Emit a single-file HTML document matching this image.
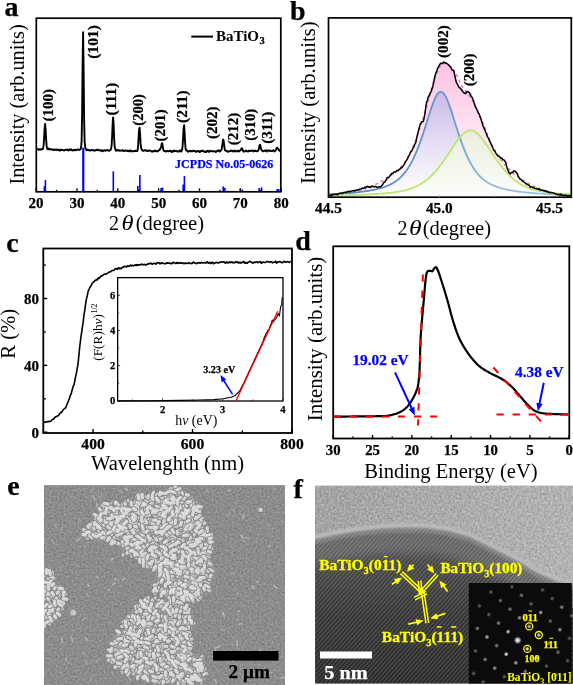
<!DOCTYPE html>
<html><head><meta charset="utf-8"><style>
html,body{margin:0;padding:0;background:#fff;overflow:hidden}
svg{display:block;font-family:"Liberation Serif", serif;will-change:transform}
</style></head><body>
<svg width="573" height="685" viewBox="0 0 573 685">
<rect width="573" height="685" fill="#fff"/>
<text x="4.6" y="16.3" font-size="28" font-weight="bold" fill="#000" text-anchor="start" stroke="#000" stroke-width="0.25" >a</text>
<text x="289.9" y="19.6" font-size="28" font-weight="bold" fill="#000" text-anchor="start" stroke="#000" stroke-width="0.25" >b</text>
<text x="6.3" y="252.2" font-size="28" font-weight="bold" fill="#000" text-anchor="start" stroke="#000" stroke-width="0.25" >c</text>
<text x="295.3" y="250.4" font-size="28" font-weight="bold" fill="#000" text-anchor="start" stroke="#000" stroke-width="0.25" >d</text>
<text x="7.3" y="495.2" font-size="28" font-weight="bold" fill="#000" text-anchor="start" stroke="#000" stroke-width="0.25" >e</text>
<text x="293.5" y="497.8" font-size="28" font-weight="bold" fill="#000" text-anchor="start" stroke="#000" stroke-width="0.25" >f</text>
<line x1="44.39" y1="186" x2="44.39" y2="191.8" stroke="#0000ff" stroke-width="1.6" />
<line x1="45.41" y1="180.1" x2="45.41" y2="191.8" stroke="#0000ff" stroke-width="1.6" />
<line x1="83.28" y1="147.7" x2="83.28" y2="191.8" stroke="#0000ff" stroke-width="2.2" />
<line x1="113.31" y1="171.3" x2="113.31" y2="191.8" stroke="#0000ff" stroke-width="1.6" />
<line x1="137.82" y1="186" x2="137.82" y2="191.8" stroke="#0000ff" stroke-width="1.6" />
<line x1="139.86" y1="175.1" x2="139.86" y2="191.8" stroke="#0000ff" stroke-width="1.6" />
<line x1="161.1" y1="187.9" x2="161.1" y2="191.8" stroke="#0000ff" stroke-width="1.6" />
<line x1="162.53" y1="187.5" x2="162.53" y2="191.8" stroke="#0000ff" stroke-width="1.6" />
<line x1="183.16" y1="184.6" x2="183.16" y2="191.8" stroke="#0000ff" stroke-width="1.6" />
<line x1="184.39" y1="176.1" x2="184.39" y2="191.8" stroke="#0000ff" stroke-width="1.6" />
<line x1="223.19" y1="186.4" x2="223.19" y2="191.8" stroke="#0000ff" stroke-width="1.6" />
<line x1="224.83" y1="187.7" x2="224.83" y2="191.8" stroke="#0000ff" stroke-width="1.6" />
<line x1="240.35" y1="188.5" x2="240.35" y2="191.8" stroke="#0000ff" stroke-width="1.6" />
<line x1="242.39" y1="189.5" x2="242.39" y2="191.8" stroke="#0000ff" stroke-width="1.6" />
<line x1="259.14" y1="188" x2="259.14" y2="191.8" stroke="#0000ff" stroke-width="1.6" />
<line x1="261.59" y1="187.3" x2="261.59" y2="191.8" stroke="#0000ff" stroke-width="1.6" />
<line x1="277.12" y1="189" x2="277.12" y2="191.8" stroke="#0000ff" stroke-width="1.6" />
<line x1="278.75" y1="189" x2="278.75" y2="191.8" stroke="#0000ff" stroke-width="1.6" />
<path d="M37.1,149.06 L37.6,149.03 L38.1,149.19 L38.6,149.89 L39.1,149.72 L39.6,149.12 L40.1,149.4 L40.6,149.68 L41.1,149.54 L41.6,149.11 L42.1,148.99 L42.6,149.28 L43.1,148.15 L43.6,145.12 L44.1,138.34 L44.6,128.69 L45.1,123.86 L45.6,129.5 L46.1,139.08 L46.6,145.63 L47.1,148.61 L47.6,149.17 L48.1,148.57 L48.6,148.55 L49.1,149.35 L49.6,149.59 L50.1,149.18 L50.6,149.03 L51.1,149.22 L51.6,149.14 L52.1,149.77 L52.6,149.79 L53.1,149.47 L53.6,149.99 L54.1,149.84 L54.6,149.55 L55.1,149.77 L55.6,149.84 L56.1,149.45 L56.6,149.46 L57.1,150.24 L57.6,149.77 L58.1,149.63 L58.6,150.14 L59.1,149.69 L59.6,150.27 L60.1,150.7 L60.6,149.75 L61.1,149.55 L61.6,150.09 L62.1,150.02 L62.6,150.06 L63.1,150.1 L63.6,150.11 L64.1,150.57 L64.6,150.17 L65.1,149.81 L65.6,149.88 L66.1,149.86 L66.6,149.65 L67.1,149.45 L67.6,149.75 L68.1,150.2 L68.6,150.61 L69.1,149.95 L69.6,149.37 L70.1,149.97 L70.6,149.61 L71.1,149.28 L71.6,149.85 L72.1,150.37 L72.6,150.61 L73.1,150.13 L73.6,149.81 L74.1,149.83 L74.6,150.39 L75.1,150.33 L75.6,149.77 L76.1,149.99 L76.6,150.02 L77.1,149.83 L77.6,149.49 L78.1,149.48 L78.6,149.61 L79.1,149.85 L79.6,150.01 L80.1,149.39 L80.6,148.95 L81.1,147.55 L81.6,141.04 L82.1,115.16 L82.6,63.36 L83.1,32.16 L83.6,67.85 L84.1,118.04 L84.6,140.87 L85.1,147.03 L85.6,148.54 L86.1,149.12 L86.6,150.32 L87.1,150.2 L87.6,149.47 L88.1,149.88 L88.6,150.28 L89.1,150.23 L89.6,150.07 L90.1,150.37 L90.6,150.62 L91.1,150.13 L91.6,149.97 L92.1,150.32 L92.6,150.04 L93.1,150.13 L93.6,150.21 L94.1,150.44 L94.6,150.77 L95.1,150.52 L95.6,150.29 L96.1,150.24 L96.6,149.83 L97.1,149.54 L97.6,150.26 L98.1,149.97 L98.6,150.13 L99.1,150.25 L99.6,150.23 L100.1,150.51 L100.6,150.53 L101.1,150.82 L101.6,150.13 L102.1,150.47 L102.6,151.37 L103.1,150.98 L103.6,150.46 L104.1,150.44 L104.6,150.23 L105.1,150.6 L105.6,150.73 L106.1,150.38 L106.6,150.3 L107.1,150.12 L107.6,149.96 L108.1,150.5 L108.6,150.81 L109.1,150.68 L109.6,150.67 L110.1,150.06 L110.6,149.71 L111.1,148.81 L111.6,145.48 L112.1,136.97 L112.6,124.45 L113.1,117.38 L113.6,123.9 L114.1,137.25 L114.6,145.92 L115.1,148.58 L115.6,149.85 L116.1,150.85 L116.6,150.43 L117.1,150.02 L117.6,150.32 L118.1,149.89 L118.6,150.33 L119.1,150.88 L119.6,150.7 L120.1,150.5 L120.6,150.63 L121.1,150.71 L121.6,150.54 L122.1,150.38 L122.6,150.07 L123.1,150.81 L123.6,151.03 L124.1,150.72 L124.6,150.87 L125.1,150.66 L125.6,150.52 L126.1,150.85 L126.6,150.92 L127.1,150.69 L127.6,150.79 L128.1,151.19 L128.6,151.39 L129.1,151.16 L129.6,150.79 L130.1,150.26 L130.6,150.72 L131.1,151.43 L131.6,151.1 L132.1,150.97 L132.6,151.25 L133.1,151.33 L133.6,151.36 L134.1,150.97 L134.6,151.13 L135.1,150.87 L135.6,150.64 L136.1,151.11 L136.6,151.03 L137.1,151.18 L137.6,150.33 L138.1,146 L138.6,137.66 L139.1,129.57 L139.6,127.72 L140.1,134.5 L140.6,143.67 L141.1,148.15 L141.6,149.02 L142.1,150.05 L142.6,150.83 L143.1,150.75 L143.6,150.8 L144.1,150.65 L144.6,150.22 L145.1,150.45 L145.6,150.63 L146.1,150.2 L146.6,150.66 L147.1,151.14 L147.6,151.12 L148.1,150.85 L148.6,150.54 L149.1,150.55 L149.6,150.49 L150.1,150.85 L150.6,150.89 L151.1,150.94 L151.6,151.28 L152.1,151.78 L152.6,151.26 L153.1,150.92 L153.6,151.32 L154.1,151.05 L154.6,150.64 L155.1,150.51 L155.6,151.16 L156.1,151.28 L156.6,151.07 L157.1,151.01 L157.6,151.32 L158.1,151.39 L158.6,150.37 L159.1,150.14 L159.6,150.11 L160.1,148.97 L160.6,148.19 L161.1,147.04 L161.6,144.4 L162.1,143.19 L162.6,145.34 L163.1,148.83 L163.6,150.72 L164.1,150.93 L164.6,151.01 L165.1,151.05 L165.6,151.33 L166.1,151.5 L166.6,151.34 L167.1,150.87 L167.6,150.96 L168.1,151.08 L168.6,151.26 L169.1,151.08 L169.6,150.72 L170.1,151.1 L170.6,150.75 L171.1,151.27 L171.6,152.1 L172.1,151.45 L172.6,151.24 L173.1,151.5 L173.6,150.48 L174.1,150.44 L174.6,151.21 L175.1,151.16 L175.6,150.85 L176.1,150.74 L176.6,151 L177.1,151.44 L177.6,151.58 L178.1,151.21 L178.6,151.56 L179.1,151.37 L179.6,150.77 L180.1,150.35 L180.6,150.88 L181.1,151.61 L181.6,151.14 L182.1,149.98 L182.6,146.13 L183.1,138 L183.6,128.13 L184.1,125.13 L184.6,132.66 L185.1,142.86 L185.6,148.77 L186.1,150.38 L186.6,150.58 L187.1,150.57 L187.6,151.3 L188.1,151.7 L188.6,151.28 L189.1,151.05 L189.6,150.72 L190.1,150.82 L190.6,151.43 L191.1,151.34 L191.6,151.02 L192.1,151.08 L192.6,151.19 L193.1,150.78 L193.6,150.69 L194.1,150.91 L194.6,151.25 L195.1,151.28 L195.6,151.2 L196.1,151.89 L196.6,151.62 L197.1,150.99 L197.6,151.14 L198.1,151.33 L198.6,150.97 L199.1,151.12 L199.6,152.02 L200.1,151.81 L200.6,151.14 L201.1,150.91 L201.6,151.06 L202.1,151 L202.6,150.57 L203.1,151.33 L203.6,151.39 L204.1,151.33 L204.6,152.06 L205.1,151.81 L205.6,151.52 L206.1,152.02 L206.6,151.8 L207.1,151.03 L207.6,150.68 L208.1,150.87 L208.6,151.72 L209.1,151.99 L209.6,151.27 L210.1,150.72 L210.6,150.85 L211.1,151.19 L211.6,151.28 L212.1,151.25 L212.6,151.4 L213.1,151.25 L213.6,151.14 L214.1,151.29 L214.6,151.27 L215.1,151.36 L215.6,151.94 L216.1,151.96 L216.6,151.41 L217.1,150.72 L217.6,150.81 L218.1,150.72 L218.6,150.17 L219.1,150.99 L219.6,151.6 L220.1,151.26 L220.6,150.46 L221.1,150.11 L221.6,149.35 L222.1,146.78 L222.6,143 L223.1,139.54 L223.6,140.3 L224.1,144.58 L224.6,148.48 L225.1,150.4 L225.6,150.54 L226.1,150.75 L226.6,150.79 L227.1,151.12 L227.6,151.8 L228.1,151.81 L228.6,151.35 L229.1,151.19 L229.6,151.3 L230.1,151.03 L230.6,150.97 L231.1,150.7 L231.6,150.37 L232.1,151 L232.6,151.37 L233.1,151.2 L233.6,151.56 L234.1,150.97 L234.6,150.43 L235.1,151.01 L235.6,151.36 L236.1,151.19 L236.6,151.38 L237.1,151.55 L237.6,150.87 L238.1,150.52 L238.6,151.11 L239.1,151.5 L239.6,150.59 L240.1,150.49 L240.6,150.34 L241.1,149.09 L241.6,148.18 L242.1,148.42 L242.6,149.44 L243.1,151.12 L243.6,151.74 L244.1,151.54 L244.6,151.42 L245.1,151 L245.6,150.7 L246.1,150.54 L246.6,151.34 L247.1,151.08 L247.6,151.11 L248.1,151.58 L248.6,150.95 L249.1,150.7 L249.6,150.87 L250.1,151 L250.6,150.98 L251.1,150.74 L251.6,150.81 L252.1,150.75 L252.6,150.45 L253.1,150.74 L253.6,151.39 L254.1,150.94 L254.6,150.67 L255.1,150.93 L255.6,150.63 L256.1,151.06 L256.6,151.19 L257.1,151.35 L257.6,151.2 L258.1,150.57 L258.6,149.77 L259.1,147.34 L259.6,145.1 L260.1,144.65 L260.6,146.63 L261.1,149.12 L261.6,150.04 L262.1,150.53 L262.6,151.01 L263.1,151.36 L263.6,151.09 L264.1,150.8 L264.6,150.57 L265.1,150.78 L265.6,150.98 L266.1,150.24 L266.6,150.55 L267.1,151.42 L267.6,150.98 L268.1,150.33 L268.6,150.56 L269.1,150.55 L269.6,150.88 L270.1,150.98 L270.6,150.64 L271.1,151.06 L271.6,151.05 L272.1,151 L272.6,150.93 L273.1,150.43 L273.6,150.16 L274.1,151.07 L274.6,151.49 L275.1,150.9 L275.6,150.58 L276.1,149.56 L276.6,148.1 L277.1,147.78 L277.6,148.21 L278.1,148.65 L278.6,149.7 L279.1,150.19 L279.6,150.84 L280.1,151.52" stroke="#000" stroke-width="1.9" fill="none" stroke-linejoin="round" />
<text transform="translate(52.7,121.4) rotate(-90)" x="0" y="0" font-size="14.5" font-weight="bold" fill="#000" text-anchor="start" stroke="#000" stroke-width="0.25" textLength="32.4" lengthAdjust="spacingAndGlyphs">(100)</text>
<text transform="translate(97.65,58.7) rotate(-90)" x="0" y="0" font-size="14.5" font-weight="bold" fill="#000" text-anchor="start" stroke="#000" stroke-width="0.25" textLength="33.6" lengthAdjust="spacingAndGlyphs">(101)</text>
<text transform="translate(115.75,115.4) rotate(-90)" x="0" y="0" font-size="14.5" font-weight="bold" fill="#000" text-anchor="start" stroke="#000" stroke-width="0.25" textLength="32.8" lengthAdjust="spacingAndGlyphs">(111)</text>
<text transform="translate(142.75,125.7) rotate(-90)" x="0" y="0" font-size="14.5" font-weight="bold" fill="#000" text-anchor="start" stroke="#000" stroke-width="0.25" textLength="31.6" lengthAdjust="spacingAndGlyphs">(200)</text>
<text transform="translate(164.8,141.4) rotate(-90)" x="0" y="0" font-size="14.5" font-weight="bold" fill="#000" text-anchor="start" stroke="#000" stroke-width="0.25" textLength="32" lengthAdjust="spacingAndGlyphs">(201)</text>
<text transform="translate(187.25,123) rotate(-90)" x="0" y="0" font-size="14.5" font-weight="bold" fill="#000" text-anchor="start" stroke="#000" stroke-width="0.25" textLength="32.7" lengthAdjust="spacingAndGlyphs">(211)</text>
<text transform="translate(216.85,139.1) rotate(-90)" x="0" y="0" font-size="14.5" font-weight="bold" fill="#000" text-anchor="start" stroke="#000" stroke-width="0.25" textLength="32.7" lengthAdjust="spacingAndGlyphs">(202)</text>
<text transform="translate(237.6,145.3) rotate(-90)" x="0" y="0" font-size="14.5" font-weight="bold" fill="#000" text-anchor="start" stroke="#000" stroke-width="0.25" textLength="32.6" lengthAdjust="spacingAndGlyphs">(212)</text>
<text transform="translate(254.85,140.7) rotate(-90)" x="0" y="0" font-size="14.5" font-weight="bold" fill="#000" text-anchor="start" stroke="#000" stroke-width="0.25" textLength="32" lengthAdjust="spacingAndGlyphs">(310)</text>
<text transform="translate(272.1,143.7) rotate(-90)" x="0" y="0" font-size="14.5" font-weight="bold" fill="#000" text-anchor="start" stroke="#000" stroke-width="0.25" textLength="32" lengthAdjust="spacingAndGlyphs">(311)</text>
<rect x="36.3" y="18.2" width="244.5" height="173.6" fill="none" stroke="#000" stroke-width="1.7"/>
<line x1="36.1" y1="191.8" x2="36.1" y2="188.3" stroke="#000" stroke-width="1.3" />
<line x1="56.53" y1="191.8" x2="56.53" y2="189.8" stroke="#000" stroke-width="1.3" />
<line x1="76.95" y1="191.8" x2="76.95" y2="188.3" stroke="#000" stroke-width="1.3" />
<line x1="97.38" y1="191.8" x2="97.38" y2="189.8" stroke="#000" stroke-width="1.3" />
<line x1="117.8" y1="191.8" x2="117.8" y2="188.3" stroke="#000" stroke-width="1.3" />
<line x1="138.22" y1="191.8" x2="138.22" y2="189.8" stroke="#000" stroke-width="1.3" />
<line x1="158.65" y1="191.8" x2="158.65" y2="188.3" stroke="#000" stroke-width="1.3" />
<line x1="179.07" y1="191.8" x2="179.07" y2="189.8" stroke="#000" stroke-width="1.3" />
<line x1="199.5" y1="191.8" x2="199.5" y2="188.3" stroke="#000" stroke-width="1.3" />
<line x1="219.92" y1="191.8" x2="219.92" y2="189.8" stroke="#000" stroke-width="1.3" />
<line x1="240.35" y1="191.8" x2="240.35" y2="188.3" stroke="#000" stroke-width="1.3" />
<line x1="260.78" y1="191.8" x2="260.78" y2="189.8" stroke="#000" stroke-width="1.3" />
<line x1="281.2" y1="191.8" x2="281.2" y2="188.3" stroke="#000" stroke-width="1.3" />
<text x="36.1" y="208.3" font-size="15" font-weight="bold" fill="#000" text-anchor="middle" stroke="#000" stroke-width="0.25" textLength="15" lengthAdjust="spacingAndGlyphs" >20</text>
<text x="76.95" y="208.3" font-size="15" font-weight="bold" fill="#000" text-anchor="middle" stroke="#000" stroke-width="0.25" textLength="15" lengthAdjust="spacingAndGlyphs" >30</text>
<text x="117.8" y="208.3" font-size="15" font-weight="bold" fill="#000" text-anchor="middle" stroke="#000" stroke-width="0.25" textLength="15" lengthAdjust="spacingAndGlyphs" >40</text>
<text x="158.65" y="208.3" font-size="15" font-weight="bold" fill="#000" text-anchor="middle" stroke="#000" stroke-width="0.25" textLength="15" lengthAdjust="spacingAndGlyphs" >50</text>
<text x="199.5" y="208.3" font-size="15" font-weight="bold" fill="#000" text-anchor="middle" stroke="#000" stroke-width="0.25" textLength="15" lengthAdjust="spacingAndGlyphs" >60</text>
<text x="240.35" y="208.3" font-size="15" font-weight="bold" fill="#000" text-anchor="middle" stroke="#000" stroke-width="0.25" textLength="15" lengthAdjust="spacingAndGlyphs" >70</text>
<text x="281.2" y="208.3" font-size="15" font-weight="bold" fill="#000" text-anchor="middle" stroke="#000" stroke-width="0.25" textLength="15" lengthAdjust="spacingAndGlyphs" >80</text>
<line x1="191.3" y1="36.6" x2="213" y2="36.6" stroke="#000" stroke-width="2" />
<text x="216" y="40.6" font-size="15" font-weight="bold" textLength="43" lengthAdjust="spacingAndGlyphs">BaTiO</text>
<text x="259.6" y="43.6" font-size="10.5" font-weight="bold" fill="#000" text-anchor="start" stroke="#000" stroke-width="0.25" >3</text>
<text x="175.1" y="168.2" font-size="12" font-weight="bold" fill="#0000ff" text-anchor="start" stroke="#0000ff" stroke-width="0.25" textLength="98.3" lengthAdjust="spacingAndGlyphs" >JCPDS No.05-0626</text>
<text x="109.1" y="230.3" font-size="20">2</text>
<text x="121.6" y="230.3" font-size="20" font-style="italic" textLength="12" lengthAdjust="spacingAndGlyphs">θ</text>
<text x="135.7" y="230.3" font-size="20" textLength="68.4" lengthAdjust="spacingAndGlyphs">(degree)</text>
<text transform="translate(23.6,184.6) rotate(-90)" x="0" y="0" font-size="21" font-weight="normal" fill="#000" text-anchor="start" textLength="160.3" lengthAdjust="spacingAndGlyphs">Intensity (arb.units)</text>
<defs><linearGradient id="gpink" x1="0" y1="0" x2="0" y2="1"><stop offset="0" stop-color="#fbc2e3"/><stop offset="0.55" stop-color="#fde6f2"/><stop offset="1" stop-color="#fff"/></linearGradient><linearGradient id="gblue" x1="0" y1="0" x2="0" y2="1"><stop offset="0" stop-color="#c8bae8"/><stop offset="0.6" stop-color="#ebe6f7"/><stop offset="1" stop-color="#fff"/></linearGradient><linearGradient id="ggreen" x1="0" y1="0" x2="0" y2="1"><stop offset="0" stop-color="#e9eddc"/><stop offset="1" stop-color="#fdfefb"/></linearGradient><linearGradient id="gbline" x1="0" y1="0" x2="1" y2="0"><stop offset="0" stop-color="#5a84c8"/><stop offset="0.5" stop-color="#6a98cc"/><stop offset="0.65" stop-color="#8cbcdc"/><stop offset="1" stop-color="#9ccbe4"/></linearGradient></defs>
<path d="M329,196.9 L329,195.79 L329.5,195.35 L330,195.14 L330.5,194.86 L331,195.48 L331.5,195.83 L332,195.27 L332.5,194.75 L333,194.27 L333.5,194.29 L334,194.65 L334.5,194.62 L335,194.5 L335.5,194.14 L336,194.04 L336.5,194.21 L337,194.45 L337.5,194.82 L338,194.36 L338.5,193.6 L339,193.52 L339.5,193.45 L340,193.18 L340.5,193.22 L341,193.04 L341.5,193.11 L342,193.25 L342.5,193.06 L343,192.95 L343.5,192.61 L344,192.32 L344.5,192.35 L345,192.36 L345.5,192.39 L346,192.43 L346.5,191.94 L347,191.86 L347.5,191.78 L348,191.51 L348.5,191.68 L349,191.22 L349.5,191.23 L350,191.69 L350.5,191.53 L351,191.29 L351.5,191.14 L352,190.9 L352.5,190.82 L353,190.83 L353.5,190.81 L354,190.54 L354.5,190.47 L355,190.7 L355.5,190.49 L356,190.23 L356.5,190.28 L357,189.84 L357.5,189.68 L358,190.01 L358.5,189.81 L359,189.68 L359.5,189.27 L360,188.94 L360.5,189.09 L361,189.08 L361.5,188.8 L362,188.14 L362.5,188.05 L363,188.56 L363.5,188.52 L364,188.13 L364.5,187.34 L365,187.39 L365.5,187.62 L366,186.64 L366.5,186.68 L367,186.86 L367.5,186.38 L368,186.53 L368.5,187.12 L369,187.13 L369.5,186.82 L370,187.3 L370.5,187.58 L371,187.07 L371.5,186.57 L372,186.24 L372.5,186.09 L373,186.49 L373.5,186.74 L374,186.64 L374.5,186.78 L375,186.56 L375.5,186.31 L376,186.74 L376.5,186.97 L377,187.14 L377.5,187.19 L378,186.93 L378.5,187.01 L379,186.9 L379.5,186.43 L380,186.82 L380.5,187.07 L381,186.7 L381.5,185.86 L382,185.15 L382.5,184.8 L383,183.99 L383.5,182.85 L384,182.24 L384.5,182.28 L385,181.73 L385.5,180.68 L386,179.96 L386.5,179.73 L387,178.45 L387.5,177.62 L388,177.82 L388.5,177.4 L389,177.07 L389.5,176.58 L390,175.65 L390.5,174.88 L391,174.48 L391.5,173.79 L392,173.15 L392.5,173.15 L393,173.32 L393.5,172.77 L394,172.01 L394.5,171.87 L395,172 L395.5,171.74 L396,171.57 L396.5,171.14 L397,170.53 L397.5,170.52 L398,170.54 L398.5,170.61 L399,169.76 L399.5,168.98 L400,169.1 L400.5,168.78 L401,167.86 L401.5,167.76 L402,167.68 L402.5,166.9 L403,165.97 L403.5,165.38 L404,164.67 L404.5,163.9 L405,162.92 L405.5,161.61 L406,161.06 L406.5,160.28 L407,159.53 L407.5,158.85 L408,157.47 L408.5,156.41 L409,155.51 L409.5,154.66 L410,153.54 L410.5,152.15 L411,151.59 L411.5,151.29 L412,150.59 L412.5,149.2 L413,147.93 L413.5,147.46 L414,146.5 L414.5,144.92 L415,143.93 L415.5,143.1 L416,141.51 L416.5,139.11 L417,136.52 L417.5,134.54 L418,132.48 L418.5,130.3 L419,128.55 L419.5,126.86 L420,125.07 L420.5,123.74 L421,122.78 L421.5,122.09 L422,121.73 L422.5,121.8 L423,121.63 L423.5,120.43 L424,118.64 L424.5,116.17 L425,113.27 L425.5,109.48 L426,105.63 L426.5,102.85 L427,101.28 L427.5,99.93 L428,97.88 L428.5,96.62 L429,96.1 L429.5,94.88 L430,93.31 L430.5,92.68 L431,91.83 L431.5,90.49 L432,88.84 L432.5,87.45 L433,85.97 L433.5,83.39 L434,80.82 L434.5,77.89 L435,75.75 L435.5,74.35 L436,72.78 L436.5,71.65 L437,70.24 L437.5,68.53 L438,67.65 L438.5,66.85 L439,65.69 L439.5,64.88 L440,64.26 L440.5,63.36 L441,63.31 L441.5,63.56 L442,63.22 L442.5,63.45 L443,63.1 L443.5,62.19 L444,62.07 L444.5,62.38 L445,62.67 L445.5,63.19 L446,63.02 L446.5,63.29 L447,63.64 L447.5,63.89 L448,64.54 L448.5,64.75 L449,65.25 L449.5,65.79 L450,66.32 L450.5,66.71 L451,67.51 L451.5,68.96 L452,69.92 L452.5,70.2 L453,70.36 L453.5,70.51 L454,71.96 L454.5,74.16 L455,76.24 L455.5,78.73 L456,81.05 L456.5,82.68 L457,83.67 L457.5,84.39 L458,85.09 L458.5,86.62 L459,87.32 L459.5,87.26 L460,87.97 L460.5,88.77 L461,88.94 L461.5,89.34 L462,90.51 L462.5,91.3 L463,91.75 L463.5,92.66 L464,92.97 L464.5,93 L465,93.3 L465.5,93.74 L466,93.08 L466.5,91.87 L467,91.52 L467.5,91.45 L468,91.8 L468.5,92.31 L469,92.3 L469.5,92.85 L470,94.01 L470.5,94.6 L471,95.82 L471.5,96.79 L472,97.16 L472.5,98.28 L473,99.51 L473.5,100.66 L474,102.45 L474.5,104.07 L475,105.77 L475.5,107.02 L476,107.56 L476.5,108.63 L477,109.88 L477.5,110.79 L478,112.11 L478.5,113.23 L479,113.63 L479.5,115.03 L480,116.65 L480.5,117.85 L481,119.31 L481.5,120.87 L482,122.39 L482.5,124.08 L483,125.67 L483.5,126.87 L484,128.18 L484.5,129.01 L485,130.14 L485.5,131.69 L486,133.01 L486.5,133.95 L487,135.49 L487.5,137.02 L488,137.45 L488.5,138.11 L489,139.42 L489.5,140.88 L490,141.8 L490.5,142.86 L491,143.9 L491.5,145.05 L492,146.06 L492.5,146.93 L493,148.36 L493.5,150 L494,150.47 L494.5,150.64 L495,151.58 L495.5,152.75 L496,153.48 L496.5,153.91 L497,154.89 L497.5,155.39 L498,155.72 L498.5,156.32 L499,156.45 L499.5,156.56 L500,157.29 L500.5,157.96 L501,158.27 L501.5,158.04 L502,158.23 L502.5,159.14 L503,159.7 L503.5,159.83 L504,159.88 L504.5,160.53 L505,161.29 L505.5,161.91 L506,163.23 L506.5,165.46 L507,167.39 L507.5,168.97 L508,170.35 L508.5,171.62 L509,172.6 L509.5,172.91 L510,173.77 L510.5,173.91 L511,172.98 L511.5,172.53 L512,172.45 L512.5,172.47 L513,171.97 L513.5,170.97 L514,170.8 L514.5,171.09 L515,171.13 L515.5,171.62 L516,172.14 L516.5,172.71 L517,173.22 L517.5,174.21 L518,176.03 L518.5,177.01 L519,177.48 L519.5,178.11 L520,179.09 L520.5,179.33 L521,179.34 L521.5,180.17 L522,180.84 L522.5,181.06 L523,181.39 L523.5,181.84 L524,182.2 L524.5,182.62 L525,182.68 L525.5,183.07 L526,183.92 L526.5,184.02 L527,184.06 L527.5,184.77 L528,184.86 L528.5,185.01 L529,185.28 L529.5,185.78 L530,186.86 L530.5,187.32 L531,186.91 L531.5,186.81 L532,187.1 L532.5,187.15 L533,187.71 L533.5,187.55 L534,187.61 L534.5,188.11 L535,188.38 L535.5,188.61 L536,188.26 L536.5,188.45 L537,188.96 L537.5,189.06 L538,189.16 L538.5,189.17 L539,188.66 L539.5,189.16 L540,190.02 L540.5,189.97 L541,189.96 L541.5,190.32 L542,190.32 L542.5,190.03 L543,190.23 L543.5,190.84 L544,190.68 L544.5,190.81 L545,191.14 L545.5,190.7 L546,191.31 L546.5,191.7 L547,191.19 L547.5,191.26 L548,191.95 L548.5,192.46 L549,192.25 L549.5,192.18 L550,192.59 L550.5,192.45 L551,192.49 L551.5,192.76 L552,192.66 L552.5,192.66 L553,192.93 L553.5,193.18 L554,193.13 L554.5,193.13 L555,193.66 L555.5,193.93 L556,193.98 L556.5,194.33 L557,194.36 L557.5,194.73 L558,194.48 L558.5,194.21 L559,194.43 L559.5,194.79 L560,195.39 L560.5,194.53 L561,193.95 L561.5,194.69 L562,195.22 L562.5,195.33 L563,195.2 L563.5,195.21 L564,195.47 L564.5,195.42 L565,195.6 L565.5,195.13 L566,195.11 L566.5,195.49 L567,195.64 L567.5,195.92 L568,195.53 L568.5,195.75 L569,195.81 L569.5,195.55 L570,195.46 L570.5,195.74 L570.5,196.9Z" fill="url(#gpink)" stroke="none"/>
<path d="M329,196.9 L329,194.38 L329.5,194.36 L330,194.33 L330.5,194.31 L331,194.28 L331.5,194.26 L332,194.23 L332.5,194.2 L333,194.18 L333.5,194.15 L334,194.12 L334.5,194.09 L335,194.07 L335.5,194.04 L336,194.01 L336.5,193.98 L337,193.95 L337.5,193.92 L338,193.89 L338.5,193.86 L339,193.82 L339.5,193.79 L340,193.76 L340.5,193.73 L341,193.69 L341.5,193.66 L342,193.63 L342.5,193.59 L343,193.56 L343.5,193.52 L344,193.48 L344.5,193.45 L345,193.41 L345.5,193.37 L346,193.33 L346.5,193.29 L347,193.25 L347.5,193.21 L348,193.17 L348.5,193.13 L349,193.09 L349.5,193.05 L350,193 L350.5,192.96 L351,192.91 L351.5,192.87 L352,192.82 L352.5,192.78 L353,192.73 L353.5,192.68 L354,192.63 L354.5,192.58 L355,192.53 L355.5,192.48 L356,192.42 L356.5,192.37 L357,192.32 L357.5,192.26 L358,192.21 L358.5,192.15 L359,192.09 L359.5,192.03 L360,191.97 L360.5,191.91 L361,191.85 L361.5,191.79 L362,191.72 L362.5,191.66 L363,191.59 L363.5,191.52 L364,191.45 L364.5,191.38 L365,191.31 L365.5,191.24 L366,191.16 L366.5,191.09 L367,191.01 L367.5,190.93 L368,190.85 L368.5,190.77 L369,190.68 L369.5,190.6 L370,190.51 L370.5,190.42 L371,190.33 L371.5,190.24 L372,190.15 L372.5,190.05 L373,189.95 L373.5,189.85 L374,189.75 L374.5,189.64 L375,189.53 L375.5,189.42 L376,189.31 L376.5,189.2 L377,189.08 L377.5,188.96 L378,188.84 L378.5,188.71 L379,188.58 L379.5,188.45 L380,188.31 L380.5,188.17 L381,188.03 L381.5,187.88 L382,187.73 L382.5,187.58 L383,187.42 L383.5,187.25 L384,187.08 L384.5,186.91 L385,186.73 L385.5,186.55 L386,186.36 L386.5,186.17 L387,185.97 L387.5,185.77 L388,185.55 L388.5,185.34 L389,185.11 L389.5,184.88 L390,184.64 L390.5,184.4 L391,184.14 L391.5,183.88 L392,183.61 L392.5,183.33 L393,183.04 L393.5,182.74 L394,182.44 L394.5,182.12 L395,181.79 L395.5,181.45 L396,181.1 L396.5,180.74 L397,180.37 L397.5,179.98 L398,179.58 L398.5,179.17 L399,178.74 L399.5,178.3 L400,177.85 L400.5,177.38 L401,176.89 L401.5,176.39 L402,175.87 L402.5,175.34 L403,174.79 L403.5,174.21 L404,173.63 L404.5,173.02 L405,172.39 L405.5,171.74 L406,171.08 L406.5,170.39 L407,169.68 L407.5,168.95 L408,168.19 L408.5,167.42 L409,166.62 L409.5,165.79 L410,164.95 L410.5,164.08 L411,163.18 L411.5,162.26 L412,161.31 L412.5,160.34 L413,159.34 L413.5,158.32 L414,157.27 L414.5,156.19 L415,155.09 L415.5,153.96 L416,152.8 L416.5,151.62 L417,150.41 L417.5,149.17 L418,147.91 L418.5,146.62 L419,145.3 L419.5,143.96 L420,142.59 L420.5,141.2 L421,139.79 L421.5,138.35 L422,136.89 L422.5,135.41 L423,133.91 L423.5,132.4 L424,130.86 L424.5,129.31 L425,127.75 L425.5,126.17 L426,124.59 L426.5,123 L427,121.41 L427.5,119.82 L428,118.23 L428.5,116.64 L429,115.06 L429.5,113.5 L430,111.96 L430.5,110.43 L431,108.93 L431.5,107.46 L432,106.03 L432.5,104.64 L433,103.29 L433.5,101.99 L434,100.75 L434.5,99.57 L435,98.46 L435.5,97.42 L436,96.45 L436.5,95.56 L437,94.76 L437.5,94.05 L438,93.43 L438.5,92.9 L439,92.48 L439.5,92.15 L440,91.93 L440.5,91.82 L441,91.81 L441.5,91.9 L442,92.1 L442.5,92.41 L443,92.81 L443.5,93.31 L444,93.91 L444.5,94.61 L445,95.39 L445.5,96.26 L446,97.22 L446.5,98.24 L447,99.34 L447.5,100.51 L448,101.74 L448.5,103.03 L449,104.37 L449.5,105.75 L450,107.18 L450.5,108.64 L451,110.13 L451.5,111.65 L452,113.19 L452.5,114.75 L453,116.32 L453.5,117.91 L454,119.5 L454.5,121.09 L455,122.68 L455.5,124.27 L456,125.86 L456.5,127.43 L457,129 L457.5,130.55 L458,132.09 L458.5,133.61 L459,135.11 L459.5,136.6 L460,138.06 L460.5,139.5 L461,140.92 L461.5,142.32 L462,143.69 L462.5,145.04 L463,146.36 L463.5,147.65 L464,148.92 L464.5,150.16 L465,151.38 L465.5,152.57 L466,153.73 L466.5,154.87 L467,155.98 L467.5,157.06 L468,158.11 L468.5,159.14 L469,160.14 L469.5,161.12 L470,162.07 L470.5,163 L471,163.9 L471.5,164.78 L472,165.63 L472.5,166.45 L473,167.26 L473.5,168.04 L474,168.8 L474.5,169.53 L475,170.25 L475.5,170.94 L476,171.61 L476.5,172.26 L477,172.89 L477.5,173.51 L478,174.1 L478.5,174.67 L479,175.23 L479.5,175.77 L480,176.29 L480.5,176.79 L481,177.28 L481.5,177.76 L482,178.21 L482.5,178.66 L483,179.09 L483.5,179.5 L484,179.9 L484.5,180.29 L485,180.67 L485.5,181.03 L486,181.38 L486.5,181.72 L487,182.05 L487.5,182.37 L488,182.68 L488.5,182.98 L489,183.27 L489.5,183.55 L490,183.83 L490.5,184.09 L491,184.35 L491.5,184.59 L492,184.83 L492.5,185.07 L493,185.29 L493.5,185.51 L494,185.72 L494.5,185.93 L495,186.13 L495.5,186.33 L496,186.51 L496.5,186.7 L497,186.88 L497.5,187.05 L498,187.22 L498.5,187.38 L499,187.54 L499.5,187.7 L500,187.85 L500.5,188 L501,188.14 L501.5,188.28 L502,188.42 L502.5,188.55 L503,188.68 L503.5,188.81 L504,188.93 L504.5,189.06 L505,189.17 L505.5,189.29 L506,189.4 L506.5,189.51 L507,189.62 L507.5,189.73 L508,189.83 L508.5,189.93 L509,190.03 L509.5,190.13 L510,190.22 L510.5,190.31 L511,190.4 L511.5,190.49 L512,190.58 L512.5,190.67 L513,190.75 L513.5,190.83 L514,190.91 L514.5,190.99 L515,191.07 L515.5,191.15 L516,191.22 L516.5,191.29 L517,191.37 L517.5,191.44 L518,191.51 L518.5,191.57 L519,191.64 L519.5,191.71 L520,191.77 L520.5,191.84 L521,191.9 L521.5,191.96 L522,192.02 L522.5,192.08 L523,192.14 L523.5,192.19 L524,192.25 L524.5,192.31 L525,192.36 L525.5,192.41 L526,192.47 L526.5,192.52 L527,192.57 L527.5,192.62 L528,192.67 L528.5,192.72 L529,192.77 L529.5,192.81 L530,192.86 L530.5,192.91 L531,192.95 L531.5,192.99 L532,193.04 L532.5,193.08 L533,193.12 L533.5,193.16 L534,193.21 L534.5,193.25 L535,193.29 L535.5,193.33 L536,193.36 L536.5,193.4 L537,193.44 L537.5,193.48 L538,193.51 L538.5,193.55 L539,193.58 L539.5,193.62 L540,193.65 L540.5,193.69 L541,193.72 L541.5,193.75 L542,193.79 L542.5,193.82 L543,193.85 L543.5,193.88 L544,193.91 L544.5,193.94 L545,193.97 L545.5,194 L546,194.03 L546.5,194.06 L547,194.09 L547.5,194.12 L548,194.14 L548.5,194.17 L549,194.2 L549.5,194.22 L550,194.25 L550.5,194.28 L551,194.3 L551.5,194.33 L552,194.35 L552.5,194.38 L553,194.4 L553.5,194.42 L554,194.45 L554.5,194.47 L555,194.49 L555.5,194.52 L556,194.54 L556.5,194.56 L557,194.58 L557.5,194.6 L558,194.63 L558.5,194.65 L559,194.67 L559.5,194.69 L560,194.71 L560.5,194.73 L561,194.75 L561.5,194.77 L562,194.79 L562.5,194.81 L563,194.83 L563.5,194.85 L564,194.86 L564.5,194.88 L565,194.9 L565.5,194.92 L566,194.94 L566.5,194.95 L567,194.97 L567.5,194.99 L568,195 L568.5,195.02 L569,195.04 L569.5,195.05 L570,195.07 L570.5,195.09 L570.5,196.9Z" fill="url(#gblue)" stroke="none"/>
<path d="M329,196.9 L329,195.72 L329.5,195.71 L330,195.7 L330.5,195.69 L331,195.68 L331.5,195.67 L332,195.66 L332.5,195.65 L333,195.64 L333.5,195.62 L334,195.61 L334.5,195.6 L335,195.59 L335.5,195.58 L336,195.57 L336.5,195.56 L337,195.54 L337.5,195.53 L338,195.52 L338.5,195.51 L339,195.5 L339.5,195.48 L340,195.47 L340.5,195.46 L341,195.45 L341.5,195.43 L342,195.42 L342.5,195.41 L343,195.39 L343.5,195.38 L344,195.37 L344.5,195.35 L345,195.34 L345.5,195.32 L346,195.31 L346.5,195.29 L347,195.28 L347.5,195.27 L348,195.25 L348.5,195.23 L349,195.22 L349.5,195.2 L350,195.19 L350.5,195.17 L351,195.16 L351.5,195.14 L352,195.12 L352.5,195.11 L353,195.09 L353.5,195.07 L354,195.06 L354.5,195.04 L355,195.02 L355.5,195 L356,194.98 L356.5,194.97 L357,194.95 L357.5,194.93 L358,194.91 L358.5,194.89 L359,194.87 L359.5,194.85 L360,194.83 L360.5,194.81 L361,194.79 L361.5,194.77 L362,194.75 L362.5,194.73 L363,194.71 L363.5,194.68 L364,194.66 L364.5,194.64 L365,194.62 L365.5,194.59 L366,194.57 L366.5,194.55 L367,194.52 L367.5,194.5 L368,194.47 L368.5,194.45 L369,194.42 L369.5,194.4 L370,194.37 L370.5,194.34 L371,194.31 L371.5,194.29 L372,194.26 L372.5,194.23 L373,194.2 L373.5,194.17 L374,194.14 L374.5,194.11 L375,194.08 L375.5,194.05 L376,194.02 L376.5,193.99 L377,193.95 L377.5,193.92 L378,193.89 L378.5,193.85 L379,193.82 L379.5,193.78 L380,193.74 L380.5,193.71 L381,193.67 L381.5,193.63 L382,193.59 L382.5,193.55 L383,193.51 L383.5,193.47 L384,193.42 L384.5,193.38 L385,193.34 L385.5,193.29 L386,193.25 L386.5,193.2 L387,193.15 L387.5,193.1 L388,193.05 L388.5,193 L389,192.94 L389.5,192.89 L390,192.84 L390.5,192.78 L391,192.72 L391.5,192.66 L392,192.6 L392.5,192.54 L393,192.47 L393.5,192.41 L394,192.34 L394.5,192.27 L395,192.2 L395.5,192.13 L396,192.06 L396.5,191.98 L397,191.9 L397.5,191.82 L398,191.74 L398.5,191.65 L399,191.57 L399.5,191.48 L400,191.38 L400.5,191.29 L401,191.19 L401.5,191.09 L402,190.99 L402.5,190.88 L403,190.77 L403.5,190.66 L404,190.54 L404.5,190.43 L405,190.3 L405.5,190.18 L406,190.05 L406.5,189.91 L407,189.78 L407.5,189.64 L408,189.49 L408.5,189.34 L409,189.19 L409.5,189.03 L410,188.86 L410.5,188.7 L411,188.52 L411.5,188.34 L412,188.16 L412.5,187.97 L413,187.78 L413.5,187.58 L414,187.37 L414.5,187.16 L415,186.95 L415.5,186.72 L416,186.49 L416.5,186.26 L417,186.02 L417.5,185.77 L418,185.51 L418.5,185.25 L419,184.98 L419.5,184.7 L420,184.41 L420.5,184.12 L421,183.82 L421.5,183.51 L422,183.2 L422.5,182.87 L423,182.54 L423.5,182.2 L424,181.85 L424.5,181.5 L425,181.13 L425.5,180.75 L426,180.37 L426.5,179.98 L427,179.58 L427.5,179.16 L428,178.74 L428.5,178.31 L429,177.88 L429.5,177.43 L430,176.97 L430.5,176.5 L431,176.02 L431.5,175.54 L432,175.04 L432.5,174.53 L433,174.02 L433.5,173.49 L434,172.96 L434.5,172.41 L435,171.86 L435.5,171.29 L436,170.72 L436.5,170.13 L437,169.54 L437.5,168.94 L438,168.33 L438.5,167.71 L439,167.08 L439.5,166.44 L440,165.79 L440.5,165.14 L441,164.47 L441.5,163.8 L442,163.12 L442.5,162.43 L443,161.74 L443.5,161.04 L444,160.33 L444.5,159.61 L445,158.89 L445.5,158.16 L446,157.43 L446.5,156.7 L447,155.95 L447.5,155.21 L448,154.46 L448.5,153.71 L449,152.95 L449.5,152.2 L450,151.44 L450.5,150.68 L451,149.93 L451.5,149.17 L452,148.42 L452.5,147.66 L453,146.91 L453.5,146.17 L454,145.43 L454.5,144.69 L455,143.96 L455.5,143.24 L456,142.53 L456.5,141.83 L457,141.14 L457.5,140.46 L458,139.79 L458.5,139.14 L459,138.5 L459.5,137.87 L460,137.27 L460.5,136.68 L461,136.12 L461.5,135.57 L462,135.04 L462.5,134.54 L463,134.07 L463.5,133.61 L464,133.19 L464.5,132.79 L465,132.42 L465.5,132.07 L466,131.76 L466.5,131.48 L467,131.23 L467.5,131.01 L468,130.83 L468.5,130.67 L469,130.55 L469.5,130.47 L470,130.42 L470.5,130.4 L471,130.42 L471.5,130.47 L472,130.55 L472.5,130.67 L473,130.83 L473.5,131.01 L474,131.23 L474.5,131.48 L475,131.76 L475.5,132.07 L476,132.42 L476.5,132.79 L477,133.19 L477.5,133.61 L478,134.07 L478.5,134.54 L479,135.04 L479.5,135.57 L480,136.12 L480.5,136.68 L481,137.27 L481.5,137.87 L482,138.5 L482.5,139.14 L483,139.79 L483.5,140.46 L484,141.14 L484.5,141.83 L485,142.53 L485.5,143.24 L486,143.96 L486.5,144.69 L487,145.43 L487.5,146.17 L488,146.91 L488.5,147.66 L489,148.42 L489.5,149.17 L490,149.93 L490.5,150.68 L491,151.44 L491.5,152.2 L492,152.95 L492.5,153.71 L493,154.46 L493.5,155.21 L494,155.95 L494.5,156.7 L495,157.43 L495.5,158.16 L496,158.89 L496.5,159.61 L497,160.33 L497.5,161.04 L498,161.74 L498.5,162.43 L499,163.12 L499.5,163.8 L500,164.47 L500.5,165.14 L501,165.79 L501.5,166.44 L502,167.08 L502.5,167.71 L503,168.33 L503.5,168.94 L504,169.54 L504.5,170.13 L505,170.72 L505.5,171.29 L506,171.86 L506.5,172.41 L507,172.96 L507.5,173.49 L508,174.02 L508.5,174.53 L509,175.04 L509.5,175.54 L510,176.02 L510.5,176.5 L511,176.97 L511.5,177.43 L512,177.88 L512.5,178.31 L513,178.74 L513.5,179.16 L514,179.58 L514.5,179.98 L515,180.37 L515.5,180.75 L516,181.13 L516.5,181.5 L517,181.85 L517.5,182.2 L518,182.54 L518.5,182.87 L519,183.2 L519.5,183.51 L520,183.82 L520.5,184.12 L521,184.41 L521.5,184.7 L522,184.98 L522.5,185.25 L523,185.51 L523.5,185.77 L524,186.02 L524.5,186.26 L525,186.49 L525.5,186.72 L526,186.95 L526.5,187.16 L527,187.37 L527.5,187.58 L528,187.78 L528.5,187.97 L529,188.16 L529.5,188.34 L530,188.52 L530.5,188.7 L531,188.86 L531.5,189.03 L532,189.19 L532.5,189.34 L533,189.49 L533.5,189.64 L534,189.78 L534.5,189.91 L535,190.05 L535.5,190.18 L536,190.3 L536.5,190.43 L537,190.54 L537.5,190.66 L538,190.77 L538.5,190.88 L539,190.99 L539.5,191.09 L540,191.19 L540.5,191.29 L541,191.38 L541.5,191.48 L542,191.57 L542.5,191.65 L543,191.74 L543.5,191.82 L544,191.9 L544.5,191.98 L545,192.06 L545.5,192.13 L546,192.2 L546.5,192.27 L547,192.34 L547.5,192.41 L548,192.47 L548.5,192.54 L549,192.6 L549.5,192.66 L550,192.72 L550.5,192.78 L551,192.84 L551.5,192.89 L552,192.94 L552.5,193 L553,193.05 L553.5,193.1 L554,193.15 L554.5,193.2 L555,193.25 L555.5,193.29 L556,193.34 L556.5,193.38 L557,193.42 L557.5,193.47 L558,193.51 L558.5,193.55 L559,193.59 L559.5,193.63 L560,193.67 L560.5,193.71 L561,193.74 L561.5,193.78 L562,193.82 L562.5,193.85 L563,193.89 L563.5,193.92 L564,193.95 L564.5,193.99 L565,194.02 L565.5,194.05 L566,194.08 L566.5,194.11 L567,194.14 L567.5,194.17 L568,194.2 L568.5,194.23 L569,194.26 L569.5,194.29 L570,194.31 L570.5,194.34 L570.5,196.9Z" fill="url(#ggreen)" stroke="none"/>
<path d="M329,195.8 L329.5,195.79 L330,195.78 L330.5,195.76 L331,195.75 L331.5,195.72 L332,195.7 L332.5,195.67 L333,195.63 L333.5,195.6 L334,195.56 L334.5,195.52 L335,195.47 L335.5,195.42 L336,195.37 L336.5,195.32 L337,195.26 L337.5,195.2 L338,195.13 L338.5,195.07 L339,195 L339.5,194.93 L340,194.85 L340.5,194.78 L341,194.7 L341.5,194.62 L342,194.53 L342.5,194.45 L343,194.36 L343.5,194.27 L344,194.18 L344.5,194.08 L345,193.99 L345.5,193.89 L346,193.79 L346.5,193.69 L347,193.59 L347.5,193.48 L348,193.37 L348.5,193.27 L349,193.16 L349.5,193.05 L350,192.93 L350.5,192.82 L351,192.71 L351.5,192.59 L352,192.47 L352.5,192.36 L353,192.24 L353.5,192.12 L354,192 L354.5,191.87 L355,191.75 L355.5,191.63 L356,191.5 L356.5,191.38 L357,191.26 L357.5,191.13 L358,191.01 L358.5,190.88 L359,190.75 L359.5,190.63 L360,190.5 L360.5,190.37 L361,190.24 L361.5,190.1 L362,189.96 L362.5,189.81 L363,189.66 L363.5,189.5 L364,189.34 L364.5,189.17 L365,189.01 L365.5,188.83 L366,188.65 L366.5,188.47 L367,188.28 L367.5,188.09 L368,187.9 L368.5,187.7 L369,187.5 L369.5,187.29 L370,187.08 L370.5,186.87 L371,186.65 L371.5,186.43 L372,186.2 L372.5,185.97 L373,185.74 L373.5,185.51 L374,185.27 L374.5,185.02 L375,184.78 L375.5,184.53 L376,184.27 L376.5,184.02 L377,183.76 L377.5,183.49 L378,183.23 L378.5,182.96 L379,182.68 L379.5,182.41 L380,182.13 L380.5,181.85 L381,181.56 L381.5,181.28 L382,180.99 L382.5,180.69 L383,180.4 L383.5,180.1 L384,179.8 L384.5,179.5 L385,179.19 L385.5,178.88 L386,178.57 L386.5,178.26 L387,177.94 L387.5,177.62 L388,177.3 L388.5,176.98 L389,176.66 L389.5,176.33 L390,176 L390.5,175.67 L391,175.33 L391.5,174.98 L392,174.63 L392.5,174.27 L393,173.9 L393.5,173.53 L394,173.14 L394.5,172.75 L395,172.35 L395.5,171.94 L396,171.52 L396.5,171.1 L397,170.66 L397.5,170.21 L398,169.75 L398.5,169.28 L399,168.79 L399.5,168.3 L400,167.79 L400.5,167.28 L401,166.75 L401.5,166.2 L402,165.64 L402.5,165.07 L403,164.49 L403.5,163.89 L404,163.27 L404.5,162.64 L405,162 L405.5,161.32 L406,160.6 L406.5,159.83 L407,159.02 L407.5,158.17 L408,157.27 L408.5,156.35 L409,155.39 L409.5,154.39 L410,153.37 L410.5,152.32 L411,151.24 L411.5,150.15 L412,149.03 L412.5,147.89 L413,146.73 L413.5,145.57 L414,144.39 L414.5,143.2 L415,142 L415.5,140.78 L416,139.5 L416.5,138.19 L417,136.83 L417.5,135.43 L418,134 L418.5,132.54 L419,131.04 L419.5,129.53 L420,127.98 L420.5,126.42 L421,124.85 L421.5,123.26 L422,121.65 L422.5,120.04 L423,118.43 L423.5,116.82 L424,115.21 L424.5,113.6 L425,112 L425.5,110.37 L426,108.68 L426.5,106.93 L427,105.13 L427.5,103.3 L428,101.44 L428.5,99.57 L429,97.69 L429.5,95.81 L430,93.94 L430.5,92.09 L431,90.27 L431.5,88.5 L432,86.77 L432.5,85.11 L433,83.51 L433.5,81.99 L434,80.56 L434.5,79.23 L435,78 L435.5,76.81 L436,75.59 L436.5,74.35 L437,73.1 L437.5,71.87 L438,70.67 L438.5,69.51 L439,68.41 L439.5,67.38 L440,66.44 L440.5,65.61 L441,64.89 L441.5,64.3 L442,63.87 L442.5,63.59 L443,63.5 L443.5,63.52 L444,63.58 L444.5,63.67 L445,63.8 L445.5,63.96 L446,64.15 L446.5,64.37 L447,64.61 L447.5,64.88 L448,65.17 L448.5,65.47 L449,65.8 L449.5,66.14 L450,66.49 L450.5,66.86 L451,67.23 L451.5,67.61 L452,68 L452.5,68.44 L453,68.99 L453.5,69.63 L454,70.36 L454.5,71.16 L455,72.03 L455.5,72.96 L456,73.94 L456.5,74.96 L457,76 L457.5,77.06 L458,78.14 L458.5,79.22 L459,80.28 L459.5,81.34 L460,82.36 L460.5,83.35 L461,84.29 L461.5,85.18 L462,86 L462.5,86.77 L463,87.52 L463.5,88.24 L464,88.93 L464.5,89.61 L465,90.28 L465.5,90.94 L466,91.58 L466.5,92.23 L467,92.87 L467.5,93.51 L468,94.16 L468.5,94.83 L469,95.5 L469.5,96.19 L470,96.9 L470.5,97.63 L471,98.39 L471.5,99.18 L472,100 L472.5,100.86 L473,101.75 L473.5,102.67 L474,103.62 L474.5,104.59 L475,105.59 L475.5,106.62 L476,107.66 L476.5,108.72 L477,109.8 L477.5,110.89 L478,112 L478.5,113.11 L479,114.23 L479.5,115.36 L480,116.49 L480.5,117.62 L481,118.75 L481.5,119.88 L482,121 L482.5,122.14 L483,123.32 L483.5,124.52 L484,125.76 L484.5,127.01 L485,128.28 L485.5,129.57 L486,130.86 L486.5,132.15 L487,133.43 L487.5,134.71 L488,135.98 L488.5,137.22 L489,138.44 L489.5,139.64 L490,140.8 L490.5,141.92 L491,143 L491.5,144.02 L492,145 L492.5,145.94 L493,146.87 L493.5,147.79 L494,148.69 L494.5,149.59 L495,150.47 L495.5,151.34 L496,152.19 L496.5,153.04 L497,153.86 L497.5,154.68 L498,155.48 L498.5,156.26 L499,157.03 L499.5,157.79 L500,158.53 L500.5,159.25 L501,159.96 L501.5,160.65 L502,161.32 L502.5,161.98 L503,162.62 L503.5,163.24 L504,163.85 L504.5,164.43 L505,165 L505.5,165.55 L506,166.1 L506.5,166.63 L507,167.15 L507.5,167.66 L508,168.17 L508.5,168.66 L509,169.15 L509.5,169.63 L510,170.09 L510.5,170.56 L511,171.01 L511.5,171.45 L512,171.89 L512.5,172.32 L513,172.74 L513.5,173.15 L514,173.56 L514.5,173.96 L515,174.36 L515.5,174.75 L516,175.13 L516.5,175.51 L517,175.88 L517.5,176.24 L518,176.6 L518.5,176.96 L519,177.31 L519.5,177.66 L520,178 L520.5,178.34 L521,178.68 L521.5,179.01 L522,179.35 L522.5,179.68 L523,180.01 L523.5,180.34 L524,180.67 L524.5,180.99 L525,181.32 L525.5,181.64 L526,181.95 L526.5,182.27 L527,182.58 L527.5,182.88 L528,183.18 L528.5,183.48 L529,183.78 L529.5,184.07 L530,184.36 L530.5,184.64 L531,184.92 L531.5,185.2 L532,185.47 L532.5,185.73 L533,185.99 L533.5,186.24 L534,186.49 L534.5,186.74 L535,186.97 L535.5,187.2 L536,187.43 L536.5,187.65 L537,187.86 L537.5,188.07 L538,188.27 L538.5,188.46 L539,188.65 L539.5,188.83 L540,189 L540.5,189.17 L541,189.34 L541.5,189.5 L542,189.67 L542.5,189.84 L543,190 L543.5,190.17 L544,190.33 L544.5,190.5 L545,190.66 L545.5,190.82 L546,190.98 L546.5,191.14 L547,191.3 L547.5,191.46 L548,191.61 L548.5,191.77 L549,191.92 L549.5,192.07 L550,192.22 L550.5,192.37 L551,192.52 L551.5,192.66 L552,192.81 L552.5,192.95 L553,193.09 L553.5,193.22 L554,193.36 L554.5,193.49 L555,193.62 L555.5,193.75 L556,193.88 L556.5,194 L557,194.12 L557.5,194.24 L558,194.36 L558.5,194.47 L559,194.58 L559.5,194.69 L560,194.79 L560.5,194.89 L561,194.99 L561.5,195.09 L562,195.18 L562.5,195.27 L563,195.35 L563.5,195.43 L564,195.51 L564.5,195.59 L565,195.66 L565.5,195.72 L566,195.79 L566.5,195.85 L567,195.9 L567.5,195.96 L568,196 L568.5,196.05 L569,196.09 L569.5,196.12 L570,196.15 L570.5,196.18" stroke="#e878c0" stroke-width="1.6" fill="none" stroke-linejoin="round" stroke-dasharray="3 3"/>
<path d="M329,194.38 L329.5,194.36 L330,194.33 L330.5,194.31 L331,194.28 L331.5,194.26 L332,194.23 L332.5,194.2 L333,194.18 L333.5,194.15 L334,194.12 L334.5,194.09 L335,194.07 L335.5,194.04 L336,194.01 L336.5,193.98 L337,193.95 L337.5,193.92 L338,193.89 L338.5,193.86 L339,193.82 L339.5,193.79 L340,193.76 L340.5,193.73 L341,193.69 L341.5,193.66 L342,193.63 L342.5,193.59 L343,193.56 L343.5,193.52 L344,193.48 L344.5,193.45 L345,193.41 L345.5,193.37 L346,193.33 L346.5,193.29 L347,193.25 L347.5,193.21 L348,193.17 L348.5,193.13 L349,193.09 L349.5,193.05 L350,193 L350.5,192.96 L351,192.91 L351.5,192.87 L352,192.82 L352.5,192.78 L353,192.73 L353.5,192.68 L354,192.63 L354.5,192.58 L355,192.53 L355.5,192.48 L356,192.42 L356.5,192.37 L357,192.32 L357.5,192.26 L358,192.21 L358.5,192.15 L359,192.09 L359.5,192.03 L360,191.97 L360.5,191.91 L361,191.85 L361.5,191.79 L362,191.72 L362.5,191.66 L363,191.59 L363.5,191.52 L364,191.45 L364.5,191.38 L365,191.31 L365.5,191.24 L366,191.16 L366.5,191.09 L367,191.01 L367.5,190.93 L368,190.85 L368.5,190.77 L369,190.68 L369.5,190.6 L370,190.51 L370.5,190.42 L371,190.33 L371.5,190.24 L372,190.15 L372.5,190.05 L373,189.95 L373.5,189.85 L374,189.75 L374.5,189.64 L375,189.53 L375.5,189.42 L376,189.31 L376.5,189.2 L377,189.08 L377.5,188.96 L378,188.84 L378.5,188.71 L379,188.58 L379.5,188.45 L380,188.31 L380.5,188.17 L381,188.03 L381.5,187.88 L382,187.73 L382.5,187.58 L383,187.42 L383.5,187.25 L384,187.08 L384.5,186.91 L385,186.73 L385.5,186.55 L386,186.36 L386.5,186.17 L387,185.97 L387.5,185.77 L388,185.55 L388.5,185.34 L389,185.11 L389.5,184.88 L390,184.64 L390.5,184.4 L391,184.14 L391.5,183.88 L392,183.61 L392.5,183.33 L393,183.04 L393.5,182.74 L394,182.44 L394.5,182.12 L395,181.79 L395.5,181.45 L396,181.1 L396.5,180.74 L397,180.37 L397.5,179.98 L398,179.58 L398.5,179.17 L399,178.74 L399.5,178.3 L400,177.85 L400.5,177.38 L401,176.89 L401.5,176.39 L402,175.87 L402.5,175.34 L403,174.79 L403.5,174.21 L404,173.63 L404.5,173.02 L405,172.39 L405.5,171.74 L406,171.08 L406.5,170.39 L407,169.68 L407.5,168.95 L408,168.19 L408.5,167.42 L409,166.62 L409.5,165.79 L410,164.95 L410.5,164.08 L411,163.18 L411.5,162.26 L412,161.31 L412.5,160.34 L413,159.34 L413.5,158.32 L414,157.27 L414.5,156.19 L415,155.09 L415.5,153.96 L416,152.8 L416.5,151.62 L417,150.41 L417.5,149.17 L418,147.91 L418.5,146.62 L419,145.3 L419.5,143.96 L420,142.59 L420.5,141.2 L421,139.79 L421.5,138.35 L422,136.89 L422.5,135.41 L423,133.91 L423.5,132.4 L424,130.86 L424.5,129.31 L425,127.75 L425.5,126.17 L426,124.59 L426.5,123 L427,121.41 L427.5,119.82 L428,118.23 L428.5,116.64 L429,115.06 L429.5,113.5 L430,111.96 L430.5,110.43 L431,108.93 L431.5,107.46 L432,106.03 L432.5,104.64 L433,103.29 L433.5,101.99 L434,100.75 L434.5,99.57 L435,98.46 L435.5,97.42 L436,96.45 L436.5,95.56 L437,94.76 L437.5,94.05 L438,93.43 L438.5,92.9 L439,92.48 L439.5,92.15 L440,91.93 L440.5,91.82 L441,91.81 L441.5,91.9 L442,92.1 L442.5,92.41 L443,92.81 L443.5,93.31 L444,93.91 L444.5,94.61 L445,95.39 L445.5,96.26 L446,97.22 L446.5,98.24 L447,99.34 L447.5,100.51 L448,101.74 L448.5,103.03 L449,104.37 L449.5,105.75 L450,107.18 L450.5,108.64 L451,110.13 L451.5,111.65 L452,113.19 L452.5,114.75 L453,116.32 L453.5,117.91 L454,119.5 L454.5,121.09 L455,122.68 L455.5,124.27 L456,125.86 L456.5,127.43 L457,129 L457.5,130.55 L458,132.09 L458.5,133.61 L459,135.11 L459.5,136.6 L460,138.06 L460.5,139.5 L461,140.92 L461.5,142.32 L462,143.69 L462.5,145.04 L463,146.36 L463.5,147.65 L464,148.92 L464.5,150.16 L465,151.38 L465.5,152.57 L466,153.73 L466.5,154.87 L467,155.98 L467.5,157.06 L468,158.11 L468.5,159.14 L469,160.14 L469.5,161.12 L470,162.07 L470.5,163 L471,163.9 L471.5,164.78 L472,165.63 L472.5,166.45 L473,167.26 L473.5,168.04 L474,168.8 L474.5,169.53 L475,170.25 L475.5,170.94 L476,171.61 L476.5,172.26 L477,172.89 L477.5,173.51 L478,174.1 L478.5,174.67 L479,175.23 L479.5,175.77 L480,176.29 L480.5,176.79 L481,177.28 L481.5,177.76 L482,178.21 L482.5,178.66 L483,179.09 L483.5,179.5 L484,179.9 L484.5,180.29 L485,180.67 L485.5,181.03 L486,181.38 L486.5,181.72 L487,182.05 L487.5,182.37 L488,182.68 L488.5,182.98 L489,183.27 L489.5,183.55 L490,183.83 L490.5,184.09 L491,184.35 L491.5,184.59 L492,184.83 L492.5,185.07 L493,185.29 L493.5,185.51 L494,185.72 L494.5,185.93 L495,186.13 L495.5,186.33 L496,186.51 L496.5,186.7 L497,186.88 L497.5,187.05 L498,187.22 L498.5,187.38 L499,187.54 L499.5,187.7 L500,187.85 L500.5,188 L501,188.14 L501.5,188.28 L502,188.42 L502.5,188.55 L503,188.68 L503.5,188.81 L504,188.93 L504.5,189.06 L505,189.17 L505.5,189.29 L506,189.4 L506.5,189.51 L507,189.62 L507.5,189.73 L508,189.83 L508.5,189.93 L509,190.03 L509.5,190.13 L510,190.22 L510.5,190.31 L511,190.4 L511.5,190.49 L512,190.58 L512.5,190.67 L513,190.75 L513.5,190.83 L514,190.91 L514.5,190.99 L515,191.07 L515.5,191.15 L516,191.22 L516.5,191.29 L517,191.37 L517.5,191.44 L518,191.51 L518.5,191.57 L519,191.64 L519.5,191.71 L520,191.77 L520.5,191.84 L521,191.9 L521.5,191.96 L522,192.02 L522.5,192.08 L523,192.14 L523.5,192.19 L524,192.25 L524.5,192.31 L525,192.36 L525.5,192.41 L526,192.47 L526.5,192.52 L527,192.57 L527.5,192.62 L528,192.67 L528.5,192.72 L529,192.77 L529.5,192.81 L530,192.86 L530.5,192.91 L531,192.95 L531.5,192.99 L532,193.04 L532.5,193.08 L533,193.12 L533.5,193.16 L534,193.21 L534.5,193.25 L535,193.29 L535.5,193.33 L536,193.36 L536.5,193.4 L537,193.44 L537.5,193.48 L538,193.51 L538.5,193.55 L539,193.58 L539.5,193.62 L540,193.65 L540.5,193.69 L541,193.72 L541.5,193.75 L542,193.79 L542.5,193.82 L543,193.85 L543.5,193.88 L544,193.91 L544.5,193.94 L545,193.97 L545.5,194 L546,194.03 L546.5,194.06 L547,194.09 L547.5,194.12 L548,194.14 L548.5,194.17 L549,194.2 L549.5,194.22 L550,194.25 L550.5,194.28 L551,194.3 L551.5,194.33 L552,194.35 L552.5,194.38 L553,194.4 L553.5,194.42 L554,194.45 L554.5,194.47 L555,194.49 L555.5,194.52 L556,194.54 L556.5,194.56 L557,194.58 L557.5,194.6 L558,194.63 L558.5,194.65 L559,194.67 L559.5,194.69 L560,194.71 L560.5,194.73 L561,194.75 L561.5,194.77 L562,194.79 L562.5,194.81 L563,194.83 L563.5,194.85 L564,194.86 L564.5,194.88 L565,194.9 L565.5,194.92 L566,194.94 L566.5,194.95 L567,194.97 L567.5,194.99 L568,195 L568.5,195.02 L569,195.04 L569.5,195.05 L570,195.07 L570.5,195.09" stroke="url(#gbline)" stroke-width="1.8" fill="none" stroke-linejoin="round" />
<path d="M329,195.72 L329.5,195.71 L330,195.7 L330.5,195.69 L331,195.68 L331.5,195.67 L332,195.66 L332.5,195.65 L333,195.64 L333.5,195.62 L334,195.61 L334.5,195.6 L335,195.59 L335.5,195.58 L336,195.57 L336.5,195.56 L337,195.54 L337.5,195.53 L338,195.52 L338.5,195.51 L339,195.5 L339.5,195.48 L340,195.47 L340.5,195.46 L341,195.45 L341.5,195.43 L342,195.42 L342.5,195.41 L343,195.39 L343.5,195.38 L344,195.37 L344.5,195.35 L345,195.34 L345.5,195.32 L346,195.31 L346.5,195.29 L347,195.28 L347.5,195.27 L348,195.25 L348.5,195.23 L349,195.22 L349.5,195.2 L350,195.19 L350.5,195.17 L351,195.16 L351.5,195.14 L352,195.12 L352.5,195.11 L353,195.09 L353.5,195.07 L354,195.06 L354.5,195.04 L355,195.02 L355.5,195 L356,194.98 L356.5,194.97 L357,194.95 L357.5,194.93 L358,194.91 L358.5,194.89 L359,194.87 L359.5,194.85 L360,194.83 L360.5,194.81 L361,194.79 L361.5,194.77 L362,194.75 L362.5,194.73 L363,194.71 L363.5,194.68 L364,194.66 L364.5,194.64 L365,194.62 L365.5,194.59 L366,194.57 L366.5,194.55 L367,194.52 L367.5,194.5 L368,194.47 L368.5,194.45 L369,194.42 L369.5,194.4 L370,194.37 L370.5,194.34 L371,194.31 L371.5,194.29 L372,194.26 L372.5,194.23 L373,194.2 L373.5,194.17 L374,194.14 L374.5,194.11 L375,194.08 L375.5,194.05 L376,194.02 L376.5,193.99 L377,193.95 L377.5,193.92 L378,193.89 L378.5,193.85 L379,193.82 L379.5,193.78 L380,193.74 L380.5,193.71 L381,193.67 L381.5,193.63 L382,193.59 L382.5,193.55 L383,193.51 L383.5,193.47 L384,193.42 L384.5,193.38 L385,193.34 L385.5,193.29 L386,193.25 L386.5,193.2 L387,193.15 L387.5,193.1 L388,193.05 L388.5,193 L389,192.94 L389.5,192.89 L390,192.84 L390.5,192.78 L391,192.72 L391.5,192.66 L392,192.6 L392.5,192.54 L393,192.47 L393.5,192.41 L394,192.34 L394.5,192.27 L395,192.2 L395.5,192.13 L396,192.06 L396.5,191.98 L397,191.9 L397.5,191.82 L398,191.74 L398.5,191.65 L399,191.57 L399.5,191.48 L400,191.38 L400.5,191.29 L401,191.19 L401.5,191.09 L402,190.99 L402.5,190.88 L403,190.77 L403.5,190.66 L404,190.54 L404.5,190.43 L405,190.3 L405.5,190.18 L406,190.05 L406.5,189.91 L407,189.78 L407.5,189.64 L408,189.49 L408.5,189.34 L409,189.19 L409.5,189.03 L410,188.86 L410.5,188.7 L411,188.52 L411.5,188.34 L412,188.16 L412.5,187.97 L413,187.78 L413.5,187.58 L414,187.37 L414.5,187.16 L415,186.95 L415.5,186.72 L416,186.49 L416.5,186.26 L417,186.02 L417.5,185.77 L418,185.51 L418.5,185.25 L419,184.98 L419.5,184.7 L420,184.41 L420.5,184.12 L421,183.82 L421.5,183.51 L422,183.2 L422.5,182.87 L423,182.54 L423.5,182.2 L424,181.85 L424.5,181.5 L425,181.13 L425.5,180.75 L426,180.37 L426.5,179.98 L427,179.58 L427.5,179.16 L428,178.74 L428.5,178.31 L429,177.88 L429.5,177.43 L430,176.97 L430.5,176.5 L431,176.02 L431.5,175.54 L432,175.04 L432.5,174.53 L433,174.02 L433.5,173.49 L434,172.96 L434.5,172.41 L435,171.86 L435.5,171.29 L436,170.72 L436.5,170.13 L437,169.54 L437.5,168.94 L438,168.33 L438.5,167.71 L439,167.08 L439.5,166.44 L440,165.79 L440.5,165.14 L441,164.47 L441.5,163.8 L442,163.12 L442.5,162.43 L443,161.74 L443.5,161.04 L444,160.33 L444.5,159.61 L445,158.89 L445.5,158.16 L446,157.43 L446.5,156.7 L447,155.95 L447.5,155.21 L448,154.46 L448.5,153.71 L449,152.95 L449.5,152.2 L450,151.44 L450.5,150.68 L451,149.93 L451.5,149.17 L452,148.42 L452.5,147.66 L453,146.91 L453.5,146.17 L454,145.43 L454.5,144.69 L455,143.96 L455.5,143.24 L456,142.53 L456.5,141.83 L457,141.14 L457.5,140.46 L458,139.79 L458.5,139.14 L459,138.5 L459.5,137.87 L460,137.27 L460.5,136.68 L461,136.12 L461.5,135.57 L462,135.04 L462.5,134.54 L463,134.07 L463.5,133.61 L464,133.19 L464.5,132.79 L465,132.42 L465.5,132.07 L466,131.76 L466.5,131.48 L467,131.23 L467.5,131.01 L468,130.83 L468.5,130.67 L469,130.55 L469.5,130.47 L470,130.42 L470.5,130.4 L471,130.42 L471.5,130.47 L472,130.55 L472.5,130.67 L473,130.83 L473.5,131.01 L474,131.23 L474.5,131.48 L475,131.76 L475.5,132.07 L476,132.42 L476.5,132.79 L477,133.19 L477.5,133.61 L478,134.07 L478.5,134.54 L479,135.04 L479.5,135.57 L480,136.12 L480.5,136.68 L481,137.27 L481.5,137.87 L482,138.5 L482.5,139.14 L483,139.79 L483.5,140.46 L484,141.14 L484.5,141.83 L485,142.53 L485.5,143.24 L486,143.96 L486.5,144.69 L487,145.43 L487.5,146.17 L488,146.91 L488.5,147.66 L489,148.42 L489.5,149.17 L490,149.93 L490.5,150.68 L491,151.44 L491.5,152.2 L492,152.95 L492.5,153.71 L493,154.46 L493.5,155.21 L494,155.95 L494.5,156.7 L495,157.43 L495.5,158.16 L496,158.89 L496.5,159.61 L497,160.33 L497.5,161.04 L498,161.74 L498.5,162.43 L499,163.12 L499.5,163.8 L500,164.47 L500.5,165.14 L501,165.79 L501.5,166.44 L502,167.08 L502.5,167.71 L503,168.33 L503.5,168.94 L504,169.54 L504.5,170.13 L505,170.72 L505.5,171.29 L506,171.86 L506.5,172.41 L507,172.96 L507.5,173.49 L508,174.02 L508.5,174.53 L509,175.04 L509.5,175.54 L510,176.02 L510.5,176.5 L511,176.97 L511.5,177.43 L512,177.88 L512.5,178.31 L513,178.74 L513.5,179.16 L514,179.58 L514.5,179.98 L515,180.37 L515.5,180.75 L516,181.13 L516.5,181.5 L517,181.85 L517.5,182.2 L518,182.54 L518.5,182.87 L519,183.2 L519.5,183.51 L520,183.82 L520.5,184.12 L521,184.41 L521.5,184.7 L522,184.98 L522.5,185.25 L523,185.51 L523.5,185.77 L524,186.02 L524.5,186.26 L525,186.49 L525.5,186.72 L526,186.95 L526.5,187.16 L527,187.37 L527.5,187.58 L528,187.78 L528.5,187.97 L529,188.16 L529.5,188.34 L530,188.52 L530.5,188.7 L531,188.86 L531.5,189.03 L532,189.19 L532.5,189.34 L533,189.49 L533.5,189.64 L534,189.78 L534.5,189.91 L535,190.05 L535.5,190.18 L536,190.3 L536.5,190.43 L537,190.54 L537.5,190.66 L538,190.77 L538.5,190.88 L539,190.99 L539.5,191.09 L540,191.19 L540.5,191.29 L541,191.38 L541.5,191.48 L542,191.57 L542.5,191.65 L543,191.74 L543.5,191.82 L544,191.9 L544.5,191.98 L545,192.06 L545.5,192.13 L546,192.2 L546.5,192.27 L547,192.34 L547.5,192.41 L548,192.47 L548.5,192.54 L549,192.6 L549.5,192.66 L550,192.72 L550.5,192.78 L551,192.84 L551.5,192.89 L552,192.94 L552.5,193 L553,193.05 L553.5,193.1 L554,193.15 L554.5,193.2 L555,193.25 L555.5,193.29 L556,193.34 L556.5,193.38 L557,193.42 L557.5,193.47 L558,193.51 L558.5,193.55 L559,193.59 L559.5,193.63 L560,193.67 L560.5,193.71 L561,193.74 L561.5,193.78 L562,193.82 L562.5,193.85 L563,193.89 L563.5,193.92 L564,193.95 L564.5,193.99 L565,194.02 L565.5,194.05 L566,194.08 L566.5,194.11 L567,194.14 L567.5,194.17 L568,194.2 L568.5,194.23 L569,194.26 L569.5,194.29 L570,194.31 L570.5,194.34" stroke="#bde46e" stroke-width="1.8" fill="none" stroke-linejoin="round" />
<path d="M329,195.79 L329.5,195.35 L330,195.14 L330.5,194.86 L331,195.48 L331.5,195.83 L332,195.27 L332.5,194.75 L333,194.27 L333.5,194.29 L334,194.65 L334.5,194.62 L335,194.5 L335.5,194.14 L336,194.04 L336.5,194.21 L337,194.45 L337.5,194.82 L338,194.36 L338.5,193.6 L339,193.52 L339.5,193.45 L340,193.18 L340.5,193.22 L341,193.04 L341.5,193.11 L342,193.25 L342.5,193.06 L343,192.95 L343.5,192.61 L344,192.32 L344.5,192.35 L345,192.36 L345.5,192.39 L346,192.43 L346.5,191.94 L347,191.86 L347.5,191.78 L348,191.51 L348.5,191.68 L349,191.22 L349.5,191.23 L350,191.69 L350.5,191.53 L351,191.29 L351.5,191.14 L352,190.9 L352.5,190.82 L353,190.83 L353.5,190.81 L354,190.54 L354.5,190.47 L355,190.7 L355.5,190.49 L356,190.23 L356.5,190.28 L357,189.84 L357.5,189.68 L358,190.01 L358.5,189.81 L359,189.68 L359.5,189.27 L360,188.94 L360.5,189.09 L361,189.08 L361.5,188.8 L362,188.14 L362.5,188.05 L363,188.56 L363.5,188.52 L364,188.13 L364.5,187.34 L365,187.39 L365.5,187.62 L366,186.64 L366.5,186.68 L367,186.86 L367.5,186.38 L368,186.53 L368.5,187.12 L369,187.13 L369.5,186.82 L370,187.3 L370.5,187.58 L371,187.07 L371.5,186.57 L372,186.24 L372.5,186.09 L373,186.49 L373.5,186.74 L374,186.64 L374.5,186.78 L375,186.56 L375.5,186.31 L376,186.74 L376.5,186.97 L377,187.14 L377.5,187.19 L378,186.93 L378.5,187.01 L379,186.9 L379.5,186.43 L380,186.82 L380.5,187.07 L381,186.7 L381.5,185.86 L382,185.15 L382.5,184.8 L383,183.99 L383.5,182.85 L384,182.24 L384.5,182.28 L385,181.73 L385.5,180.68 L386,179.96 L386.5,179.73 L387,178.45 L387.5,177.62 L388,177.82 L388.5,177.4 L389,177.07 L389.5,176.58 L390,175.65 L390.5,174.88 L391,174.48 L391.5,173.79 L392,173.15 L392.5,173.15 L393,173.32 L393.5,172.77 L394,172.01 L394.5,171.87 L395,172 L395.5,171.74 L396,171.57 L396.5,171.14 L397,170.53 L397.5,170.52 L398,170.54 L398.5,170.61 L399,169.76 L399.5,168.98 L400,169.1 L400.5,168.78 L401,167.86 L401.5,167.76 L402,167.68 L402.5,166.9 L403,165.97 L403.5,165.38 L404,164.67 L404.5,163.9 L405,162.92 L405.5,161.61 L406,161.06 L406.5,160.28 L407,159.53 L407.5,158.85 L408,157.47 L408.5,156.41 L409,155.51 L409.5,154.66 L410,153.54 L410.5,152.15 L411,151.59 L411.5,151.29 L412,150.59 L412.5,149.2 L413,147.93 L413.5,147.46 L414,146.5 L414.5,144.92 L415,143.93 L415.5,143.1 L416,141.51 L416.5,139.11 L417,136.52 L417.5,134.54 L418,132.48 L418.5,130.3 L419,128.55 L419.5,126.86 L420,125.07 L420.5,123.74 L421,122.78 L421.5,122.09 L422,121.73 L422.5,121.8 L423,121.63 L423.5,120.43 L424,118.64 L424.5,116.17 L425,113.27 L425.5,109.48 L426,105.63 L426.5,102.85 L427,101.28 L427.5,99.93 L428,97.88 L428.5,96.62 L429,96.1 L429.5,94.88 L430,93.31 L430.5,92.68 L431,91.83 L431.5,90.49 L432,88.84 L432.5,87.45 L433,85.97 L433.5,83.39 L434,80.82 L434.5,77.89 L435,75.75 L435.5,74.35 L436,72.78 L436.5,71.65 L437,70.24 L437.5,68.53 L438,67.65 L438.5,66.85 L439,65.69 L439.5,64.88 L440,64.26 L440.5,63.36 L441,63.31 L441.5,63.56 L442,63.22 L442.5,63.45 L443,63.1 L443.5,62.19 L444,62.07 L444.5,62.38 L445,62.67 L445.5,63.19 L446,63.02 L446.5,63.29 L447,63.64 L447.5,63.89 L448,64.54 L448.5,64.75 L449,65.25 L449.5,65.79 L450,66.32 L450.5,66.71 L451,67.51 L451.5,68.96 L452,69.92 L452.5,70.2 L453,70.36 L453.5,70.51 L454,71.96 L454.5,74.16 L455,76.24 L455.5,78.73 L456,81.05 L456.5,82.68 L457,83.67 L457.5,84.39 L458,85.09 L458.5,86.62 L459,87.32 L459.5,87.26 L460,87.97 L460.5,88.77 L461,88.94 L461.5,89.34 L462,90.51 L462.5,91.3 L463,91.75 L463.5,92.66 L464,92.97 L464.5,93 L465,93.3 L465.5,93.74 L466,93.08 L466.5,91.87 L467,91.52 L467.5,91.45 L468,91.8 L468.5,92.31 L469,92.3 L469.5,92.85 L470,94.01 L470.5,94.6 L471,95.82 L471.5,96.79 L472,97.16 L472.5,98.28 L473,99.51 L473.5,100.66 L474,102.45 L474.5,104.07 L475,105.77 L475.5,107.02 L476,107.56 L476.5,108.63 L477,109.88 L477.5,110.79 L478,112.11 L478.5,113.23 L479,113.63 L479.5,115.03 L480,116.65 L480.5,117.85 L481,119.31 L481.5,120.87 L482,122.39 L482.5,124.08 L483,125.67 L483.5,126.87 L484,128.18 L484.5,129.01 L485,130.14 L485.5,131.69 L486,133.01 L486.5,133.95 L487,135.49 L487.5,137.02 L488,137.45 L488.5,138.11 L489,139.42 L489.5,140.88 L490,141.8 L490.5,142.86 L491,143.9 L491.5,145.05 L492,146.06 L492.5,146.93 L493,148.36 L493.5,150 L494,150.47 L494.5,150.64 L495,151.58 L495.5,152.75 L496,153.48 L496.5,153.91 L497,154.89 L497.5,155.39 L498,155.72 L498.5,156.32 L499,156.45 L499.5,156.56 L500,157.29 L500.5,157.96 L501,158.27 L501.5,158.04 L502,158.23 L502.5,159.14 L503,159.7 L503.5,159.83 L504,159.88 L504.5,160.53 L505,161.29 L505.5,161.91 L506,163.23 L506.5,165.46 L507,167.39 L507.5,168.97 L508,170.35 L508.5,171.62 L509,172.6 L509.5,172.91 L510,173.77 L510.5,173.91 L511,172.98 L511.5,172.53 L512,172.45 L512.5,172.47 L513,171.97 L513.5,170.97 L514,170.8 L514.5,171.09 L515,171.13 L515.5,171.62 L516,172.14 L516.5,172.71 L517,173.22 L517.5,174.21 L518,176.03 L518.5,177.01 L519,177.48 L519.5,178.11 L520,179.09 L520.5,179.33 L521,179.34 L521.5,180.17 L522,180.84 L522.5,181.06 L523,181.39 L523.5,181.84 L524,182.2 L524.5,182.62 L525,182.68 L525.5,183.07 L526,183.92 L526.5,184.02 L527,184.06 L527.5,184.77 L528,184.86 L528.5,185.01 L529,185.28 L529.5,185.78 L530,186.86 L530.5,187.32 L531,186.91 L531.5,186.81 L532,187.1 L532.5,187.15 L533,187.71 L533.5,187.55 L534,187.61 L534.5,188.11 L535,188.38 L535.5,188.61 L536,188.26 L536.5,188.45 L537,188.96 L537.5,189.06 L538,189.16 L538.5,189.17 L539,188.66 L539.5,189.16 L540,190.02 L540.5,189.97 L541,189.96 L541.5,190.32 L542,190.32 L542.5,190.03 L543,190.23 L543.5,190.84 L544,190.68 L544.5,190.81 L545,191.14 L545.5,190.7 L546,191.31 L546.5,191.7 L547,191.19 L547.5,191.26 L548,191.95 L548.5,192.46 L549,192.25 L549.5,192.18 L550,192.59 L550.5,192.45 L551,192.49 L551.5,192.76 L552,192.66 L552.5,192.66 L553,192.93 L553.5,193.18 L554,193.13 L554.5,193.13 L555,193.66 L555.5,193.93 L556,193.98 L556.5,194.33 L557,194.36 L557.5,194.73 L558,194.48 L558.5,194.21 L559,194.43 L559.5,194.79 L560,195.39 L560.5,194.53 L561,193.95 L561.5,194.69 L562,195.22 L562.5,195.33 L563,195.2 L563.5,195.21 L564,195.47 L564.5,195.42 L565,195.6 L565.5,195.13 L566,195.11 L566.5,195.49 L567,195.64 L567.5,195.92 L568,195.53 L568.5,195.75 L569,195.81 L569.5,195.55 L570,195.46 L570.5,195.74" stroke="#000" stroke-width="1.5" fill="none" stroke-linejoin="round" />
<rect x="328.5" y="17.9" width="242.8" height="179.3" fill="none" stroke="#000" stroke-width="1.7"/>
<line x1="384" y1="197.2" x2="384" y2="195.2" stroke="#aaa" stroke-width="1" />
<line x1="439.3" y1="197.2" x2="439.3" y2="195.2" stroke="#aaa" stroke-width="1" />
<line x1="494.4" y1="197.2" x2="494.4" y2="195.2" stroke="#aaa" stroke-width="1" />
<line x1="549.5" y1="197.2" x2="549.5" y2="195.2" stroke="#aaa" stroke-width="1" />
<text x="328.4" y="213.2" font-size="14.3" font-weight="bold" fill="#000" text-anchor="middle" stroke="#000" stroke-width="0.25" textLength="26.8" lengthAdjust="spacingAndGlyphs" >44.5</text>
<text x="439.3" y="213.2" font-size="14.3" font-weight="bold" fill="#000" text-anchor="middle" stroke="#000" stroke-width="0.25" textLength="26.8" lengthAdjust="spacingAndGlyphs" >45.0</text>
<text x="549.5" y="213.2" font-size="14.3" font-weight="bold" fill="#000" text-anchor="middle" stroke="#000" stroke-width="0.25" textLength="26.8" lengthAdjust="spacingAndGlyphs" >45.5</text>
<text x="397.5" y="234.6" font-size="20">2</text>
<text x="409.1" y="234.6" font-size="20" font-style="italic" textLength="12.6" lengthAdjust="spacingAndGlyphs">θ</text>
<text x="422.7" y="234.6" font-size="20" textLength="68.3" lengthAdjust="spacingAndGlyphs">(degree)</text>
<text transform="translate(315.4,184) rotate(-90)" x="0" y="0" font-size="21.5" font-weight="normal" fill="#000" text-anchor="start" textLength="162.6" lengthAdjust="spacingAndGlyphs">Intensity (arb.units)</text>
<text transform="translate(447.7,57.9) rotate(-90)" x="0" y="0" font-size="14.5" font-weight="bold" fill="#000" text-anchor="start" stroke="#000" stroke-width="0.25" textLength="32.6" lengthAdjust="spacingAndGlyphs">(002)</text>
<text transform="translate(474.3,86.2) rotate(-90)" x="0" y="0" font-size="14.5" font-weight="bold" fill="#000" text-anchor="start" stroke="#000" stroke-width="0.25" textLength="32.6" lengthAdjust="spacingAndGlyphs">(200)</text>
<path d="M43.8,422.7 L44.3,422.23 L44.8,422.16 L45.3,422.14 L45.8,421.82 L46.3,421.98 L46.8,422.03 L47.3,421.79 L47.8,421.59 L48.3,421.48 L48.8,421.72 L49.3,421.27 L49.8,421.45 L50.3,421.4 L50.8,421.06 L51.3,420.95 L51.8,420.01 L52.3,419.37 L52.8,419.35 L53.3,419.14 L53.8,418.7 L54.3,418.27 L54.8,417.42 L55.3,417.11 L55.8,416.66 L56.3,416.49 L56.8,416.57 L57.3,415.94 L57.8,415.74 L58.3,415.68 L58.8,415.01 L59.3,414.13 L59.8,413.6 L60.3,412.9 L60.8,412.31 L61.3,412.69 L61.8,412.04 L62.3,411.16 L62.8,410.45 L63.3,409.73 L63.8,409.4 L64.3,408.68 L64.8,408.3 L65.3,408.18 L65.8,407.46 L66.3,406.39 L66.8,404.76 L67.3,403.57 L67.8,402.46 L68.3,401.22 L68.8,399.96 L69.3,398.9 L69.8,397.05 L70.3,395.18 L70.8,394.66 L71.3,393.33 L71.8,391.36 L72.3,389.58 L72.8,387.61 L73.3,385.9 L73.8,385.15 L74.3,383.62 L74.8,380.83 L75.3,378.01 L75.8,375.63 L76.3,373.57 L76.8,370.88 L77.3,367.84 L77.8,365.33 L78.3,361.14 L78.8,356.18 L79.3,351.01 L79.8,346.27 L80.3,342.01 L80.8,337.77 L81.3,334.59 L81.8,331.46 L82.3,327.71 L82.8,324.65 L83.3,321.09 L83.8,316.51 L84.3,312.92 L84.8,310.22 L85.3,306.45 L85.8,302.62 L86.3,299.61 L86.8,297.25 L87.3,295.51 L87.8,293.11 L88.3,290.7 L88.8,289.9 L89.3,288.75 L89.8,287.48 L90.3,286.88 L90.8,286.03 L91.3,285.53 L91.8,284.25 L92.3,283.2 L92.8,282.85 L93.3,282.14 L93.8,281.95 L94.3,281.22 L94.8,280.54 L95.3,280.56 L95.8,280.38 L96.3,279.53 L96.8,279.55 L97.3,280 L97.8,278.7 L98.3,277.81 L98.8,278.57 L99.3,278.37 L99.8,277.41 L100.3,276.8 L100.8,276.26 L101.3,275.94 L101.8,275.69 L102.3,275.7 L102.8,275.49 L103.3,274.91 L103.8,274.43 L104.3,274.29 L104.8,274.12 L105.3,273.83 L105.8,274.11 L106.3,274.01 L106.8,273.61 L107.3,273.35 L107.8,272.98 L108.3,272.59 L108.8,272.24 L109.3,272.23 L109.8,271.76 L110.3,271.71 L110.8,271.82 L111.3,271.04 L111.8,270.7 L112.3,270.51 L112.8,270.49 L113.3,270.28 L113.8,270.35 L114.3,270.13 L114.8,268.99 L115.3,268.8 L115.8,268.67 L116.3,268.66 L116.8,269.3 L117.3,269.29 L117.8,268.43 L118.3,267.84 L118.8,268.53 L119.3,268.7 L119.8,268.09 L120.3,268.17 L120.8,268.71 L121.3,268.66 L121.8,267.89 L122.3,267.51 L122.8,267.52 L123.3,267.13 L123.8,266.54 L124.3,266.6 L124.8,266.5 L125.3,266.35 L125.8,266.51 L126.3,267.05 L126.8,266.66 L127.3,265.86 L127.8,265.99 L128.3,266.1 L128.8,266.4 L129.3,266.1 L129.8,265.55 L130.3,265.19 L130.8,265.12 L131.3,265.68 L131.8,265.91 L132.3,265.44 L132.8,265.28 L133.3,265.53 L133.8,265.73 L134.3,265.52 L134.8,265.27 L135.3,264.9 L135.8,264.61 L136.3,265.5 L136.8,265.15 L137.3,264.55 L137.8,265.15 L138.3,265.08 L138.8,264.73 L139.3,264.76 L139.8,264.91 L140.3,264.85 L140.8,264.27 L141.3,264.19 L141.8,264.4 L142.3,264.23 L142.8,264.46 L143.3,264.73 L143.8,264.85 L144.3,264.47 L144.8,264.42 L145.3,264.84 L145.8,264.85 L146.3,264.87 L146.8,264.48 L147.3,264.01 L147.8,264.24 L148.3,263.87 L148.8,263.66 L149.3,263.85 L149.8,263.65 L150.3,263.28 L150.8,263.09 L151.3,263.53 L151.8,263.98 L152.3,264.21 L152.8,263.91 L153.3,263.54 L153.8,263.3 L154.3,263.44 L154.8,263.57 L155.3,263.6 L155.8,264.12 L156.3,263.91 L156.8,262.99 L157.3,262.74 L157.8,262.72 L158.3,262.6 L158.8,263.33 L159.3,263.69 L159.8,262.89 L160.3,262.98 L160.8,263.71 L161.3,263.4 L161.8,262.84 L162.3,262.82 L162.8,263.09 L163.3,263.35 L163.8,263.6 L164.3,263.76 L164.8,263.76 L165.3,263.8 L165.8,263.66 L166.3,262.86 L166.8,262.64 L167.3,263.15 L167.8,263.08 L168.3,263.25 L168.8,263.25 L169.3,262.75 L169.8,263.24 L170.3,263.68 L170.8,263.34 L171.3,263.42 L171.8,263.65 L172.3,263.49 L172.8,262.52 L173.3,262.24 L173.8,262.79 L174.3,262.7 L174.8,262.88 L175.3,263.48 L175.8,263.29 L176.3,262.64 L176.8,263.33 L177.3,263.51 L177.8,262.6 L178.3,262.79 L178.8,263.24 L179.3,262.97 L179.8,263.07 L180.3,263.12 L180.8,262.65 L181.3,262.82 L181.8,263.28 L182.3,263.05 L182.8,262.93 L183.3,263.07 L183.8,263.75 L184.3,263.58 L184.8,263.17 L185.3,263.35 L185.8,262.93 L186.3,263.13 L186.8,263.41 L187.3,263.55 L187.8,263.39 L188.3,262.87 L188.8,262.63 L189.3,262.93 L189.8,263.23 L190.3,263.47 L190.8,263.42 L191.3,263.32 L191.8,263.62 L192.3,263.36 L192.8,262.53 L193.3,262.16 L193.8,262.17 L194.3,262.92 L194.8,263.08 L195.3,262.97 L195.8,263.36 L196.3,263.49 L196.8,263.6 L197.3,263.09 L197.8,262.76 L198.3,262.8 L198.8,262.9 L199.3,262.72 L199.8,262.66 L200.3,263.24 L200.8,262.78 L201.3,262.4 L201.8,262.62 L202.3,262.59 L202.8,263.06 L203.3,262.99 L203.8,262.97 L204.3,262.54 L204.8,262.63 L205.3,262.89 L205.8,262.75 L206.3,262.96 L206.8,262.08 L207.3,261.81 L207.8,262.58 L208.3,263.21 L208.8,263.22 L209.3,262.86 L209.8,262.38 L210.3,262.7 L210.8,263.58 L211.3,263.19 L211.8,262.63 L212.3,262.17 L212.8,262.47 L213.3,263.65 L213.8,263.6 L214.3,263.2 L214.8,263.15 L215.3,262.53 L215.8,262.74 L216.3,262.67 L216.8,262.23 L217.3,262.65 L217.8,262.94 L218.3,262.97 L218.8,262.83 L219.3,262.5 L219.8,262.04 L220.3,262.26 L220.8,262.41 L221.3,262.03 L221.8,261.87 L222.3,262.09 L222.8,261.93 L223.3,261.69 L223.8,261.74 L224.3,262.16 L224.8,262.71 L225.3,263.21 L225.8,262.68 L226.3,261.94 L226.8,262.6 L227.3,262.72 L227.8,262.37 L228.3,262.9 L228.8,262.89 L229.3,262.1 L229.8,261.82 L230.3,262.23 L230.8,262.67 L231.3,262.19 L231.8,261.83 L232.3,262.35 L232.8,262.78 L233.3,262.45 L233.8,262.46 L234.3,262.79 L234.8,262.12 L235.3,261.87 L235.8,262.47 L236.3,262.39 L236.8,261.69 L237.3,261.76 L237.8,262.55 L238.3,263.06 L238.8,262.24 L239.3,262.52 L239.8,262.81 L240.3,262.35 L240.8,262.99 L241.3,263 L241.8,262.69 L242.3,262.1 L242.8,262.22 L243.3,262.34 L243.8,261.47 L244.3,262.44 L244.8,263.32 L245.3,263.04 L245.8,262.59 L246.3,262.49 L246.8,263.17 L247.3,263.19 L247.8,262.74 L248.3,261.98 L248.8,261.93 L249.3,261.65 L249.8,261.23 L250.3,261.86 L250.8,262.05 L251.3,261.97 L251.8,262.21 L252.3,262.78 L252.8,263.17 L253.3,262.62 L253.8,262.59 L254.3,262.39 L254.8,261.96 L255.3,262.42 L255.8,262.17 L256.3,261.84 L256.8,261.81 L257.3,261.92 L257.8,262.72 L258.3,262.48 L258.8,262.09 L259.3,262.05 L259.8,261.67 L260.3,261.57 L260.8,262.28 L261.3,263.27 L261.8,263 L262.3,262.15 L262.8,262.2 L263.3,262.3 L263.8,262.33 L264.3,262.5 L264.8,262.35 L265.3,262.43 L265.8,262.19 L266.3,261.91 L266.8,261.59 L267.3,261.58 L267.8,261.66 L268.3,261.74 L268.8,261.86 L269.3,261.92 L269.8,262.31 L270.3,261.89 L270.8,261.53 L271.3,261.66 L271.8,262.09 L272.3,262.81 L272.8,262.84 L273.3,262.27 L273.8,262.43 L274.3,262.11 L274.8,262.11 L275.3,262.35 L275.8,261.17 L276.3,262.07 L276.8,263.27 L277.3,262.25 L277.8,261.86 L278.3,262.08 L278.8,262.06 L279.3,261.71 L279.8,261.49 L280.3,262.02 L280.8,262.26 L281.3,262.46 L281.8,262.42 L282.3,262.73 L282.8,262.51 L283.3,261.93 L283.8,261.6 L284.3,261.18 L284.8,262.07 L285.3,262.15 L285.8,261.92 L286.3,262.16 L286.8,261.73 L287.3,261.64 L287.8,261.79 L288.3,261.74 L288.8,262.09 L289.3,262.4 L289.8,262.03 L290.3,261.6 L290.8,261.83" stroke="#000" stroke-width="1.6" fill="none" stroke-linejoin="round" />
<rect x="117.65" y="277.65" width="165.35" height="123.35000000000002" fill="#fff" stroke="#000" stroke-width="1.3"/>
<line x1="132.4" y1="401" x2="132.4" y2="399.5" stroke="#222" stroke-width="0.9" />
<line x1="162.5" y1="401" x2="162.5" y2="398.5" stroke="#222" stroke-width="0.9" />
<line x1="192.6" y1="401" x2="192.6" y2="399.5" stroke="#222" stroke-width="0.9" />
<line x1="222.7" y1="401" x2="222.7" y2="398.5" stroke="#222" stroke-width="0.9" />
<line x1="252.8" y1="401" x2="252.8" y2="399.5" stroke="#222" stroke-width="0.9" />
<line x1="282.9" y1="401" x2="282.9" y2="398.5" stroke="#222" stroke-width="0.9" />
<line x1="117.65" y1="401" x2="120.15" y2="401" stroke="#222" stroke-width="0.9" />
<line x1="117.65" y1="383.37" x2="119.15" y2="383.37" stroke="#222" stroke-width="0.9" />
<line x1="117.65" y1="365.74" x2="120.15" y2="365.74" stroke="#222" stroke-width="0.9" />
<line x1="117.65" y1="348.11" x2="119.15" y2="348.11" stroke="#222" stroke-width="0.9" />
<line x1="117.65" y1="330.48" x2="120.15" y2="330.48" stroke="#222" stroke-width="0.9" />
<line x1="117.65" y1="312.85" x2="119.15" y2="312.85" stroke="#222" stroke-width="0.9" />
<line x1="117.65" y1="295.22" x2="120.15" y2="295.22" stroke="#222" stroke-width="0.9" />
<text x="162.5" y="412.8" font-size="10.5" font-weight="bold" fill="#000" text-anchor="middle" stroke="#000" stroke-width="0.25" >2</text>
<text x="222.7" y="412.8" font-size="10.5" font-weight="bold" fill="#000" text-anchor="middle" stroke="#000" stroke-width="0.25" >3</text>
<text x="282.9" y="412.8" font-size="10.5" font-weight="bold" fill="#000" text-anchor="middle" stroke="#000" stroke-width="0.25" >4</text>
<text x="115.3" y="404.4" font-size="10.5" font-weight="bold" fill="#000" text-anchor="end" stroke="#000" stroke-width="0.25" >0</text>
<text x="115.3" y="369.14" font-size="10.5" font-weight="bold" fill="#000" text-anchor="end" stroke="#000" stroke-width="0.25" >2</text>
<text x="115.3" y="333.88" font-size="10.5" font-weight="bold" fill="#000" text-anchor="end" stroke="#000" stroke-width="0.25" >4</text>
<text x="115.3" y="298.62" font-size="10.5" font-weight="bold" fill="#000" text-anchor="end" stroke="#000" stroke-width="0.25" >6</text>
<text x="175.3" y="424.7" font-size="14" textLength="42" lengthAdjust="spacingAndGlyphs">h<tspan font-style="italic">ν</tspan> (eV)</text>
<text transform="translate(102,360.8) rotate(-90)" font-size="11.5" textLength="46.8" lengthAdjust="spacingAndGlyphs">(F(R)h<tspan font-style="italic">ν</tspan>)</text>
<text transform="translate(96.6,313.6) rotate(-90)" font-size="8.5" textLength="10.2" lengthAdjust="spacingAndGlyphs">1/2</text>
<path d="M118.5,400.9 L150,400.7 L180,400.4 L200,400 L213.8,399.6 L223.4,398.7 L231.1,397.3 L235.3,395.4 L239.7,391 L244,382.5 L245.01,380.23 L246.02,378.06 L247.03,375.89 L248.04,373.72 L249.05,371.55 L250.06,369.38 L251.07,367.2 L252.08,365.03 L253.09,362.86 L254.1,360.69 L255.11,358.52 L256.12,356.35 L257.13,354.18 L258.14,352.01 L259.16,349.84 L260.17,347.67 L261.18,345.5 L262.19,343.28 L263.2,340.92 L264.21,337.79 L265.22,335.55 L266.23,333.24 L267.24,331.92 L268.25,329.71 L269.26,329.18 L270.27,325.41 L271.28,323.52 L272.29,319.92 L273.3,321.76 L276.8,317.3 L278.2,313.4 L279.4,315.9 L280.6,306.8 L281.7,304.7 L282.2,297.2" stroke="#000" stroke-width="1.1" fill="none" stroke-linejoin="round" />
<line x1="235.9" y1="401" x2="277.7" y2="311.2" stroke="#ff0000" stroke-width="1.3" />
<line x1="232.6" y1="394.3" x2="223" y2="379.5" stroke="#0000ff" stroke-width="1.5" />
<path d="M220.5,374.9 L226.3,379.6 L221.6,382.2 Z" fill="#0000ff"/>
<text x="203.2" y="373.1" font-size="10.5" font-weight="bold" fill="#000" text-anchor="start" stroke="#000" stroke-width="0.25" textLength="32.2" lengthAdjust="spacingAndGlyphs" >3.23 eV</text>
<rect x="43.3" y="248.5" width="248.7" height="184.5" fill="none" stroke="#000" stroke-width="1.8"/>
<line x1="43.3" y1="433" x2="43.3" y2="430.5" stroke="#000" stroke-width="1.4" />
<line x1="93.04" y1="433" x2="93.04" y2="429" stroke="#000" stroke-width="1.4" />
<line x1="142.78" y1="433" x2="142.78" y2="430.5" stroke="#000" stroke-width="1.4" />
<line x1="192.52" y1="433" x2="192.52" y2="429" stroke="#000" stroke-width="1.4" />
<line x1="242.26" y1="433" x2="242.26" y2="430.5" stroke="#000" stroke-width="1.4" />
<line x1="292" y1="433" x2="292" y2="429" stroke="#000" stroke-width="1.4" />
<line x1="43.3" y1="432.2" x2="47.3" y2="432.2" stroke="#000" stroke-width="1.4" />
<line x1="43.3" y1="398.78" x2="45.8" y2="398.78" stroke="#000" stroke-width="1.4" />
<line x1="43.3" y1="365.36" x2="47.3" y2="365.36" stroke="#000" stroke-width="1.4" />
<line x1="43.3" y1="331.94" x2="45.8" y2="331.94" stroke="#000" stroke-width="1.4" />
<line x1="43.3" y1="298.52" x2="47.3" y2="298.52" stroke="#000" stroke-width="1.4" />
<line x1="43.3" y1="265.1" x2="45.8" y2="265.1" stroke="#000" stroke-width="1.4" />
<text x="93.04" y="449" font-size="15.5" font-weight="bold" fill="#000" text-anchor="middle" stroke="#000" stroke-width="0.25" textLength="23.4" lengthAdjust="spacingAndGlyphs" >400</text>
<text x="192.52" y="449" font-size="15.5" font-weight="bold" fill="#000" text-anchor="middle" stroke="#000" stroke-width="0.25" textLength="23.4" lengthAdjust="spacingAndGlyphs" >600</text>
<text x="292" y="449" font-size="15.5" font-weight="bold" fill="#000" text-anchor="middle" stroke="#000" stroke-width="0.25" textLength="23.4" lengthAdjust="spacingAndGlyphs" >800</text>
<text x="38.9" y="437.5" font-size="15.5" font-weight="bold" fill="#000" text-anchor="end" stroke="#000" stroke-width="0.25" textLength="7.5" lengthAdjust="spacingAndGlyphs" >0</text>
<text x="38.9" y="370.66" font-size="15.5" font-weight="bold" fill="#000" text-anchor="end" stroke="#000" stroke-width="0.25" textLength="15" lengthAdjust="spacingAndGlyphs" >40</text>
<text x="38.9" y="303.82" font-size="15.5" font-weight="bold" fill="#000" text-anchor="end" stroke="#000" stroke-width="0.25" textLength="15" lengthAdjust="spacingAndGlyphs" >80</text>
<text x="91" y="470.4" font-size="20" font-weight="normal" fill="#000" text-anchor="start" textLength="153" lengthAdjust="spacingAndGlyphs" >Wavelenghth (nm)</text>
<text transform="translate(14.6,358.8) rotate(-90)" x="0" y="0" font-size="20" font-weight="normal" fill="#000" text-anchor="start" textLength="50" lengthAdjust="spacingAndGlyphs">R (%)</text>
<path d="M333.5,416.6 L333.9,416.6 L334.3,416.6 L334.7,416.6 L335.1,416.59 L335.5,416.59 L335.9,416.59 L336.3,416.59 L336.7,416.59 L337.1,416.59 L337.5,416.58 L337.9,416.58 L338.3,416.58 L338.7,416.58 L339.1,416.58 L339.5,416.57 L339.9,416.57 L340.3,416.57 L340.7,416.57 L341.1,416.56 L341.5,416.56 L341.9,416.56 L342.3,416.56 L342.7,416.55 L343.1,416.55 L343.5,416.55 L343.9,416.55 L344.3,416.54 L344.7,416.54 L345.1,416.54 L345.5,416.53 L345.9,416.53 L346.3,416.53 L346.7,416.52 L347.1,416.52 L347.5,416.52 L347.9,416.51 L348.3,416.51 L348.7,416.51 L349.1,416.5 L349.5,416.5 L349.9,416.5 L350.3,416.49 L350.7,416.49 L351.1,416.49 L351.5,416.48 L351.9,416.48 L352.3,416.48 L352.7,416.47 L353.1,416.47 L353.5,416.46 L353.9,416.46 L354.3,416.46 L354.7,416.45 L355.1,416.45 L355.5,416.45 L355.9,416.44 L356.3,416.44 L356.7,416.43 L357.1,416.43 L357.5,416.43 L357.9,416.42 L358.3,416.42 L358.7,416.41 L359.1,416.41 L359.5,416.41 L359.9,416.4 L360.3,416.4 L360.7,416.39 L361.1,416.39 L361.5,416.39 L361.9,416.38 L362.3,416.38 L362.7,416.37 L363.1,416.37 L363.5,416.37 L363.9,416.36 L364.3,416.36 L364.7,416.36 L365.1,416.35 L365.5,416.35 L365.9,416.34 L366.3,416.34 L366.7,416.34 L367.1,416.33 L367.5,416.33 L367.9,416.32 L368.3,416.32 L368.7,416.32 L369.1,416.31 L369.5,416.31 L369.9,416.3 L370.3,416.3 L370.7,416.3 L371.1,416.29 L371.5,416.29 L371.9,416.28 L372.3,416.28 L372.7,416.27 L373.1,416.27 L373.5,416.26 L373.9,416.25 L374.3,416.25 L374.7,416.24 L375.1,416.24 L375.5,416.23 L375.9,416.22 L376.3,416.22 L376.7,416.21 L377.1,416.2 L377.5,416.19 L377.9,416.19 L378.3,416.18 L378.7,416.17 L379.1,416.16 L379.5,416.15 L379.9,416.14 L380.3,416.13 L380.7,416.12 L381.1,416.11 L381.5,416.1 L381.9,416.09 L382.3,416.08 L382.7,416.07 L383.1,416.06 L383.5,416.05 L383.9,416.04 L384.3,416.02 L384.7,416.01 L385.1,416 L385.5,415.98 L385.9,415.95 L386.3,415.92 L386.7,415.87 L387.1,415.83 L387.5,415.77 L387.9,415.71 L388.3,415.64 L388.7,415.57 L389.1,415.5 L389.5,415.41 L389.9,415.33 L390.3,415.24 L390.7,415.15 L391.1,415.05 L391.5,414.95 L391.9,414.85 L392.3,414.74 L392.7,414.64 L393.1,414.53 L393.5,414.42 L393.9,414.31 L394.3,414.2 L394.7,414.08 L395.1,413.97 L395.5,413.86 L395.9,413.73 L396.3,413.6 L396.7,413.46 L397.1,413.32 L397.5,413.17 L397.9,413.01 L398.3,412.84 L398.7,412.67 L399.1,412.49 L399.5,412.31 L399.9,412.12 L400.3,411.92 L400.7,411.71 L401.1,411.5 L401.5,411.28 L401.9,411.06 L402.3,410.82 L402.7,410.57 L403.1,410.3 L403.5,410.02 L403.9,409.72 L404.3,409.41 L404.7,409.08 L405.1,408.74 L405.5,408.38 L405.9,408.01 L406.3,407.63 L406.7,407.23 L407.1,406.83 L407.5,406.41 L407.9,405.97 L408.3,405.5 L408.7,405 L409.1,404.47 L409.5,403.91 L409.9,403.34 L410.3,402.73 L410.7,402.12 L411.1,401.48 L411.5,400.83 L411.9,400.17 L412.3,399.5 L412.7,398.81 L413.1,398.11 L413.5,397.39 L413.9,396.64 L414.3,395.85 L414.7,395.03 L415.1,394.15 L415.5,393.23 L415.9,392.25 L416.3,391.23 L416.7,390.17 L417.1,388.98 L417.5,387.58 L417.9,385.88 L418.3,383.76 L418.7,380.92 L419.1,377.09 L419.5,372 L419.9,360.5 L420.3,345.34 L420.7,336.4 L421.1,330.52 L421.5,325.73 L421.9,321.19 L422.3,316.46 L422.7,311.99 L423.1,307.69 L423.5,303.43 L423.9,299.11 L424.3,294.48 L424.7,289.5 L425.1,284.68 L425.5,280.54 L425.9,277.44 L426.3,274.77 L426.7,272.95 L427.1,272.12 L427.5,271.48 L427.9,271.06 L428.3,270.9 L428.7,270.9 L429.1,270.9 L429.5,270.9 L429.9,270.9 L430.3,270.9 L430.7,270.9 L431.1,270.99 L431.5,271.14 L431.9,271.26 L432.3,271.28 L432.7,270.91 L433.1,270.22 L433.5,269.42 L433.9,268.74 L434.3,268.31 L434.7,267.93 L435.1,267.59 L435.5,267.33 L435.9,267.21 L436.3,267.36 L436.7,267.95 L437.1,268.79 L437.5,269.69 L437.9,270.54 L438.3,271.48 L438.7,272.51 L439.1,273.6 L439.5,274.76 L439.9,275.96 L440.3,277.2 L440.7,278.46 L441.1,279.74 L441.5,281.01 L441.9,282.27 L442.3,283.51 L442.7,284.75 L443.1,286 L443.5,287.26 L443.9,288.54 L444.3,289.83 L444.7,291.14 L445.1,292.46 L445.5,293.78 L445.9,295.12 L446.3,296.48 L446.7,297.84 L447.1,299.21 L447.5,300.6 L447.9,302.02 L448.3,303.48 L448.7,304.97 L449.1,306.5 L449.5,308.04 L449.9,309.58 L450.3,311.12 L450.7,312.66 L451.1,314.17 L451.5,315.64 L451.9,317.08 L452.3,318.47 L452.7,319.8 L453.1,321.09 L453.5,322.38 L453.9,323.65 L454.3,324.91 L454.7,326.15 L455.1,327.38 L455.5,328.58 L455.9,329.75 L456.3,330.9 L456.7,332.02 L457.1,333.11 L457.5,334.16 L457.9,335.17 L458.3,336.15 L458.7,337.08 L459.1,337.96 L459.5,338.82 L459.9,339.66 L460.3,340.48 L460.7,341.27 L461.1,342.04 L461.5,342.79 L461.9,343.52 L462.3,344.24 L462.7,344.94 L463.1,345.63 L463.5,346.31 L463.9,346.97 L464.3,347.62 L464.7,348.27 L465.1,348.9 L465.5,349.53 L465.9,350.16 L466.3,350.77 L466.7,351.38 L467.1,351.97 L467.5,352.56 L467.9,353.14 L468.3,353.7 L468.7,354.26 L469.1,354.81 L469.5,355.35 L469.9,355.88 L470.3,356.4 L470.7,356.91 L471.1,357.41 L471.5,357.9 L471.9,358.38 L472.3,358.86 L472.7,359.33 L473.1,359.8 L473.5,360.26 L473.9,360.72 L474.3,361.18 L474.7,361.63 L475.1,362.07 L475.5,362.5 L475.9,362.93 L476.3,363.35 L476.7,363.76 L477.1,364.16 L477.5,364.56 L477.9,364.94 L478.3,365.31 L478.7,365.66 L479.1,366.01 L479.5,366.34 L479.9,366.66 L480.3,366.97 L480.7,367.27 L481.1,367.57 L481.5,367.85 L481.9,368.14 L482.3,368.41 L482.7,368.68 L483.1,368.94 L483.5,369.2 L483.9,369.46 L484.3,369.71 L484.7,369.95 L485.1,370.2 L485.5,370.44 L485.9,370.67 L486.3,370.9 L486.7,371.14 L487.1,371.36 L487.5,371.59 L487.9,371.82 L488.3,372.04 L488.7,372.27 L489.1,372.49 L489.5,372.72 L489.9,372.94 L490.3,373.17 L490.7,373.39 L491.1,373.6 L491.5,373.81 L491.9,374.01 L492.3,374.22 L492.7,374.41 L493.1,374.61 L493.5,374.8 L493.9,374.99 L494.3,375.18 L494.7,375.36 L495.1,375.55 L495.5,375.74 L495.9,375.92 L496.3,376.11 L496.7,376.29 L497.1,376.48 L497.5,376.67 L497.9,376.86 L498.3,377.06 L498.7,377.25 L499.1,377.46 L499.5,377.66 L499.9,377.87 L500.3,378.08 L500.7,378.3 L501.1,378.53 L501.5,378.76 L501.9,378.99 L502.3,379.24 L502.7,379.49 L503.1,379.75 L503.5,380.01 L503.9,380.28 L504.3,380.56 L504.7,380.84 L505.1,381.13 L505.5,381.42 L505.9,381.72 L506.3,382.02 L506.7,382.33 L507.1,382.65 L507.5,382.97 L507.9,383.3 L508.3,383.63 L508.7,383.97 L509.1,384.31 L509.5,384.66 L509.9,385.01 L510.3,385.37 L510.7,385.73 L511.1,386.09 L511.5,386.47 L511.9,386.86 L512.3,387.26 L512.7,387.68 L513.1,388.1 L513.5,388.53 L513.9,388.97 L514.3,389.42 L514.7,389.88 L515.1,390.34 L515.5,390.8 L515.9,391.27 L516.3,391.73 L516.7,392.2 L517.1,392.67 L517.5,393.14 L517.9,393.61 L518.3,394.07 L518.7,394.53 L519.1,394.99 L519.5,395.44 L519.9,395.9 L520.3,396.36 L520.7,396.83 L521.1,397.31 L521.5,397.78 L521.9,398.26 L522.3,398.74 L522.7,399.21 L523.1,399.69 L523.5,400.16 L523.9,400.63 L524.3,401.09 L524.7,401.55 L525.1,402 L525.5,402.44 L525.9,402.87 L526.3,403.29 L526.7,403.7 L527.1,404.1 L527.5,404.5 L527.9,404.9 L528.3,405.3 L528.7,405.7 L529.1,406.1 L529.5,406.5 L529.9,406.89 L530.3,407.28 L530.7,407.66 L531.1,408.04 L531.5,408.4 L531.9,408.75 L532.3,409.09 L532.7,409.41 L533.1,409.72 L533.5,410 L533.9,410.27 L534.3,410.52 L534.7,410.75 L535.1,410.95 L535.5,411.14 L535.9,411.33 L536.3,411.51 L536.7,411.68 L537.1,411.85 L537.5,412.01 L537.9,412.16 L538.3,412.3 L538.7,412.43 L539.1,412.56 L539.5,412.67 L539.9,412.77 L540.3,412.87 L540.7,412.95 L541.1,413.02 L541.5,413.08 L541.9,413.14 L542.3,413.2 L542.7,413.25 L543.1,413.31 L543.5,413.36 L543.9,413.4 L544.3,413.45 L544.7,413.49 L545.1,413.53 L545.5,413.57 L545.9,413.61 L546.3,413.64 L546.7,413.67 L547.1,413.7 L547.5,413.73 L547.9,413.76 L548.3,413.78 L548.7,413.8 L549.1,413.82 L549.5,413.84 L549.9,413.86 L550.3,413.88 L550.7,413.9 L551.1,413.92 L551.5,413.94 L551.9,413.96 L552.3,413.98 L552.7,413.99 L553.1,414.01 L553.5,414.03 L553.9,414.05 L554.3,414.06 L554.7,414.08 L555.1,414.1 L555.5,414.11 L555.9,414.13 L556.3,414.14 L556.7,414.16 L557.1,414.17 L557.5,414.19 L557.9,414.2 L558.3,414.22 L558.7,414.23 L559.1,414.24 L559.5,414.25 L559.9,414.27 L560.3,414.28 L560.7,414.29 L561.1,414.3 L561.5,414.31 L561.9,414.32 L562.3,414.33 L562.7,414.34 L563.1,414.35 L563.5,414.35 L563.9,414.36 L564.3,414.37 L564.7,414.37 L565.1,414.38 L565.5,414.38 L565.9,414.39 L566.3,414.39 L566.7,414.39 L567.1,414.4 L567.5,414.4 L567.9,414.4 L568.3,414.4" stroke="#000" stroke-width="2.2" fill="none" stroke-linejoin="round" />
<line x1="333.5" y1="416.5" x2="437.3" y2="416.5" stroke="#ff0000" stroke-width="2" stroke-dasharray="7.3 8.8"/>
<line x1="422.9" y1="274.5" x2="418" y2="425.5" stroke="#ff0000" stroke-width="2" stroke-dasharray="7.3 8.8"/>
<line x1="496.5" y1="414.4" x2="568.5" y2="414.4" stroke="#ff0000" stroke-width="2" stroke-dasharray="7.3 8.8"/>
<line x1="493.5" y1="367.5" x2="541.2" y2="421.7" stroke="#ff0000" stroke-width="2" stroke-dasharray="7.3 8.8"/>
<line x1="395" y1="372.3" x2="411.97" y2="409.04" stroke="#0000ff" stroke-width="2" />
<path d="M414.9,415.4 L408.64,409.48 L414.45,406.8 Z" fill="#0000ff"/>
<line x1="543.8" y1="382.8" x2="539.32" y2="404.35" stroke="#0000ff" stroke-width="2" />
<path d="M537.9,411.2 L536.39,402.72 L542.66,404.02 Z" fill="#0000ff"/>
<text x="352.4" y="365.4" font-size="15.5" font-weight="bold" fill="#0000ff" text-anchor="start" stroke="#0000ff" stroke-width="0.25" textLength="56.2" lengthAdjust="spacingAndGlyphs" >19.02 eV</text>
<text x="515" y="377.4" font-size="15.5" font-weight="bold" fill="#0000ff" text-anchor="start" stroke="#0000ff" stroke-width="0.25" textLength="48.5" lengthAdjust="spacingAndGlyphs" >4.38 eV</text>
<rect x="333.2" y="246.3" width="236.1" height="192.2" fill="none" stroke="#000" stroke-width="1.8"/>
<line x1="569.2" y1="438.5" x2="569.2" y2="435" stroke="#000" stroke-width="1.4" />
<line x1="549.54" y1="438.5" x2="549.54" y2="436.5" stroke="#000" stroke-width="1.4" />
<line x1="529.87" y1="438.5" x2="529.87" y2="435" stroke="#000" stroke-width="1.4" />
<line x1="510.21" y1="438.5" x2="510.21" y2="436.5" stroke="#000" stroke-width="1.4" />
<line x1="490.54" y1="438.5" x2="490.54" y2="435" stroke="#000" stroke-width="1.4" />
<line x1="470.88" y1="438.5" x2="470.88" y2="436.5" stroke="#000" stroke-width="1.4" />
<line x1="451.21" y1="438.5" x2="451.21" y2="435" stroke="#000" stroke-width="1.4" />
<line x1="431.55" y1="438.5" x2="431.55" y2="436.5" stroke="#000" stroke-width="1.4" />
<line x1="411.88" y1="438.5" x2="411.88" y2="435" stroke="#000" stroke-width="1.4" />
<line x1="392.22" y1="438.5" x2="392.22" y2="436.5" stroke="#000" stroke-width="1.4" />
<line x1="372.55" y1="438.5" x2="372.55" y2="435" stroke="#000" stroke-width="1.4" />
<line x1="352.89" y1="438.5" x2="352.89" y2="436.5" stroke="#000" stroke-width="1.4" />
<line x1="333.22" y1="438.5" x2="333.22" y2="435" stroke="#000" stroke-width="1.4" />
<text x="569.2" y="455" font-size="15" font-weight="bold" fill="#000" text-anchor="middle" stroke="#000" stroke-width="0.25" textLength="7.4" lengthAdjust="spacingAndGlyphs" >0</text>
<text x="529.87" y="455" font-size="15" font-weight="bold" fill="#000" text-anchor="middle" stroke="#000" stroke-width="0.25" textLength="7.4" lengthAdjust="spacingAndGlyphs" >5</text>
<text x="490.54" y="455" font-size="15" font-weight="bold" fill="#000" text-anchor="middle" stroke="#000" stroke-width="0.25" textLength="14.8" lengthAdjust="spacingAndGlyphs" >10</text>
<text x="451.21" y="455" font-size="15" font-weight="bold" fill="#000" text-anchor="middle" stroke="#000" stroke-width="0.25" textLength="14.8" lengthAdjust="spacingAndGlyphs" >15</text>
<text x="411.88" y="455" font-size="15" font-weight="bold" fill="#000" text-anchor="middle" stroke="#000" stroke-width="0.25" textLength="14.8" lengthAdjust="spacingAndGlyphs" >20</text>
<text x="372.55" y="455" font-size="15" font-weight="bold" fill="#000" text-anchor="middle" stroke="#000" stroke-width="0.25" textLength="14.8" lengthAdjust="spacingAndGlyphs" >25</text>
<text x="333.22" y="455" font-size="15" font-weight="bold" fill="#000" text-anchor="middle" stroke="#000" stroke-width="0.25" textLength="14.8" lengthAdjust="spacingAndGlyphs" >30</text>
<text x="364.3" y="477.5" font-size="20.3" font-weight="normal" fill="#000" text-anchor="start" textLength="173.4" lengthAdjust="spacingAndGlyphs" >Binding Energy (eV)</text>
<text transform="translate(321.6,421.2) rotate(-90)" x="0" y="0" font-size="21" font-weight="normal" fill="#000" text-anchor="start" textLength="164.4" lengthAdjust="spacingAndGlyphs">Intensity (arb.units)</text>
<filter id="graine" x="0" y="0" width="100%" height="100%" color-interpolation-filters="sRGB"><feTurbulence type="fractalNoise" baseFrequency="0.5" numOctaves="2" seed="8" result="n"/><feColorMatrix in="n" type="matrix" values="1 0 0 0 0  1 0 0 0 0  1 0 0 0 0  0 0 0 0 1" result="g"/><feComposite in="SourceGraphic" in2="g" operator="arithmetic" k1="0" k2="1" k3="0.25" k4="-0.125"/></filter>
<rect x="44" y="485.4" width="240.7" height="199.6" fill="#8c8c8c" filter="url(#graine)"/>
<defs><filter id="bl1" x="-10%" y="-10%" width="120%" height="120%"><feGaussianBlur stdDeviation="1.2"/></filter><filter id="bl05"><feGaussianBlur stdDeviation="0.75"/></filter><clipPath id="cpe"><rect x="44" y="485.4" width="240.7" height="199.6"/></clipPath></defs>
<g clip-path="url(#cpe)"><g filter="url(#bl05)">
<path d="M90.6 677.3l0.4 4.0M172.8 502.9l1.3 1.2M91.2 526.4l0.7 2.5M131.9 647.9l1.9 0.1M237.4 592.2l0.5 2.4M174.5 530.6l-4.0 1.9M122.3 491.8l-2.4 0.9M201.7 656.1l-3.6 2.7M161.9 652.9l0.3 2.4M160.0 553.1l-3.3 2.9M79.5 519.4l1.1 2.9M272.6 672.5l-4.0 0.4M206.5 540.3l0.6 1.4M243.4 541.4l2.5 0.6M122.6 629.6l2.3 0.0M258.5 655.4l-1.4 3.2M98.8 659.4l-2.4 2.3M84.2 529.5l1.0 2.5M60.5 567.1l0.4 2.5M137.1 552.5l1.4 3.4M163.9 525.9l-2.6 2.0M154.6 627.5l-3.2 3.1M238.3 618.8l-1.3 1.6M211.7 537.1l1.3 1.4M140.1 490.9l-1.9 3.6M229.8 512.4l-1.9 4.0M54.5 525.1l2.1 2.3M86.8 593.2l1.8 3.3M171.9 622.2l2.8 2.8M220.1 629.2l4.7 1.0M182.7 540.6l0.7 3.2M168.7 535.8l1.9 2.1M231.1 573.2l3.1 0.4M93.7 489.4l-2.5 0.2M173.4 557.6l4.6 0.8M267.8 523.7l0.7 2.7M85.6 617.3l-3.2 2.6M206.0 490.4l2.5 2.2M212.6 563.1l0.7 4.4M51.6 539.9l3.0 3.9M99.9 496.3l1.0 3.6M82.4 652.4l3.2 2.3M84.3 660.7l3.3 2.4M244.8 537.2l3.4 1.0M164.3 581.4l-2.4 2.0M163.8 583.0l0.4 2.9M84.1 545.2l1.6 1.8M231.5 509.5l2.7 2.0M120.1 534.3l1.3 3.0M205.8 678.5l-2.7 1.3M153.0 568.9l3.5 3.3M62.3 527.4l-1.7 3.1M112.0 671.6l1.0 3.4M67.6 662.5l2.7 0.9M255.9 673.2l-4.2 1.3M101.3 493.3l0.3 1.7M273.6 488.6l1.2 1.9M49.2 585.3l4.5 1.1M209.0 559.9l-3.8 2.0M123.4 653.9l-3.6 0.8" stroke="#a6a6a6" stroke-width="1.3" stroke-linecap="round" fill="none"/>
<path d="M129.4 664.4l-2.7 0.5M66.5 658.0l-1.1 2.0M180.4 547.7l-2.6 0.7M92.5 495.5l2.4 4.4M97.7 577.2l-1.5 0.1M115.9 648.8l4.5 1.4M243.8 515.2l-1.0 3.3M210.4 547.4l0.8 2.2M115.2 521.6l-4.4 1.4M131.3 623.6l0.1 2.5M128.9 677.1l1.7 3.1M270.0 545.6l-1.6 1.1M219.8 645.9l-4.3 2.4M214.5 679.5l2.1 2.6M96.7 503.5l0.8 3.9M230.5 490.3l-2.3 0.4M115.3 651.0l-3.9 1.3M124.9 578.2l-2.4 1.4M236.9 641.1l0.5 4.6M137.1 634.7l-1.1 2.4M172.0 606.4l-0.2 1.9M281.0 677.4l4.8 0.6M172.0 511.8l-2.5 1.6M215.0 650.0l-0.2 1.7M240.9 623.7l-2.3 0.7M232.1 659.0l1.3 2.6M125.2 488.1l2.0 1.8M71.7 637.8l0.8 3.4M113.5 558.0l-2.2 2.2M187.4 570.3l-0.8 4.6M109.4 589.3l-1.0 1.5M274.0 585.3l3.0 2.9M239.3 611.2l-1.7 0.5M171.0 633.3l-3.6 1.0M188.7 563.5l-0.8 3.4M260.5 649.9l-3.2 3.5M61.7 638.6l0.5 4.1M116.2 579.1l-1.4 0.8M115.0 583.2l-2.2 1.1M241.1 535.2l2.0 2.8M201.0 660.4l-2.2 0.9M222.7 612.1l1.5 3.9M258.7 581.4l-1.9 0.5M85.4 637.5l2.0 2.9M163.8 515.7l-2.9 2.9M80.4 538.2l-3.8 2.8M252.2 585.9l1.2 2.8M87.8 584.7l1.5 1.4M136.2 499.6l0.4 3.9M200.4 679.1l-3.5 1.3" stroke="#b8b8b8" stroke-width="1.5" stroke-linecap="round" fill="none"/>
<path d="M83.8,535.3 L88,525.8 L95.3,519.6 L99.5,510.1 L106.8,503.8 L115.2,502.8 L123.6,504.9 L130.9,500.7 L138.2,497.6 L147,495.5 L154,496.4 L161,492 L170.6,490.3 L175,487.6 L182,490.3 L189,495.5 L196,500.8 L199.5,507.8 L202.2,516.5 L203.9,527 L210,534 L210.9,542.8 L210,549.8 L206.5,553.3 L210,563.8 L211.8,576 L210,583 L206.5,590.1 L197.8,597.1 L189,600.6 L180.3,598.8 L171.5,597.1 L162.8,594.4 L155.8,590.1 L153.1,584.8 L157.5,577.8 L157.5,567.3 L154,565.5 L147,565.5 L142.4,564.6 L136.1,556.2 L125.7,554.1 L121.5,545.7 L111,540.5 L98.5,539.5 L85.9,538.4Z" fill="#a2a2a2" stroke="#a2a2a2" stroke-width="2" filter="url(#bl1)"/>
<path d="M110.5,650.7 L112.6,642.4 L116.8,634 L123,627.7 L127.2,619.3 L131.4,613 L139.8,606.8 L144,600.5 L152.4,599.4 L162.8,602.6 L171.2,599.4 L179.6,600.5 L185.9,606.8 L188,613 L192.1,623.5 L190,634 L188,644.5 L190,652.8 L198.4,657 L204.7,663.3 L204.7,673.8 L200.5,680 L192.1,683.2 L183.8,682.1 L173.3,682.1 L162.8,682.1 L152.4,680 L141.9,678 L131.4,673.8 L120.9,669.6 L114.7,663.3 L109.4,657Z" fill="#a2a2a2" stroke="#a2a2a2" stroke-width="2" filter="url(#bl1)"/>
<path d="M43,567.7 L50.3,573 L54.5,577.1 L53.4,583.4 L60.8,589.7 L64.9,598.1 L60,603 L58,612 L52.4,621 L43,627Z" fill="#a2a2a2" stroke="#a2a2a2" stroke-width="2" filter="url(#bl1)"/>
<path d="M190.2 593.8l0.3 3.0M135.8 668.1l-1.3 1.0M150.0 537.3l-1.2 -1.9M192.1 654.4l-0.1 1.8M118.9 527.5l-2.5 -0.3M188.0 563.0l2.4 -1.7M173.9 629.1l2.5 0.9M49.0 618.6l-1.6 0.4M50.7 589.2l-1.7 1.1M142.8 501.7l1.9 -3.8M173.5 511.3l-3.1 -2.9M134.5 668.1l-2.8 0.4M167.0 625.7l3.5 -1.3M107.1 519.9l-1.9 -0.2M140.9 498.8l-2.2 3.0M112.5 536.3l-2.1 -0.7M208.5 561.1l1.6 1.2M193.9 525.0l1.5 0.9M148.9 611.5l-3.1 -2.1M135.4 511.3l-1.5 -1.0M92.9 538.3l-1.5 0.3M198.9 507.8l0.4 -3.9M190.3 557.7l3.6 1.8M168.0 630.4l1.5 -3.5M181.7 559.3l3.4 1.0M191.8 548.0l1.8 4.0M201.2 521.1l2.2 -3.4M188.1 670.4l1.5 2.5M182.9 671.9l1.6 1.5M172.1 665.4l1.5 0.8M144.0 522.5l1.5 -1.9M172.0 558.9l4.1 -0.8M152.1 502.7l-0.3 -4.3M178.9 658.9l2.0 -1.2M138.7 659.2l-2.3 1.6M179.8 529.5l3.9 -1.0M162.4 569.8l2.7 2.3M175.3 619.5l-0.1 -3.7M115.3 518.8l-1.6 -0.6M201.8 575.3l2.1 0.1M175.8 491.8l-3.1 -3.0M146.9 658.0l-1.2 1.5M174.5 659.5l2.5 -0.6M191.4 571.1l-0.0 2.3M152.5 662.4l-2.4 2.6M161.6 542.9l1.6 0.0M136.3 643.6l-2.5 0.6M156.1 632.6l-1.8 -1.2M171.4 658.7l3.3 1.0M186.2 557.2l-0.9 2.2M197.3 555.3l3.8 -1.1M175.0 570.1l4.4 0.7M201.8 547.3l1.7 3.0M142.1 626.0l0.7 -3.3M128.8 649.9l-3.6 0.2M190.7 574.7l1.8 1.6M145.6 553.5l-2.4 2.4M169.9 534.1l0.0 -3.2M203.5 536.9l2.2 -1.6M188.4 533.3l2.4 1.9M111.2 515.2l-3.4 -2.5M193.5 517.9l0.2 -1.6M148.0 666.4l-2.0 1.6M140.7 647.0l-1.0 2.1M167.3 531.5l1.4 -0.6M172.3 554.2l-0.3 3.6M194.3 562.3l0.9 4.1M136.6 612.1l-0.4 -4.1M178.5 510.8l1.6 -2.6M155.4 631.5l-2.6 -0.9M164.5 628.4l0.6 -1.5M188.6 681.0l2.8 1.6M193.8 666.6l0.7 1.4M184.8 666.7l2.5 -1.3M205.8 559.3l2.5 1.7M117.6 656.5l-3.5 0.5M162.8 651.2l2.4 0.8M122.3 650.8l-3.8 -0.2M144.0 551.5l-3.1 0.5M125.3 544.2l-4.3 -0.3M103.0 537.6l1.9 -4.0M119.6 505.6l-0.8 -1.3M158.8 524.4l-1.3 -3.1M191.2 593.1l3.6 -1.4M181.4 595.5l-1.8 3.7M157.6 540.3l-1.5 -1.3M149.0 617.0l-1.4 -2.2M129.6 506.7l-1.0 1.4M108.7 505.5l1.4 -1.5M118.2 529.6l-2.8 -1.6M183.6 519.8l3.1 -1.9M44.7 618.3l-0.7 2.4M47.5 615.4l1.8 0.0M169.1 565.3l-1.2 1.2M152.7 548.4l-2.5 2.6M146.4 525.6l-3.6 2.4M187.5 514.6l4.0 -1.6M147.8 531.9l-2.1 -0.4M197.0 572.0l2.8 3.5M169.7 620.0l-0.7 -4.3M98.0 529.3l-3.2 -0.6M165.8 518.4l1.2 -2.4M168.6 602.5l1.0 -2.3M203.3 570.7l3.4 1.9M193.3 529.7l2.9 -1.8M171.3 624.6l1.7 -1.0M54.6 591.6l-0.4 -1.5M133.9 514.6l-1.4 1.7M96.5 520.1l-1.3 -1.7M140.4 608.1l-2.2 -2.9M107.1 507.3l-2.3 -0.1M143.9 511.6l-2.9 -0.5M44.7 617.7l-3.1 2.2M179.4 622.5l3.4 0.7M182.0 501.3l3.7 -0.3M138.4 544.7l1.4 4.0M183.3 665.8l1.3 1.4M184.3 596.3l-0.0 2.5M190.2 555.2l1.9 0.2M152.4 640.9l-2.5 -0.6M184.8 559.8l2.2 2.1M198.5 561.5l2.4 2.1M148.3 522.7l0.2 -3.6M144.5 508.2l0.5 -3.4M175.5 614.7l0.4 -3.1M164.3 558.9l-1.0 1.8M168.9 492.2l2.6 0.1M171.2 505.0l-3.8 1.7M167.7 663.7l3.0 2.1M127.8 530.3l-0.2 -3.2M177.4 657.6l2.4 -0.1M148.1 653.1l-1.2 2.0M57.0 602.7l-2.1 3.0M190.8 500.8l1.5 -0.4M194.8 526.8l3.6 -0.8M193.5 580.8l0.8 2.0M193.6 661.8l3.3 -2.0M105.3 530.3l-2.3 -3.8M190.6 523.1l-1.3 -3.6M181.8 563.4l1.7 1.4M150.5 507.4l-3.4 -1.9M187.1 586.9l-0.8 1.7M153.5 605.7l-3.1 -0.5M172.4 676.7l2.6 3.2M158.7 678.6l-0.5 1.8M48.2 581.3l-1.4 -3.7M47.6 583.0l-0.9 -3.8M173.0 667.6l2.2 1.6M190.1 508.0l2.4 -2.2M191.3 526.0l2.1 -1.7M163.0 655.6l-2.3 3.6M186.8 590.7l2.5 -2.7M193.2 534.7l0.8 -2.4M169.1 500.2l-1.0 -1.7M128.8 631.3l-2.5 -3.2M179.7 652.2l3.6 1.4M178.0 656.6l-0.2 3.4M139.7 546.4l1.7 2.2M142.2 652.7l0.3 3.7M153.9 538.3l-1.9 2.9M123.9 504.8l-1.6 -0.9M152.4 503.2l-2.6 -0.4M174.9 638.0l-0.2 -3.1M44.4 576.6l1.2 -3.2M199.2 595.9l2.0 0.4M133.7 555.3l-2.1 0.9M166.2 572.9l1.4 1.8M158.1 679.7l1.2 2.7M188.7 507.9l2.7 -0.5M168.0 515.4l2.8 -3.3M138.8 607.8l-3.5 -1.4M110.2 531.6l-2.4 0.4M137.5 626.0l-1.6 -0.9M136.3 642.8l-2.6 1.6M148.8 537.1l-2.7 0.8M134.7 668.3l-2.0 1.6M159.0 669.8l0.2 2.0M200.0 659.2l2.2 -3.0M144.4 558.4l-0.7 2.4M150.0 630.1l-2.3 -3.5M121.7 668.6l1.2 4.2M140.3 657.7l1.2 4.0M148.1 612.4l-0.2 -1.9M143.4 558.6l1.4 2.3M131.2 536.4l-1.5 -0.4M127.5 661.0l-0.5 2.2M166.0 671.6l2.6 3.6M120.4 541.5l-2.6 -1.8M190.3 556.7l3.2 -1.8M142.4 519.4l-0.7 -1.5M209.3 569.4l3.9 1.7M55.8 588.6l-1.8 -0.3M157.2 662.0l-3.6 -0.6M179.5 492.8l-3.5 -1.8M147.4 518.5l0.6 -3.5M154.9 639.9l-3.5 -2.6M117.8 522.3l-2.1 -1.6M178.6 618.2l2.4 -0.2M136.5 515.5l-1.2 -2.7M107.1 529.4l-2.0 -3.7M201.2 669.9l0.1 2.4M203.6 527.8l3.8 1.0M140.3 527.0l-0.2 -4.2M45.7 623.3l-1.4 1.4M164.3 591.4l-0.4 3.5M182.7 589.8l-0.2 3.8M206.1 563.0l1.4 0.9M128.2 527.7l-1.7 0.2M203.5 667.8l-1.9 -1.6M143.5 666.9l-0.1 3.3M194.9 676.8l2.7 0.4M144.2 618.3l-2.2 -3.4M201.3 516.2l-0.4 -1.5M168.2 518.6l1.6 -3.1M147.3 612.4l-1.8 -2.3M161.8 526.0l0.5 -1.9M186.2 620.3l2.8 -2.2M45.2 617.9l-0.9 2.1M154.3 552.5l-1.2 1.1M177.1 607.2l-3.0 -3.2M176.1 664.5l-1.6 4.0M132.0 619.3l-1.6 -1.4M159.9 555.3l1.1 2.4M160.0 549.0l-1.0 1.2M164.2 653.5l1.4 3.3M143.4 661.6l-1.2 1.4M198.0 525.6l1.8 2.4M165.0 628.9l2.9 -1.6M103.6 536.2l-1.0 -2.8M203.4 669.7l1.8 -1.1M171.2 570.7l-0.2 2.8M128.0 620.6l-0.7 -2.6M182.8 578.9l-0.9 4.0M112.0 517.9l-1.3 0.8M138.8 534.2l-3.1 -2.3M184.3 659.2l3.4 2.8M130.5 619.6l-3.2 -2.9M90.0 534.4l-2.1 -1.2M174.7 537.8l0.1 3.2M174.3 649.7l1.1 -2.3M182.2 553.0l2.6 -1.0M191.9 525.9l2.0 1.2M157.3 502.9l1.6 -2.9M116.2 652.5l-0.9 2.1M121.2 522.6l-2.3 -1.5M153.2 665.6l-3.1 2.0M119.2 510.9l-3.1 0.1M158.9 637.5l-0.7 -2.5M145.9 505.6l0.1 -1.6M161.0 573.9l1.5 3.8M113.7 526.8l-1.6 2.2M180.9 619.4l3.2 -2.9M145.4 537.1l-3.0 3.3M91.5 531.6l-3.0 -0.6M169.1 644.0l0.5 4.3M136.5 531.0l-2.0 -0.3M145.9 500.6l-1.7 -2.3M177.8 579.1l1.5 0.5M143.2 532.2l-3.1 0.8M191.6 597.1l-2.8 2.1M184.6 533.2l1.3 -3.4M166.5 587.9l-2.2 1.9M145.2 631.9l-1.4 -3.9M200.6 532.8l3.6 0.5M143.3 606.1l-1.9 -2.2M174.4 641.8l1.5 0.9M125.1 665.6l2.2 3.2M164.7 563.8l0.3 1.6M191.7 683.1l1.5 1.0M193.4 572.5l-1.9 1.5M199.0 665.5l3.3 3.0M184.7 583.5l2.9 -3.4M160.2 634.9l3.5 1.4M168.8 529.2l1.9 -1.0M198.0 553.5l2.5 -0.8M130.1 533.9l-3.7 2.1M171.1 663.9l-0.5 1.6M136.4 516.1l-3.6 -1.7M169.7 529.0l1.0 -1.5M125.5 542.0l3.8 -0.2M181.6 604.3l0.3 -2.0M129.3 625.3l-3.3 2.0M182.2 619.3l-0.8 -1.7M186.1 560.6l2.6 0.7M135.3 544.8l-4.4 0.1M171.4 604.1l0.6 -2.3M158.1 499.7l-1.4 -2.4M154.0 514.7l-0.4 -4.3M130.0 525.7l-3.0 2.7M119.7 645.7l-2.0 3.7M194.3 517.2l-0.2 -3.3M186.2 650.2l1.8 0.4M146.1 616.9l4.3 1.5M148.8 630.4l-0.3 -3.0M140.7 514.7l-1.6 -4.1M199.5 678.8l1.8 2.5M176.9 543.0l3.9 0.6M182.9 596.5l1.7 -1.4M151.2 533.1l-3.8 -0.9M152.9 530.8l0.9 -1.7M135.8 650.1l-0.8 3.7M184.8 567.8l0.7 -2.8M125.6 531.7l-1.7 -3.5M174.0 640.2l2.6 -2.2M192.1 561.4l1.7 -0.1M182.6 515.0l2.8 -2.9M162.4 549.0l0.3 3.9M197.0 675.7l-0.3 3.0M145.1 547.0l0.4 -2.3M147.1 512.4l-3.3 -2.7M119.1 652.8l-2.7 2.7M176.8 570.5l-2.8 2.4M163.0 646.8l2.0 0.1M178.1 495.7l1.4 -1.0M133.7 659.6l-2.0 -3.8M52.9 616.1l0.4 3.4M177.9 490.4l2.3 -2.1M180.0 548.7l2.5 0.7M146.7 659.1l1.8 3.8M159.2 533.6l-0.1 -1.7M125.8 504.8l0.5 -4.2M132.3 666.9l-1.5 2.9M175.9 533.8l4.4 -0.3M188.7 640.6l3.2 2.6M56.3 591.8l2.4 -3.8M120.4 524.8l-2.9 -1.8M47.2 590.4l-3.4 -0.7M151.8 640.6l-1.7 -0.9M179.5 632.1l3.0 1.3M163.2 526.4l-0.9 -1.7M168.6 657.2l-0.0 2.8M209.6 575.9l-0.3 2.8M191.7 540.5l2.2 -0.0M157.4 506.7l-1.6 -2.0M168.2 566.1l2.7 1.2M191.0 537.5l3.0 0.7M176.5 505.8l0.5 -2.0M157.4 583.0l2.0 2.3M135.9 518.8l-1.5 -2.1M190.4 671.7l2.9 2.6M125.5 638.8l-1.8 2.5M158.6 612.2l-2.4 -3.3M153.9 535.2l-0.5 -3.9M137.8 665.2l-1.2 1.1M131.2 551.2l-0.8 2.7M122.5 646.0l-3.4 2.4M148.8 615.0l1.4 -2.8M207.7 546.9l2.3 2.7M169.6 528.0l1.6 0.2M123.1 669.8l-1.6 1.2M184.5 631.5l3.1 1.9M176.7 582.1l1.4 1.2M199.1 551.2l1.9 3.6M143.6 544.4l-1.2 0.9M167.6 609.9l2.3 -1.1M199.2 679.7l2.0 3.1M154.0 667.8l1.8 1.9M194.1 673.9l2.0 1.3M43.3 614.0l-2.7 2.9M124.4 665.7l-3.9 0.8M190.2 510.7l2.2 -3.1M169.9 495.3l3.8 1.9M113.7 659.0l-3.2 -0.6M185.8 533.1l1.6 -0.2M138.1 554.5l-3.1 2.9M192.9 523.9l2.9 -2.4M174.0 556.8l4.0 1.6M170.7 618.7l3.1 -1.1M175.7 630.1l3.0 -2.8M161.6 677.3l0.3 4.0M170.2 607.4l0.5 -2.9M167.5 572.2l2.3 0.4M126.5 645.4l0.2 -3.9M102.8 531.4l-2.6 0.1M118.0 534.4l-0.9 -2.8M183.8 548.5l3.2 0.9" stroke="#808080" stroke-width="4.8" stroke-linecap="round" fill="none"/>
<path d="M190.2 593.8l0.3 3.0M135.8 668.1l-1.3 1.0M150.0 537.3l-1.2 -1.9M192.1 654.4l-0.1 1.8M118.9 527.5l-2.5 -0.3M188.0 563.0l2.4 -1.7M173.9 629.1l2.5 0.9M49.0 618.6l-1.6 0.4M50.7 589.2l-1.7 1.1M142.8 501.7l1.9 -3.8M173.5 511.3l-3.1 -2.9M134.5 668.1l-2.8 0.4M167.0 625.7l3.5 -1.3M107.1 519.9l-1.9 -0.2M140.9 498.8l-2.2 3.0M112.5 536.3l-2.1 -0.7M208.5 561.1l1.6 1.2M193.9 525.0l1.5 0.9M148.9 611.5l-3.1 -2.1M135.4 511.3l-1.5 -1.0M92.9 538.3l-1.5 0.3M198.9 507.8l0.4 -3.9M190.3 557.7l3.6 1.8M168.0 630.4l1.5 -3.5M181.7 559.3l3.4 1.0M191.8 548.0l1.8 4.0M201.2 521.1l2.2 -3.4M188.1 670.4l1.5 2.5M182.9 671.9l1.6 1.5M172.1 665.4l1.5 0.8M144.0 522.5l1.5 -1.9M172.0 558.9l4.1 -0.8M152.1 502.7l-0.3 -4.3M178.9 658.9l2.0 -1.2M138.7 659.2l-2.3 1.6M179.8 529.5l3.9 -1.0M162.4 569.8l2.7 2.3M175.3 619.5l-0.1 -3.7M115.3 518.8l-1.6 -0.6M201.8 575.3l2.1 0.1M175.8 491.8l-3.1 -3.0M146.9 658.0l-1.2 1.5M174.5 659.5l2.5 -0.6M191.4 571.1l-0.0 2.3M152.5 662.4l-2.4 2.6M161.6 542.9l1.6 0.0M136.3 643.6l-2.5 0.6M156.1 632.6l-1.8 -1.2M171.4 658.7l3.3 1.0M186.2 557.2l-0.9 2.2M197.3 555.3l3.8 -1.1M175.0 570.1l4.4 0.7M201.8 547.3l1.7 3.0M142.1 626.0l0.7 -3.3M128.8 649.9l-3.6 0.2M190.7 574.7l1.8 1.6M145.6 553.5l-2.4 2.4M169.9 534.1l0.0 -3.2M203.5 536.9l2.2 -1.6M188.4 533.3l2.4 1.9M111.2 515.2l-3.4 -2.5M193.5 517.9l0.2 -1.6M148.0 666.4l-2.0 1.6M140.7 647.0l-1.0 2.1M167.3 531.5l1.4 -0.6M172.3 554.2l-0.3 3.6M194.3 562.3l0.9 4.1M136.6 612.1l-0.4 -4.1M178.5 510.8l1.6 -2.6M155.4 631.5l-2.6 -0.9M164.5 628.4l0.6 -1.5M188.6 681.0l2.8 1.6M193.8 666.6l0.7 1.4M184.8 666.7l2.5 -1.3M205.8 559.3l2.5 1.7M117.6 656.5l-3.5 0.5M162.8 651.2l2.4 0.8M122.3 650.8l-3.8 -0.2M144.0 551.5l-3.1 0.5M125.3 544.2l-4.3 -0.3M103.0 537.6l1.9 -4.0M119.6 505.6l-0.8 -1.3M158.8 524.4l-1.3 -3.1M191.2 593.1l3.6 -1.4M181.4 595.5l-1.8 3.7M157.6 540.3l-1.5 -1.3M149.0 617.0l-1.4 -2.2M129.6 506.7l-1.0 1.4M108.7 505.5l1.4 -1.5M118.2 529.6l-2.8 -1.6M183.6 519.8l3.1 -1.9M44.7 618.3l-0.7 2.4M47.5 615.4l1.8 0.0M169.1 565.3l-1.2 1.2M152.7 548.4l-2.5 2.6M146.4 525.6l-3.6 2.4M187.5 514.6l4.0 -1.6M147.8 531.9l-2.1 -0.4M197.0 572.0l2.8 3.5M169.7 620.0l-0.7 -4.3M98.0 529.3l-3.2 -0.6M165.8 518.4l1.2 -2.4M168.6 602.5l1.0 -2.3M203.3 570.7l3.4 1.9M193.3 529.7l2.9 -1.8M171.3 624.6l1.7 -1.0M54.6 591.6l-0.4 -1.5M133.9 514.6l-1.4 1.7M96.5 520.1l-1.3 -1.7M140.4 608.1l-2.2 -2.9M107.1 507.3l-2.3 -0.1M143.9 511.6l-2.9 -0.5M44.7 617.7l-3.1 2.2M179.4 622.5l3.4 0.7M182.0 501.3l3.7 -0.3M138.4 544.7l1.4 4.0M183.3 665.8l1.3 1.4M184.3 596.3l-0.0 2.5M190.2 555.2l1.9 0.2M152.4 640.9l-2.5 -0.6M184.8 559.8l2.2 2.1M198.5 561.5l2.4 2.1M148.3 522.7l0.2 -3.6M144.5 508.2l0.5 -3.4M175.5 614.7l0.4 -3.1M164.3 558.9l-1.0 1.8M168.9 492.2l2.6 0.1M171.2 505.0l-3.8 1.7M167.7 663.7l3.0 2.1M127.8 530.3l-0.2 -3.2M177.4 657.6l2.4 -0.1M148.1 653.1l-1.2 2.0M57.0 602.7l-2.1 3.0M190.8 500.8l1.5 -0.4M194.8 526.8l3.6 -0.8M193.5 580.8l0.8 2.0M193.6 661.8l3.3 -2.0M105.3 530.3l-2.3 -3.8M190.6 523.1l-1.3 -3.6M181.8 563.4l1.7 1.4M150.5 507.4l-3.4 -1.9M187.1 586.9l-0.8 1.7M153.5 605.7l-3.1 -0.5M172.4 676.7l2.6 3.2M158.7 678.6l-0.5 1.8M48.2 581.3l-1.4 -3.7M47.6 583.0l-0.9 -3.8M173.0 667.6l2.2 1.6M190.1 508.0l2.4 -2.2M191.3 526.0l2.1 -1.7M163.0 655.6l-2.3 3.6M186.8 590.7l2.5 -2.7M193.2 534.7l0.8 -2.4M169.1 500.2l-1.0 -1.7M128.8 631.3l-2.5 -3.2M179.7 652.2l3.6 1.4M178.0 656.6l-0.2 3.4M139.7 546.4l1.7 2.2M142.2 652.7l0.3 3.7M153.9 538.3l-1.9 2.9M123.9 504.8l-1.6 -0.9M152.4 503.2l-2.6 -0.4M174.9 638.0l-0.2 -3.1M44.4 576.6l1.2 -3.2M199.2 595.9l2.0 0.4M133.7 555.3l-2.1 0.9M166.2 572.9l1.4 1.8M158.1 679.7l1.2 2.7M188.7 507.9l2.7 -0.5M168.0 515.4l2.8 -3.3M138.8 607.8l-3.5 -1.4M110.2 531.6l-2.4 0.4M137.5 626.0l-1.6 -0.9M136.3 642.8l-2.6 1.6M148.8 537.1l-2.7 0.8M134.7 668.3l-2.0 1.6M159.0 669.8l0.2 2.0M200.0 659.2l2.2 -3.0M144.4 558.4l-0.7 2.4M150.0 630.1l-2.3 -3.5M121.7 668.6l1.2 4.2M140.3 657.7l1.2 4.0M148.1 612.4l-0.2 -1.9M143.4 558.6l1.4 2.3M131.2 536.4l-1.5 -0.4M127.5 661.0l-0.5 2.2M166.0 671.6l2.6 3.6M120.4 541.5l-2.6 -1.8M190.3 556.7l3.2 -1.8M142.4 519.4l-0.7 -1.5M209.3 569.4l3.9 1.7M55.8 588.6l-1.8 -0.3M157.2 662.0l-3.6 -0.6M179.5 492.8l-3.5 -1.8M147.4 518.5l0.6 -3.5M154.9 639.9l-3.5 -2.6M117.8 522.3l-2.1 -1.6M178.6 618.2l2.4 -0.2M136.5 515.5l-1.2 -2.7M107.1 529.4l-2.0 -3.7M201.2 669.9l0.1 2.4M203.6 527.8l3.8 1.0M140.3 527.0l-0.2 -4.2M45.7 623.3l-1.4 1.4M164.3 591.4l-0.4 3.5M182.7 589.8l-0.2 3.8M206.1 563.0l1.4 0.9M128.2 527.7l-1.7 0.2M203.5 667.8l-1.9 -1.6M143.5 666.9l-0.1 3.3M194.9 676.8l2.7 0.4M144.2 618.3l-2.2 -3.4M201.3 516.2l-0.4 -1.5M168.2 518.6l1.6 -3.1M147.3 612.4l-1.8 -2.3M161.8 526.0l0.5 -1.9M186.2 620.3l2.8 -2.2M45.2 617.9l-0.9 2.1M154.3 552.5l-1.2 1.1M177.1 607.2l-3.0 -3.2M176.1 664.5l-1.6 4.0M132.0 619.3l-1.6 -1.4M159.9 555.3l1.1 2.4M160.0 549.0l-1.0 1.2M164.2 653.5l1.4 3.3M143.4 661.6l-1.2 1.4M198.0 525.6l1.8 2.4M165.0 628.9l2.9 -1.6M103.6 536.2l-1.0 -2.8M203.4 669.7l1.8 -1.1M171.2 570.7l-0.2 2.8M128.0 620.6l-0.7 -2.6M182.8 578.9l-0.9 4.0M112.0 517.9l-1.3 0.8M138.8 534.2l-3.1 -2.3M184.3 659.2l3.4 2.8M130.5 619.6l-3.2 -2.9M90.0 534.4l-2.1 -1.2M174.7 537.8l0.1 3.2M174.3 649.7l1.1 -2.3M182.2 553.0l2.6 -1.0M191.9 525.9l2.0 1.2M157.3 502.9l1.6 -2.9M116.2 652.5l-0.9 2.1M121.2 522.6l-2.3 -1.5M153.2 665.6l-3.1 2.0M119.2 510.9l-3.1 0.1M158.9 637.5l-0.7 -2.5M145.9 505.6l0.1 -1.6M161.0 573.9l1.5 3.8M113.7 526.8l-1.6 2.2M180.9 619.4l3.2 -2.9M145.4 537.1l-3.0 3.3M91.5 531.6l-3.0 -0.6M169.1 644.0l0.5 4.3M136.5 531.0l-2.0 -0.3M145.9 500.6l-1.7 -2.3M177.8 579.1l1.5 0.5M143.2 532.2l-3.1 0.8M191.6 597.1l-2.8 2.1M184.6 533.2l1.3 -3.4M166.5 587.9l-2.2 1.9M145.2 631.9l-1.4 -3.9M200.6 532.8l3.6 0.5M143.3 606.1l-1.9 -2.2M174.4 641.8l1.5 0.9M125.1 665.6l2.2 3.2M164.7 563.8l0.3 1.6M191.7 683.1l1.5 1.0M193.4 572.5l-1.9 1.5M199.0 665.5l3.3 3.0M184.7 583.5l2.9 -3.4M160.2 634.9l3.5 1.4M168.8 529.2l1.9 -1.0M198.0 553.5l2.5 -0.8M130.1 533.9l-3.7 2.1M171.1 663.9l-0.5 1.6M136.4 516.1l-3.6 -1.7M169.7 529.0l1.0 -1.5M125.5 542.0l3.8 -0.2M181.6 604.3l0.3 -2.0M129.3 625.3l-3.3 2.0M182.2 619.3l-0.8 -1.7M186.1 560.6l2.6 0.7M135.3 544.8l-4.4 0.1M171.4 604.1l0.6 -2.3M158.1 499.7l-1.4 -2.4M154.0 514.7l-0.4 -4.3M130.0 525.7l-3.0 2.7M119.7 645.7l-2.0 3.7M194.3 517.2l-0.2 -3.3M186.2 650.2l1.8 0.4M146.1 616.9l4.3 1.5M148.8 630.4l-0.3 -3.0M140.7 514.7l-1.6 -4.1M199.5 678.8l1.8 2.5M176.9 543.0l3.9 0.6M182.9 596.5l1.7 -1.4M151.2 533.1l-3.8 -0.9M152.9 530.8l0.9 -1.7M135.8 650.1l-0.8 3.7M184.8 567.8l0.7 -2.8M125.6 531.7l-1.7 -3.5M174.0 640.2l2.6 -2.2M192.1 561.4l1.7 -0.1M182.6 515.0l2.8 -2.9M162.4 549.0l0.3 3.9M197.0 675.7l-0.3 3.0M145.1 547.0l0.4 -2.3M147.1 512.4l-3.3 -2.7M119.1 652.8l-2.7 2.7M176.8 570.5l-2.8 2.4M163.0 646.8l2.0 0.1M178.1 495.7l1.4 -1.0M133.7 659.6l-2.0 -3.8M52.9 616.1l0.4 3.4M177.9 490.4l2.3 -2.1M180.0 548.7l2.5 0.7M146.7 659.1l1.8 3.8M159.2 533.6l-0.1 -1.7M125.8 504.8l0.5 -4.2M132.3 666.9l-1.5 2.9M175.9 533.8l4.4 -0.3M188.7 640.6l3.2 2.6M56.3 591.8l2.4 -3.8M120.4 524.8l-2.9 -1.8M47.2 590.4l-3.4 -0.7M151.8 640.6l-1.7 -0.9M179.5 632.1l3.0 1.3M163.2 526.4l-0.9 -1.7M168.6 657.2l-0.0 2.8M209.6 575.9l-0.3 2.8M191.7 540.5l2.2 -0.0M157.4 506.7l-1.6 -2.0M168.2 566.1l2.7 1.2M191.0 537.5l3.0 0.7M176.5 505.8l0.5 -2.0M157.4 583.0l2.0 2.3M135.9 518.8l-1.5 -2.1M190.4 671.7l2.9 2.6M125.5 638.8l-1.8 2.5M158.6 612.2l-2.4 -3.3M153.9 535.2l-0.5 -3.9M137.8 665.2l-1.2 1.1M131.2 551.2l-0.8 2.7M122.5 646.0l-3.4 2.4M148.8 615.0l1.4 -2.8M207.7 546.9l2.3 2.7M169.6 528.0l1.6 0.2M123.1 669.8l-1.6 1.2M184.5 631.5l3.1 1.9M176.7 582.1l1.4 1.2M199.1 551.2l1.9 3.6M143.6 544.4l-1.2 0.9M167.6 609.9l2.3 -1.1M199.2 679.7l2.0 3.1M154.0 667.8l1.8 1.9M194.1 673.9l2.0 1.3M43.3 614.0l-2.7 2.9M124.4 665.7l-3.9 0.8M190.2 510.7l2.2 -3.1M169.9 495.3l3.8 1.9M113.7 659.0l-3.2 -0.6M185.8 533.1l1.6 -0.2M138.1 554.5l-3.1 2.9M192.9 523.9l2.9 -2.4M174.0 556.8l4.0 1.6M170.7 618.7l3.1 -1.1M175.7 630.1l3.0 -2.8M161.6 677.3l0.3 4.0M170.2 607.4l0.5 -2.9M167.5 572.2l2.3 0.4M126.5 645.4l0.2 -3.9M102.8 531.4l-2.6 0.1M118.0 534.4l-0.9 -2.8M183.8 548.5l3.2 0.9" stroke="#c0c0c0" stroke-width="3.4" stroke-linecap="round" fill="none"/>
<path d="M189.7 593.3l0.2 2.4M135.3 667.6l-1.1 0.8M149.5 536.8l-1.0 -1.5M191.6 653.9l-0.1 1.4M118.4 527.0l-2.0 -0.2M187.5 562.5l1.9 -1.4M173.4 628.6l2.0 0.8M48.5 618.1l-1.3 0.3M50.2 588.7l-1.3 0.8M142.3 501.2l1.5 -3.0M173.0 510.8l-2.5 -2.3M134.0 667.6l-2.2 0.3M166.5 625.2l2.8 -1.0M106.6 519.4l-1.5 -0.2M140.4 498.3l-1.8 2.4M112.0 535.8l-1.7 -0.6M208.0 560.6l1.2 1.0M193.4 524.5l1.2 0.7M148.4 611.0l-2.5 -1.6M134.9 510.8l-1.2 -0.8M92.4 537.8l-1.2 0.2M198.4 507.3l0.3 -3.1M189.8 557.2l2.9 1.5M167.5 629.9l1.2 -2.8M181.2 558.8l2.8 0.8M191.3 547.5l1.4 3.2M200.7 520.6l1.8 -2.8M187.6 669.9l1.2 2.0M182.4 671.4l1.3 1.2M171.6 664.9l1.2 0.6M143.5 522.0l1.2 -1.5M171.5 558.4l3.3 -0.6M151.6 502.2l-0.2 -3.4M178.4 658.4l1.6 -1.0M138.2 658.7l-1.8 1.3M179.3 529.0l3.1 -0.8M161.9 569.3l2.1 1.8M174.8 619.0l-0.1 -2.9M114.8 518.3l-1.2 -0.5M201.3 574.8l1.7 0.1M175.3 491.3l-2.5 -2.4M146.4 657.5l-1.0 1.2M174.0 659.0l2.0 -0.4M190.9 570.6l-0.0 1.8M152.0 661.9l-1.9 2.0M161.1 542.4l1.3 0.0M135.8 643.1l-2.0 0.5M155.6 632.1l-1.4 -0.9M170.9 658.2l2.6 0.8M185.7 556.7l-0.7 1.7M196.8 554.8l3.0 -0.9M174.5 569.6l3.5 0.6M201.3 546.8l1.4 2.4M141.6 625.5l0.6 -2.6M128.3 649.4l-2.9 0.2M190.2 574.2l1.5 1.2M145.1 553.0l-1.9 1.9M169.4 533.6l0.0 -2.5M203.0 536.4l1.7 -1.2M187.9 532.8l1.9 1.5M110.7 514.7l-2.8 -2.0M193.0 517.4l0.2 -1.3M147.5 665.9l-1.6 1.3M140.2 646.5l-0.8 1.7M166.8 531.0l1.2 -0.5M171.8 553.7l-0.3 2.8M193.8 561.8l0.7 3.3M136.1 611.6l-0.3 -3.3M178.0 510.3l1.3 -2.1M154.9 631.0l-2.1 -0.7M164.0 627.9l0.5 -1.2M188.1 680.5l2.2 1.3M193.3 666.1l0.6 1.1M184.3 666.2l2.0 -1.0M205.3 558.8l2.0 1.4M117.1 656.0l-2.8 0.4M162.3 650.7l1.9 0.6M121.8 650.3l-3.0 -0.2M143.5 551.0l-2.5 0.4M124.8 543.7l-3.4 -0.2M102.5 537.1l1.5 -3.2M119.1 505.1l-0.6 -1.1M158.3 523.9l-1.1 -2.5M190.7 592.6l2.9 -1.1M180.9 595.0l-1.4 2.9M157.1 539.8l-1.2 -1.0M148.5 616.5l-1.2 -1.8M129.1 506.2l-0.8 1.2M108.2 505.0l1.1 -1.2M117.7 529.1l-2.2 -1.3M183.1 519.3l2.5 -1.5M44.2 617.8l-0.5 2.0M47.0 614.9l1.4 0.0M168.6 564.8l-1.0 1.0M152.2 547.9l-2.0 2.1M145.9 525.1l-2.9 1.9M187.0 514.1l3.2 -1.2M147.3 531.4l-1.6 -0.3M196.5 571.5l2.2 2.8M169.2 619.5l-0.6 -3.4M97.5 528.8l-2.6 -0.5M165.3 517.9l1.0 -2.0M168.1 602.0l0.8 -1.9M202.8 570.2l2.7 1.5M192.8 529.2l2.3 -1.5M170.8 624.1l1.3 -0.8M54.1 591.1l-0.3 -1.2M133.4 514.1l-1.1 1.4M96.0 519.6l-1.0 -1.3M139.9 607.6l-1.7 -2.3M106.6 506.8l-1.8 -0.1M143.4 511.1l-2.3 -0.4M44.2 617.2l-2.5 1.8M178.9 622.0l2.8 0.5M181.5 500.8l3.0 -0.3M137.9 544.2l1.1 3.2M182.8 665.3l1.1 1.1M183.8 595.8l-0.0 2.0M189.7 554.7l1.5 0.2M151.9 640.4l-2.0 -0.4M184.3 559.3l1.8 1.7M198.0 561.0l1.9 1.7M147.8 522.2l0.1 -2.9M144.0 507.7l0.4 -2.8M175.0 614.2l0.3 -2.5M163.8 558.4l-0.8 1.5M168.4 491.7l2.1 0.1M170.7 504.5l-3.1 1.4M167.2 663.2l2.4 1.7M127.3 529.8l-0.2 -2.6M176.9 657.1l1.9 -0.1M147.6 652.6l-1.0 1.6M56.5 602.2l-1.7 2.4M190.3 500.3l1.2 -0.3M194.3 526.3l2.9 -0.7M193.0 580.3l0.6 1.6M193.1 661.3l2.6 -1.6M104.8 529.8l-1.9 -3.1M190.1 522.6l-1.0 -2.9M181.3 562.9l1.4 1.1M150.0 506.9l-2.7 -1.5M186.6 586.4l-0.6 1.4M153.0 605.2l-2.5 -0.4M171.9 676.2l2.0 2.5M158.2 678.1l-0.4 1.5M47.7 580.8l-1.1 -3.0M47.1 582.5l-0.7 -3.1M172.5 667.1l1.8 1.3M189.6 507.5l1.9 -1.7M190.8 525.5l1.7 -1.4M162.5 655.1l-1.9 2.9M186.3 590.2l2.0 -2.2M192.7 534.2l0.6 -1.9M168.6 499.7l-0.8 -1.4M128.3 630.8l-2.0 -2.5M179.2 651.7l2.9 1.1M177.5 656.1l-0.2 2.7M139.2 545.9l1.3 1.7M141.7 652.2l0.3 2.9M153.4 537.8l-1.5 2.3M123.4 504.3l-1.3 -0.7M151.9 502.7l-2.1 -0.3M174.4 637.5l-0.2 -2.5M43.9 576.1l1.0 -2.5M198.7 595.4l1.6 0.3M133.2 554.8l-1.7 0.7M165.7 572.4l1.1 1.5M157.6 679.2l0.9 2.2M188.2 507.4l2.2 -0.4M167.5 514.9l2.2 -2.7M138.3 607.3l-2.8 -1.1M109.7 531.1l-1.9 0.3M137.0 625.5l-1.3 -0.8M135.8 642.3l-2.1 1.3M148.3 536.6l-2.2 0.7M134.2 667.8l-1.6 1.3M158.5 669.3l0.1 1.6M199.5 658.7l1.8 -2.4M143.9 557.9l-0.5 1.9M149.5 629.6l-1.9 -2.8M121.2 668.1l1.0 3.4M139.8 657.2l1.0 3.2M147.6 611.9l-0.1 -1.5M142.9 558.1l1.1 1.8M130.7 535.9l-1.2 -0.3M127.0 660.5l-0.4 1.7M165.5 671.1l2.0 2.9M119.9 541.0l-2.1 -1.4M189.8 556.2l2.6 -1.5M141.9 518.9l-0.6 -1.2M208.8 568.9l3.2 1.4M55.3 588.1l-1.4 -0.3M156.7 661.5l-2.9 -0.5M179.0 492.3l-2.8 -1.4M146.9 518.0l0.5 -2.8M154.4 639.4l-2.8 -2.1M117.3 521.8l-1.6 -1.2M178.1 617.7l1.9 -0.1M136.0 515.0l-1.0 -2.2M106.6 528.9l-1.6 -2.9M200.7 669.4l0.1 1.9M203.1 527.3l3.0 0.8M139.8 526.5l-0.2 -3.4M45.2 622.8l-1.1 1.1M163.8 590.9l-0.3 2.8M182.2 589.3l-0.1 3.1M205.6 562.5l1.1 0.7M127.7 527.2l-1.3 0.2M203.0 667.3l-1.5 -1.3M143.0 666.4l-0.1 2.6M194.4 676.3l2.1 0.4M143.7 617.8l-1.8 -2.7M200.8 515.7l-0.3 -1.2M167.7 518.1l1.3 -2.5M146.8 611.9l-1.4 -1.8M161.3 525.5l0.4 -1.5M185.7 619.8l2.2 -1.7M44.7 617.4l-0.7 1.7M153.8 552.0l-0.9 0.9M176.6 606.7l-2.4 -2.5M175.6 664.0l-1.3 3.2M131.5 618.8l-1.3 -1.1M159.4 554.8l0.9 1.9M159.5 548.5l-0.8 1.0M163.7 653.0l1.2 2.6M142.9 661.1l-1.0 1.2M197.5 525.1l1.4 1.9M164.5 628.4l2.3 -1.3M103.1 535.7l-0.8 -2.2M202.9 669.2l1.5 -0.9M170.7 570.2l-0.2 2.2M127.5 620.1l-0.6 -2.1M182.3 578.4l-0.7 3.2M111.5 517.4l-1.1 0.6M138.3 533.7l-2.5 -1.8M183.8 658.7l2.7 2.2M130.0 619.1l-2.5 -2.3M89.5 533.9l-1.6 -0.9M174.2 537.3l0.0 2.5M173.8 649.2l0.9 -1.9M181.7 552.5l2.1 -0.8M191.4 525.4l1.6 0.9M156.8 502.4l1.3 -2.3M115.7 652.0l-0.7 1.7M120.7 522.1l-1.9 -1.2M152.7 665.1l-2.4 1.6M118.7 510.4l-2.5 0.1M158.4 637.0l-0.6 -2.0M145.4 505.1l0.1 -1.3M160.5 573.4l1.2 3.1M113.2 526.3l-1.3 1.8M180.4 618.9l2.6 -2.3M144.9 536.6l-2.4 2.6M91.0 531.1l-2.4 -0.5M168.6 643.5l0.4 3.4M136.0 530.5l-1.6 -0.2M145.4 500.1l-1.3 -1.9M177.3 578.6l1.2 0.4M142.7 531.7l-2.5 0.7M191.1 596.6l-2.2 1.7M184.1 532.7l1.0 -2.7M166.0 587.4l-1.8 1.5M144.7 631.4l-1.1 -3.1M200.1 532.3l2.9 0.4M142.8 605.6l-1.5 -1.7M173.9 641.3l1.2 0.7M124.6 665.1l1.8 2.6M164.2 563.3l0.2 1.3M191.2 682.6l1.2 0.8M192.9 572.0l-1.5 1.2M198.5 665.0l2.6 2.4M184.2 583.0l2.3 -2.7M159.7 634.4l2.8 1.2M168.3 528.7l1.5 -0.8M197.5 553.0l2.0 -0.6M129.6 533.4l-2.9 1.7M170.6 663.4l-0.4 1.2M135.9 515.6l-2.9 -1.4M169.2 528.5l0.8 -1.2M125.0 541.5l3.1 -0.2M181.1 603.8l0.2 -1.6M128.8 624.8l-2.6 1.6M181.7 618.8l-0.6 -1.4M185.6 560.1l2.0 0.5M134.8 544.3l-3.5 0.1M170.9 603.6l0.5 -1.8M157.6 499.2l-1.1 -1.9M153.5 514.2l-0.3 -3.4M129.5 525.2l-2.4 2.2M119.2 645.2l-1.6 3.0M193.8 516.7l-0.2 -2.6M185.7 649.7l1.5 0.3M145.6 616.4l3.4 1.2M148.3 629.9l-0.3 -2.4M140.2 514.2l-1.3 -3.3M199.0 678.3l1.5 2.0M176.4 542.5l3.1 0.5M182.4 596.0l1.4 -1.1M150.7 532.6l-3.0 -0.7M152.4 530.3l0.7 -1.3M135.3 649.6l-0.7 2.9M184.3 567.3l0.5 -2.2M125.1 531.2l-1.3 -2.8M173.5 639.7l2.1 -1.8M191.6 560.9l1.3 -0.1M182.1 514.5l2.2 -2.4M161.9 548.5l0.3 3.1M196.5 675.2l-0.3 2.4M144.6 546.5l0.4 -1.9M146.6 511.9l-2.6 -2.2M118.6 652.3l-2.1 2.1M176.3 570.0l-2.2 1.9M162.5 646.3l1.6 0.0M177.6 495.2l1.1 -0.8M133.2 659.1l-1.6 -3.0M52.4 615.6l0.3 2.7M177.4 489.9l1.8 -1.7M179.5 548.2l2.0 0.6M146.2 658.6l1.5 3.0M158.7 533.1l-0.1 -1.4M125.3 504.3l0.4 -3.3M131.8 666.4l-1.2 2.3M175.4 533.3l3.5 -0.2M188.2 640.1l2.6 2.1M55.8 591.3l1.9 -3.0M119.9 524.3l-2.3 -1.5M46.7 589.9l-2.7 -0.6M151.3 640.1l-1.4 -0.7M179.0 631.6l2.4 1.1M162.7 525.9l-0.7 -1.4M168.1 656.7l-0.0 2.2M209.1 575.4l-0.2 2.3M191.2 540.0l1.7 -0.0M156.9 506.2l-1.3 -1.6M167.7 565.6l2.1 0.9M190.5 537.0l2.4 0.5M176.0 505.3l0.4 -1.6M156.9 582.5l1.6 1.8M135.4 518.3l-1.2 -1.6M189.9 671.2l2.3 2.1M125.0 638.3l-1.4 2.0M158.1 611.7l-1.9 -2.6M153.4 534.7l-0.4 -3.1M137.3 664.7l-1.0 0.9M130.7 550.7l-0.7 2.1M122.0 645.5l-2.8 2.0M148.3 614.5l1.1 -2.2M207.2 546.4l1.8 2.2M169.1 527.5l1.3 0.2M122.6 669.3l-1.3 1.0M184.0 631.0l2.5 1.5M176.2 581.6l1.1 1.0M198.6 550.7l1.5 2.9M143.1 543.9l-1.0 0.7M167.1 609.4l1.8 -0.9M198.7 679.2l1.6 2.5M153.5 667.3l1.5 1.5M193.6 673.4l1.6 1.0M42.8 613.5l-2.2 2.4M123.9 665.2l-3.1 0.7M189.7 510.2l1.8 -2.5M169.4 494.8l3.1 1.5M113.2 658.5l-2.6 -0.5M185.3 532.6l1.2 -0.1M137.6 554.0l-2.5 2.3M192.4 523.4l2.3 -1.9M173.5 556.3l3.2 1.3M170.2 618.2l2.5 -0.9M175.2 629.6l2.4 -2.2M161.1 676.8l0.2 3.2M169.7 606.9l0.4 -2.3M167.0 571.7l1.8 0.3M126.0 644.9l0.1 -3.1M102.3 530.9l-2.0 0.1M117.5 533.9l-0.7 -2.2M183.3 548.0l2.6 0.7" stroke="#e0e0e0" stroke-width="1.4" stroke-linecap="round" fill="none"/>
<path d="M135.1 671.7l-1.6 -0.5M163.8 635.9l2.9 -0.1M161.5 558.0l3.0 3.3M174.3 490.5l-0.5 -2.1M157.4 612.8l1.4 -0.9M191.3 558.2l-0.4 4.3M114.3 503.6l-1.8 -1.5M125.0 511.8l-1.4 -0.6M157.0 616.2l-1.8 -2.6M191.0 678.0l3.5 1.8M182.1 572.3l2.9 3.1M166.6 527.3l2.2 0.9M132.7 660.0l-0.0 2.9M99.1 535.7l-0.1 -3.9M200.1 557.5l2.0 -0.7M166.6 617.0l0.6 -2.3M186.7 596.7l-0.8 1.4M173.0 580.0l0.3 2.4M169.9 537.2l2.0 0.2M186.5 622.4l1.8 -2.2M50.6 587.6l1.4 -1.5M171.9 574.2l-1.0 3.9M112.2 530.8l-3.9 1.1M157.8 554.5l-0.8 1.7M179.1 601.7l0.7 -4.3M141.3 674.1l-4.1 1.3M179.0 590.4l2.0 0.7M182.9 513.9l1.6 -0.4M167.5 593.0l2.8 0.6M107.2 525.6l-1.3 -2.8M152.8 661.0l-2.9 0.8M127.0 657.0l-1.4 0.7M170.4 500.7l1.5 -1.1M143.9 534.1l-0.5 -3.1M164.6 548.2l4.0 0.9M181.9 527.4l2.2 -0.8M143.6 511.3l-1.0 -1.9M152.9 533.1l-1.6 -2.1M105.0 518.7l-2.7 -1.6M169.8 566.6l-2.3 1.0M157.0 678.2l-2.7 3.2M203.8 671.5l-0.8 4.4M179.8 498.2l1.7 -0.2M177.9 489.3l-2.8 -3.3M49.6 606.1l-2.7 -0.5M137.7 519.8l-0.1 -1.7M101.4 527.4l-1.9 -1.7M146.1 611.0l3.5 -1.1M131.2 537.4l-2.2 -2.2M195.8 540.9l1.3 -2.3M132.9 632.1l-1.9 0.5M169.4 679.6l-0.8 1.4M123.1 638.2l-2.0 -0.2M188.8 651.0l2.0 4.0M156.5 617.8l-1.7 -1.7M121.4 535.0l-1.0 1.3M189.4 505.8l3.1 -2.4M131.6 540.7l-0.9 -3.1M122.1 660.3l-1.9 3.5M159.7 511.4l1.4 2.8M125.2 645.9l-2.3 2.3M155.4 627.0l-1.4 -1.3M50.4 616.3l-0.5 1.7M161.9 564.3l2.8 2.9M199.9 666.4l2.9 0.1M195.8 509.6l3.9 -1.0M167.1 565.7l-2.9 2.7M157.8 506.6l-1.0 -2.3M196.4 544.7l2.3 3.3M126.1 553.1l-3.1 1.9M173.8 579.9l-1.0 1.4M51.6 605.3l1.2 2.9M149.3 632.9l-2.3 0.7M134.0 642.4l1.1 -3.8M155.8 498.6l3.6 -1.4M168.0 526.7l-0.7 -3.0M196.4 566.7l-2.2 2.0M158.9 655.3l-1.7 -2.7M154.5 515.1l0.3 -2.9M170.2 568.9l0.6 2.5M124.9 638.9l-1.7 2.0M141.2 497.3l-2.6 -0.1M173.0 521.6l-1.8 -1.6M136.6 501.6l-1.0 -2.4M151.3 564.6l-2.9 2.8M43.7 615.1l-4.0 1.5M167.7 591.4l-1.3 4.1M106.7 508.8l-2.8 -1.6M111.6 658.4l-3.0 1.9M147.2 644.6l-3.7 0.1M152.1 544.9l-2.0 0.8M191.7 546.1l2.8 0.8M167.4 662.9l1.2 2.7M119.4 530.4l-1.9 -0.7M173.8 565.4l1.8 0.5M153.4 515.3l-1.8 -2.8M116.8 535.5l-3.4 -0.1M180.5 548.1l2.0 0.4M169.2 574.3l-1.6 0.2M108.7 515.5l-0.3 -2.2M143.4 631.3l-1.0 -1.3M131.1 619.7l-1.4 0.6M178.5 500.3l-1.0 -2.0M203.2 523.3l1.9 -0.0M166.2 624.0l3.0 -2.7M197.0 592.4l2.2 -1.1M109.0 537.1l0.3 3.0M180.7 612.5l2.7 -1.5M145.7 624.7l-2.9 -0.3M163.1 543.3l1.1 1.4M181.8 593.9l1.6 1.0M180.7 513.9l0.9 -1.5M180.3 601.8l1.2 -3.3M149.1 511.9l-1.3 -2.5M177.8 677.3l3.7 1.6M167.6 634.1l1.0 -1.7M169.8 610.6l2.9 -0.1M195.1 562.7l1.5 0.5M163.3 584.1l2.3 0.2M159.4 670.0l-1.3 3.1M178.9 521.2l-0.2 -3.3M195.6 562.3l1.7 0.6M137.2 536.9l-4.5 0.2M97.5 518.7l-2.7 1.8M176.3 620.8l1.0 1.7M45.9 615.3l1.1 2.9M157.2 565.8l-1.0 3.3M192.6 552.3l1.6 0.8M141.6 632.8l-1.3 -4.3M145.1 606.7l1.0 -2.7M184.9 524.7l3.1 -1.2M150.8 559.8l0.9 1.2M155.0 611.9l-2.8 -0.8M203.0 527.4l1.5 2.1M157.6 658.1l-0.3 3.6M106.2 520.4l0.0 -3.2M158.3 616.7l-0.5 -2.5M117.4 512.8l-2.3 0.5M144.2 669.9l-2.1 4.0M107.2 511.0l-2.8 -2.5M178.7 551.2l2.8 2.2M163.0 636.0l3.9 0.7M178.3 661.7l-3.5 2.5M147.5 652.1l-1.4 2.0M199.4 525.4l2.5 0.1M145.1 502.5l-1.5 -2.0M170.7 588.7l2.5 -0.8M166.4 527.8l1.7 -0.9M156.0 590.2l-0.9 3.6M209.5 545.7l2.3 2.7M199.1 520.1l3.9 1.3M132.9 554.0l0.4 -1.8M46.9 592.7l-4.4 0.4M140.6 497.5l-1.9 -2.8M206.2 588.4l3.5 2.4M163.5 549.5l1.3 1.9M116.8 649.9l-1.9 0.3M179.6 640.9l3.1 0.2M149.9 522.1l0.7 -2.3M195.1 555.9l2.7 2.7M136.9 652.1l-2.6 2.3M175.0 567.7l-3.0 -1.6M53.1 597.1l-3.9 2.1M158.5 524.9l1.3 -2.4M122.3 514.6l-2.5 -2.4M120.4 665.2l2.6 2.5M187.6 640.0l4.3 -1.1M176.8 515.2l0.3 -1.6M173.6 645.5l1.1 -2.1M146.7 553.4l2.1 3.6M126.8 546.8l-0.6 1.9M143.0 605.4l-2.5 -0.8M127.4 633.4l2.5 -3.3M189.0 577.4l1.3 -2.7M118.2 538.6l-1.7 -1.2M124.3 640.2l1.0 -3.4M199.2 572.0l2.0 2.0M192.1 560.7l1.7 0.7M158.0 614.7l-0.8 -4.2M153.2 499.9l2.7 0.0M90.3 530.2l0.0 3.1M183.1 656.0l3.2 -1.8M181.4 527.6l1.7 -3.7M201.0 541.3l3.5 2.4M141.1 517.4l-1.6 -1.4M196.0 597.6l2.4 2.4M121.7 540.8l2.3 -2.0M161.6 561.3l0.8 1.5M53.3 611.9l-2.5 2.5M51.3 618.0l-2.0 3.6M133.0 512.3l-3.9 0.7M145.2 661.2l-2.5 0.8M163.3 679.2l-0.4 3.2M139.4 510.8l-2.7 -2.3M199.4 669.8l2.1 -0.4M179.1 570.9l0.7 1.9M172.5 610.7l0.1 -3.2M190.5 579.2l-0.5 4.4M145.2 531.5l-2.6 -1.2M161.4 590.2l0.5 3.5M184.1 649.3l1.7 -0.4M154.6 551.9l0.2 3.9M123.7 635.5l-2.3 0.2M47.2 581.9l-1.2 -4.1M160.9 635.0l3.0 -2.5M113.1 520.4l-2.9 -1.4M172.3 538.2l1.7 -0.8M152.9 504.8l0.6 -4.1M167.6 497.1l-1.4 -4.3M159.9 536.3l0.4 -1.9M186.1 622.8l2.1 -2.2M160.1 495.1l1.2 1.3M183.4 521.1l3.0 -1.0M158.8 525.3l-0.9 -3.1M203.7 578.5l0.4 2.2M148.9 521.6l-0.1 -2.3M131.8 668.2l-2.4 -2.1M145.8 674.4l-1.9 2.4M56.3 587.7l1.9 -1.2M55.1 610.7l-0.6 1.5M185.1 551.6l3.0 3.3M147.4 676.9l-1.1 3.7M184.3 549.9l-1.5 0.7M161.9 560.9l0.2 2.1M186.2 588.7l3.2 2.4M125.9 530.6l-3.1 -1.5M184.0 628.2l1.9 3.0M200.0 589.4l4.0 0.4M198.1 669.0l1.6 1.7M130.2 515.5l-2.7 -1.0M139.9 545.8l-2.3 -2.3M192.8 597.6l0.8 3.0M184.6 497.8l-4.0 -0.7M185.3 581.7l-1.4 2.4M147.0 653.3l-3.6 2.6M185.3 666.8l3.1 3.0M188.4 581.8l3.4 -0.1M181.9 552.7l1.5 -0.4M188.9 506.4l2.5 -1.2M187.5 532.9l2.2 -2.5M173.0 557.1l1.5 -0.3M205.1 563.6l0.6 2.4M172.6 567.6l2.1 2.9M51.2 594.4l-3.7 1.2M148.3 517.9l-2.2 -0.7M175.2 539.6l-0.8 3.1M189.4 596.2l2.5 3.3M147.1 528.9l1.2 -2.1M197.1 662.1l0.7 2.0M168.5 630.3l-0.9 -4.3M132.0 646.4l-1.7 0.7M162.8 631.1l1.3 0.9M110.9 524.7l-1.9 2.8M157.4 624.1l0.4 -1.8M144.1 643.0l-4.1 -0.0M124.4 632.7l-0.9 -1.2M47.5 592.2l-1.0 -3.8M146.0 529.2l-0.0 -3.1M160.1 664.4l-4.2 0.3M175.2 592.2l-0.2 3.7M189.4 534.9l1.9 0.4M156.2 608.7l-0.2 -1.9M207.4 583.5l-0.7 2.7M138.6 609.4l-0.2 -1.5M109.5 528.3l-2.8 -2.6M46.4 620.4l0.3 2.1M140.7 675.2l-2.5 3.3M182.6 572.1l-0.7 1.9M140.7 521.5l-3.4 -2.0M191.1 571.5l1.2 2.0M48.0 602.9l0.3 2.3M45.6 598.2l-2.8 1.5M149.9 515.1l-2.5 -1.5M185.9 633.1l3.9 -0.4M144.4 523.9l-0.7 -3.0M117.4 655.3l-1.3 1.5M167.9 638.3l1.7 -0.4M180.6 609.0l-1.2 -3.5M164.2 498.3l3.4 -2.8M175.2 550.7l1.7 1.7M90.3 537.2l-3.3 0.9M131.8 618.4l-3.3 -2.0M133.1 625.4l-0.7 -1.8M120.4 640.6l-2.8 -1.2M133.0 545.1l-3.2 0.1M112.7 531.3l-1.2 -4.0M122.9 654.2l3.2 1.0M51.0 588.3l-0.6 -3.1M97.1 516.3l-0.0 -1.6M43.9 581.2l-2.5 -2.6M172.6 522.8l3.2 2.6M196.2 502.8l2.5 1.4M59.2 601.5l0.3 2.9M168.5 536.3l3.2 -1.7M133.1 534.0l-3.2 1.7M119.3 543.8l-2.7 -0.8M159.3 521.4l0.7 -4.0M105.1 512.9l-3.2 -1.3M131.6 501.8l-3.4 -1.0M118.6 518.0l-2.2 0.9M161.2 554.5l-0.2 2.5M134.1 671.5l-0.6 2.3M167.8 503.9l-1.9 -2.0M156.5 617.6l-2.2 -3.0M157.9 514.4l0.6 -1.6M174.9 564.8l0.2 4.1M187.7 593.9l1.9 0.0M128.9 508.5l-0.5 -2.5M153.1 668.4l3.2 1.3M163.4 518.0l2.0 -3.8M182.6 509.8l2.3 0.1M169.7 661.5l3.6 2.3M125.0 626.2l-3.3 0.2M90.4 535.7l-1.7 1.0M130.8 630.4l-3.5 -1.7M128.7 643.2l-2.7 0.9M151.0 625.9l0.7 -3.8M168.4 531.7l3.8 -1.4M168.4 620.6l3.0 -2.9M151.7 631.4l-3.7 0.5M114.8 660.8l-2.8 1.4M124.8 521.3l-2.9 -0.9M141.0 607.5l-0.9 -1.4M191.4 681.8l1.0 3.3M133.7 509.0l3.2 -2.9M182.9 520.6l1.5 -1.8M196.2 591.9l2.3 0.1M158.6 580.9l-0.1 2.2M185.3 653.9l0.1 -1.8M147.6 520.7l0.4 -2.6M171.1 630.1l1.2 -4.0M176.0 518.3l1.8 -1.9M200.5 544.2l2.1 2.0M146.8 552.9l-3.4 0.9M145.0 497.0l2.8 2.7M177.5 637.4l2.2 0.4M162.9 678.3l-1.1 2.8M148.0 512.1l-1.5 -1.1M172.4 649.1l2.6 1.9M164.6 557.2l-0.3 3.2M107.7 538.1l-4.4 -0.7M191.1 624.5l2.8 -1.2M168.9 602.1l1.9 -3.1M58.3 606.7l-0.1 3.2M161.6 553.2l-2.0 2.9M117.7 507.6l1.1 -3.0M148.1 618.4l1.8 -3.2M159.0 643.7l-1.2 -1.0M187.6 548.1l4.0 0.7M178.9 621.4l2.0 2.4M99.2 518.2l-3.4 0.5M148.3 499.5l-1.3 -2.8M189.4 548.0l1.5 -0.4M163.3 620.4l3.1 -1.7M188.1 519.0l-0.6 -1.4M156.6 551.9l0.4 1.5M168.0 642.6l-1.5 2.4M191.5 665.2l2.3 3.5M141.2 634.0l-2.0 0.3M158.4 587.5l-1.8 2.4M166.7 678.0l-0.3 3.8M143.6 643.1l-2.0 0.1M188.0 548.2l-1.8 3.8M119.5 533.2l-2.4 0.4M148.4 600.7l-0.5 -3.2M193.8 590.1l2.8 2.2M179.1 505.4l1.0 -2.4M174.4 644.1l1.4 1.6M196.7 513.7l-3.4 -2.7M187.4 526.4l2.9 1.9M148.9 510.1l-0.8 -3.2M180.2 567.2l-0.9 4.3M179.1 681.9l-1.0 1.9M127.9 653.4l-0.4 -4.4M136.3 612.1l2.0 -0.6M196.1 514.7l2.5 0.5" stroke="#808080" stroke-width="4.8" stroke-linecap="round" fill="none"/>
<path d="M135.1 671.7l-1.6 -0.5M163.8 635.9l2.9 -0.1M161.5 558.0l3.0 3.3M174.3 490.5l-0.5 -2.1M157.4 612.8l1.4 -0.9M191.3 558.2l-0.4 4.3M114.3 503.6l-1.8 -1.5M125.0 511.8l-1.4 -0.6M157.0 616.2l-1.8 -2.6M191.0 678.0l3.5 1.8M182.1 572.3l2.9 3.1M166.6 527.3l2.2 0.9M132.7 660.0l-0.0 2.9M99.1 535.7l-0.1 -3.9M200.1 557.5l2.0 -0.7M166.6 617.0l0.6 -2.3M186.7 596.7l-0.8 1.4M173.0 580.0l0.3 2.4M169.9 537.2l2.0 0.2M186.5 622.4l1.8 -2.2M50.6 587.6l1.4 -1.5M171.9 574.2l-1.0 3.9M112.2 530.8l-3.9 1.1M157.8 554.5l-0.8 1.7M179.1 601.7l0.7 -4.3M141.3 674.1l-4.1 1.3M179.0 590.4l2.0 0.7M182.9 513.9l1.6 -0.4M167.5 593.0l2.8 0.6M107.2 525.6l-1.3 -2.8M152.8 661.0l-2.9 0.8M127.0 657.0l-1.4 0.7M170.4 500.7l1.5 -1.1M143.9 534.1l-0.5 -3.1M164.6 548.2l4.0 0.9M181.9 527.4l2.2 -0.8M143.6 511.3l-1.0 -1.9M152.9 533.1l-1.6 -2.1M105.0 518.7l-2.7 -1.6M169.8 566.6l-2.3 1.0M157.0 678.2l-2.7 3.2M203.8 671.5l-0.8 4.4M179.8 498.2l1.7 -0.2M177.9 489.3l-2.8 -3.3M49.6 606.1l-2.7 -0.5M137.7 519.8l-0.1 -1.7M101.4 527.4l-1.9 -1.7M146.1 611.0l3.5 -1.1M131.2 537.4l-2.2 -2.2M195.8 540.9l1.3 -2.3M132.9 632.1l-1.9 0.5M169.4 679.6l-0.8 1.4M123.1 638.2l-2.0 -0.2M188.8 651.0l2.0 4.0M156.5 617.8l-1.7 -1.7M121.4 535.0l-1.0 1.3M189.4 505.8l3.1 -2.4M131.6 540.7l-0.9 -3.1M122.1 660.3l-1.9 3.5M159.7 511.4l1.4 2.8M125.2 645.9l-2.3 2.3M155.4 627.0l-1.4 -1.3M50.4 616.3l-0.5 1.7M161.9 564.3l2.8 2.9M199.9 666.4l2.9 0.1M195.8 509.6l3.9 -1.0M167.1 565.7l-2.9 2.7M157.8 506.6l-1.0 -2.3M196.4 544.7l2.3 3.3M126.1 553.1l-3.1 1.9M173.8 579.9l-1.0 1.4M51.6 605.3l1.2 2.9M149.3 632.9l-2.3 0.7M134.0 642.4l1.1 -3.8M155.8 498.6l3.6 -1.4M168.0 526.7l-0.7 -3.0M196.4 566.7l-2.2 2.0M158.9 655.3l-1.7 -2.7M154.5 515.1l0.3 -2.9M170.2 568.9l0.6 2.5M124.9 638.9l-1.7 2.0M141.2 497.3l-2.6 -0.1M173.0 521.6l-1.8 -1.6M136.6 501.6l-1.0 -2.4M151.3 564.6l-2.9 2.8M43.7 615.1l-4.0 1.5M167.7 591.4l-1.3 4.1M106.7 508.8l-2.8 -1.6M111.6 658.4l-3.0 1.9M147.2 644.6l-3.7 0.1M152.1 544.9l-2.0 0.8M191.7 546.1l2.8 0.8M167.4 662.9l1.2 2.7M119.4 530.4l-1.9 -0.7M173.8 565.4l1.8 0.5M153.4 515.3l-1.8 -2.8M116.8 535.5l-3.4 -0.1M180.5 548.1l2.0 0.4M169.2 574.3l-1.6 0.2M108.7 515.5l-0.3 -2.2M143.4 631.3l-1.0 -1.3M131.1 619.7l-1.4 0.6M178.5 500.3l-1.0 -2.0M203.2 523.3l1.9 -0.0M166.2 624.0l3.0 -2.7M197.0 592.4l2.2 -1.1M109.0 537.1l0.3 3.0M180.7 612.5l2.7 -1.5M145.7 624.7l-2.9 -0.3M163.1 543.3l1.1 1.4M181.8 593.9l1.6 1.0M180.7 513.9l0.9 -1.5M180.3 601.8l1.2 -3.3M149.1 511.9l-1.3 -2.5M177.8 677.3l3.7 1.6M167.6 634.1l1.0 -1.7M169.8 610.6l2.9 -0.1M195.1 562.7l1.5 0.5M163.3 584.1l2.3 0.2M159.4 670.0l-1.3 3.1M178.9 521.2l-0.2 -3.3M195.6 562.3l1.7 0.6M137.2 536.9l-4.5 0.2M97.5 518.7l-2.7 1.8M176.3 620.8l1.0 1.7M45.9 615.3l1.1 2.9M157.2 565.8l-1.0 3.3M192.6 552.3l1.6 0.8M141.6 632.8l-1.3 -4.3M145.1 606.7l1.0 -2.7M184.9 524.7l3.1 -1.2M150.8 559.8l0.9 1.2M155.0 611.9l-2.8 -0.8M203.0 527.4l1.5 2.1M157.6 658.1l-0.3 3.6M106.2 520.4l0.0 -3.2M158.3 616.7l-0.5 -2.5M117.4 512.8l-2.3 0.5M144.2 669.9l-2.1 4.0M107.2 511.0l-2.8 -2.5M178.7 551.2l2.8 2.2M163.0 636.0l3.9 0.7M178.3 661.7l-3.5 2.5M147.5 652.1l-1.4 2.0M199.4 525.4l2.5 0.1M145.1 502.5l-1.5 -2.0M170.7 588.7l2.5 -0.8M166.4 527.8l1.7 -0.9M156.0 590.2l-0.9 3.6M209.5 545.7l2.3 2.7M199.1 520.1l3.9 1.3M132.9 554.0l0.4 -1.8M46.9 592.7l-4.4 0.4M140.6 497.5l-1.9 -2.8M206.2 588.4l3.5 2.4M163.5 549.5l1.3 1.9M116.8 649.9l-1.9 0.3M179.6 640.9l3.1 0.2M149.9 522.1l0.7 -2.3M195.1 555.9l2.7 2.7M136.9 652.1l-2.6 2.3M175.0 567.7l-3.0 -1.6M53.1 597.1l-3.9 2.1M158.5 524.9l1.3 -2.4M122.3 514.6l-2.5 -2.4M120.4 665.2l2.6 2.5M187.6 640.0l4.3 -1.1M176.8 515.2l0.3 -1.6M173.6 645.5l1.1 -2.1M146.7 553.4l2.1 3.6M126.8 546.8l-0.6 1.9M143.0 605.4l-2.5 -0.8M127.4 633.4l2.5 -3.3M189.0 577.4l1.3 -2.7M118.2 538.6l-1.7 -1.2M124.3 640.2l1.0 -3.4M199.2 572.0l2.0 2.0M192.1 560.7l1.7 0.7M158.0 614.7l-0.8 -4.2M153.2 499.9l2.7 0.0M90.3 530.2l0.0 3.1M183.1 656.0l3.2 -1.8M181.4 527.6l1.7 -3.7M201.0 541.3l3.5 2.4M141.1 517.4l-1.6 -1.4M196.0 597.6l2.4 2.4M121.7 540.8l2.3 -2.0M161.6 561.3l0.8 1.5M53.3 611.9l-2.5 2.5M51.3 618.0l-2.0 3.6M133.0 512.3l-3.9 0.7M145.2 661.2l-2.5 0.8M163.3 679.2l-0.4 3.2M139.4 510.8l-2.7 -2.3M199.4 669.8l2.1 -0.4M179.1 570.9l0.7 1.9M172.5 610.7l0.1 -3.2M190.5 579.2l-0.5 4.4M145.2 531.5l-2.6 -1.2M161.4 590.2l0.5 3.5M184.1 649.3l1.7 -0.4M154.6 551.9l0.2 3.9M123.7 635.5l-2.3 0.2M47.2 581.9l-1.2 -4.1M160.9 635.0l3.0 -2.5M113.1 520.4l-2.9 -1.4M172.3 538.2l1.7 -0.8M152.9 504.8l0.6 -4.1M167.6 497.1l-1.4 -4.3M159.9 536.3l0.4 -1.9M186.1 622.8l2.1 -2.2M160.1 495.1l1.2 1.3M183.4 521.1l3.0 -1.0M158.8 525.3l-0.9 -3.1M203.7 578.5l0.4 2.2M148.9 521.6l-0.1 -2.3M131.8 668.2l-2.4 -2.1M145.8 674.4l-1.9 2.4M56.3 587.7l1.9 -1.2M55.1 610.7l-0.6 1.5M185.1 551.6l3.0 3.3M147.4 676.9l-1.1 3.7M184.3 549.9l-1.5 0.7M161.9 560.9l0.2 2.1M186.2 588.7l3.2 2.4M125.9 530.6l-3.1 -1.5M184.0 628.2l1.9 3.0M200.0 589.4l4.0 0.4M198.1 669.0l1.6 1.7M130.2 515.5l-2.7 -1.0M139.9 545.8l-2.3 -2.3M192.8 597.6l0.8 3.0M184.6 497.8l-4.0 -0.7M185.3 581.7l-1.4 2.4M147.0 653.3l-3.6 2.6M185.3 666.8l3.1 3.0M188.4 581.8l3.4 -0.1M181.9 552.7l1.5 -0.4M188.9 506.4l2.5 -1.2M187.5 532.9l2.2 -2.5M173.0 557.1l1.5 -0.3M205.1 563.6l0.6 2.4M172.6 567.6l2.1 2.9M51.2 594.4l-3.7 1.2M148.3 517.9l-2.2 -0.7M175.2 539.6l-0.8 3.1M189.4 596.2l2.5 3.3M147.1 528.9l1.2 -2.1M197.1 662.1l0.7 2.0M168.5 630.3l-0.9 -4.3M132.0 646.4l-1.7 0.7M162.8 631.1l1.3 0.9M110.9 524.7l-1.9 2.8M157.4 624.1l0.4 -1.8M144.1 643.0l-4.1 -0.0M124.4 632.7l-0.9 -1.2M47.5 592.2l-1.0 -3.8M146.0 529.2l-0.0 -3.1M160.1 664.4l-4.2 0.3M175.2 592.2l-0.2 3.7M189.4 534.9l1.9 0.4M156.2 608.7l-0.2 -1.9M207.4 583.5l-0.7 2.7M138.6 609.4l-0.2 -1.5M109.5 528.3l-2.8 -2.6M46.4 620.4l0.3 2.1M140.7 675.2l-2.5 3.3M182.6 572.1l-0.7 1.9M140.7 521.5l-3.4 -2.0M191.1 571.5l1.2 2.0M48.0 602.9l0.3 2.3M45.6 598.2l-2.8 1.5M149.9 515.1l-2.5 -1.5M185.9 633.1l3.9 -0.4M144.4 523.9l-0.7 -3.0M117.4 655.3l-1.3 1.5M167.9 638.3l1.7 -0.4M180.6 609.0l-1.2 -3.5M164.2 498.3l3.4 -2.8M175.2 550.7l1.7 1.7M90.3 537.2l-3.3 0.9M131.8 618.4l-3.3 -2.0M133.1 625.4l-0.7 -1.8M120.4 640.6l-2.8 -1.2M133.0 545.1l-3.2 0.1M112.7 531.3l-1.2 -4.0M122.9 654.2l3.2 1.0M51.0 588.3l-0.6 -3.1M97.1 516.3l-0.0 -1.6M43.9 581.2l-2.5 -2.6M172.6 522.8l3.2 2.6M196.2 502.8l2.5 1.4M59.2 601.5l0.3 2.9M168.5 536.3l3.2 -1.7M133.1 534.0l-3.2 1.7M119.3 543.8l-2.7 -0.8M159.3 521.4l0.7 -4.0M105.1 512.9l-3.2 -1.3M131.6 501.8l-3.4 -1.0M118.6 518.0l-2.2 0.9M161.2 554.5l-0.2 2.5M134.1 671.5l-0.6 2.3M167.8 503.9l-1.9 -2.0M156.5 617.6l-2.2 -3.0M157.9 514.4l0.6 -1.6M174.9 564.8l0.2 4.1M187.7 593.9l1.9 0.0M128.9 508.5l-0.5 -2.5M153.1 668.4l3.2 1.3M163.4 518.0l2.0 -3.8M182.6 509.8l2.3 0.1M169.7 661.5l3.6 2.3M125.0 626.2l-3.3 0.2M90.4 535.7l-1.7 1.0M130.8 630.4l-3.5 -1.7M128.7 643.2l-2.7 0.9M151.0 625.9l0.7 -3.8M168.4 531.7l3.8 -1.4M168.4 620.6l3.0 -2.9M151.7 631.4l-3.7 0.5M114.8 660.8l-2.8 1.4M124.8 521.3l-2.9 -0.9M141.0 607.5l-0.9 -1.4M191.4 681.8l1.0 3.3M133.7 509.0l3.2 -2.9M182.9 520.6l1.5 -1.8M196.2 591.9l2.3 0.1M158.6 580.9l-0.1 2.2M185.3 653.9l0.1 -1.8M147.6 520.7l0.4 -2.6M171.1 630.1l1.2 -4.0M176.0 518.3l1.8 -1.9M200.5 544.2l2.1 2.0M146.8 552.9l-3.4 0.9M145.0 497.0l2.8 2.7M177.5 637.4l2.2 0.4M162.9 678.3l-1.1 2.8M148.0 512.1l-1.5 -1.1M172.4 649.1l2.6 1.9M164.6 557.2l-0.3 3.2M107.7 538.1l-4.4 -0.7M191.1 624.5l2.8 -1.2M168.9 602.1l1.9 -3.1M58.3 606.7l-0.1 3.2M161.6 553.2l-2.0 2.9M117.7 507.6l1.1 -3.0M148.1 618.4l1.8 -3.2M159.0 643.7l-1.2 -1.0M187.6 548.1l4.0 0.7M178.9 621.4l2.0 2.4M99.2 518.2l-3.4 0.5M148.3 499.5l-1.3 -2.8M189.4 548.0l1.5 -0.4M163.3 620.4l3.1 -1.7M188.1 519.0l-0.6 -1.4M156.6 551.9l0.4 1.5M168.0 642.6l-1.5 2.4M191.5 665.2l2.3 3.5M141.2 634.0l-2.0 0.3M158.4 587.5l-1.8 2.4M166.7 678.0l-0.3 3.8M143.6 643.1l-2.0 0.1M188.0 548.2l-1.8 3.8M119.5 533.2l-2.4 0.4M148.4 600.7l-0.5 -3.2M193.8 590.1l2.8 2.2M179.1 505.4l1.0 -2.4M174.4 644.1l1.4 1.6M196.7 513.7l-3.4 -2.7M187.4 526.4l2.9 1.9M148.9 510.1l-0.8 -3.2M180.2 567.2l-0.9 4.3M179.1 681.9l-1.0 1.9M127.9 653.4l-0.4 -4.4M136.3 612.1l2.0 -0.6M196.1 514.7l2.5 0.5" stroke="#c8c8c8" stroke-width="3.4" stroke-linecap="round" fill="none"/>
<path d="M134.6 671.2l-1.3 -0.4M163.3 635.4l2.3 -0.1M161.0 557.5l2.4 2.7M173.8 490.0l-0.4 -1.7M156.9 612.3l1.1 -0.7M190.8 557.7l-0.3 3.4M113.8 503.1l-1.4 -1.2M124.5 511.3l-1.1 -0.5M156.5 615.7l-1.4 -2.0M190.5 677.5l2.8 1.5M181.6 571.8l2.3 2.5M166.1 526.8l1.8 0.7M132.2 659.5l-0.0 2.3M98.6 535.2l-0.1 -3.1M199.6 557.0l1.6 -0.5M166.1 616.5l0.5 -1.8M186.2 596.2l-0.6 1.1M172.5 579.5l0.3 1.9M169.4 536.7l1.6 0.2M186.0 621.9l1.4 -1.8M50.1 587.1l1.1 -1.2M171.4 573.7l-0.8 3.1M111.7 530.3l-3.1 0.9M157.3 554.0l-0.7 1.3M178.6 601.2l0.6 -3.5M140.8 673.6l-3.3 1.0M178.5 589.9l1.6 0.5M182.4 513.4l1.3 -0.3M167.0 592.5l2.3 0.5M106.7 525.1l-1.1 -2.2M152.3 660.5l-2.3 0.6M126.5 656.5l-1.1 0.5M169.9 500.2l1.2 -0.9M143.4 533.6l-0.4 -2.5M164.1 547.7l3.2 0.7M181.4 526.9l1.7 -0.6M143.1 510.8l-0.8 -1.5M152.4 532.6l-1.3 -1.7M104.5 518.2l-2.2 -1.2M169.3 566.1l-1.8 0.8M156.5 677.7l-2.2 2.5M203.3 671.0l-0.6 3.5M179.3 497.7l1.3 -0.2M177.4 488.8l-2.3 -2.7M49.1 605.6l-2.2 -0.4M137.2 519.3l-0.1 -1.3M100.9 526.9l-1.5 -1.4M145.6 610.5l2.8 -0.9M130.7 536.9l-1.8 -1.8M195.3 540.4l1.0 -1.9M132.4 631.6l-1.5 0.4M168.9 679.1l-0.6 1.1M122.6 637.7l-1.6 -0.1M188.3 650.5l1.6 3.2M156.0 617.3l-1.4 -1.4M120.9 534.5l-0.8 1.0M188.9 505.3l2.5 -1.9M131.1 540.2l-0.7 -2.5M121.6 659.8l-1.5 2.8M159.2 510.9l1.1 2.3M124.7 645.4l-1.8 1.8M154.9 626.5l-1.1 -1.1M49.9 615.8l-0.4 1.4M161.4 563.8l2.3 2.3M199.4 665.9l2.3 0.1M195.3 509.1l3.1 -0.8M166.6 565.2l-2.3 2.2M157.3 506.1l-0.8 -1.8M195.9 544.2l1.9 2.6M125.6 552.6l-2.4 1.5M173.3 579.4l-0.8 1.1M51.1 604.8l1.0 2.3M148.8 632.4l-1.8 0.5M133.5 641.9l0.8 -3.0M155.3 498.1l2.9 -1.2M167.5 526.2l-0.5 -2.4M195.9 566.2l-1.7 1.6M158.4 654.8l-1.4 -2.1M154.0 514.6l0.2 -2.3M169.7 568.4l0.5 2.0M124.4 638.4l-1.4 1.6M140.7 496.8l-2.1 -0.1M172.5 521.1l-1.5 -1.3M136.1 501.1l-0.8 -1.9M150.8 564.1l-2.4 2.2M43.2 614.6l-3.2 1.2M167.2 590.9l-1.1 3.3M106.2 508.3l-2.2 -1.3M111.1 657.9l-2.4 1.5M146.7 644.1l-3.0 0.1M151.6 544.4l-1.6 0.7M191.2 545.6l2.3 0.7M166.9 662.4l1.0 2.2M118.9 529.9l-1.5 -0.6M173.3 564.9l1.5 0.4M152.9 514.8l-1.5 -2.3M116.3 535.0l-2.7 -0.1M180.0 547.6l1.6 0.3M168.7 573.8l-1.3 0.1M108.2 515.0l-0.3 -1.8M142.9 630.8l-0.8 -1.0M130.6 619.2l-1.2 0.5M178.0 499.8l-0.8 -1.6M202.7 522.8l1.5 -0.0M165.7 623.5l2.4 -2.2M196.5 591.9l1.7 -0.9M108.5 536.6l0.2 2.4M180.2 612.0l2.1 -1.2M145.2 624.2l-2.3 -0.2M162.6 542.8l0.9 1.1M181.3 593.4l1.3 0.8M180.2 513.4l0.7 -1.2M179.8 601.3l1.0 -2.7M148.6 511.4l-1.1 -2.0M177.3 676.8l2.9 1.3M167.1 633.6l0.8 -1.3M169.3 610.1l2.4 -0.1M194.6 562.2l1.2 0.4M162.8 583.6l1.8 0.2M158.9 669.5l-1.0 2.4M178.4 520.7l-0.2 -2.6M195.1 561.8l1.4 0.5M136.7 536.4l-3.6 0.2M97.0 518.2l-2.2 1.4M175.8 620.3l0.8 1.4M45.4 614.8l0.8 2.3M156.7 565.3l-0.8 2.7M192.1 551.8l1.3 0.6M141.1 632.3l-1.1 -3.4M144.6 606.2l0.8 -2.2M184.4 524.2l2.5 -1.0M150.3 559.3l0.7 1.0M154.5 611.4l-2.2 -0.6M202.5 526.9l1.2 1.7M157.1 657.6l-0.2 2.9M105.7 519.9l0.0 -2.6M157.8 616.2l-0.4 -2.0M116.9 512.3l-1.8 0.4M143.7 669.4l-1.6 3.2M106.7 510.5l-2.2 -2.0M178.2 550.7l2.3 1.8M162.5 635.5l3.1 0.6M177.8 661.2l-2.8 2.0M147.0 651.6l-1.1 1.6M198.9 524.9l2.0 0.1M144.6 502.0l-1.2 -1.6M170.2 588.2l2.0 -0.6M165.9 527.3l1.4 -0.7M155.5 589.7l-0.7 2.9M209.0 545.2l1.8 2.2M198.6 519.6l3.1 1.0M132.4 553.5l0.3 -1.5M46.4 592.2l-3.5 0.3M140.1 497.0l-1.5 -2.2M205.7 587.9l2.8 1.9M163.0 549.0l1.1 1.6M116.3 649.4l-1.5 0.2M179.1 640.4l2.5 0.1M149.4 521.6l0.5 -1.9M194.6 555.4l2.2 2.2M136.4 651.6l-2.1 1.9M174.5 567.2l-2.4 -1.3M52.6 596.6l-3.1 1.7M158.0 524.4l1.0 -1.9M121.8 514.1l-2.0 -1.9M119.9 664.7l2.1 2.0M187.1 639.5l3.4 -0.9M176.3 514.7l0.3 -1.3M173.1 645.0l0.9 -1.7M146.2 552.9l1.7 2.8M126.3 546.3l-0.4 1.6M142.5 604.9l-2.0 -0.7M126.9 632.9l2.0 -2.6M188.5 576.9l1.1 -2.1M117.7 538.1l-1.3 -0.9M123.8 639.7l0.8 -2.8M198.7 571.5l1.6 1.6M191.6 560.2l1.4 0.6M157.5 614.2l-0.7 -3.3M152.7 499.4l2.2 0.0M89.8 529.7l0.0 2.5M182.6 655.5l2.6 -1.4M180.9 527.1l1.3 -2.9M200.5 540.8l2.8 1.9M140.6 516.9l-1.3 -1.1M195.5 597.1l1.9 2.0M121.2 540.3l1.8 -1.6M161.1 560.8l0.6 1.2M52.8 611.4l-2.0 2.0M50.8 617.5l-1.6 2.9M132.5 511.8l-3.1 0.5M144.7 660.7l-2.0 0.7M162.8 678.7l-0.3 2.6M138.9 510.3l-2.1 -1.8M198.9 669.3l1.7 -0.3M178.6 570.4l0.5 1.5M172.0 610.2l0.1 -2.6M190.0 578.7l-0.4 3.5M144.7 531.0l-2.1 -0.9M160.9 589.7l0.4 2.8M183.6 648.8l1.3 -0.3M154.1 551.4l0.2 3.1M123.2 635.0l-1.9 0.1M46.7 581.4l-1.0 -3.3M160.4 634.5l2.4 -2.0M112.6 519.9l-2.3 -1.1M171.8 537.7l1.4 -0.6M152.4 504.3l0.5 -3.2M167.1 496.6l-1.1 -3.4M159.4 535.8l0.3 -1.5M185.6 622.3l1.7 -1.8M159.6 494.6l0.9 1.0M182.9 520.6l2.4 -0.8M158.3 524.8l-0.7 -2.5M203.2 578.0l0.3 1.7M148.4 521.1l-0.1 -1.8M131.3 667.7l-1.9 -1.7M145.3 673.9l-1.5 1.9M55.8 587.2l1.5 -0.9M54.6 610.2l-0.5 1.2M184.6 551.1l2.4 2.6M146.9 676.4l-0.9 3.0M183.8 549.4l-1.2 0.5M161.4 560.4l0.1 1.7M185.7 588.2l2.5 1.9M125.4 530.1l-2.4 -1.2M183.5 627.7l1.6 2.4M199.5 588.9l3.2 0.3M197.6 668.5l1.3 1.3M129.7 515.0l-2.1 -0.8M139.4 545.3l-1.8 -1.8M192.3 597.1l0.6 2.4M184.1 497.3l-3.2 -0.6M184.8 581.2l-1.1 1.9M146.5 652.8l-2.9 2.1M184.8 666.3l2.5 2.4M187.9 581.3l2.7 -0.1M181.4 552.2l1.2 -0.3M188.4 505.9l2.0 -1.0M187.0 532.4l1.8 -2.0M172.5 556.6l1.2 -0.3M204.6 563.1l0.5 1.9M172.1 567.1l1.7 2.3M50.7 593.9l-3.0 1.0M147.8 517.4l-1.8 -0.5M174.7 539.1l-0.7 2.5M188.9 595.7l2.0 2.6M146.6 528.4l1.0 -1.7M196.6 661.6l0.5 1.6M168.0 629.8l-0.7 -3.5M131.5 645.9l-1.4 0.5M162.3 630.6l1.1 0.7M110.4 524.2l-1.5 2.3M156.9 623.6l0.3 -1.5M143.6 642.5l-3.3 -0.0M123.9 632.2l-0.7 -1.0M47.0 591.7l-0.8 -3.1M145.5 528.7l-0.0 -2.5M159.6 663.9l-3.4 0.2M174.7 591.7l-0.2 3.0M188.9 534.4l1.5 0.3M155.7 608.2l-0.1 -1.5M206.9 583.0l-0.6 2.1M138.1 608.9l-0.2 -1.2M109.0 527.8l-2.3 -2.1M45.9 619.9l0.3 1.6M140.2 674.7l-2.0 2.7M182.1 571.6l-0.6 1.5M140.2 521.0l-2.7 -1.6M190.6 571.0l0.9 1.6M47.5 602.4l0.2 1.9M45.1 597.7l-2.2 1.2M149.4 514.6l-2.0 -1.2M185.4 632.6l3.2 -0.3M143.9 523.4l-0.5 -2.4M116.9 654.8l-1.0 1.2M167.4 637.8l1.4 -0.3M180.1 608.5l-1.0 -2.8M163.7 497.8l2.7 -2.2M174.7 550.2l1.4 1.3M89.8 536.7l-2.7 0.7M131.3 617.9l-2.6 -1.6M132.6 624.9l-0.6 -1.5M119.9 640.1l-2.2 -0.9M132.5 544.6l-2.6 0.1M112.2 530.8l-0.9 -3.2M122.4 653.7l2.6 0.8M50.5 587.8l-0.5 -2.4M96.6 515.8l-0.0 -1.3M43.4 580.7l-2.0 -2.1M172.1 522.3l2.6 2.1M195.7 502.3l2.0 1.1M58.7 601.0l0.2 2.3M168.0 535.8l2.6 -1.4M132.6 533.5l-2.5 1.3M118.8 543.3l-2.2 -0.6M158.8 520.9l0.5 -3.2M104.6 512.4l-2.6 -1.0M131.1 501.3l-2.7 -0.8M118.1 517.5l-1.8 0.7M160.7 554.0l-0.2 2.0M133.6 671.0l-0.5 1.9M167.3 503.4l-1.5 -1.6M156.0 617.1l-1.7 -2.4M157.4 513.9l0.5 -1.3M174.4 564.3l0.1 3.3M187.2 593.4l1.6 0.0M128.4 508.0l-0.4 -2.0M152.6 667.9l2.6 1.1M162.9 517.5l1.6 -3.1M182.1 509.3l1.8 0.1M169.2 661.0l2.9 1.9M124.5 625.7l-2.6 0.2M89.9 535.2l-1.4 0.8M130.3 629.9l-2.8 -1.4M128.2 642.7l-2.2 0.7M150.5 625.4l0.6 -3.0M167.9 531.2l3.0 -1.1M167.9 620.1l2.4 -2.3M151.2 630.9l-2.9 0.4M114.3 660.3l-2.3 1.1M124.3 520.8l-2.3 -0.7M140.5 607.0l-0.7 -1.1M190.9 681.3l0.8 2.7M133.2 508.5l2.5 -2.3M182.4 520.1l1.2 -1.5M195.7 591.4l1.8 0.0M158.1 580.4l-0.1 1.8M184.8 653.4l0.0 -1.4M147.1 520.2l0.3 -2.1M170.6 629.6l1.0 -3.2M175.5 517.8l1.4 -1.6M200.0 543.7l1.7 1.6M146.3 552.4l-2.7 0.8M144.5 496.5l2.3 2.2M177.0 636.9l1.7 0.3M162.4 677.8l-0.9 2.2M147.5 511.6l-1.2 -0.9M171.9 648.6l2.1 1.5M164.1 556.7l-0.2 2.6M107.2 537.6l-3.5 -0.5M190.6 624.0l2.3 -1.0M168.4 601.6l1.5 -2.5M57.8 606.2l-0.1 2.5M161.1 552.7l-1.6 2.3M117.2 507.1l0.9 -2.4M147.6 617.9l1.5 -2.6M158.5 643.2l-0.9 -0.8M187.1 547.6l3.2 0.6M178.4 620.9l1.6 1.9M98.7 517.7l-2.7 0.4M147.8 499.0l-1.1 -2.2M188.9 547.5l1.2 -0.4M162.8 619.9l2.5 -1.3M187.6 518.5l-0.5 -1.1M156.1 551.4l0.4 1.2M167.5 642.1l-1.2 1.9M191.0 664.7l1.9 2.8M140.7 633.5l-1.6 0.2M157.9 587.0l-1.4 1.9M166.2 677.5l-0.2 3.0M143.1 642.6l-1.6 0.0M187.5 547.7l-1.4 3.0M119.0 532.7l-1.9 0.3M147.9 600.2l-0.4 -2.5M193.3 589.6l2.2 1.8M178.6 504.9l0.8 -2.0M173.9 643.6l1.1 1.3M196.2 513.2l-2.7 -2.2M186.9 525.9l2.3 1.6M148.4 509.6l-0.6 -2.6M179.7 566.7l-0.7 3.5M178.6 681.4l-0.8 1.5M127.4 652.9l-0.3 -3.5M135.8 611.6l1.6 -0.5M195.6 514.2l2.0 0.4" stroke="#e0e0e0" stroke-width="1.4" stroke-linecap="round" fill="none"/>
<path d="M151.2 625.8l-3.3 -3.0M123.7 528.6l-2.9 -0.1M187.4 597.8l2.7 2.4M200.2 545.8l2.0 2.8M47.0 620.0l2.3 3.7M170.0 575.6l1.5 2.2M117.4 511.0l0.8 -2.9M164.2 531.4l2.4 2.1M198.4 581.2l-0.1 3.0M146.5 524.9l-1.6 -0.7M128.3 653.6l-1.9 1.8M86.6 531.7l-3.1 -1.9M155.3 663.6l-1.3 2.4M202.3 537.3l2.3 -0.4M108.9 513.8l-0.9 -2.0M157.1 653.8l1.4 1.3M147.5 642.3l-1.4 -2.5M161.8 660.5l-1.6 1.1M135.2 626.4l-3.7 2.6M123.1 636.9l-3.6 2.2M146.8 670.7l-3.2 0.2M119.2 507.7l-0.8 -2.2M154.2 516.8l3.3 -1.1M180.5 632.8l0.7 -1.4M199.8 537.7l2.8 3.0M186.1 588.2l2.2 1.8M146.6 522.9l-2.6 0.0M179.5 563.8l-0.2 4.4M160.2 572.5l0.6 1.9M172.9 571.1l1.5 2.1M159.2 528.9l1.7 -0.0M151.1 632.1l-0.6 1.6M135.4 631.7l-2.5 2.3M208.4 546.9l1.5 0.4M45.4 592.7l-2.4 1.8M190.6 678.8l-0.3 2.6M171.2 678.0l1.6 2.8M185.4 580.3l1.8 4.0M171.3 632.7l2.0 -2.6M193.0 564.3l1.4 2.7M47.4 619.9l-0.9 3.5M184.2 631.5l-0.1 -2.9M163.5 649.0l2.5 -1.2M143.7 547.5l-2.0 -2.1M57.4 596.9l1.2 3.5M182.0 568.8l1.4 1.2M195.2 592.2l2.5 2.2M198.9 518.4l1.9 -2.1M160.6 504.1l-1.5 -1.4M167.2 521.6l2.4 -2.4M174.3 563.3l2.6 1.6M124.6 540.6l-1.2 -2.5M184.4 534.2l2.9 -1.1M180.0 539.8l1.2 1.0M189.1 538.5l1.4 -0.8M126.7 544.9l-3.6 0.9M180.7 645.0l2.8 0.1M49.8 615.4l0.7 2.5M138.3 513.0l-1.7 -0.4M127.0 622.6l0.5 -1.8M193.3 544.5l1.2 -1.0M85.9 530.8l-1.4 -0.8M184.3 612.2l4.4 0.6M171.1 531.5l-4.0 -1.5M183.5 506.2l2.0 0.7M151.9 602.0l1.5 -2.8M148.2 563.3l-0.8 3.2M98.4 536.5l-0.4 -2.7M142.4 624.0l-0.2 -2.1M154.3 527.5l3.2 -0.5M144.2 554.4l0.3 3.0M134.5 554.5l1.8 3.2M128.6 641.2l-3.7 1.6M180.1 493.5l-2.9 -2.9M52.1 613.7l2.7 1.2M195.5 585.0l3.3 2.6M92.8 531.4l-1.1 -1.5M149.3 667.6l-4.0 -1.1M204.5 573.0l-0.7 3.6M98.3 527.1l-0.2 -2.6M45.9 613.4l0.3 2.1M187.2 582.2l3.6 1.9M142.1 560.9l0.8 1.9M50.7 596.5l-3.5 1.4M188.2 642.9l2.4 2.2M157.1 544.9l0.7 1.8M200.1 590.2l-1.3 2.5M167.9 572.5l2.3 1.6M103.3 520.1l-3.2 -1.0M114.3 539.0l-2.7 1.5M201.2 662.8l1.2 1.0M163.0 662.1l-0.9 3.6M148.9 557.0l-3.9 1.2M178.3 520.6l0.4 -2.9M51.4 608.0l-4.2 0.7M156.9 632.8l-1.6 -0.0M160.8 507.9l-2.2 -2.1M178.8 584.6l0.9 1.7M171.7 650.6l-0.1 3.4M167.6 584.9l4.0 0.3M174.4 613.8l3.6 -1.1M144.0 665.8l-0.7 3.6M146.2 666.1l-2.9 2.2M184.8 554.7l2.5 0.2M116.1 533.7l-0.2 -3.1M197.7 506.3l1.8 -0.1M43.9 598.1l0.7 -1.5M205.4 582.7l2.6 0.8M176.3 616.2l2.9 -1.2M200.6 590.5l-0.4 2.1M155.3 537.7l-1.0 -1.4M177.7 602.3l1.5 -2.9M192.0 675.7l-0.1 3.1M157.7 630.7l-1.8 -0.8M188.0 621.2l0.6 -1.9M167.9 561.0l-1.6 -2.1M104.9 521.0l-4.0 1.0M149.7 562.1l-1.4 3.5M142.7 630.4l-1.2 -1.0M158.5 562.0l-1.1 1.0M173.6 655.9l2.1 -2.2M115.2 645.4l-1.5 -0.4M147.1 506.8l-3.7 -0.2M158.8 554.7l2.7 0.8M145.1 650.0l-1.8 0.0M163.4 663.0l-0.4 2.1M143.7 509.8l-2.3 -3.9M166.4 591.0l1.3 2.7M133.6 660.5l-2.4 -3.1M172.7 525.5l1.9 -1.8M194.1 539.2l2.1 0.6M143.4 654.7l-2.9 2.7M184.9 523.1l2.8 2.1M170.5 665.5l1.3 3.9M191.4 524.0l2.4 0.5M118.0 643.1l-2.5 -0.4M145.5 672.3l-1.6 -1.5M174.5 615.4l4.1 0.1M139.6 647.7l-3.3 -2.6M117.2 664.8l-2.2 2.6M110.9 522.1l-3.8 -0.8M193.6 597.9l-0.3 3.9M143.8 638.1l-2.3 0.0M158.6 496.7l0.4 -1.5M206.8 556.3l2.3 0.5M127.2 668.5l0.8 3.9M132.3 544.9l-1.3 -3.4M169.0 613.3l2.4 -0.9M196.6 554.4l2.1 0.0M62.9 599.0l3.7 0.1M164.0 503.0l-2.8 -0.9M150.2 504.0l-1.3 -4.2M151.7 602.1l0.4 -1.9M170.0 574.3l-0.2 2.8M154.7 542.9l-2.9 1.6M138.4 619.6l-1.0 -2.6M184.0 522.1l4.1 1.5M176.6 586.4l0.3 2.0M151.0 550.3l0.1 2.5M135.2 550.7l-1.8 -1.2M172.0 604.3l-1.4 -1.4M127.7 537.4l-4.0 -1.6M141.6 505.1l-4.3 -0.6M194.1 550.7l2.3 0.9M148.6 664.5l0.1 4.0M134.5 651.3l-1.9 0.4M179.5 642.2l2.1 0.3M186.6 595.2l1.1 4.1M181.5 682.0l2.8 2.2M120.7 666.6l-2.4 -1.4M153.7 559.4l-0.4 3.2M191.5 516.8l3.9 -0.1M152.0 496.8l1.5 -4.2M156.7 560.0l-2.4 1.9M128.4 550.5l-2.1 3.1M93.2 525.8l-4.1 -0.2M174.2 588.9l-1.1 2.4M164.0 641.7l2.0 -3.6M187.9 676.2l3.5 1.8M179.5 649.9l3.9 1.8M153.2 651.7l-2.1 1.0M128.5 671.6l0.2 3.0M201.4 580.3l2.2 2.4M194.7 535.7l-1.6 -3.3M188.6 628.6l-0.3 -2.7M128.5 548.7l-1.6 0.1M136.2 533.4l-3.2 -1.0M189.7 635.1l0.8 -1.8M180.1 575.0l-0.4 3.8M167.7 529.2l-1.3 -3.1M169.4 672.1l-0.3 4.3M169.1 602.4l3.6 -1.6M47.9 582.1l-0.6 -1.6M174.2 515.6l-1.0 -2.9M187.0 611.0l2.1 -1.6M111.6 533.1l-3.4 -0.3M129.6 545.2l-1.0 -2.4M142.1 653.2l-3.3 0.1M151.8 630.1l0.2 -1.7M188.6 647.3l3.0 -0.2M123.9 543.4l-1.6 -1.9M177.6 611.4l0.8 -3.4M189.8 587.1l-2.4 2.8M197.1 503.9l-0.0 2.3M160.3 646.3l2.8 3.3M198.9 526.7l3.9 1.1M184.1 649.9l4.0 1.1M132.2 631.3l-2.4 -0.5M144.8 504.4l0.7 -4.0M135.7 669.3l2.0 3.7M125.9 640.5l-3.2 -2.2M153.5 602.4l-1.6 -2.2M183.2 584.5l1.9 2.4M51.0 619.2l0.0 1.8M142.6 523.3l1.7 -2.1M127.6 630.7l-2.5 1.2M125.8 648.0l-3.4 1.6M128.1 507.1l-4.2 1.3M60.7 595.3l2.7 2.1M127.5 663.8l-2.3 -0.1M174.9 645.4l1.6 0.9M134.7 504.3l0.9 -3.4M45.6 622.7l-3.0 2.3M154.9 587.6l-0.8 3.5M179.3 521.8l0.8 -2.5M166.7 656.6l2.7 1.1M177.8 584.7l4.0 -0.4M187.3 589.8l-3.6 1.5M146.7 504.3l-3.7 -1.9M151.9 635.8l1.4 -3.3M44.5 609.4l-2.2 3.1M153.7 498.8l-2.3 -1.6M141.6 498.6l-2.3 -1.1M174.0 513.6l3.9 -0.5M146.5 646.2l-1.6 2.2M194.7 595.1l2.0 -1.3M153.2 530.1l-2.3 -1.3M156.2 622.9l1.5 -0.9M158.0 651.1l4.2 -0.5M211.5 575.9l-2.0 3.5M137.6 506.1l-2.3 -2.1M120.4 634.6l-1.4 -3.5M170.0 519.4l3.9 -0.2M141.7 640.8l-3.0 1.8M115.8 516.2l-2.5 -0.1M146.0 546.1l-1.7 1.9M174.7 522.2l-2.2 -3.8M128.8 521.0l-3.4 0.3M105.7 510.5l-3.1 -0.6M48.9 576.0l1.7 -3.9M118.5 520.3l-0.6 -2.0M187.9 671.8l1.7 1.2M182.2 502.2l-2.2 -0.5M54.8 601.8l-2.1 0.9M146.4 642.7l-1.4 0.5M194.9 526.6l0.8 -1.5M173.8 620.9l-1.3 -0.9M152.8 559.8l-3.6 0.0M177.3 568.6l1.7 2.3M135.0 509.1l3.3 -2.7M172.6 569.5l2.2 1.1M127.0 647.5l-3.7 -0.3M148.8 542.5l-2.0 0.6M204.7 572.5l-3.1 0.4M108.8 511.1l-4.2 -0.7M129.1 630.4l-4.2 1.3M204.8 550.4l2.0 -1.4M145.3 551.3l-1.6 -0.0M147.0 618.3l-2.1 -1.6M152.9 500.8l0.7 -4.4M95.4 533.6l-4.4 0.7M166.7 532.2l3.0 -0.3M178.0 539.9l3.1 1.4M171.1 676.5l4.0 -0.6M149.9 555.2l-2.0 0.7M188.1 518.2l1.9 -1.3M204.4 533.6l-1.5 -1.2M125.8 507.0l-3.5 -2.5M188.9 589.0l0.0 1.7M165.7 505.4l-1.7 -3.0M157.9 676.4l-0.8 1.9M123.6 667.8l-2.1 1.2M163.9 562.4l-3.4 1.7M91.9 537.1l-1.7 -1.0M151.6 531.0l-1.8 -0.8M170.1 535.1l2.4 0.1M193.9 563.5l1.7 1.4M188.4 597.8l-2.1 1.9M135.2 539.5l1.6 2.6M130.1 527.0l-0.8 1.5M109.3 514.7l-3.1 -2.9M199.6 574.2l1.4 1.4M182.6 604.4l-0.3 -1.8M159.1 656.1l-2.7 -2.1M209.7 542.8l0.5 2.1M183.8 623.5l0.4 -2.2M122.1 645.2l-1.5 3.0M168.9 591.8l-0.3 2.0M132.9 510.1l-2.9 -3.4M133.3 630.9l-2.1 -2.5M208.8 545.4l-0.8 -3.1M140.9 553.6l-0.2 1.6M142.3 664.0l-2.0 0.1M178.7 585.3l4.0 1.9M196.1 542.7l0.1 3.8M165.1 603.5l-3.1 -2.7M181.6 551.3l2.5 0.5M57.9 593.2l3.7 -1.6M185.4 663.0l-0.5 2.5M124.5 523.0l0.9 -3.4M193.6 657.9l1.1 1.5M196.8 519.5l2.7 2.5M169.3 563.8l1.4 2.7M185.0 667.5l2.7 2.1M172.9 539.0l1.8 -1.1M132.2 648.5l-1.0 -2.7M165.4 661.2l0.5 1.5M112.5 509.7l-2.1 1.6M173.3 510.4l-1.3 -1.4M171.7 650.9l2.0 -0.1M170.2 558.5l1.2 1.6M198.1 674.1l2.7 2.6M150.4 647.0l-2.5 2.6M112.1 525.1l-2.7 0.1M105.6 506.1l-2.0 -3.1M180.5 590.3l1.9 0.1M200.6 556.7l3.1 0.6M45.5 576.8l0.7 -3.2M143.4 511.3l-3.3 -3.0M176.1 542.3l1.7 -0.7M115.7 505.3l-0.9 -2.9M130.2 533.7l-1.7 -2.2M187.6 596.0l3.4 -2.5M160.1 628.7l3.3 -3.0M192.8 589.0l0.9 3.4M127.3 511.0l0.6 -2.0M169.6 656.2l2.3 2.3M177.8 491.3l1.2 -2.1M198.4 525.2l1.0 3.9M177.6 506.7l1.9 -1.3M116.2 644.3l-1.3 -2.0M126.4 623.1l-3.3 -1.2M156.8 537.2l-0.6 -2.7M158.6 606.0l3.4 0.1M143.7 658.7l-3.9 -1.2M203.6 535.0l-0.0 2.7M115.9 521.1l-2.8 3.4M156.8 647.9l-1.5 -0.2M207.2 531.6l0.1 -3.8M137.8 549.0l-1.0 -1.4M167.5 576.4l2.4 -3.0M115.0 542.3l-4.0 1.6M94.2 523.2l-0.0 1.5M164.9 668.8l4.2 1.4M161.2 567.7l-1.5 0.9M136.4 536.4l-0.7 -1.5M127.0 510.4l-1.9 -1.8M146.1 627.2l0.3 -1.9M170.7 536.5l1.5 -0.4M103.4 525.2l0.4 2.0M139.4 656.4l-3.2 -1.0M129.1 656.4l-4.2 -0.6M190.7 590.7l1.9 -1.5M133.8 634.0l-3.9 -0.3M153.8 653.9l-0.2 2.7M147.8 533.3l-1.3 -2.6M200.8 536.0l3.8 -1.5M172.4 658.7l1.4 0.6M61.6 595.5l4.2 -1.3M160.3 526.5l1.2 -2.1M150.2 563.2l-2.8 -0.8M198.9 545.7l2.8 -1.0M172.6 600.0l-3.5 -2.3M171.7 651.3l1.0 3.2M166.4 504.3l-1.3 -1.3M112.3 523.1l-2.4 1.4" stroke="#808080" stroke-width="4.8" stroke-linecap="round" fill="none"/>
<path d="M151.2 625.8l-3.3 -3.0M123.7 528.6l-2.9 -0.1M187.4 597.8l2.7 2.4M200.2 545.8l2.0 2.8M47.0 620.0l2.3 3.7M170.0 575.6l1.5 2.2M117.4 511.0l0.8 -2.9M164.2 531.4l2.4 2.1M198.4 581.2l-0.1 3.0M146.5 524.9l-1.6 -0.7M128.3 653.6l-1.9 1.8M86.6 531.7l-3.1 -1.9M155.3 663.6l-1.3 2.4M202.3 537.3l2.3 -0.4M108.9 513.8l-0.9 -2.0M157.1 653.8l1.4 1.3M147.5 642.3l-1.4 -2.5M161.8 660.5l-1.6 1.1M135.2 626.4l-3.7 2.6M123.1 636.9l-3.6 2.2M146.8 670.7l-3.2 0.2M119.2 507.7l-0.8 -2.2M154.2 516.8l3.3 -1.1M180.5 632.8l0.7 -1.4M199.8 537.7l2.8 3.0M186.1 588.2l2.2 1.8M146.6 522.9l-2.6 0.0M179.5 563.8l-0.2 4.4M160.2 572.5l0.6 1.9M172.9 571.1l1.5 2.1M159.2 528.9l1.7 -0.0M151.1 632.1l-0.6 1.6M135.4 631.7l-2.5 2.3M208.4 546.9l1.5 0.4M45.4 592.7l-2.4 1.8M190.6 678.8l-0.3 2.6M171.2 678.0l1.6 2.8M185.4 580.3l1.8 4.0M171.3 632.7l2.0 -2.6M193.0 564.3l1.4 2.7M47.4 619.9l-0.9 3.5M184.2 631.5l-0.1 -2.9M163.5 649.0l2.5 -1.2M143.7 547.5l-2.0 -2.1M57.4 596.9l1.2 3.5M182.0 568.8l1.4 1.2M195.2 592.2l2.5 2.2M198.9 518.4l1.9 -2.1M160.6 504.1l-1.5 -1.4M167.2 521.6l2.4 -2.4M174.3 563.3l2.6 1.6M124.6 540.6l-1.2 -2.5M184.4 534.2l2.9 -1.1M180.0 539.8l1.2 1.0M189.1 538.5l1.4 -0.8M126.7 544.9l-3.6 0.9M180.7 645.0l2.8 0.1M49.8 615.4l0.7 2.5M138.3 513.0l-1.7 -0.4M127.0 622.6l0.5 -1.8M193.3 544.5l1.2 -1.0M85.9 530.8l-1.4 -0.8M184.3 612.2l4.4 0.6M171.1 531.5l-4.0 -1.5M183.5 506.2l2.0 0.7M151.9 602.0l1.5 -2.8M148.2 563.3l-0.8 3.2M98.4 536.5l-0.4 -2.7M142.4 624.0l-0.2 -2.1M154.3 527.5l3.2 -0.5M144.2 554.4l0.3 3.0M134.5 554.5l1.8 3.2M128.6 641.2l-3.7 1.6M180.1 493.5l-2.9 -2.9M52.1 613.7l2.7 1.2M195.5 585.0l3.3 2.6M92.8 531.4l-1.1 -1.5M149.3 667.6l-4.0 -1.1M204.5 573.0l-0.7 3.6M98.3 527.1l-0.2 -2.6M45.9 613.4l0.3 2.1M187.2 582.2l3.6 1.9M142.1 560.9l0.8 1.9M50.7 596.5l-3.5 1.4M188.2 642.9l2.4 2.2M157.1 544.9l0.7 1.8M200.1 590.2l-1.3 2.5M167.9 572.5l2.3 1.6M103.3 520.1l-3.2 -1.0M114.3 539.0l-2.7 1.5M201.2 662.8l1.2 1.0M163.0 662.1l-0.9 3.6M148.9 557.0l-3.9 1.2M178.3 520.6l0.4 -2.9M51.4 608.0l-4.2 0.7M156.9 632.8l-1.6 -0.0M160.8 507.9l-2.2 -2.1M178.8 584.6l0.9 1.7M171.7 650.6l-0.1 3.4M167.6 584.9l4.0 0.3M174.4 613.8l3.6 -1.1M144.0 665.8l-0.7 3.6M146.2 666.1l-2.9 2.2M184.8 554.7l2.5 0.2M116.1 533.7l-0.2 -3.1M197.7 506.3l1.8 -0.1M43.9 598.1l0.7 -1.5M205.4 582.7l2.6 0.8M176.3 616.2l2.9 -1.2M200.6 590.5l-0.4 2.1M155.3 537.7l-1.0 -1.4M177.7 602.3l1.5 -2.9M192.0 675.7l-0.1 3.1M157.7 630.7l-1.8 -0.8M188.0 621.2l0.6 -1.9M167.9 561.0l-1.6 -2.1M104.9 521.0l-4.0 1.0M149.7 562.1l-1.4 3.5M142.7 630.4l-1.2 -1.0M158.5 562.0l-1.1 1.0M173.6 655.9l2.1 -2.2M115.2 645.4l-1.5 -0.4M147.1 506.8l-3.7 -0.2M158.8 554.7l2.7 0.8M145.1 650.0l-1.8 0.0M163.4 663.0l-0.4 2.1M143.7 509.8l-2.3 -3.9M166.4 591.0l1.3 2.7M133.6 660.5l-2.4 -3.1M172.7 525.5l1.9 -1.8M194.1 539.2l2.1 0.6M143.4 654.7l-2.9 2.7M184.9 523.1l2.8 2.1M170.5 665.5l1.3 3.9M191.4 524.0l2.4 0.5M118.0 643.1l-2.5 -0.4M145.5 672.3l-1.6 -1.5M174.5 615.4l4.1 0.1M139.6 647.7l-3.3 -2.6M117.2 664.8l-2.2 2.6M110.9 522.1l-3.8 -0.8M193.6 597.9l-0.3 3.9M143.8 638.1l-2.3 0.0M158.6 496.7l0.4 -1.5M206.8 556.3l2.3 0.5M127.2 668.5l0.8 3.9M132.3 544.9l-1.3 -3.4M169.0 613.3l2.4 -0.9M196.6 554.4l2.1 0.0M62.9 599.0l3.7 0.1M164.0 503.0l-2.8 -0.9M150.2 504.0l-1.3 -4.2M151.7 602.1l0.4 -1.9M170.0 574.3l-0.2 2.8M154.7 542.9l-2.9 1.6M138.4 619.6l-1.0 -2.6M184.0 522.1l4.1 1.5M176.6 586.4l0.3 2.0M151.0 550.3l0.1 2.5M135.2 550.7l-1.8 -1.2M172.0 604.3l-1.4 -1.4M127.7 537.4l-4.0 -1.6M141.6 505.1l-4.3 -0.6M194.1 550.7l2.3 0.9M148.6 664.5l0.1 4.0M134.5 651.3l-1.9 0.4M179.5 642.2l2.1 0.3M186.6 595.2l1.1 4.1M181.5 682.0l2.8 2.2M120.7 666.6l-2.4 -1.4M153.7 559.4l-0.4 3.2M191.5 516.8l3.9 -0.1M152.0 496.8l1.5 -4.2M156.7 560.0l-2.4 1.9M128.4 550.5l-2.1 3.1M93.2 525.8l-4.1 -0.2M174.2 588.9l-1.1 2.4M164.0 641.7l2.0 -3.6M187.9 676.2l3.5 1.8M179.5 649.9l3.9 1.8M153.2 651.7l-2.1 1.0M128.5 671.6l0.2 3.0M201.4 580.3l2.2 2.4M194.7 535.7l-1.6 -3.3M188.6 628.6l-0.3 -2.7M128.5 548.7l-1.6 0.1M136.2 533.4l-3.2 -1.0M189.7 635.1l0.8 -1.8M180.1 575.0l-0.4 3.8M167.7 529.2l-1.3 -3.1M169.4 672.1l-0.3 4.3M169.1 602.4l3.6 -1.6M47.9 582.1l-0.6 -1.6M174.2 515.6l-1.0 -2.9M187.0 611.0l2.1 -1.6M111.6 533.1l-3.4 -0.3M129.6 545.2l-1.0 -2.4M142.1 653.2l-3.3 0.1M151.8 630.1l0.2 -1.7M188.6 647.3l3.0 -0.2M123.9 543.4l-1.6 -1.9M177.6 611.4l0.8 -3.4M189.8 587.1l-2.4 2.8M197.1 503.9l-0.0 2.3M160.3 646.3l2.8 3.3M198.9 526.7l3.9 1.1M184.1 649.9l4.0 1.1M132.2 631.3l-2.4 -0.5M144.8 504.4l0.7 -4.0M135.7 669.3l2.0 3.7M125.9 640.5l-3.2 -2.2M153.5 602.4l-1.6 -2.2M183.2 584.5l1.9 2.4M51.0 619.2l0.0 1.8M142.6 523.3l1.7 -2.1M127.6 630.7l-2.5 1.2M125.8 648.0l-3.4 1.6M128.1 507.1l-4.2 1.3M60.7 595.3l2.7 2.1M127.5 663.8l-2.3 -0.1M174.9 645.4l1.6 0.9M134.7 504.3l0.9 -3.4M45.6 622.7l-3.0 2.3M154.9 587.6l-0.8 3.5M179.3 521.8l0.8 -2.5M166.7 656.6l2.7 1.1M177.8 584.7l4.0 -0.4M187.3 589.8l-3.6 1.5M146.7 504.3l-3.7 -1.9M151.9 635.8l1.4 -3.3M44.5 609.4l-2.2 3.1M153.7 498.8l-2.3 -1.6M141.6 498.6l-2.3 -1.1M174.0 513.6l3.9 -0.5M146.5 646.2l-1.6 2.2M194.7 595.1l2.0 -1.3M153.2 530.1l-2.3 -1.3M156.2 622.9l1.5 -0.9M158.0 651.1l4.2 -0.5M211.5 575.9l-2.0 3.5M137.6 506.1l-2.3 -2.1M120.4 634.6l-1.4 -3.5M170.0 519.4l3.9 -0.2M141.7 640.8l-3.0 1.8M115.8 516.2l-2.5 -0.1M146.0 546.1l-1.7 1.9M174.7 522.2l-2.2 -3.8M128.8 521.0l-3.4 0.3M105.7 510.5l-3.1 -0.6M48.9 576.0l1.7 -3.9M118.5 520.3l-0.6 -2.0M187.9 671.8l1.7 1.2M182.2 502.2l-2.2 -0.5M54.8 601.8l-2.1 0.9M146.4 642.7l-1.4 0.5M194.9 526.6l0.8 -1.5M173.8 620.9l-1.3 -0.9M152.8 559.8l-3.6 0.0M177.3 568.6l1.7 2.3M135.0 509.1l3.3 -2.7M172.6 569.5l2.2 1.1M127.0 647.5l-3.7 -0.3M148.8 542.5l-2.0 0.6M204.7 572.5l-3.1 0.4M108.8 511.1l-4.2 -0.7M129.1 630.4l-4.2 1.3M204.8 550.4l2.0 -1.4M145.3 551.3l-1.6 -0.0M147.0 618.3l-2.1 -1.6M152.9 500.8l0.7 -4.4M95.4 533.6l-4.4 0.7M166.7 532.2l3.0 -0.3M178.0 539.9l3.1 1.4M171.1 676.5l4.0 -0.6M149.9 555.2l-2.0 0.7M188.1 518.2l1.9 -1.3M204.4 533.6l-1.5 -1.2M125.8 507.0l-3.5 -2.5M188.9 589.0l0.0 1.7M165.7 505.4l-1.7 -3.0M157.9 676.4l-0.8 1.9M123.6 667.8l-2.1 1.2M163.9 562.4l-3.4 1.7M91.9 537.1l-1.7 -1.0M151.6 531.0l-1.8 -0.8M170.1 535.1l2.4 0.1M193.9 563.5l1.7 1.4M188.4 597.8l-2.1 1.9M135.2 539.5l1.6 2.6M130.1 527.0l-0.8 1.5M109.3 514.7l-3.1 -2.9M199.6 574.2l1.4 1.4M182.6 604.4l-0.3 -1.8M159.1 656.1l-2.7 -2.1M209.7 542.8l0.5 2.1M183.8 623.5l0.4 -2.2M122.1 645.2l-1.5 3.0M168.9 591.8l-0.3 2.0M132.9 510.1l-2.9 -3.4M133.3 630.9l-2.1 -2.5M208.8 545.4l-0.8 -3.1M140.9 553.6l-0.2 1.6M142.3 664.0l-2.0 0.1M178.7 585.3l4.0 1.9M196.1 542.7l0.1 3.8M165.1 603.5l-3.1 -2.7M181.6 551.3l2.5 0.5M57.9 593.2l3.7 -1.6M185.4 663.0l-0.5 2.5M124.5 523.0l0.9 -3.4M193.6 657.9l1.1 1.5M196.8 519.5l2.7 2.5M169.3 563.8l1.4 2.7M185.0 667.5l2.7 2.1M172.9 539.0l1.8 -1.1M132.2 648.5l-1.0 -2.7M165.4 661.2l0.5 1.5M112.5 509.7l-2.1 1.6M173.3 510.4l-1.3 -1.4M171.7 650.9l2.0 -0.1M170.2 558.5l1.2 1.6M198.1 674.1l2.7 2.6M150.4 647.0l-2.5 2.6M112.1 525.1l-2.7 0.1M105.6 506.1l-2.0 -3.1M180.5 590.3l1.9 0.1M200.6 556.7l3.1 0.6M45.5 576.8l0.7 -3.2M143.4 511.3l-3.3 -3.0M176.1 542.3l1.7 -0.7M115.7 505.3l-0.9 -2.9M130.2 533.7l-1.7 -2.2M187.6 596.0l3.4 -2.5M160.1 628.7l3.3 -3.0M192.8 589.0l0.9 3.4M127.3 511.0l0.6 -2.0M169.6 656.2l2.3 2.3M177.8 491.3l1.2 -2.1M198.4 525.2l1.0 3.9M177.6 506.7l1.9 -1.3M116.2 644.3l-1.3 -2.0M126.4 623.1l-3.3 -1.2M156.8 537.2l-0.6 -2.7M158.6 606.0l3.4 0.1M143.7 658.7l-3.9 -1.2M203.6 535.0l-0.0 2.7M115.9 521.1l-2.8 3.4M156.8 647.9l-1.5 -0.2M207.2 531.6l0.1 -3.8M137.8 549.0l-1.0 -1.4M167.5 576.4l2.4 -3.0M115.0 542.3l-4.0 1.6M94.2 523.2l-0.0 1.5M164.9 668.8l4.2 1.4M161.2 567.7l-1.5 0.9M136.4 536.4l-0.7 -1.5M127.0 510.4l-1.9 -1.8M146.1 627.2l0.3 -1.9M170.7 536.5l1.5 -0.4M103.4 525.2l0.4 2.0M139.4 656.4l-3.2 -1.0M129.1 656.4l-4.2 -0.6M190.7 590.7l1.9 -1.5M133.8 634.0l-3.9 -0.3M153.8 653.9l-0.2 2.7M147.8 533.3l-1.3 -2.6M200.8 536.0l3.8 -1.5M172.4 658.7l1.4 0.6M61.6 595.5l4.2 -1.3M160.3 526.5l1.2 -2.1M150.2 563.2l-2.8 -0.8M198.9 545.7l2.8 -1.0M172.6 600.0l-3.5 -2.3M171.7 651.3l1.0 3.2M166.4 504.3l-1.3 -1.3M112.3 523.1l-2.4 1.4" stroke="#cfcfcf" stroke-width="3.4" stroke-linecap="round" fill="none"/>
<path d="M150.7 625.3l-2.6 -2.4M123.2 528.1l-2.3 -0.1M186.9 597.3l2.1 1.9M199.7 545.3l1.6 2.2M46.5 619.5l1.9 3.0M169.5 575.1l1.2 1.8M116.9 510.5l0.7 -2.3M163.7 530.9l1.9 1.7M197.9 580.7l-0.0 2.4M146.0 524.4l-1.3 -0.5M127.8 653.1l-1.5 1.5M86.1 531.2l-2.4 -1.5M154.8 663.1l-1.0 1.9M201.8 536.8l1.8 -0.3M108.4 513.3l-0.7 -1.6M156.6 653.3l1.1 1.1M147.0 641.8l-1.1 -2.0M161.3 660.0l-1.3 0.9M134.7 625.9l-2.9 2.0M122.6 636.4l-2.9 1.8M146.3 670.2l-2.6 0.1M118.7 507.2l-0.7 -1.8M153.7 516.3l2.6 -0.9M180.0 632.3l0.6 -1.2M199.3 537.2l2.2 2.4M185.6 587.7l1.8 1.4M146.1 522.4l-2.1 0.0M179.0 563.3l-0.1 3.5M159.7 572.0l0.5 1.5M172.4 570.6l1.2 1.6M158.7 528.4l1.4 -0.0M150.6 631.6l-0.5 1.3M134.9 631.2l-2.0 1.9M207.9 546.4l1.2 0.3M44.9 592.2l-2.0 1.5M190.1 678.3l-0.2 2.1M170.7 677.5l1.3 2.3M184.9 579.8l1.5 3.2M170.8 632.2l1.6 -2.1M192.5 563.8l1.1 2.1M46.9 619.4l-0.7 2.8M183.7 631.0l-0.0 -2.3M163.0 648.5l2.0 -1.0M143.2 547.0l-1.6 -1.7M56.9 596.4l0.9 2.8M181.5 568.3l1.1 1.0M194.7 591.7l2.0 1.7M198.4 517.9l1.5 -1.7M160.1 503.6l-1.2 -1.1M166.7 521.1l1.9 -1.9M173.8 562.8l2.0 1.3M124.1 540.1l-1.0 -2.0M183.9 533.7l2.3 -0.8M179.5 539.3l1.0 0.8M188.6 538.0l1.1 -0.7M126.2 544.4l-2.9 0.8M180.2 644.5l2.3 0.1M49.3 614.9l0.5 2.0M137.8 512.5l-1.3 -0.3M126.5 622.1l0.4 -1.4M192.8 544.0l1.0 -0.8M85.4 530.3l-1.1 -0.7M183.8 611.7l3.5 0.5M170.6 531.0l-3.2 -1.2M183.0 505.7l1.6 0.6M151.4 601.5l1.2 -2.2M147.7 562.8l-0.6 2.5M97.9 536.0l-0.4 -2.1M141.9 623.5l-0.2 -1.7M153.8 527.0l2.5 -0.4M143.7 553.9l0.2 2.4M134.0 554.0l1.4 2.6M128.1 640.7l-3.0 1.3M179.6 493.0l-2.3 -2.3M51.6 613.2l2.1 0.9M195.0 584.5l2.6 2.1M92.3 530.9l-0.9 -1.2M148.8 667.1l-3.2 -0.9M204.0 572.5l-0.6 2.8M97.8 526.6l-0.2 -2.1M45.4 612.9l0.3 1.7M186.7 581.7l2.9 1.5M141.6 560.4l0.7 1.6M50.2 596.0l-2.8 1.1M187.7 642.4l1.9 1.8M156.6 544.4l0.5 1.4M199.6 589.7l-1.1 2.0M167.4 572.0l1.8 1.2M102.8 519.6l-2.5 -0.8M113.8 538.5l-2.2 1.2M200.7 662.3l0.9 0.8M162.5 661.6l-0.7 2.9M148.4 556.5l-3.1 0.9M177.8 520.1l0.4 -2.3M50.9 607.5l-3.4 0.6M156.4 632.3l-1.3 -0.0M160.3 507.4l-1.7 -1.7M178.3 584.1l0.7 1.4M171.2 650.1l-0.1 2.7M167.1 584.4l3.2 0.3M173.9 613.3l2.9 -0.9M143.5 665.3l-0.6 2.9M145.7 665.6l-2.3 1.7M184.3 554.2l2.0 0.1M115.6 533.2l-0.1 -2.5M197.2 505.8l1.4 -0.0M43.4 597.6l0.5 -1.2M204.9 582.2l2.1 0.6M175.8 615.7l2.3 -1.0M200.1 590.0l-0.3 1.7M154.8 537.2l-0.8 -1.1M177.2 601.8l1.2 -2.3M191.5 675.2l-0.1 2.5M157.2 630.2l-1.4 -0.6M187.5 620.7l0.5 -1.5M167.4 560.5l-1.3 -1.7M104.4 520.5l-3.2 0.8M149.2 561.6l-1.1 2.8M142.2 629.9l-1.0 -0.8M158.0 561.5l-0.9 0.8M173.1 655.4l1.7 -1.8M114.7 644.9l-1.2 -0.3M146.6 506.3l-3.0 -0.2M158.3 554.2l2.1 0.6M144.6 649.5l-1.4 0.0M162.9 662.5l-0.3 1.7M143.2 509.3l-1.8 -3.1M165.9 590.5l1.0 2.2M133.1 660.0l-1.9 -2.4M172.2 525.0l1.5 -1.4M193.6 538.7l1.6 0.5M142.9 654.2l-2.3 2.2M184.4 522.6l2.2 1.6M170.0 665.0l1.0 3.1M190.9 523.5l1.9 0.4M117.5 642.6l-2.0 -0.3M145.0 671.8l-1.3 -1.2M174.0 614.9l3.2 0.1M139.1 647.2l-2.7 -2.1M116.7 664.3l-1.8 2.1M110.4 521.6l-3.0 -0.7M193.1 597.4l-0.2 3.2M143.3 637.6l-1.8 0.0M158.1 496.2l0.3 -1.2M206.3 555.8l1.8 0.4M126.7 668.0l0.6 3.1M131.8 544.4l-1.1 -2.7M168.5 612.8l2.0 -0.7M196.1 553.9l1.6 0.0M62.4 598.5l3.0 0.1M163.5 502.5l-2.2 -0.7M149.7 503.5l-1.1 -3.4M151.2 601.6l0.4 -1.5M169.5 573.8l-0.2 2.2M154.2 542.4l-2.3 1.3M137.9 619.1l-0.8 -2.1M183.5 521.6l3.2 1.2M176.1 585.9l0.3 1.6M150.5 549.8l0.1 2.0M134.7 550.2l-1.5 -1.0M171.5 603.8l-1.1 -1.1M127.2 536.9l-3.2 -1.3M141.1 504.6l-3.5 -0.5M193.6 550.2l1.8 0.7M148.1 664.0l0.1 3.2M134.0 650.8l-1.5 0.3M179.0 641.7l1.7 0.3M186.1 594.7l0.9 3.3M181.0 681.5l2.2 1.8M120.2 666.1l-2.0 -1.1M153.2 558.9l-0.3 2.6M191.0 516.3l3.1 -0.1M151.5 496.3l1.2 -3.4M156.2 559.5l-1.9 1.5M127.9 550.0l-1.7 2.5M92.7 525.3l-3.2 -0.2M173.7 588.4l-0.9 1.9M163.5 641.2l1.6 -2.9M187.4 675.7l2.8 1.4M179.0 649.4l3.1 1.5M152.7 651.2l-1.7 0.8M128.0 671.1l0.1 2.4M200.9 579.8l1.7 1.9M194.2 535.2l-1.3 -2.6M188.1 628.1l-0.2 -2.2M128.0 548.2l-1.3 0.1M135.7 532.9l-2.6 -0.8M189.2 634.6l0.6 -1.4M179.6 574.5l-0.3 3.0M167.2 528.7l-1.0 -2.5M168.9 671.6l-0.2 3.5M168.6 601.9l2.8 -1.3M47.4 581.6l-0.5 -1.3M173.7 515.1l-0.8 -2.3M186.5 610.5l1.7 -1.3M111.1 532.6l-2.7 -0.2M129.1 544.7l-0.8 -1.9M141.6 652.7l-2.6 0.1M151.3 629.6l0.2 -1.3M188.1 646.8l2.4 -0.2M123.4 542.9l-1.3 -1.5M177.1 610.9l0.7 -2.8M189.3 586.6l-1.9 2.3M196.6 503.4l-0.0 1.9M159.8 645.8l2.3 2.6M198.4 526.2l3.1 0.9M183.6 649.4l3.2 0.9M131.7 630.8l-1.9 -0.4M144.3 503.9l0.6 -3.2M135.2 668.8l1.6 3.0M125.4 640.0l-2.5 -1.7M153.0 601.9l-1.3 -1.7M182.7 584.0l1.5 1.9M50.5 618.7l0.0 1.5M142.1 522.8l1.3 -1.7M127.1 630.2l-2.0 1.0M125.3 647.5l-2.8 1.2M127.6 506.6l-3.3 1.0M60.2 594.8l2.2 1.7M127.0 663.3l-1.9 -0.1M174.4 644.9l1.3 0.7M134.2 503.8l0.7 -2.7M45.1 622.2l-2.4 1.9M154.4 587.1l-0.6 2.8M178.8 521.3l0.6 -2.0M166.2 656.1l2.1 0.9M177.3 584.2l3.2 -0.3M186.8 589.3l-2.9 1.2M146.2 503.8l-2.9 -1.5M151.4 635.3l1.1 -2.6M44.0 608.9l-1.8 2.5M153.2 498.3l-1.9 -1.3M141.1 498.1l-1.9 -0.9M173.5 513.1l3.1 -0.4M146.0 645.7l-1.3 1.8M194.2 594.6l1.6 -1.1M152.7 529.6l-1.8 -1.0M155.7 622.4l1.2 -0.8M157.5 650.6l3.4 -0.4M211.0 575.4l-1.6 2.8M137.1 505.6l-1.9 -1.7M119.9 634.1l-1.1 -2.8M169.5 518.9l3.1 -0.1M141.2 640.3l-2.4 1.4M115.3 515.7l-2.0 -0.0M145.5 545.6l-1.3 1.6M174.2 521.7l-1.8 -3.0M128.3 520.5l-2.7 0.2M105.2 510.0l-2.5 -0.5M48.4 575.5l1.4 -3.1M118.0 519.8l-0.5 -1.6M187.4 671.3l1.4 0.9M181.7 501.7l-1.8 -0.4M54.3 601.3l-1.7 0.7M145.9 642.2l-1.2 0.4M194.4 526.1l0.6 -1.2M173.3 620.4l-1.0 -0.7M152.3 559.3l-2.9 0.0M176.8 568.1l1.4 1.8M134.5 508.6l2.6 -2.2M172.1 569.0l1.7 0.9M126.5 647.0l-3.0 -0.2M148.3 542.0l-1.6 0.5M204.2 572.0l-2.5 0.3M108.3 510.6l-3.4 -0.5M128.6 629.9l-3.3 1.1M204.3 549.9l1.6 -1.2M144.8 550.8l-1.2 -0.0M146.5 617.8l-1.7 -1.3M152.4 500.3l0.6 -3.5M94.9 533.1l-3.5 0.6M166.2 531.7l2.4 -0.2M177.5 539.4l2.5 1.1M170.6 676.0l3.2 -0.4M149.4 554.7l-1.6 0.6M187.6 517.7l1.5 -1.1M203.9 533.1l-1.2 -1.0M125.3 506.5l-2.8 -2.0M188.4 588.5l0.0 1.4M165.2 504.9l-1.3 -2.4M157.4 675.9l-0.7 1.5M123.1 667.3l-1.6 0.9M163.4 561.9l-2.7 1.4M91.4 536.6l-1.4 -0.8M151.1 530.5l-1.5 -0.7M169.6 534.6l1.9 0.0M193.4 563.0l1.4 1.1M187.9 597.3l-1.7 1.6M134.7 539.0l1.3 2.1M129.6 526.5l-0.6 1.2M108.8 514.2l-2.5 -2.3M199.1 573.7l1.1 1.1M182.1 603.9l-0.3 -1.4M158.6 655.6l-2.1 -1.7M209.2 542.3l0.4 1.7M183.3 623.0l0.3 -1.8M121.6 644.7l-1.2 2.4M168.4 591.3l-0.2 1.6M132.4 509.6l-2.3 -2.7M132.8 630.4l-1.7 -2.0M208.3 544.9l-0.6 -2.5M140.4 553.1l-0.1 1.3M141.8 663.5l-1.6 0.1M178.2 584.8l3.2 1.5M195.6 542.2l0.1 3.1M164.6 603.0l-2.5 -2.1M181.1 550.8l2.0 0.4M57.4 592.7l3.0 -1.2M184.9 662.5l-0.4 2.0M124.0 522.5l0.8 -2.7M193.1 657.4l0.9 1.2M196.3 519.0l2.2 2.0M168.8 563.3l1.1 2.2M184.5 667.0l2.2 1.7M172.4 538.5l1.4 -0.9M131.7 648.0l-0.8 -2.1M164.9 660.7l0.4 1.2M112.0 509.2l-1.7 1.3M172.8 509.9l-1.0 -1.1M171.2 650.4l1.6 -0.1M169.7 558.0l0.9 1.3M197.6 673.6l2.1 2.1M149.9 646.5l-2.0 2.1M111.6 524.6l-2.2 0.1M105.1 505.6l-1.6 -2.5M180.0 589.8l1.5 0.1M200.1 556.2l2.5 0.5M45.0 576.3l0.5 -2.6M142.9 510.8l-2.7 -2.4M175.6 541.8l1.4 -0.6M115.2 504.8l-0.7 -2.3M129.7 533.2l-1.4 -1.7M187.1 595.5l2.7 -2.0M159.6 628.2l2.6 -2.4M192.3 588.5l0.7 2.7M126.8 510.5l0.5 -1.6M169.1 655.7l1.8 1.8M177.3 490.8l1.0 -1.7M197.9 524.7l0.8 3.1M177.1 506.2l1.5 -1.0M115.7 643.8l-1.0 -1.6M125.9 622.6l-2.6 -1.0M156.3 536.7l-0.5 -2.2M158.1 605.5l2.7 0.1M143.2 658.2l-3.1 -1.0M203.1 534.5l-0.0 2.1M115.4 520.6l-2.3 2.7M156.3 647.4l-1.2 -0.2M206.7 531.1l0.1 -3.1M137.3 548.5l-0.8 -1.1M167.0 575.9l1.9 -2.4M114.5 541.8l-3.2 1.3M93.7 522.7l-0.0 1.2M164.4 668.3l3.3 1.1M160.7 567.2l-1.2 0.7M135.9 535.9l-0.5 -1.2M126.5 509.9l-1.6 -1.4M145.6 626.7l0.2 -1.5M170.2 536.0l1.2 -0.3M102.9 524.7l0.3 1.6M138.9 655.9l-2.5 -0.8M128.6 655.9l-3.3 -0.5M190.2 590.2l1.5 -1.2M133.3 633.5l-3.1 -0.2M153.3 653.4l-0.1 2.2M147.3 532.8l-1.1 -2.1M200.3 535.5l3.0 -1.2M171.9 658.2l1.1 0.5M61.1 595.0l3.4 -1.0M159.8 526.0l1.0 -1.7M149.7 562.7l-2.3 -0.6M198.4 545.2l2.3 -0.8M172.1 599.5l-2.8 -1.8M171.2 650.8l0.8 2.6M165.9 503.8l-1.1 -1.0M111.8 522.6l-1.9 1.1" stroke="#e0e0e0" stroke-width="1.4" stroke-linecap="round" fill="none"/>
<path d="M114.4 528.2l-1.8 3.0M178.9 639.1l4.3 -0.7M44.5 575.7l-2.1 -0.7M186.6 624.0l2.4 -1.6M203.4 550.5l4.3 1.2M114.9 661.3l-2.7 -2.5M192.1 507.2l-0.7 -4.3M188.5 557.2l4.2 1.6M168.5 539.6l-1.1 -4.1M183.0 680.9l1.4 0.9M150.9 565.2l3.9 1.8M125.4 504.7l-0.5 -1.7M171.9 551.2l-2.0 3.4M163.4 646.1l2.4 -0.9M192.4 505.7l-1.0 -1.1M139.9 675.5l-2.8 2.0M170.9 527.4l1.5 -0.2M130.5 656.4l-3.6 1.9M159.9 494.1l1.5 -1.1M159.7 666.9l-0.8 2.2M197.0 556.5l1.2 4.1M130.8 624.3l0.4 3.1M99.4 519.3l-0.7 2.0M186.5 530.0l1.6 0.7M173.1 638.8l2.0 -0.9M197.3 590.3l3.3 2.4M144.4 550.8l-0.9 2.9M111.6 518.8l-1.3 -3.7M178.2 614.7l-0.1 -3.1M126.4 527.6l-0.5 -2.3M132.4 511.6l1.7 -1.0M134.6 635.5l-3.4 -0.0M196.0 579.9l3.0 2.3M117.8 537.0l-3.8 0.4M174.6 601.5l3.0 -2.6M183.5 661.3l2.3 -0.3M164.2 511.2l-0.2 -2.6M180.7 594.6l-2.5 0.1M153.4 526.1l0.7 -1.5M163.0 551.6l-2.0 1.9M155.9 544.6l-2.3 3.0M197.0 570.1l1.1 2.1M161.3 593.4l-0.8 1.3M173.2 583.5l0.1 2.2M192.3 551.7l2.0 -0.9M172.3 524.7l1.4 1.6M189.7 584.2l3.9 1.9M149.1 650.2l2.5 2.6M157.5 560.8l2.2 2.7M177.1 675.4l0.5 1.5M108.0 537.7l-1.4 0.8M135.9 620.6l-1.2 -2.8M147.8 529.7l-0.7 -2.8M169.1 579.3l-0.3 2.3M168.3 507.5l-1.5 -1.1M143.3 650.1l-1.4 1.0M200.5 517.7l1.5 0.4M171.1 558.4l-2.1 1.5M137.4 508.0l-3.1 1.5M206.4 563.5l1.1 1.2M175.3 661.0l1.8 1.4M203.1 552.2l1.2 1.3M168.9 512.3l-2.0 -0.7M157.4 548.9l-3.5 2.1M44.6 617.2l0.7 1.6M166.4 575.9l1.9 4.0M151.7 659.5l-0.3 3.8M174.7 568.0l0.6 2.5M144.5 503.4l0.1 -2.7M130.3 672.9l-1.8 0.8M162.6 550.9l1.4 0.9M190.2 524.2l2.0 -1.6M194.3 535.0l1.2 -2.2M192.2 531.5l-0.3 -4.2M174.0 590.3l2.9 2.2M193.5 567.8l3.0 1.2M147.1 501.6l-4.0 -1.1M204.8 567.5l0.2 1.8M194.0 564.5l0.2 -2.2M47.9 591.4l0.0 2.7M172.3 539.6l2.8 1.5M204.4 568.6l0.9 2.5M177.1 561.9l1.2 -1.2M138.7 553.9l-1.7 -1.4M146.5 510.6l1.2 -4.1M190.5 538.5l0.2 -1.6M194.0 507.2l-0.2 -4.0M168.7 652.2l3.6 -2.6M155.1 560.9l-4.1 -0.6M185.6 584.9l3.7 0.8M148.6 618.9l-1.2 -3.0M185.2 659.0l0.8 2.5M159.2 581.1l2.3 2.5M161.8 497.9l-0.6 -2.1M142.6 505.8l0.7 -2.0M186.9 563.9l3.5 0.7M190.1 666.5l0.7 2.4M151.8 530.0l0.9 -1.2M155.5 662.4l-1.7 -0.1M149.3 626.4l-3.0 -2.1M90.2 532.6l-2.5 -1.1M94.6 522.7l-3.3 0.5M167.7 509.6l0.3 -2.5M57.7 590.5l2.3 -3.8M115.5 503.8l-0.2 -1.6M140.6 541.2l-3.9 -0.6M167.3 575.1l-1.7 2.4M169.0 632.3l4.1 0.8M154.8 527.6l1.7 -2.4M141.0 621.8l1.3 -2.1M171.0 628.3l0.3 -3.0M153.4 522.4l-1.7 -2.2M135.6 505.8l-1.2 -3.3M178.7 586.2l-2.7 0.5M162.4 501.3l-0.1 -4.0M181.0 609.1l1.6 0.1M179.6 547.8l1.6 -1.3M50.0 573.7l0.7 -2.6M174.8 622.2l0.3 -1.6M206.1 551.5l3.0 2.7M170.4 655.7l3.5 0.4M133.3 620.4l-2.0 -0.3M154.2 515.2l1.4 -1.9M123.5 512.0l-1.4 -3.1M160.4 658.4l0.5 3.1M161.3 513.5l0.5 -2.7M196.6 586.5l-1.5 2.2M198.4 508.1l0.1 -1.6M153.1 638.5l-3.2 1.3M186.6 620.6l2.5 -1.6M158.6 531.1l-2.6 -3.0M132.6 639.8l-2.0 -1.2M147.9 544.7l-1.0 1.8M104.3 525.4l-1.3 -1.0M181.0 584.1l3.8 1.5M172.5 584.5l1.9 4.0M117.6 659.0l-4.0 0.4M183.4 670.0l3.9 2.1M203.7 586.7l1.7 0.3M149.5 515.5l-2.0 -1.0M152.0 611.4l-1.9 -3.4M184.0 569.7l2.4 3.0M108.8 536.6l-3.5 -2.4M181.9 649.3l3.5 -1.2M187.3 512.9l1.9 -0.1M190.5 567.4l-0.1 2.8M159.2 539.9l2.3 -1.1M175.6 650.0l2.7 -1.5M148.2 657.6l2.1 -0.4M123.4 523.2l-4.1 0.7M200.9 557.9l4.2 0.9M179.0 660.2l-1.3 -2.5M202.1 665.6l0.8 1.3M111.1 650.7l-2.8 -0.8M195.8 521.7l0.2 -1.9M101.5 514.6l0.0 -3.3M117.8 651.4l-0.8 1.9M166.4 549.4l-2.0 4.0M170.7 628.2l2.8 -2.4M184.2 560.9l2.7 3.0M132.5 510.7l-2.5 -3.5M201.5 554.9l2.1 -0.5M178.2 629.9l1.2 -2.0M165.9 505.5l2.6 -2.3M138.9 512.4l-0.2 -4.3M186.4 632.8l3.2 -0.2M146.9 622.6l-0.2 -1.9M154.6 557.2l-3.6 1.5M166.8 619.0l-0.5 -3.7M139.6 629.1l2.5 -3.2M179.6 597.9l-0.9 2.5M181.6 608.2l2.9 -0.7M168.7 534.7l2.3 -2.1M181.6 563.9l2.8 1.2M119.8 506.9l-1.1 -1.9M130.5 521.0l0.5 -4.1M49.7 603.1l-2.3 1.9M143.7 617.4l-2.5 -0.2M186.9 535.0l-2.9 -2.7M170.9 553.7l-0.7 2.5M205.1 574.9l2.2 1.4M163.9 638.6l3.9 -0.6M174.2 519.6l2.7 0.6M180.6 660.4l3.9 1.1M164.5 549.1l2.1 2.4M151.4 512.6l1.2 -1.7M156.3 610.2l-2.0 -2.1M116.5 660.9l0.3 2.4M165.8 648.5l3.5 1.4M152.6 601.1l2.8 -3.3M169.0 579.6l-2.3 3.7M141.9 667.4l-0.3 4.1M156.3 495.5l2.3 -1.7M139.6 655.8l0.1 1.7M189.6 564.4l1.8 0.4M139.8 505.7l-2.9 0.2M49.7 594.2l-2.1 1.0M120.8 632.7l-2.3 2.1M166.0 544.5l-0.4 4.3M104.9 539.1l-3.0 -1.7M54.3 608.1l-0.8 1.3M145.4 517.5l-1.0 -1.2M104.1 520.4l-3.0 -2.2M157.2 537.0l-1.2 -2.4M157.5 512.3l0.5 -4.0M43.1 591.6l-0.0 -1.5M188.2 648.3l2.5 0.4M181.2 542.5l2.0 -2.4M190.5 681.4l2.9 -1.6M147.6 635.6l-1.6 -2.5M194.7 582.0l2.0 -0.3M155.2 632.6l-1.2 -3.9M92.7 533.9l-3.0 -2.0M129.5 658.8l-2.8 0.5M198.5 525.6l1.6 -0.8M165.0 571.9l-1.6 0.4M165.0 510.2l1.7 -1.8M185.2 574.8l-0.5 2.3M177.0 501.9l2.9 -3.3M191.4 506.5l2.0 0.4M118.7 640.3l-3.8 1.0M154.2 547.3l-3.9 0.6M166.9 514.1l-1.1 -1.4M198.3 551.8l-0.3 -3.8M143.6 516.6l2.6 -2.2M160.4 527.1l-0.0 -2.2M124.2 656.6l-0.0 -2.5M160.3 616.7l2.1 -1.0M179.5 643.5l2.4 -1.7M184.7 658.4l2.6 0.8M160.1 638.1l-4.4 -0.7M172.7 597.1l1.2 1.9M143.4 535.8l-2.1 -1.2M129.1 635.0l-1.5 2.4M171.8 616.6l1.2 -3.8M159.7 515.1l-0.1 -1.7M183.8 499.5l2.5 -3.0M203.7 535.9l2.7 -0.3M164.9 673.8l0.8 1.6M101.6 533.4l-3.0 -2.6M170.6 622.5l3.1 0.8M192.4 542.4l2.2 -0.5M149.1 619.2l1.1 -3.7M155.7 564.4l0.3 3.3M187.9 543.5l1.5 -1.6M155.2 644.7l-2.0 1.1M191.7 508.1l2.1 -1.5M179.8 635.3l0.6 2.4M173.9 522.4l-0.1 -4.0M43.0 570.8l-2.2 -1.6M129.8 534.5l-2.8 0.3M205.2 584.5l1.3 2.3M124.6 532.4l-3.0 -0.1M157.6 641.4l-2.1 -0.9M53.7 600.1l0.0 3.1M112.1 648.3l-0.9 1.2M175.6 526.2l3.6 -0.6M141.7 651.0l-2.1 -1.4M197.2 553.0l2.6 0.7M197.1 675.6l2.0 -0.3M118.2 526.0l-1.2 1.2M193.9 585.0l-0.2 1.8M194.9 671.6l2.1 1.1M113.5 511.5l-2.4 -2.8M59.3 606.1l3.0 2.7M167.7 533.9l2.6 -1.5M151.7 524.8l-1.9 -2.8M188.7 551.2l1.6 0.8M189.7 583.7l-1.2 2.1M170.0 609.1l0.3 -2.6M170.1 585.1l1.0 4.0M136.7 637.6l-0.9 -1.2M115.6 533.2l-1.8 -0.9M130.3 649.5l-4.0 0.2M149.2 663.5l-0.4 3.0M140.0 548.9l-1.3 2.1M90.8 533.4l-3.2 2.1M192.0 593.3l3.8 -0.4M52.6 593.0l-3.4 0.7M114.4 507.6l-1.7 1.8M62.7 595.6l1.0 -1.2M92.9 526.1l-1.7 -0.6M101.0 510.9l-1.9 -2.6M192.7 592.5l0.4 1.7M173.7 505.6l2.0 -3.3M128.6 627.9l-2.6 0.6M120.3 650.9l-1.8 -0.0M197.5 661.2l3.5 -1.9M144.8 671.1l2.4 3.0M163.9 624.1l1.3 -0.8M135.9 503.4l-0.3 -2.0M183.7 525.9l2.4 1.7M173.0 576.4l-3.5 0.8M135.1 623.2l-2.2 -2.9M191.6 521.4l1.8 -2.4M201.1 521.8l-0.6 -3.1M45.3 571.1l2.7 1.0M164.2 658.8l1.1 1.1M43.3 591.1l-2.6 -2.7M111.9 650.6l-1.4 1.3M194.0 573.6l1.7 1.4M165.7 556.9l-0.7 2.0M105.4 531.4l-3.1 0.1M169.2 631.2l1.3 -1.8M172.7 529.8l-2.6 -1.4M137.2 530.3l-0.2 -1.7M145.3 510.1l0.3 -1.8M203.6 674.7l3.1 -1.3M117.2 642.7l-1.9 0.5M198.6 560.1l3.7 -1.2M142.2 516.4l-1.8 -3.8M192.0 575.2l2.6 3.5M194.6 590.9l4.3 0.9M157.7 560.7l-2.0 2.7M160.7 602.0l-1.7 -1.7M151.9 564.1l-0.4 2.7M145.5 554.2l-1.5 2.7M182.8 494.4l-0.7 -1.8M149.3 506.2l2.8 -3.1M137.7 523.5l-1.4 -1.4M50.0 578.9l-1.9 -0.4M165.7 651.7l0.9 2.4M149.5 513.7l-0.6 -1.7M174.2 645.9l0.7 2.0M188.2 550.6l2.6 1.2M172.6 650.2l3.4 2.5M183.7 568.1l3.9 0.1M183.3 646.5l1.8 -1.8M121.3 520.2l1.9 -3.5M180.6 577.3l2.8 -3.5M205.8 570.2l2.4 1.4M190.3 550.7l-1.7 1.1M176.2 582.9l-2.3 2.7M182.8 515.1l2.3 -2.0M122.6 656.6l-1.1 1.1M163.2 644.4l-0.1 2.9M199.0 677.7l1.8 0.6M184.4 512.5l1.3 -1.0M194.1 516.6l1.7 -0.2M190.3 672.5l2.5 3.6M200.6 569.9l3.0 2.4M132.1 652.6l-2.3 -1.4M113.0 644.1l-2.0 -0.6M186.1 511.7l3.3 -1.7M162.1 671.2l2.5 1.8M187.5 621.5l1.8 0.4M53.6 617.1l-1.3 1.7M202.1 665.3l-0.9 1.9M136.5 520.6l-3.8 -0.8M127.7 656.6l-2.1 3.1M91.9 537.7l-2.3 -2.2M171.2 511.7l-0.9 -1.9M161.0 663.7l2.7 -0.5M176.2 660.5l-1.8 3.1M179.3 613.5l1.4 -2.9M176.6 547.6l-1.7 4.0M117.3 503.4l-1.4 -1.4M166.2 555.1l1.9 1.8M172.7 517.7l1.8 0.1M140.9 522.3l0.4 -1.7M192.1 658.6l4.0 1.8M174.0 672.5l-2.0 3.6M153.5 530.0l-4.1 -0.6M128.9 540.9l-1.7 -2.9M196.4 567.7l3.2 0.3M129.2 538.0l-2.3 -0.9M117.9 525.2l-2.6 -0.3M164.0 529.1l-0.3 -4.4M198.6 594.4l1.8 3.5M196.9 568.4l1.5 2.2M171.6 532.7l2.6 -1.4M190.6 504.2l-0.1 -2.3M176.5 548.1l0.5 3.6M167.2 558.1l1.9 1.0M140.5 506.2l0.7 -3.8M128.1 522.9l0.1 -4.3" stroke="#808080" stroke-width="4.8" stroke-linecap="round" fill="none"/>
<path d="M114.4 528.2l-1.8 3.0M178.9 639.1l4.3 -0.7M44.5 575.7l-2.1 -0.7M186.6 624.0l2.4 -1.6M203.4 550.5l4.3 1.2M114.9 661.3l-2.7 -2.5M192.1 507.2l-0.7 -4.3M188.5 557.2l4.2 1.6M168.5 539.6l-1.1 -4.1M183.0 680.9l1.4 0.9M150.9 565.2l3.9 1.8M125.4 504.7l-0.5 -1.7M171.9 551.2l-2.0 3.4M163.4 646.1l2.4 -0.9M192.4 505.7l-1.0 -1.1M139.9 675.5l-2.8 2.0M170.9 527.4l1.5 -0.2M130.5 656.4l-3.6 1.9M159.9 494.1l1.5 -1.1M159.7 666.9l-0.8 2.2M197.0 556.5l1.2 4.1M130.8 624.3l0.4 3.1M99.4 519.3l-0.7 2.0M186.5 530.0l1.6 0.7M173.1 638.8l2.0 -0.9M197.3 590.3l3.3 2.4M144.4 550.8l-0.9 2.9M111.6 518.8l-1.3 -3.7M178.2 614.7l-0.1 -3.1M126.4 527.6l-0.5 -2.3M132.4 511.6l1.7 -1.0M134.6 635.5l-3.4 -0.0M196.0 579.9l3.0 2.3M117.8 537.0l-3.8 0.4M174.6 601.5l3.0 -2.6M183.5 661.3l2.3 -0.3M164.2 511.2l-0.2 -2.6M180.7 594.6l-2.5 0.1M153.4 526.1l0.7 -1.5M163.0 551.6l-2.0 1.9M155.9 544.6l-2.3 3.0M197.0 570.1l1.1 2.1M161.3 593.4l-0.8 1.3M173.2 583.5l0.1 2.2M192.3 551.7l2.0 -0.9M172.3 524.7l1.4 1.6M189.7 584.2l3.9 1.9M149.1 650.2l2.5 2.6M157.5 560.8l2.2 2.7M177.1 675.4l0.5 1.5M108.0 537.7l-1.4 0.8M135.9 620.6l-1.2 -2.8M147.8 529.7l-0.7 -2.8M169.1 579.3l-0.3 2.3M168.3 507.5l-1.5 -1.1M143.3 650.1l-1.4 1.0M200.5 517.7l1.5 0.4M171.1 558.4l-2.1 1.5M137.4 508.0l-3.1 1.5M206.4 563.5l1.1 1.2M175.3 661.0l1.8 1.4M203.1 552.2l1.2 1.3M168.9 512.3l-2.0 -0.7M157.4 548.9l-3.5 2.1M44.6 617.2l0.7 1.6M166.4 575.9l1.9 4.0M151.7 659.5l-0.3 3.8M174.7 568.0l0.6 2.5M144.5 503.4l0.1 -2.7M130.3 672.9l-1.8 0.8M162.6 550.9l1.4 0.9M190.2 524.2l2.0 -1.6M194.3 535.0l1.2 -2.2M192.2 531.5l-0.3 -4.2M174.0 590.3l2.9 2.2M193.5 567.8l3.0 1.2M147.1 501.6l-4.0 -1.1M204.8 567.5l0.2 1.8M194.0 564.5l0.2 -2.2M47.9 591.4l0.0 2.7M172.3 539.6l2.8 1.5M204.4 568.6l0.9 2.5M177.1 561.9l1.2 -1.2M138.7 553.9l-1.7 -1.4M146.5 510.6l1.2 -4.1M190.5 538.5l0.2 -1.6M194.0 507.2l-0.2 -4.0M168.7 652.2l3.6 -2.6M155.1 560.9l-4.1 -0.6M185.6 584.9l3.7 0.8M148.6 618.9l-1.2 -3.0M185.2 659.0l0.8 2.5M159.2 581.1l2.3 2.5M161.8 497.9l-0.6 -2.1M142.6 505.8l0.7 -2.0M186.9 563.9l3.5 0.7M190.1 666.5l0.7 2.4M151.8 530.0l0.9 -1.2M155.5 662.4l-1.7 -0.1M149.3 626.4l-3.0 -2.1M90.2 532.6l-2.5 -1.1M94.6 522.7l-3.3 0.5M167.7 509.6l0.3 -2.5M57.7 590.5l2.3 -3.8M115.5 503.8l-0.2 -1.6M140.6 541.2l-3.9 -0.6M167.3 575.1l-1.7 2.4M169.0 632.3l4.1 0.8M154.8 527.6l1.7 -2.4M141.0 621.8l1.3 -2.1M171.0 628.3l0.3 -3.0M153.4 522.4l-1.7 -2.2M135.6 505.8l-1.2 -3.3M178.7 586.2l-2.7 0.5M162.4 501.3l-0.1 -4.0M181.0 609.1l1.6 0.1M179.6 547.8l1.6 -1.3M50.0 573.7l0.7 -2.6M174.8 622.2l0.3 -1.6M206.1 551.5l3.0 2.7M170.4 655.7l3.5 0.4M133.3 620.4l-2.0 -0.3M154.2 515.2l1.4 -1.9M123.5 512.0l-1.4 -3.1M160.4 658.4l0.5 3.1M161.3 513.5l0.5 -2.7M196.6 586.5l-1.5 2.2M198.4 508.1l0.1 -1.6M153.1 638.5l-3.2 1.3M186.6 620.6l2.5 -1.6M158.6 531.1l-2.6 -3.0M132.6 639.8l-2.0 -1.2M147.9 544.7l-1.0 1.8M104.3 525.4l-1.3 -1.0M181.0 584.1l3.8 1.5M172.5 584.5l1.9 4.0M117.6 659.0l-4.0 0.4M183.4 670.0l3.9 2.1M203.7 586.7l1.7 0.3M149.5 515.5l-2.0 -1.0M152.0 611.4l-1.9 -3.4M184.0 569.7l2.4 3.0M108.8 536.6l-3.5 -2.4M181.9 649.3l3.5 -1.2M187.3 512.9l1.9 -0.1M190.5 567.4l-0.1 2.8M159.2 539.9l2.3 -1.1M175.6 650.0l2.7 -1.5M148.2 657.6l2.1 -0.4M123.4 523.2l-4.1 0.7M200.9 557.9l4.2 0.9M179.0 660.2l-1.3 -2.5M202.1 665.6l0.8 1.3M111.1 650.7l-2.8 -0.8M195.8 521.7l0.2 -1.9M101.5 514.6l0.0 -3.3M117.8 651.4l-0.8 1.9M166.4 549.4l-2.0 4.0M170.7 628.2l2.8 -2.4M184.2 560.9l2.7 3.0M132.5 510.7l-2.5 -3.5M201.5 554.9l2.1 -0.5M178.2 629.9l1.2 -2.0M165.9 505.5l2.6 -2.3M138.9 512.4l-0.2 -4.3M186.4 632.8l3.2 -0.2M146.9 622.6l-0.2 -1.9M154.6 557.2l-3.6 1.5M166.8 619.0l-0.5 -3.7M139.6 629.1l2.5 -3.2M179.6 597.9l-0.9 2.5M181.6 608.2l2.9 -0.7M168.7 534.7l2.3 -2.1M181.6 563.9l2.8 1.2M119.8 506.9l-1.1 -1.9M130.5 521.0l0.5 -4.1M49.7 603.1l-2.3 1.9M143.7 617.4l-2.5 -0.2M186.9 535.0l-2.9 -2.7M170.9 553.7l-0.7 2.5M205.1 574.9l2.2 1.4M163.9 638.6l3.9 -0.6M174.2 519.6l2.7 0.6M180.6 660.4l3.9 1.1M164.5 549.1l2.1 2.4M151.4 512.6l1.2 -1.7M156.3 610.2l-2.0 -2.1M116.5 660.9l0.3 2.4M165.8 648.5l3.5 1.4M152.6 601.1l2.8 -3.3M169.0 579.6l-2.3 3.7M141.9 667.4l-0.3 4.1M156.3 495.5l2.3 -1.7M139.6 655.8l0.1 1.7M189.6 564.4l1.8 0.4M139.8 505.7l-2.9 0.2M49.7 594.2l-2.1 1.0M120.8 632.7l-2.3 2.1M166.0 544.5l-0.4 4.3M104.9 539.1l-3.0 -1.7M54.3 608.1l-0.8 1.3M145.4 517.5l-1.0 -1.2M104.1 520.4l-3.0 -2.2M157.2 537.0l-1.2 -2.4M157.5 512.3l0.5 -4.0M43.1 591.6l-0.0 -1.5M188.2 648.3l2.5 0.4M181.2 542.5l2.0 -2.4M190.5 681.4l2.9 -1.6M147.6 635.6l-1.6 -2.5M194.7 582.0l2.0 -0.3M155.2 632.6l-1.2 -3.9M92.7 533.9l-3.0 -2.0M129.5 658.8l-2.8 0.5M198.5 525.6l1.6 -0.8M165.0 571.9l-1.6 0.4M165.0 510.2l1.7 -1.8M185.2 574.8l-0.5 2.3M177.0 501.9l2.9 -3.3M191.4 506.5l2.0 0.4M118.7 640.3l-3.8 1.0M154.2 547.3l-3.9 0.6M166.9 514.1l-1.1 -1.4M198.3 551.8l-0.3 -3.8M143.6 516.6l2.6 -2.2M160.4 527.1l-0.0 -2.2M124.2 656.6l-0.0 -2.5M160.3 616.7l2.1 -1.0M179.5 643.5l2.4 -1.7M184.7 658.4l2.6 0.8M160.1 638.1l-4.4 -0.7M172.7 597.1l1.2 1.9M143.4 535.8l-2.1 -1.2M129.1 635.0l-1.5 2.4M171.8 616.6l1.2 -3.8M159.7 515.1l-0.1 -1.7M183.8 499.5l2.5 -3.0M203.7 535.9l2.7 -0.3M164.9 673.8l0.8 1.6M101.6 533.4l-3.0 -2.6M170.6 622.5l3.1 0.8M192.4 542.4l2.2 -0.5M149.1 619.2l1.1 -3.7M155.7 564.4l0.3 3.3M187.9 543.5l1.5 -1.6M155.2 644.7l-2.0 1.1M191.7 508.1l2.1 -1.5M179.8 635.3l0.6 2.4M173.9 522.4l-0.1 -4.0M43.0 570.8l-2.2 -1.6M129.8 534.5l-2.8 0.3M205.2 584.5l1.3 2.3M124.6 532.4l-3.0 -0.1M157.6 641.4l-2.1 -0.9M53.7 600.1l0.0 3.1M112.1 648.3l-0.9 1.2M175.6 526.2l3.6 -0.6M141.7 651.0l-2.1 -1.4M197.2 553.0l2.6 0.7M197.1 675.6l2.0 -0.3M118.2 526.0l-1.2 1.2M193.9 585.0l-0.2 1.8M194.9 671.6l2.1 1.1M113.5 511.5l-2.4 -2.8M59.3 606.1l3.0 2.7M167.7 533.9l2.6 -1.5M151.7 524.8l-1.9 -2.8M188.7 551.2l1.6 0.8M189.7 583.7l-1.2 2.1M170.0 609.1l0.3 -2.6M170.1 585.1l1.0 4.0M136.7 637.6l-0.9 -1.2M115.6 533.2l-1.8 -0.9M130.3 649.5l-4.0 0.2M149.2 663.5l-0.4 3.0M140.0 548.9l-1.3 2.1M90.8 533.4l-3.2 2.1M192.0 593.3l3.8 -0.4M52.6 593.0l-3.4 0.7M114.4 507.6l-1.7 1.8M62.7 595.6l1.0 -1.2M92.9 526.1l-1.7 -0.6M101.0 510.9l-1.9 -2.6M192.7 592.5l0.4 1.7M173.7 505.6l2.0 -3.3M128.6 627.9l-2.6 0.6M120.3 650.9l-1.8 -0.0M197.5 661.2l3.5 -1.9M144.8 671.1l2.4 3.0M163.9 624.1l1.3 -0.8M135.9 503.4l-0.3 -2.0M183.7 525.9l2.4 1.7M173.0 576.4l-3.5 0.8M135.1 623.2l-2.2 -2.9M191.6 521.4l1.8 -2.4M201.1 521.8l-0.6 -3.1M45.3 571.1l2.7 1.0M164.2 658.8l1.1 1.1M43.3 591.1l-2.6 -2.7M111.9 650.6l-1.4 1.3M194.0 573.6l1.7 1.4M165.7 556.9l-0.7 2.0M105.4 531.4l-3.1 0.1M169.2 631.2l1.3 -1.8M172.7 529.8l-2.6 -1.4M137.2 530.3l-0.2 -1.7M145.3 510.1l0.3 -1.8M203.6 674.7l3.1 -1.3M117.2 642.7l-1.9 0.5M198.6 560.1l3.7 -1.2M142.2 516.4l-1.8 -3.8M192.0 575.2l2.6 3.5M194.6 590.9l4.3 0.9M157.7 560.7l-2.0 2.7M160.7 602.0l-1.7 -1.7M151.9 564.1l-0.4 2.7M145.5 554.2l-1.5 2.7M182.8 494.4l-0.7 -1.8M149.3 506.2l2.8 -3.1M137.7 523.5l-1.4 -1.4M50.0 578.9l-1.9 -0.4M165.7 651.7l0.9 2.4M149.5 513.7l-0.6 -1.7M174.2 645.9l0.7 2.0M188.2 550.6l2.6 1.2M172.6 650.2l3.4 2.5M183.7 568.1l3.9 0.1M183.3 646.5l1.8 -1.8M121.3 520.2l1.9 -3.5M180.6 577.3l2.8 -3.5M205.8 570.2l2.4 1.4M190.3 550.7l-1.7 1.1M176.2 582.9l-2.3 2.7M182.8 515.1l2.3 -2.0M122.6 656.6l-1.1 1.1M163.2 644.4l-0.1 2.9M199.0 677.7l1.8 0.6M184.4 512.5l1.3 -1.0M194.1 516.6l1.7 -0.2M190.3 672.5l2.5 3.6M200.6 569.9l3.0 2.4M132.1 652.6l-2.3 -1.4M113.0 644.1l-2.0 -0.6M186.1 511.7l3.3 -1.7M162.1 671.2l2.5 1.8M187.5 621.5l1.8 0.4M53.6 617.1l-1.3 1.7M202.1 665.3l-0.9 1.9M136.5 520.6l-3.8 -0.8M127.7 656.6l-2.1 3.1M91.9 537.7l-2.3 -2.2M171.2 511.7l-0.9 -1.9M161.0 663.7l2.7 -0.5M176.2 660.5l-1.8 3.1M179.3 613.5l1.4 -2.9M176.6 547.6l-1.7 4.0M117.3 503.4l-1.4 -1.4M166.2 555.1l1.9 1.8M172.7 517.7l1.8 0.1M140.9 522.3l0.4 -1.7M192.1 658.6l4.0 1.8M174.0 672.5l-2.0 3.6M153.5 530.0l-4.1 -0.6M128.9 540.9l-1.7 -2.9M196.4 567.7l3.2 0.3M129.2 538.0l-2.3 -0.9M117.9 525.2l-2.6 -0.3M164.0 529.1l-0.3 -4.4M198.6 594.4l1.8 3.5M196.9 568.4l1.5 2.2M171.6 532.7l2.6 -1.4M190.6 504.2l-0.1 -2.3M176.5 548.1l0.5 3.6M167.2 558.1l1.9 1.0M140.5 506.2l0.7 -3.8M128.1 522.9l0.1 -4.3" stroke="#c4c4c4" stroke-width="3.4" stroke-linecap="round" fill="none"/>
<path d="M113.9 527.7l-1.4 2.4M178.4 638.6l3.4 -0.6M44.0 575.2l-1.7 -0.5M186.1 623.5l1.9 -1.3M202.9 550.0l3.4 1.0M114.4 660.8l-2.2 -2.0M191.6 506.7l-0.6 -3.4M188.0 556.7l3.4 1.3M168.0 539.1l-0.9 -3.3M182.5 680.4l1.1 0.7M150.4 564.7l3.2 1.4M124.9 504.2l-0.4 -1.3M171.4 550.7l-1.6 2.7M162.9 645.6l1.9 -0.7M191.9 505.2l-0.8 -0.9M139.4 675.0l-2.3 1.6M170.4 526.9l1.2 -0.2M130.0 655.9l-2.9 1.5M159.4 493.6l1.2 -0.9M159.2 666.4l-0.7 1.7M196.5 556.0l1.0 3.3M130.3 623.8l0.4 2.5M98.9 518.8l-0.6 1.6M186.0 529.5l1.3 0.6M172.6 638.3l1.6 -0.7M196.8 589.8l2.7 1.9M143.9 550.3l-0.7 2.3M111.1 518.3l-1.1 -2.9M177.7 614.2l-0.1 -2.4M125.9 527.1l-0.4 -1.8M131.9 511.1l1.3 -0.8M134.1 635.0l-2.7 -0.0M195.5 579.4l2.4 1.9M117.3 536.5l-3.0 0.3M174.1 601.0l2.4 -2.1M183.0 660.8l1.8 -0.2M163.7 510.7l-0.1 -2.1M180.2 594.1l-2.0 0.1M152.9 525.6l0.6 -1.2M162.5 551.1l-1.6 1.5M155.4 544.1l-1.9 2.4M196.5 569.6l0.9 1.7M160.8 592.9l-0.7 1.0M172.7 583.0l0.1 1.8M191.8 551.2l1.6 -0.7M171.8 524.2l1.1 1.3M189.2 583.7l3.2 1.5M148.6 649.7l2.0 2.1M157.0 560.3l1.8 2.1M176.6 674.9l0.4 1.2M107.5 537.2l-1.1 0.6M135.4 620.1l-1.0 -2.2M147.3 529.2l-0.6 -2.2M168.6 578.8l-0.2 1.9M167.8 507.0l-1.2 -0.9M142.8 649.6l-1.1 0.8M200.0 517.2l1.2 0.3M170.6 557.9l-1.7 1.2M136.9 507.5l-2.5 1.2M205.9 563.0l0.9 1.0M174.8 660.5l1.5 1.1M202.6 551.7l1.0 1.0M168.4 511.8l-1.6 -0.6M156.9 548.4l-2.8 1.7M44.1 616.7l0.6 1.3M165.9 575.4l1.5 3.2M151.2 659.0l-0.2 3.0M174.2 567.5l0.4 2.0M144.0 502.9l0.1 -2.1M129.8 672.4l-1.5 0.7M162.1 550.4l1.1 0.7M189.7 523.7l1.6 -1.2M193.8 534.5l1.0 -1.8M191.7 531.0l-0.3 -3.4M173.5 589.8l2.3 1.8M193.0 567.3l2.4 1.0M146.6 501.1l-3.2 -0.9M204.3 567.0l0.2 1.5M193.5 564.0l0.2 -1.8M47.4 590.9l0.0 2.1M171.8 539.1l2.2 1.2M203.9 568.1l0.7 2.0M176.6 561.4l1.0 -0.9M138.2 553.4l-1.4 -1.1M146.0 510.1l1.0 -3.3M190.0 538.0l0.1 -1.3M193.5 506.7l-0.1 -3.2M168.2 651.7l2.9 -2.1M154.6 560.4l-3.3 -0.4M185.1 584.4l2.9 0.6M148.1 618.4l-1.0 -2.4M184.7 658.5l0.7 2.0M158.7 580.6l1.9 2.0M161.3 497.4l-0.5 -1.7M142.1 505.3l0.5 -1.6M186.4 563.4l2.8 0.6M189.6 666.0l0.6 1.9M151.3 529.5l0.7 -1.0M155.0 661.9l-1.4 -0.0M148.8 625.9l-2.4 -1.7M89.7 532.1l-2.0 -0.9M94.1 522.2l-2.6 0.4M167.2 509.1l0.2 -2.0M57.2 590.0l1.8 -3.0M115.0 503.3l-0.2 -1.2M140.1 540.7l-3.1 -0.5M166.8 574.6l-1.4 1.9M168.5 631.8l3.3 0.7M154.3 527.1l1.3 -1.9M140.5 621.3l1.1 -1.7M170.5 627.8l0.3 -2.4M152.9 521.9l-1.4 -1.7M135.1 505.3l-1.0 -2.6M178.2 585.7l-2.1 0.4M161.9 500.8l-0.1 -3.2M180.5 608.6l1.3 0.1M179.1 547.3l1.3 -1.1M49.5 573.2l0.6 -2.1M174.3 621.7l0.3 -1.2M205.6 551.0l2.4 2.2M169.9 655.2l2.8 0.3M132.8 619.9l-1.6 -0.2M153.7 514.7l1.1 -1.6M123.0 511.5l-1.1 -2.4M159.9 657.9l0.4 2.4M160.8 513.0l0.4 -2.2M196.1 586.0l-1.2 1.7M197.9 507.6l0.1 -1.3M152.6 638.0l-2.6 1.0M186.1 620.1l2.0 -1.3M158.1 530.6l-2.1 -2.4M132.1 639.3l-1.6 -0.9M147.4 544.2l-0.8 1.5M103.8 524.9l-1.1 -0.8M180.5 583.6l3.1 1.2M172.0 584.0l1.5 3.2M117.1 658.5l-3.2 0.3M182.9 669.5l3.2 1.7M203.2 586.2l1.3 0.2M149.0 515.0l-1.6 -0.8M151.5 610.9l-1.5 -2.7M183.5 569.2l2.0 2.4M108.3 536.1l-2.8 -2.0M181.4 648.8l2.8 -1.0M186.8 512.4l1.5 -0.1M190.0 566.9l-0.1 2.2M158.7 539.4l1.9 -0.9M175.1 649.5l2.2 -1.2M147.7 657.1l1.7 -0.3M122.9 522.7l-3.3 0.6M200.4 557.4l3.4 0.7M178.5 659.7l-1.0 -2.0M201.6 665.1l0.6 1.1M110.6 650.2l-2.2 -0.7M195.3 521.2l0.2 -1.5M101.0 514.1l0.0 -2.7M117.3 650.9l-0.6 1.5M165.9 548.9l-1.6 3.2M170.2 627.7l2.2 -1.9M183.7 560.4l2.2 2.4M132.0 510.2l-2.0 -2.8M201.0 554.4l1.7 -0.4M177.7 629.4l1.0 -1.6M165.4 505.0l2.1 -1.9M138.4 511.9l-0.2 -3.4M185.9 632.3l2.6 -0.1M146.4 622.1l-0.2 -1.5M154.1 556.7l-2.8 1.2M166.3 618.5l-0.4 -3.0M139.1 628.6l2.0 -2.5M179.1 597.4l-0.8 2.0M181.1 607.7l2.3 -0.6M168.2 534.2l1.8 -1.7M181.1 563.4l2.2 0.9M119.3 506.4l-0.9 -1.5M130.0 520.5l0.4 -3.3M49.2 602.6l-1.8 1.5M143.2 616.9l-2.0 -0.2M186.4 534.5l-2.4 -2.1M170.4 553.2l-0.6 2.0M204.6 574.4l1.8 1.1M163.4 638.1l3.1 -0.5M173.7 519.1l2.2 0.5M180.1 659.9l3.1 0.9M164.0 548.6l1.7 1.9M150.9 512.1l0.9 -1.4M155.8 609.7l-1.6 -1.7M116.0 660.4l0.2 1.9M165.3 648.0l2.8 1.1M152.1 600.6l2.2 -2.7M168.5 579.1l-1.9 2.9M141.4 666.9l-0.2 3.3M155.8 495.0l1.8 -1.4M139.1 655.3l0.1 1.3M189.1 563.9l1.4 0.4M139.3 505.2l-2.3 0.2M49.2 593.7l-1.7 0.8M120.3 632.2l-1.8 1.7M165.5 544.0l-0.3 3.4M104.4 538.6l-2.4 -1.3M53.8 607.6l-0.6 1.0M144.9 517.0l-0.8 -0.9M103.6 519.9l-2.4 -1.8M156.7 536.5l-0.9 -1.9M157.0 511.8l0.4 -3.2M42.6 591.1l-0.0 -1.2M187.7 647.8l2.0 0.3M180.7 542.0l1.6 -2.0M190.0 680.9l2.3 -1.3M147.1 635.1l-1.3 -2.0M194.2 581.5l1.6 -0.2M154.7 632.1l-1.0 -3.1M92.2 533.4l-2.4 -1.6M129.0 658.3l-2.2 0.4M198.0 525.1l1.3 -0.7M164.5 571.4l-1.3 0.3M164.5 509.7l1.4 -1.4M184.7 574.3l-0.4 1.8M176.5 501.4l2.3 -2.6M190.9 506.0l1.6 0.3M118.2 639.8l-3.0 0.8M153.7 546.8l-3.1 0.5M166.4 513.6l-0.9 -1.1M197.8 551.3l-0.3 -3.1M143.1 516.1l2.1 -1.8M159.9 526.6l-0.0 -1.8M123.7 656.1l-0.0 -2.0M159.8 616.2l1.7 -0.8M179.0 643.0l1.9 -1.4M184.2 657.9l2.1 0.7M159.6 637.6l-3.5 -0.5M172.2 596.6l0.9 1.6M142.9 535.3l-1.7 -1.0M128.6 634.5l-1.2 1.9M171.3 616.1l0.9 -3.0M159.2 514.6l-0.1 -1.4M183.3 499.0l2.0 -2.4M203.2 535.4l2.2 -0.2M164.4 673.3l0.7 1.3M101.1 532.9l-2.4 -2.1M170.1 622.0l2.5 0.6M191.9 541.9l1.8 -0.4M148.6 618.7l0.8 -3.0M155.2 563.9l0.2 2.6M187.4 543.0l1.2 -1.3M154.7 644.2l-1.6 0.9M191.2 507.6l1.7 -1.2M179.3 634.8l0.5 1.9M173.4 521.9l-0.1 -3.2M42.5 570.3l-1.7 -1.2M129.3 534.0l-2.2 0.2M204.7 584.0l1.1 1.8M124.1 531.9l-2.4 -0.1M157.1 640.9l-1.7 -0.7M53.2 599.6l0.0 2.5M111.6 647.8l-0.7 0.9M175.1 525.7l2.9 -0.5M141.2 650.5l-1.7 -1.1M196.7 552.5l2.1 0.5M196.6 675.1l1.6 -0.2M117.7 525.5l-1.0 0.9M193.4 584.5l-0.1 1.4M194.4 671.1l1.7 0.9M113.0 511.0l-2.0 -2.2M58.8 605.6l2.4 2.2M167.2 533.4l2.1 -1.2M151.2 524.3l-1.5 -2.3M188.2 550.7l1.3 0.6M189.2 583.2l-0.9 1.7M169.5 608.6l0.3 -2.1M169.6 584.6l0.8 3.2M136.2 637.1l-0.7 -1.0M115.1 532.7l-1.4 -0.7M129.8 649.0l-3.2 0.1M148.7 663.0l-0.3 2.4M139.5 548.4l-1.0 1.7M90.3 532.9l-2.6 1.7M191.5 592.8l3.1 -0.3M52.1 592.5l-2.7 0.5M113.9 507.1l-1.4 1.5M62.2 595.1l0.8 -1.0M92.4 525.6l-1.3 -0.5M100.5 510.4l-1.5 -2.1M192.2 592.0l0.3 1.4M173.2 505.1l1.6 -2.6M128.1 627.4l-2.1 0.5M119.8 650.4l-1.5 -0.0M197.0 660.7l2.8 -1.5M144.3 670.6l1.9 2.4M163.4 623.6l1.0 -0.7M135.4 502.9l-0.2 -1.6M183.2 525.4l1.9 1.3M172.5 575.9l-2.8 0.7M134.6 622.7l-1.8 -2.3M191.1 520.9l1.4 -1.9M200.6 521.3l-0.5 -2.5M44.8 570.6l2.2 0.8M163.7 658.3l0.9 0.9M42.8 590.6l-2.1 -2.2M111.4 650.1l-1.1 1.0M193.5 573.1l1.3 1.1M165.2 556.4l-0.6 1.6M104.9 530.9l-2.5 0.1M168.7 630.7l1.0 -1.4M172.2 529.3l-2.0 -1.2M136.7 529.8l-0.2 -1.4M144.8 509.6l0.2 -1.4M203.1 674.2l2.5 -1.0M116.7 642.2l-1.5 0.4M198.1 559.6l3.0 -1.0M141.7 515.9l-1.4 -3.0M191.5 574.7l2.0 2.8M194.1 590.4l3.4 0.7M157.2 560.2l-1.6 2.1M160.2 601.5l-1.4 -1.4M151.4 563.6l-0.3 2.2M145.0 553.7l-1.2 2.2M182.3 493.9l-0.5 -1.4M148.8 505.7l2.2 -2.5M137.2 523.0l-1.1 -1.1M49.5 578.4l-1.5 -0.4M165.2 651.2l0.7 1.9M149.0 513.2l-0.4 -1.3M173.7 645.4l0.6 1.6M187.7 550.1l2.1 1.0M172.1 649.7l2.7 2.0M183.2 567.6l3.1 0.1M182.8 646.0l1.5 -1.4M120.8 519.7l1.5 -2.8M180.1 576.8l2.3 -2.8M205.3 569.7l1.9 1.1M189.8 550.2l-1.3 0.9M175.7 582.4l-1.8 2.1M182.3 514.6l1.8 -1.6M122.1 656.1l-0.9 0.9M162.7 643.9l-0.1 2.3M198.5 677.2l1.5 0.5M183.9 512.0l1.0 -0.8M193.6 516.1l1.4 -0.1M189.8 672.0l2.0 2.9M200.1 569.4l2.4 1.9M131.6 652.1l-1.8 -1.2M112.5 643.6l-1.6 -0.5M185.6 511.2l2.6 -1.3M161.6 670.7l2.0 1.4M187.0 621.0l1.4 0.3M53.1 616.6l-1.1 1.4M201.6 664.8l-0.7 1.5M136.0 520.1l-3.0 -0.6M127.2 656.1l-1.7 2.5M91.4 537.2l-1.8 -1.8M170.7 511.2l-0.7 -1.6M160.5 663.2l2.1 -0.4M175.7 660.0l-1.4 2.5M178.8 613.0l1.2 -2.3M176.1 547.1l-1.4 3.2M116.8 502.9l-1.2 -1.1M165.7 554.6l1.5 1.5M172.2 517.2l1.4 0.1M140.4 521.8l0.4 -1.3M191.6 658.1l3.2 1.5M173.5 672.0l-1.6 2.9M153.0 529.5l-3.3 -0.4M128.4 540.4l-1.4 -2.3M195.9 567.2l2.6 0.3M128.7 537.5l-1.8 -0.7M117.4 524.7l-2.1 -0.3M163.5 528.6l-0.3 -3.5M198.1 593.9l1.4 2.8M196.4 567.9l1.2 1.7M171.1 532.2l2.1 -1.1M190.1 503.7l-0.1 -1.8M176.0 547.6l0.4 2.9M166.7 557.6l1.5 0.8M140.0 505.7l0.6 -3.1M127.6 522.4l0.1 -3.4" stroke="#e0e0e0" stroke-width="1.4" stroke-linecap="round" fill="none"/>
<path d="M193.1 512.1l1.0 -1.9M150.1 654.1l-0.7 1.7M204.6 535.0l-0.3 -4.0M52.0 610.6l-2.5 -0.9M196.0 580.3l0.8 4.0M200.5 583.7l1.1 -1.1M140.3 631.0l-1.4 1.8M138.1 499.0l-1.2 -2.0M119.1 517.0l-2.9 -2.8M175.2 616.2l0.9 -4.0M181.3 582.9l0.6 2.5M164.0 503.4l-2.7 -2.1M49.4 588.8l-3.8 -1.9M168.9 627.6l0.4 -2.3M160.0 502.0l-2.7 0.2M144.2 547.3l-1.2 -1.3M152.5 560.0l-0.3 1.6M171.4 525.8l-0.6 -3.8M141.1 525.8l-2.0 -1.4M176.7 490.5l-1.5 0.5M149.5 539.0l-1.5 -3.2M54.3 588.7l1.4 -1.3M181.8 653.5l3.1 2.7M97.0 520.1l-0.6 -3.0M200.2 511.1l-0.5 4.4M139.7 662.0l-3.7 -0.2M141.5 541.5l-3.2 -0.9M163.5 514.1l1.4 -3.2M180.9 508.2l-1.5 -3.3M128.0 513.4l-2.0 -1.8M107.0 522.3l-1.5 0.2M163.4 675.7l0.4 3.8M164.0 526.1l2.7 -1.8M193.3 676.1l2.1 -0.2M166.7 659.8l1.8 -0.9M175.3 590.4l1.0 1.7M188.9 567.5l3.1 2.2M99.5 524.7l-3.5 2.2M199.9 535.4l0.9 2.0M128.9 672.2l-1.2 2.8M164.9 646.5l2.1 -0.0M58.4 609.0l-0.9 2.5M187.7 572.2l-0.6 2.5M172.0 563.4l2.2 1.4M167.1 656.3l1.9 -3.3M208.0 536.7l2.8 1.1M168.4 500.9l2.5 -0.0M48.8 599.8l-1.4 -1.4M143.8 659.6l-3.1 -3.1M171.9 505.7l1.2 -2.3M178.6 655.1l0.9 2.1M192.1 595.8l4.3 -0.5M136.1 505.8l-1.7 0.9M175.4 500.8l-1.8 -2.3M162.4 528.0l2.6 -1.1M172.1 493.1l1.7 -2.2M120.7 534.0l-4.0 1.5M161.0 591.3l1.4 2.8M154.7 549.5l-0.7 1.6M164.9 544.4l3.1 0.7M156.7 550.0l-0.7 1.5M211.4 575.2l-1.2 1.4M191.9 525.3l-1.8 -1.0M138.8 652.9l-1.1 4.1M135.7 540.4l-2.8 -1.8M49.2 614.7l1.5 1.4M207.6 535.5l3.8 -0.7M142.1 659.7l-2.3 3.4M172.0 656.8l1.5 2.3M184.9 529.9l1.5 -0.6M174.6 633.4l3.4 -2.4M179.1 567.0l-1.1 3.4M185.9 511.1l2.3 -0.5M139.4 543.9l1.8 -1.1M188.7 655.8l0.8 2.6M155.7 525.6l-2.4 -2.6M172.4 494.5l3.3 -1.4M132.7 617.0l-0.2 -1.5M166.0 534.1l1.2 1.3M156.6 540.2l-0.7 -1.6M174.6 595.0l1.5 2.2M182.0 665.5l2.2 3.1M132.2 668.0l0.9 2.0M183.5 643.3l1.4 -1.3M179.4 498.8l0.5 -2.4M165.4 514.2l1.8 -2.2M175.7 642.3l2.3 -0.3M146.3 601.7l1.7 0.1M168.0 674.6l-1.5 4.2M187.1 669.2l2.7 -1.7M151.5 603.8l1.0 -3.9M50.6 576.8l3.2 1.5M174.7 517.8l2.3 -2.6M187.2 551.4l2.0 2.7M174.0 630.4l2.5 -0.5M145.9 659.2l-2.8 1.0M144.4 601.2l0.8 -1.9M46.7 611.2l1.7 2.9M173.6 556.9l1.5 0.5M137.4 621.0l2.2 -3.4M106.4 507.5l-1.5 -2.5M56.5 598.2l-0.7 1.4M62.3 600.4l1.5 3.0M200.1 564.0l2.9 -0.3M137.9 509.7l-1.5 -2.2M139.9 558.9l-0.1 3.6M154.3 678.7l0.9 3.1M205.1 562.5l-0.3 1.6M167.0 623.7l-0.3 -2.4M162.0 532.7l0.7 -2.1M100.9 522.2l-3.6 1.8M135.7 618.6l-0.6 -2.4M180.3 665.2l1.9 0.7M174.6 512.1l3.9 -0.6M201.1 665.5l2.1 -0.1M177.8 566.0l0.7 1.5M156.8 678.4l-0.2 1.9M121.8 533.1l-2.1 0.8M119.6 652.9l-3.9 2.2M192.7 582.7l2.1 1.9M131.6 535.4l-2.9 3.3M178.6 551.9l3.8 -1.0M168.8 490.6l2.2 -2.1M143.0 667.8l-3.3 1.3M113.9 511.1l-1.2 -1.4M147.8 497.9l0.8 -2.4M183.0 564.7l0.1 3.3M124.6 665.7l-2.0 2.4M176.3 570.3l0.3 3.6M116.4 512.0l-2.4 0.2M174.7 593.9l0.4 2.4M177.5 489.9l2.4 -1.3M203.5 535.6l4.1 0.2M129.3 666.8l-1.5 2.5M185.8 575.1l1.2 -1.5M166.4 640.2l2.2 -0.4M177.6 593.0l3.4 2.3M51.1 610.4l-3.4 2.6M205.6 544.3l1.2 1.4M135.9 620.3l0.2 -3.1M104.4 520.1l-1.9 0.5M181.1 525.5l-0.2 -2.6M143.2 606.1l3.5 -0.6M152.4 636.0l-3.7 2.1M199.1 507.6l-1.4 -2.0M136.9 502.6l3.7 -2.4M169.3 554.1l2.2 -0.8M144.5 522.9l-0.2 -3.5M186.5 662.2l0.2 3.5M161.5 582.3l-2.6 0.2M175.7 612.2l-1.1 -3.9M159.0 669.5l3.4 0.1M105.6 533.9l-3.4 -1.9M156.8 533.8l0.2 -1.6M144.8 644.0l-2.4 0.7M195.4 518.7l3.6 -2.3M173.3 663.6l1.0 1.7M134.6 529.1l-3.0 1.4M175.5 667.5l-0.7 3.2M100.8 534.8l-1.9 0.0M105.6 507.1l-3.3 -2.0M172.9 541.9l1.1 1.6M189.6 517.4l-3.2 -2.5M141.4 511.7l-1.6 0.2M143.6 562.3l-0.1 4.0M169.4 564.2l-0.0 1.9M194.5 570.9l0.6 1.8M180.6 667.6l2.7 -0.1M181.8 566.3l4.1 0.8M191.8 570.1l0.2 1.8M201.4 570.9l3.0 0.8M177.7 624.3l2.3 -2.7M140.7 672.6l-0.7 1.8M179.5 675.9l2.8 0.1M142.3 550.3l-1.6 3.3M58.5 603.9l3.5 2.2M133.0 518.3l-3.5 0.6M177.7 509.7l-1.4 -3.0M133.3 520.0l-3.9 -0.7M182.8 673.8l-4.3 1.2M128.7 623.8l-2.8 0.8M161.3 559.1l0.4 -1.5M155.4 560.7l0.6 1.5M178.4 675.8l1.4 3.4M155.4 566.2l-1.8 3.9M177.9 588.4l3.1 0.9M127.5 537.1l0.9 -3.1M173.4 662.2l-1.2 3.5M163.3 557.9l2.0 -0.2M177.6 570.4l1.2 1.2M45.4 616.6l1.0 1.2M170.6 572.3l2.1 -0.1M173.0 570.3l3.2 1.7M114.0 514.2l0.3 -3.6M105.9 506.2l-1.6 0.2M138.1 620.6l-1.6 -2.9M171.1 579.8l0.6 3.7M138.8 543.6l-1.7 -1.0M134.4 642.5l-1.6 -0.6M201.9 574.2l1.0 4.3M177.9 505.0l-0.1 -3.0M169.9 508.6l-3.4 0.9M124.2 527.0l-3.1 -3.2M50.9 583.5l0.7 -2.6M201.9 536.5l1.4 2.9M181.5 591.9l0.3 4.3M183.1 657.8l3.4 1.1M199.5 510.5l2.3 -3.6M59.1 601.1l1.9 0.6M154.3 585.5l1.7 -0.8M100.5 520.2l-2.6 -1.6M181.8 566.3l-0.5 3.9M133.3 547.9l-1.6 -1.5M95.9 536.8l-3.4 -2.6M146.2 531.8l1.8 -1.2M138.1 675.9l-0.6 3.0M173.6 602.9l4.1 -1.2M190.8 670.4l-0.8 2.6M139.6 555.4l-3.7 0.3M191.9 669.3l-0.9 2.4M158.7 552.9l1.9 1.7M134.0 523.8l0.1 -3.7M179.6 674.5l1.6 2.0M131.8 666.9l-3.5 -0.6M154.4 658.6l0.3 4.4M125.9 512.1l-2.9 -2.1M173.7 678.4l3.6 -2.6M126.5 516.7l0.4 -3.9M165.2 618.6l-0.1 -2.4M171.3 557.1l-1.0 1.7M182.7 549.7l0.8 1.3M197.1 560.3l3.4 -2.3M157.5 641.7l-2.2 0.4M173.8 680.0l-1.4 1.6M161.7 664.9l2.4 -1.0M125.8 530.1l0.9 -2.9M179.5 603.1l2.6 -0.6M133.8 552.0l-4.0 -0.1M167.1 512.5l2.0 -1.9M153.7 545.9l-3.6 2.2M150.7 663.0l0.0 2.1M194.9 523.8l2.0 0.1M194.3 556.9l3.4 2.6M190.6 577.1l2.4 2.0M91.0 524.4l-1.8 0.7M196.1 506.8l-0.2 -1.7M170.3 551.6l-0.5 3.5M181.8 657.7l1.0 3.1M181.7 607.2l2.9 0.9M145.9 553.2l-3.5 2.5M177.7 576.5l2.5 -1.4M130.4 634.4l-1.6 -0.5M47.5 604.5l-2.4 2.0M166.2 565.4l0.0 1.6M179.5 618.0l-0.2 -2.3M177.3 534.0l-0.1 -3.0M52.0 575.2l0.3 -3.2M198.1 578.9l3.9 0.7M186.1 527.7l2.5 -3.4M142.4 515.8l-3.4 -2.8M198.4 590.4l-2.7 3.2M134.6 533.6l-1.7 -1.5M98.5 535.7l-1.8 1.2M132.0 523.7l-1.8 -2.8M175.4 594.1l0.9 1.6M158.9 507.4l-2.7 -1.2M172.8 516.5l3.0 -2.3M162.1 508.1l2.2 -2.5M161.5 494.6l-0.0 -2.0M128.7 652.3l-3.1 -1.7M137.0 510.4l0.4 -3.3M123.9 525.1l0.6 3.0M171.0 496.6l1.0 -2.4M139.1 504.2l4.2 -1.6M159.4 561.9l0.6 4.0M107.0 506.6l3.3 -3.0M163.6 531.0l-2.4 -2.9M184.6 618.5l2.2 -2.1M162.1 589.4l2.1 2.4M163.0 574.7l1.7 4.0M169.4 660.6l-0.3 2.4M128.4 671.6l-2.9 0.9M201.7 537.6l1.6 -3.0M164.4 532.3l1.1 -3.0M196.8 559.9l3.7 0.8M124.8 665.5l-0.4 2.0M150.4 538.4l-0.8 2.0M139.1 633.9l-1.4 -2.3M189.6 567.5l2.7 2.0M178.2 563.4l-1.1 3.7M198.5 592.8l0.1 1.8M175.7 512.6l2.6 -3.1M46.8 604.6l1.3 0.8M152.6 522.6l-0.7 -2.9M149.1 639.5l-4.0 -0.6M146.7 557.7l-1.9 0.6M205.5 585.3l3.6 1.9M152.1 636.5l-2.0 -0.0M110.7 529.4l-3.1 -3.0M170.2 559.5l-3.4 -0.2M157.9 614.1l-1.1 -2.0M120.6 528.7l-3.6 -2.3M154.2 658.9l0.3 1.6M134.7 515.4l-1.5 -1.4M171.1 500.3l-2.7 -2.5M172.1 524.8l1.1 -3.7M179.2 581.0l3.4 2.3M189.8 529.1l2.3 -2.7M136.3 525.2l-1.7 -3.1M177.1 592.9l2.4 1.0M89.0 527.7l-1.2 -1.2M196.2 572.0l3.0 0.1M175.3 572.9l3.9 -0.6M127.6 511.1l-3.8 -0.6M152.7 524.3l-0.4 -1.7M155.0 679.1l-2.2 1.5M143.7 656.1l-1.2 1.2M198.7 527.9l3.1 0.6M157.5 566.1l-0.4 1.9M153.3 615.2l1.4 -1.1M188.1 561.4l0.3 1.8M126.1 652.0l-3.0 0.2M156.0 649.9l-0.9 1.5M189.6 520.0l0.5 -3.7M57.1 593.4l1.5 -1.8M143.3 559.3l0.6 2.2M141.5 631.8l1.3 -3.5M108.8 511.9l-1.6 0.2M57.2 601.0l1.7 1.5M116.7 511.0l-3.0 -0.6M193.8 596.1l1.8 1.1M131.4 550.4l-1.7 1.2M154.4 559.0l-1.5 0.3M119.9 658.7l-3.6 -0.5M111.6 534.5l-2.0 -1.6M129.4 513.8l-1.5 -0.9M97.6 516.3l-3.6 -2.0M126.7 662.9l0.8 3.9M123.1 651.0l0.1 3.1M127.1 530.9l-3.8 0.2M158.3 533.1l-0.5 -2.0M163.5 664.5l0.3 1.9M188.7 585.8l0.7 3.1M186.8 506.1l-0.8 -2.3M166.8 569.1l1.1 3.7M163.5 522.4l1.6 -3.6M192.8 594.6l1.7 0.8M131.7 505.7l-0.8 -3.6M139.0 512.2l-3.7 -0.3M194.3 530.6l1.8 0.4M146.9 522.7l-1.5 -2.1M203.3 587.0l1.3 3.0M195.1 545.6l1.5 -2.7M52.9 608.4l-0.4 3.1M164.4 572.7l1.6 3.5M147.9 648.1l-3.2 -1.1M94.2 528.9l-0.8 -1.8M146.5 532.3l-3.6 -0.7M175.8 542.6l4.1 0.0M159.0 523.2l-1.0 -1.6M104.2 537.7l-2.9 0.4M152.4 618.8l2.3 -3.0M160.3 640.3l-3.9 0.3M170.5 544.2l-0.1 4.3M182.2 559.0l2.4 2.9M46.7 573.6l1.5 -2.6M196.6 587.1l2.3 1.9M171.6 639.1l2.9 -0.0M124.7 651.8l-3.5 -1.2M197.9 558.6l0.6 3.6M209.3 563.1l1.7 1.4M210.0 538.9l3.2 3.1M190.9 568.8l1.9 0.6M121.5 643.6l-1.4 1.4M128.1 552.1l-1.1 1.1M129.5 509.2l-2.7 -0.7" stroke="#808080" stroke-width="4.8" stroke-linecap="round" fill="none"/>
<path d="M193.1 512.1l1.0 -1.9M150.1 654.1l-0.7 1.7M204.6 535.0l-0.3 -4.0M52.0 610.6l-2.5 -0.9M196.0 580.3l0.8 4.0M200.5 583.7l1.1 -1.1M140.3 631.0l-1.4 1.8M138.1 499.0l-1.2 -2.0M119.1 517.0l-2.9 -2.8M175.2 616.2l0.9 -4.0M181.3 582.9l0.6 2.5M164.0 503.4l-2.7 -2.1M49.4 588.8l-3.8 -1.9M168.9 627.6l0.4 -2.3M160.0 502.0l-2.7 0.2M144.2 547.3l-1.2 -1.3M152.5 560.0l-0.3 1.6M171.4 525.8l-0.6 -3.8M141.1 525.8l-2.0 -1.4M176.7 490.5l-1.5 0.5M149.5 539.0l-1.5 -3.2M54.3 588.7l1.4 -1.3M181.8 653.5l3.1 2.7M97.0 520.1l-0.6 -3.0M200.2 511.1l-0.5 4.4M139.7 662.0l-3.7 -0.2M141.5 541.5l-3.2 -0.9M163.5 514.1l1.4 -3.2M180.9 508.2l-1.5 -3.3M128.0 513.4l-2.0 -1.8M107.0 522.3l-1.5 0.2M163.4 675.7l0.4 3.8M164.0 526.1l2.7 -1.8M193.3 676.1l2.1 -0.2M166.7 659.8l1.8 -0.9M175.3 590.4l1.0 1.7M188.9 567.5l3.1 2.2M99.5 524.7l-3.5 2.2M199.9 535.4l0.9 2.0M128.9 672.2l-1.2 2.8M164.9 646.5l2.1 -0.0M58.4 609.0l-0.9 2.5M187.7 572.2l-0.6 2.5M172.0 563.4l2.2 1.4M167.1 656.3l1.9 -3.3M208.0 536.7l2.8 1.1M168.4 500.9l2.5 -0.0M48.8 599.8l-1.4 -1.4M143.8 659.6l-3.1 -3.1M171.9 505.7l1.2 -2.3M178.6 655.1l0.9 2.1M192.1 595.8l4.3 -0.5M136.1 505.8l-1.7 0.9M175.4 500.8l-1.8 -2.3M162.4 528.0l2.6 -1.1M172.1 493.1l1.7 -2.2M120.7 534.0l-4.0 1.5M161.0 591.3l1.4 2.8M154.7 549.5l-0.7 1.6M164.9 544.4l3.1 0.7M156.7 550.0l-0.7 1.5M211.4 575.2l-1.2 1.4M191.9 525.3l-1.8 -1.0M138.8 652.9l-1.1 4.1M135.7 540.4l-2.8 -1.8M49.2 614.7l1.5 1.4M207.6 535.5l3.8 -0.7M142.1 659.7l-2.3 3.4M172.0 656.8l1.5 2.3M184.9 529.9l1.5 -0.6M174.6 633.4l3.4 -2.4M179.1 567.0l-1.1 3.4M185.9 511.1l2.3 -0.5M139.4 543.9l1.8 -1.1M188.7 655.8l0.8 2.6M155.7 525.6l-2.4 -2.6M172.4 494.5l3.3 -1.4M132.7 617.0l-0.2 -1.5M166.0 534.1l1.2 1.3M156.6 540.2l-0.7 -1.6M174.6 595.0l1.5 2.2M182.0 665.5l2.2 3.1M132.2 668.0l0.9 2.0M183.5 643.3l1.4 -1.3M179.4 498.8l0.5 -2.4M165.4 514.2l1.8 -2.2M175.7 642.3l2.3 -0.3M146.3 601.7l1.7 0.1M168.0 674.6l-1.5 4.2M187.1 669.2l2.7 -1.7M151.5 603.8l1.0 -3.9M50.6 576.8l3.2 1.5M174.7 517.8l2.3 -2.6M187.2 551.4l2.0 2.7M174.0 630.4l2.5 -0.5M145.9 659.2l-2.8 1.0M144.4 601.2l0.8 -1.9M46.7 611.2l1.7 2.9M173.6 556.9l1.5 0.5M137.4 621.0l2.2 -3.4M106.4 507.5l-1.5 -2.5M56.5 598.2l-0.7 1.4M62.3 600.4l1.5 3.0M200.1 564.0l2.9 -0.3M137.9 509.7l-1.5 -2.2M139.9 558.9l-0.1 3.6M154.3 678.7l0.9 3.1M205.1 562.5l-0.3 1.6M167.0 623.7l-0.3 -2.4M162.0 532.7l0.7 -2.1M100.9 522.2l-3.6 1.8M135.7 618.6l-0.6 -2.4M180.3 665.2l1.9 0.7M174.6 512.1l3.9 -0.6M201.1 665.5l2.1 -0.1M177.8 566.0l0.7 1.5M156.8 678.4l-0.2 1.9M121.8 533.1l-2.1 0.8M119.6 652.9l-3.9 2.2M192.7 582.7l2.1 1.9M131.6 535.4l-2.9 3.3M178.6 551.9l3.8 -1.0M168.8 490.6l2.2 -2.1M143.0 667.8l-3.3 1.3M113.9 511.1l-1.2 -1.4M147.8 497.9l0.8 -2.4M183.0 564.7l0.1 3.3M124.6 665.7l-2.0 2.4M176.3 570.3l0.3 3.6M116.4 512.0l-2.4 0.2M174.7 593.9l0.4 2.4M177.5 489.9l2.4 -1.3M203.5 535.6l4.1 0.2M129.3 666.8l-1.5 2.5M185.8 575.1l1.2 -1.5M166.4 640.2l2.2 -0.4M177.6 593.0l3.4 2.3M51.1 610.4l-3.4 2.6M205.6 544.3l1.2 1.4M135.9 620.3l0.2 -3.1M104.4 520.1l-1.9 0.5M181.1 525.5l-0.2 -2.6M143.2 606.1l3.5 -0.6M152.4 636.0l-3.7 2.1M199.1 507.6l-1.4 -2.0M136.9 502.6l3.7 -2.4M169.3 554.1l2.2 -0.8M144.5 522.9l-0.2 -3.5M186.5 662.2l0.2 3.5M161.5 582.3l-2.6 0.2M175.7 612.2l-1.1 -3.9M159.0 669.5l3.4 0.1M105.6 533.9l-3.4 -1.9M156.8 533.8l0.2 -1.6M144.8 644.0l-2.4 0.7M195.4 518.7l3.6 -2.3M173.3 663.6l1.0 1.7M134.6 529.1l-3.0 1.4M175.5 667.5l-0.7 3.2M100.8 534.8l-1.9 0.0M105.6 507.1l-3.3 -2.0M172.9 541.9l1.1 1.6M189.6 517.4l-3.2 -2.5M141.4 511.7l-1.6 0.2M143.6 562.3l-0.1 4.0M169.4 564.2l-0.0 1.9M194.5 570.9l0.6 1.8M180.6 667.6l2.7 -0.1M181.8 566.3l4.1 0.8M191.8 570.1l0.2 1.8M201.4 570.9l3.0 0.8M177.7 624.3l2.3 -2.7M140.7 672.6l-0.7 1.8M179.5 675.9l2.8 0.1M142.3 550.3l-1.6 3.3M58.5 603.9l3.5 2.2M133.0 518.3l-3.5 0.6M177.7 509.7l-1.4 -3.0M133.3 520.0l-3.9 -0.7M182.8 673.8l-4.3 1.2M128.7 623.8l-2.8 0.8M161.3 559.1l0.4 -1.5M155.4 560.7l0.6 1.5M178.4 675.8l1.4 3.4M155.4 566.2l-1.8 3.9M177.9 588.4l3.1 0.9M127.5 537.1l0.9 -3.1M173.4 662.2l-1.2 3.5M163.3 557.9l2.0 -0.2M177.6 570.4l1.2 1.2M45.4 616.6l1.0 1.2M170.6 572.3l2.1 -0.1M173.0 570.3l3.2 1.7M114.0 514.2l0.3 -3.6M105.9 506.2l-1.6 0.2M138.1 620.6l-1.6 -2.9M171.1 579.8l0.6 3.7M138.8 543.6l-1.7 -1.0M134.4 642.5l-1.6 -0.6M201.9 574.2l1.0 4.3M177.9 505.0l-0.1 -3.0M169.9 508.6l-3.4 0.9M124.2 527.0l-3.1 -3.2M50.9 583.5l0.7 -2.6M201.9 536.5l1.4 2.9M181.5 591.9l0.3 4.3M183.1 657.8l3.4 1.1M199.5 510.5l2.3 -3.6M59.1 601.1l1.9 0.6M154.3 585.5l1.7 -0.8M100.5 520.2l-2.6 -1.6M181.8 566.3l-0.5 3.9M133.3 547.9l-1.6 -1.5M95.9 536.8l-3.4 -2.6M146.2 531.8l1.8 -1.2M138.1 675.9l-0.6 3.0M173.6 602.9l4.1 -1.2M190.8 670.4l-0.8 2.6M139.6 555.4l-3.7 0.3M191.9 669.3l-0.9 2.4M158.7 552.9l1.9 1.7M134.0 523.8l0.1 -3.7M179.6 674.5l1.6 2.0M131.8 666.9l-3.5 -0.6M154.4 658.6l0.3 4.4M125.9 512.1l-2.9 -2.1M173.7 678.4l3.6 -2.6M126.5 516.7l0.4 -3.9M165.2 618.6l-0.1 -2.4M171.3 557.1l-1.0 1.7M182.7 549.7l0.8 1.3M197.1 560.3l3.4 -2.3M157.5 641.7l-2.2 0.4M173.8 680.0l-1.4 1.6M161.7 664.9l2.4 -1.0M125.8 530.1l0.9 -2.9M179.5 603.1l2.6 -0.6M133.8 552.0l-4.0 -0.1M167.1 512.5l2.0 -1.9M153.7 545.9l-3.6 2.2M150.7 663.0l0.0 2.1M194.9 523.8l2.0 0.1M194.3 556.9l3.4 2.6M190.6 577.1l2.4 2.0M91.0 524.4l-1.8 0.7M196.1 506.8l-0.2 -1.7M170.3 551.6l-0.5 3.5M181.8 657.7l1.0 3.1M181.7 607.2l2.9 0.9M145.9 553.2l-3.5 2.5M177.7 576.5l2.5 -1.4M130.4 634.4l-1.6 -0.5M47.5 604.5l-2.4 2.0M166.2 565.4l0.0 1.6M179.5 618.0l-0.2 -2.3M177.3 534.0l-0.1 -3.0M52.0 575.2l0.3 -3.2M198.1 578.9l3.9 0.7M186.1 527.7l2.5 -3.4M142.4 515.8l-3.4 -2.8M198.4 590.4l-2.7 3.2M134.6 533.6l-1.7 -1.5M98.5 535.7l-1.8 1.2M132.0 523.7l-1.8 -2.8M175.4 594.1l0.9 1.6M158.9 507.4l-2.7 -1.2M172.8 516.5l3.0 -2.3M162.1 508.1l2.2 -2.5M161.5 494.6l-0.0 -2.0M128.7 652.3l-3.1 -1.7M137.0 510.4l0.4 -3.3M123.9 525.1l0.6 3.0M171.0 496.6l1.0 -2.4M139.1 504.2l4.2 -1.6M159.4 561.9l0.6 4.0M107.0 506.6l3.3 -3.0M163.6 531.0l-2.4 -2.9M184.6 618.5l2.2 -2.1M162.1 589.4l2.1 2.4M163.0 574.7l1.7 4.0M169.4 660.6l-0.3 2.4M128.4 671.6l-2.9 0.9M201.7 537.6l1.6 -3.0M164.4 532.3l1.1 -3.0M196.8 559.9l3.7 0.8M124.8 665.5l-0.4 2.0M150.4 538.4l-0.8 2.0M139.1 633.9l-1.4 -2.3M189.6 567.5l2.7 2.0M178.2 563.4l-1.1 3.7M198.5 592.8l0.1 1.8M175.7 512.6l2.6 -3.1M46.8 604.6l1.3 0.8M152.6 522.6l-0.7 -2.9M149.1 639.5l-4.0 -0.6M146.7 557.7l-1.9 0.6M205.5 585.3l3.6 1.9M152.1 636.5l-2.0 -0.0M110.7 529.4l-3.1 -3.0M170.2 559.5l-3.4 -0.2M157.9 614.1l-1.1 -2.0M120.6 528.7l-3.6 -2.3M154.2 658.9l0.3 1.6M134.7 515.4l-1.5 -1.4M171.1 500.3l-2.7 -2.5M172.1 524.8l1.1 -3.7M179.2 581.0l3.4 2.3M189.8 529.1l2.3 -2.7M136.3 525.2l-1.7 -3.1M177.1 592.9l2.4 1.0M89.0 527.7l-1.2 -1.2M196.2 572.0l3.0 0.1M175.3 572.9l3.9 -0.6M127.6 511.1l-3.8 -0.6M152.7 524.3l-0.4 -1.7M155.0 679.1l-2.2 1.5M143.7 656.1l-1.2 1.2M198.7 527.9l3.1 0.6M157.5 566.1l-0.4 1.9M153.3 615.2l1.4 -1.1M188.1 561.4l0.3 1.8M126.1 652.0l-3.0 0.2M156.0 649.9l-0.9 1.5M189.6 520.0l0.5 -3.7M57.1 593.4l1.5 -1.8M143.3 559.3l0.6 2.2M141.5 631.8l1.3 -3.5M108.8 511.9l-1.6 0.2M57.2 601.0l1.7 1.5M116.7 511.0l-3.0 -0.6M193.8 596.1l1.8 1.1M131.4 550.4l-1.7 1.2M154.4 559.0l-1.5 0.3M119.9 658.7l-3.6 -0.5M111.6 534.5l-2.0 -1.6M129.4 513.8l-1.5 -0.9M97.6 516.3l-3.6 -2.0M126.7 662.9l0.8 3.9M123.1 651.0l0.1 3.1M127.1 530.9l-3.8 0.2M158.3 533.1l-0.5 -2.0M163.5 664.5l0.3 1.9M188.7 585.8l0.7 3.1M186.8 506.1l-0.8 -2.3M166.8 569.1l1.1 3.7M163.5 522.4l1.6 -3.6M192.8 594.6l1.7 0.8M131.7 505.7l-0.8 -3.6M139.0 512.2l-3.7 -0.3M194.3 530.6l1.8 0.4M146.9 522.7l-1.5 -2.1M203.3 587.0l1.3 3.0M195.1 545.6l1.5 -2.7M52.9 608.4l-0.4 3.1M164.4 572.7l1.6 3.5M147.9 648.1l-3.2 -1.1M94.2 528.9l-0.8 -1.8M146.5 532.3l-3.6 -0.7M175.8 542.6l4.1 0.0M159.0 523.2l-1.0 -1.6M104.2 537.7l-2.9 0.4M152.4 618.8l2.3 -3.0M160.3 640.3l-3.9 0.3M170.5 544.2l-0.1 4.3M182.2 559.0l2.4 2.9M46.7 573.6l1.5 -2.6M196.6 587.1l2.3 1.9M171.6 639.1l2.9 -0.0M124.7 651.8l-3.5 -1.2M197.9 558.6l0.6 3.6M209.3 563.1l1.7 1.4M210.0 538.9l3.2 3.1M190.9 568.8l1.9 0.6M121.5 643.6l-1.4 1.4M128.1 552.1l-1.1 1.1M129.5 509.2l-2.7 -0.7" stroke="#cbcbcb" stroke-width="3.4" stroke-linecap="round" fill="none"/>
<path d="M192.6 511.6l0.8 -1.5M149.6 653.6l-0.5 1.4M204.1 534.5l-0.2 -3.2M51.5 610.1l-2.0 -0.7M195.5 579.8l0.6 3.2M200.0 583.2l0.8 -0.9M139.8 630.5l-1.1 1.4M137.6 498.5l-1.0 -1.6M118.6 516.5l-2.3 -2.2M174.7 615.7l0.7 -3.2M180.8 582.4l0.5 2.0M163.5 502.9l-2.2 -1.7M48.9 588.3l-3.1 -1.5M168.4 627.1l0.3 -1.8M159.5 501.5l-2.2 0.1M143.7 546.8l-1.0 -1.0M152.0 559.5l-0.2 1.3M170.9 525.3l-0.5 -3.1M140.6 525.3l-1.6 -1.1M176.2 490.0l-1.2 0.4M149.0 538.5l-1.2 -2.6M53.8 588.2l1.2 -1.1M181.3 653.0l2.5 2.1M96.5 519.6l-0.5 -2.4M199.7 510.6l-0.4 3.5M139.2 661.5l-3.0 -0.2M141.0 541.0l-2.6 -0.7M163.0 513.6l1.1 -2.5M180.4 507.7l-1.2 -2.7M127.5 512.9l-1.6 -1.4M106.5 521.8l-1.2 0.2M162.9 675.2l0.3 3.0M163.5 525.6l2.2 -1.4M192.8 675.6l1.7 -0.2M166.2 659.3l1.5 -0.7M174.8 589.9l0.8 1.4M188.4 567.0l2.5 1.8M99.0 524.2l-2.8 1.7M199.4 534.9l0.7 1.6M128.4 671.7l-1.0 2.2M164.4 646.0l1.7 -0.0M57.9 608.5l-0.7 2.0M187.2 571.7l-0.5 2.0M171.5 562.9l1.7 1.1M166.6 655.8l1.5 -2.6M207.5 536.2l2.2 0.9M167.9 500.4l2.0 -0.0M48.3 599.3l-1.1 -1.1M143.3 659.1l-2.5 -2.5M171.4 505.2l1.0 -1.9M178.1 654.6l0.8 1.6M191.6 595.3l3.4 -0.4M135.6 505.3l-1.3 0.7M174.9 500.3l-1.5 -1.8M161.9 527.5l2.1 -0.9M171.6 492.6l1.4 -1.8M120.2 533.5l-3.2 1.2M160.5 590.8l1.1 2.3M154.2 549.0l-0.6 1.3M164.4 543.9l2.5 0.6M156.2 549.5l-0.6 1.2M210.9 574.7l-1.0 1.1M191.4 524.8l-1.5 -0.8M138.3 652.4l-0.9 3.3M135.2 539.9l-2.2 -1.4M48.7 614.2l1.2 1.2M207.1 535.0l3.0 -0.5M141.6 659.2l-1.9 2.7M171.5 656.3l1.2 1.8M184.4 529.4l1.2 -0.4M174.1 632.9l2.7 -1.9M178.6 566.5l-0.9 2.7M185.4 510.6l1.8 -0.4M138.9 543.4l1.5 -0.9M188.2 655.3l0.7 2.1M155.2 525.1l-2.0 -2.1M171.9 494.0l2.7 -1.1M132.2 616.5l-0.1 -1.2M165.5 533.6l0.9 1.0M156.1 539.7l-0.6 -1.2M174.1 594.5l1.2 1.8M181.5 665.0l1.7 2.5M131.7 667.5l0.7 1.6M183.0 642.8l1.1 -1.0M178.9 498.3l0.4 -1.9M164.9 513.7l1.5 -1.7M175.2 641.8l1.8 -0.2M145.8 601.2l1.4 0.1M167.5 674.1l-1.2 3.4M186.6 668.7l2.2 -1.3M151.0 603.3l0.8 -3.2M50.1 576.3l2.6 1.2M174.2 517.3l1.9 -2.1M186.7 550.9l1.6 2.2M173.5 629.9l2.0 -0.4M145.4 658.7l-2.2 0.8M143.9 600.7l0.6 -1.5M46.2 610.7l1.4 2.3M173.1 556.4l1.2 0.4M136.9 620.5l1.7 -2.8M105.9 507.0l-1.2 -2.0M56.0 597.7l-0.5 1.1M61.8 599.9l1.2 2.4M199.6 563.5l2.3 -0.2M137.4 509.2l-1.2 -1.8M139.4 558.4l-0.1 2.9M153.8 678.2l0.7 2.5M204.6 562.0l-0.3 1.3M166.5 623.2l-0.2 -1.9M161.5 532.2l0.5 -1.7M100.4 521.7l-2.9 1.4M135.2 618.1l-0.5 -1.9M179.8 664.7l1.6 0.6M174.1 511.6l3.1 -0.4M200.6 665.0l1.7 -0.1M177.3 565.5l0.6 1.2M156.3 677.9l-0.2 1.5M121.3 532.6l-1.7 0.6M119.1 652.4l-3.1 1.8M192.2 582.2l1.7 1.5M131.1 534.9l-2.3 2.6M178.1 551.4l3.0 -0.8M168.3 490.1l1.8 -1.7M142.5 667.3l-2.7 1.0M113.4 510.6l-1.0 -1.1M147.3 497.4l0.6 -1.9M182.5 564.2l0.1 2.7M124.1 665.2l-1.6 1.9M175.8 569.8l0.2 2.9M115.9 511.5l-2.0 0.1M174.2 593.4l0.3 1.9M177.0 489.4l1.9 -1.1M203.0 535.1l3.3 0.2M128.8 666.3l-1.2 2.0M185.3 574.6l0.9 -1.2M165.9 639.7l1.8 -0.3M177.1 592.5l2.7 1.8M50.6 609.9l-2.7 2.1M205.1 543.8l1.0 1.1M135.4 619.8l0.2 -2.5M103.9 519.6l-1.5 0.4M180.6 525.0l-0.1 -2.1M142.7 605.6l2.8 -0.5M151.9 635.5l-3.0 1.7M198.6 507.1l-1.1 -1.6M136.4 502.1l3.0 -1.9M168.8 553.6l1.8 -0.6M144.0 522.4l-0.1 -2.8M186.0 661.7l0.2 2.8M161.0 581.8l-2.1 0.1M175.2 611.7l-0.9 -3.1M158.5 669.0l2.7 0.1M105.1 533.4l-2.7 -1.5M156.3 533.3l0.2 -1.3M144.3 643.5l-1.9 0.6M194.9 518.2l2.9 -1.8M172.8 663.1l0.8 1.3M134.1 528.6l-2.4 1.2M175.0 667.0l-0.5 2.6M100.3 534.3l-1.6 0.0M105.1 506.6l-2.6 -1.6M172.4 541.4l0.9 1.3M189.1 516.9l-2.5 -2.0M140.9 511.2l-1.3 0.2M143.1 561.8l-0.0 3.2M168.9 563.7l-0.0 1.5M194.0 570.4l0.5 1.5M180.1 667.1l2.2 -0.1M181.3 565.8l3.3 0.7M191.3 569.6l0.2 1.5M200.9 570.4l2.4 0.7M177.2 623.8l1.8 -2.2M140.2 672.1l-0.6 1.4M179.0 675.4l2.2 0.1M141.8 549.8l-1.3 2.6M58.0 603.4l2.8 1.7M132.5 517.8l-2.8 0.5M177.2 509.2l-1.1 -2.4M132.8 519.5l-3.1 -0.6M182.3 673.3l-3.4 0.9M128.2 623.3l-2.2 0.7M160.8 558.6l0.3 -1.2M154.9 560.2l0.5 1.2M177.9 675.3l1.1 2.7M154.9 565.7l-1.4 3.1M177.4 587.9l2.5 0.7M127.0 536.6l0.7 -2.5M172.9 661.7l-1.0 2.8M162.8 557.4l1.6 -0.2M177.1 569.9l1.0 0.9M44.9 616.1l0.8 1.0M170.1 571.8l1.7 -0.1M172.5 569.8l2.6 1.4M113.5 513.7l0.3 -2.8M105.4 505.7l-1.2 0.1M137.6 620.1l-1.3 -2.3M170.6 579.3l0.5 2.9M138.3 543.1l-1.4 -0.8M133.9 642.0l-1.3 -0.5M201.4 573.7l0.8 3.4M177.4 504.5l-0.1 -2.4M169.4 508.1l-2.8 0.7M123.7 526.5l-2.4 -2.5M50.4 583.0l0.5 -2.1M201.4 536.0l1.1 2.3M181.0 591.4l0.2 3.4M182.6 657.3l2.7 0.9M199.0 510.0l1.8 -2.9M58.6 600.6l1.6 0.5M153.8 585.0l1.3 -0.6M100.0 519.7l-2.1 -1.3M181.3 565.8l-0.4 3.2M132.8 547.4l-1.3 -1.2M95.4 536.3l-2.7 -2.1M145.7 531.3l1.4 -1.0M137.6 675.4l-0.4 2.4M173.1 602.4l3.3 -0.9M190.3 669.9l-0.6 2.1M139.1 554.9l-3.0 0.3M191.4 668.8l-0.8 1.9M158.2 552.4l1.5 1.4M133.5 523.3l0.1 -3.0M179.1 674.0l1.3 1.6M131.3 666.4l-2.8 -0.5M153.9 658.1l0.2 3.5M125.4 511.6l-2.3 -1.7M173.2 677.9l2.8 -2.1M126.0 516.2l0.3 -3.1M164.7 618.1l-0.1 -1.9M170.8 556.6l-0.8 1.3M182.2 549.2l0.6 1.0M196.6 559.8l2.7 -1.8M157.0 641.2l-1.7 0.3M173.3 679.5l-1.1 1.3M161.2 664.4l1.9 -0.8M125.3 529.6l0.7 -2.3M179.0 602.6l2.1 -0.5M133.3 551.5l-3.2 -0.1M166.6 512.0l1.6 -1.5M153.2 545.4l-2.9 1.7M150.2 662.5l0.0 1.7M194.4 523.3l1.6 0.1M193.8 556.4l2.7 2.1M190.1 576.6l1.9 1.6M90.5 523.9l-1.4 0.6M195.6 506.3l-0.1 -1.4M169.8 551.1l-0.4 2.8M181.3 657.2l0.8 2.4M181.2 606.7l2.3 0.7M145.4 552.7l-2.8 2.0M177.2 576.0l2.0 -1.1M129.9 633.9l-1.3 -0.4M47.0 604.0l-1.9 1.6M165.7 564.9l0.0 1.3M179.0 617.5l-0.2 -1.8M176.8 533.5l-0.1 -2.4M51.5 574.7l0.3 -2.5M197.6 578.4l3.1 0.5M185.6 527.2l2.0 -2.7M141.9 515.3l-2.8 -2.2M197.9 589.9l-2.2 2.5M134.1 533.1l-1.4 -1.2M98.0 535.2l-1.4 0.9M131.5 523.2l-1.4 -2.2M174.9 593.6l0.7 1.2M158.4 506.9l-2.1 -1.0M172.3 516.0l2.4 -1.8M161.6 507.6l1.7 -2.0M161.0 494.1l-0.0 -1.6M128.2 651.8l-2.5 -1.4M136.5 509.9l0.4 -2.6M123.4 524.6l0.5 2.4M170.5 496.1l0.8 -1.9M138.6 503.7l3.4 -1.3M158.9 561.4l0.5 3.2M106.5 506.1l2.6 -2.4M163.1 530.5l-1.9 -2.4M184.1 618.0l1.7 -1.6M161.6 588.9l1.7 2.0M162.5 574.2l1.4 3.2M168.9 660.1l-0.3 1.9M127.9 671.1l-2.3 0.7M201.2 537.1l1.3 -2.4M163.9 531.8l0.9 -2.4M196.3 559.4l2.9 0.6M124.3 665.0l-0.4 1.6M149.9 537.9l-0.7 1.6M138.6 633.4l-1.1 -1.8M189.1 567.0l2.1 1.6M177.7 562.9l-0.8 3.0M198.0 592.3l0.1 1.4M175.2 512.1l2.1 -2.4M46.3 604.1l1.1 0.6M152.1 522.1l-0.6 -2.3M148.6 639.0l-3.2 -0.5M146.2 557.2l-1.5 0.5M205.0 584.8l2.9 1.5M151.6 636.0l-1.6 -0.0M110.2 528.9l-2.4 -2.4M169.7 559.0l-2.7 -0.1M157.4 613.6l-0.9 -1.6M120.1 528.2l-2.9 -1.8M153.7 658.4l0.3 1.3M134.2 514.9l-1.2 -1.1M170.6 499.8l-2.1 -2.0M171.6 524.3l0.9 -2.9M178.7 580.5l2.7 1.8M189.3 528.6l1.8 -2.1M135.8 524.7l-1.4 -2.5M176.6 592.4l1.9 0.8M88.5 527.2l-0.9 -1.0M195.7 571.5l2.4 0.1M174.8 572.4l3.1 -0.5M127.1 510.6l-3.0 -0.5M152.2 523.8l-0.3 -1.3M154.5 678.6l-1.8 1.2M143.2 655.6l-0.9 1.0M198.2 527.4l2.4 0.5M157.0 565.6l-0.3 1.6M152.8 614.7l1.1 -0.9M187.6 560.9l0.2 1.4M125.6 651.5l-2.4 0.2M155.5 649.4l-0.7 1.2M189.1 519.5l0.4 -2.9M56.6 592.9l1.2 -1.4M142.8 558.8l0.5 1.8M141.0 631.3l1.0 -2.8M108.3 511.4l-1.2 0.1M56.7 600.5l1.4 1.2M116.2 510.5l-2.4 -0.5M193.3 595.6l1.4 0.8M130.9 549.9l-1.3 0.9M153.9 558.5l-1.2 0.2M119.4 658.2l-2.9 -0.4M111.1 534.0l-1.6 -1.3M128.9 513.3l-1.2 -0.7M97.1 515.8l-2.9 -1.6M126.2 662.4l0.7 3.1M122.6 650.5l0.1 2.5M126.6 530.4l-3.1 0.1M157.8 532.6l-0.4 -1.6M163.0 664.0l0.3 1.5M188.2 585.3l0.5 2.5M186.3 505.6l-0.7 -1.8M166.3 568.6l0.9 2.9M163.0 521.9l1.2 -2.9M192.3 594.1l1.4 0.7M131.2 505.2l-0.7 -2.9M138.5 511.7l-3.0 -0.3M193.8 530.1l1.4 0.3M146.4 522.2l-1.2 -1.7M202.8 586.5l1.1 2.4M194.6 545.1l1.2 -2.1M52.4 607.9l-0.3 2.5M163.9 572.2l1.2 2.8M147.4 647.6l-2.5 -0.9M93.7 528.4l-0.7 -1.5M146.0 531.8l-2.9 -0.5M175.3 542.1l3.3 0.0M158.5 522.7l-0.8 -1.3M103.7 537.2l-2.3 0.3M151.9 618.3l1.8 -2.4M159.8 639.8l-3.1 0.2M170.0 543.7l-0.1 3.5M181.7 558.5l1.9 2.3M46.2 573.1l1.2 -2.1M196.1 586.6l1.9 1.5M171.1 638.6l2.3 -0.0M124.2 651.3l-2.8 -0.9M197.4 558.1l0.5 2.9M208.8 562.6l1.4 1.1M209.5 538.4l2.5 2.5M190.4 568.3l1.6 0.5M121.0 643.1l-1.1 1.2M127.6 551.6l-0.9 0.9M129.0 508.7l-2.2 -0.5" stroke="#e0e0e0" stroke-width="1.4" stroke-linecap="round" fill="none"/>
<path d="M192.9 509.6l1.6 -3.4M194.7 674.8l3.5 2.7M149.5 506.5l-2.1 1.7M51.2 605.9l-1.8 0.8M169.2 518.8l0.6 -1.4M191.4 623.3l0.1 -2.5M145.4 624.0l-1.9 -3.4M182.5 561.6l0.9 1.3M183.8 598.8l0.1 1.8M183.8 651.7l2.0 -2.2M190.5 545.8l1.9 -0.1M169.9 503.3l4.2 -0.5M209.8 542.3l2.5 -0.4M172.7 609.8l0.6 2.4M135.6 509.7l-2.2 -1.2M181.9 597.3l1.4 2.9M53.6 595.1l-1.6 -2.6M197.1 680.3l4.0 -0.0M201.3 663.5l-0.9 4.1M173.4 549.9l-2.9 2.9M131.1 627.8l-1.6 3.4M163.3 609.5l0.7 -1.5M185.5 548.0l2.3 0.3M166.6 511.4l1.7 -0.3M195.7 678.1l2.1 -0.8M170.5 614.5l-2.0 -3.4M184.5 585.1l0.7 2.0M144.0 605.9l0.1 -1.9M46.9 571.4l-0.5 -1.7M150.5 607.3l1.2 -3.8M44.7 592.0l-2.7 -2.4M171.7 628.5l-1.8 -1.4M142.6 642.5l-3.7 -0.5M152.5 512.7l3.6 -2.6M47.5 582.9l-3.8 -1.1M161.2 493.2l2.3 0.0M174.4 492.5l-4.2 -1.5M197.9 506.7l3.3 0.1M121.5 527.2l-2.8 -2.0M147.1 678.7l0.9 2.1M185.6 609.3l1.4 -4.2M132.8 545.3l-1.9 -0.9M165.2 569.4l2.5 3.6M138.5 618.7l-0.6 -2.1M196.2 508.6l2.5 -2.6M138.3 636.2l-3.9 -2.2M155.9 621.4l2.6 -1.1M184.7 591.2l1.3 3.5M43.5 612.0l-0.3 3.7M119.6 632.8l-2.7 -2.1M52.2 585.4l1.5 -1.6M167.8 527.1l2.5 -0.9M180.0 629.1l2.1 -1.3M195.0 588.7l-2.9 -0.7M198.4 663.8l1.5 0.6M164.3 639.8l1.5 -2.4M174.0 597.2l-0.6 3.9M44.6 590.8l-1.4 -1.1M149.7 670.9l2.7 0.9M126.0 527.9l-3.6 -0.0M153.5 653.5l1.0 3.0M164.5 591.3l-1.8 1.0M189.4 550.3l2.8 2.6M169.9 546.8l3.3 -1.9M187.2 591.9l0.9 3.0M172.0 564.2l-0.2 2.1M171.1 672.9l2.5 3.1M120.8 527.8l-2.2 -2.1M168.1 655.6l1.2 4.0M168.1 576.9l0.2 3.9M111.3 518.3l-2.0 0.4M158.0 523.6l1.1 -2.0M145.5 676.0l-1.5 2.8M174.7 555.3l-0.2 2.9M184.3 608.0l2.3 -0.8M161.0 509.6l1.5 -1.5M142.3 497.8l-0.2 -3.6M175.9 670.2l1.4 2.5M147.6 511.2l-0.5 -2.5M184.1 666.6l2.5 3.3M186.3 679.0l3.3 1.4M126.3 510.7l-1.5 -2.5M130.1 509.7l-4.1 -0.4M187.5 512.5l1.4 -1.4M118.2 517.9l-2.5 -1.1M100.2 519.2l-2.0 -0.7M100.7 528.3l-2.9 -0.7M118.6 508.1l-2.4 0.1M109.6 519.0l-2.1 -0.4M187.1 502.3l3.6 -0.5M155.9 532.9l4.1 -0.9M89.5 532.2l-3.4 -0.1M185.1 576.6l3.0 0.6M49.4 583.5l1.8 -2.8M175.7 661.1l2.7 2.0M160.2 638.6l1.0 -2.8M147.1 658.9l-3.3 -1.0M48.1 621.7l-3.1 1.6M94.9 522.5l-0.6 2.4M155.5 587.9l-2.2 3.5M176.9 542.8l2.2 -0.2M179.6 561.1l1.2 1.3M186.6 512.2l2.3 -2.3M188.5 660.2l1.7 -1.7M133.6 520.7l1.7 -2.1M142.8 665.9l-3.0 2.1M137.7 545.1l-2.6 -1.5M85.4 535.1l-2.4 -0.6M135.5 639.1l-2.3 -1.4M133.5 519.6l-1.6 -1.9M136.1 553.1l-2.0 -0.6M188.8 563.9l-0.1 2.2M108.2 504.2l-4.0 -0.9M183.8 666.0l2.8 -0.5M171.4 646.2l2.7 1.1M149.0 563.6l2.3 0.4M126.5 626.9l-1.2 -2.0M197.9 669.5l0.7 1.7M166.9 508.6l-1.6 -0.8M174.3 499.1l-1.3 -2.4M63.5 595.5l0.7 -3.6M164.5 552.2l0.8 2.3M190.4 587.6l2.1 -1.4M195.2 543.3l-0.3 2.3M166.5 554.6l2.0 1.6M127.0 669.8l-1.2 2.3M144.9 504.1l-1.9 -0.7M182.5 557.1l-0.5 3.0M155.9 589.7l1.0 1.3M197.4 528.2l2.0 -2.1M155.4 529.8l-1.4 -2.9M129.3 510.4l-3.1 0.3M196.3 570.7l1.5 2.4M134.0 665.5l-2.7 1.0M165.7 671.6l0.1 4.1M44.0 624.8l0.3 1.6M184.2 518.3l-0.2 -4.0M153.2 653.7l0.8 4.1M173.9 501.1l-2.8 -2.5M99.6 527.3l-3.2 -2.9M181.9 546.7l2.5 -2.3M166.8 583.7l3.6 -1.2M180.3 525.2l1.3 -3.0M164.7 530.2l3.2 -2.6M153.1 631.7l0.8 -1.9M140.8 611.4l-1.1 -2.0M196.7 571.9l2.3 -0.6M165.2 561.0l1.7 2.2M106.1 513.1l-1.8 -0.1M177.5 500.2l3.2 -3.0M143.3 514.7l-1.7 -3.8M146.1 607.3l-3.3 -0.4M185.1 622.7l-0.1 -2.4M165.3 630.7l0.8 -3.6M166.0 559.5l1.6 0.7M181.3 664.7l3.5 -0.9M190.9 597.1l1.9 3.1M106.1 510.9l0.7 -3.0M196.7 540.9l3.2 0.9M173.9 532.6l-1.7 -2.9M63.3 598.9l3.7 0.3M182.8 627.8l3.2 1.3M161.9 534.4l2.1 -3.2M188.1 557.5l2.4 -3.7M101.4 520.0l-1.2 0.9M168.2 563.3l4.1 -0.4M146.5 512.9l1.5 -0.4M198.3 540.8l1.2 -1.2M201.2 559.4l0.2 2.5M189.6 620.1l1.6 0.6M161.6 563.3l-2.0 3.7M200.2 584.0l0.5 1.7M182.2 585.7l3.7 -1.7M175.7 544.3l2.4 -2.5M54.6 601.3l0.5 4.1M149.8 527.6l2.9 -0.1M126.9 513.1l-4.0 0.1M138.8 499.1l-0.8 -4.3M162.1 675.5l-3.0 2.3M141.0 669.5l-2.3 3.2M144.3 676.4l-1.7 1.0M165.2 607.1l2.4 -3.6M198.1 541.4l-0.8 2.4M159.9 565.3l1.1 2.3M171.6 589.7l-1.4 3.6M142.4 604.6l-1.8 -3.8M159.5 637.3l-0.3 -2.3M196.1 539.6l1.9 -0.3M187.7 638.4l-1.6 -1.5M152.9 676.2l3.2 1.4M140.9 652.5l0.2 3.2M116.9 521.6l1.0 -3.8M122.7 529.3l-3.2 -2.9M156.7 606.2l1.7 -2.4M188.9 557.0l-0.5 3.7M130.1 536.9l-4.1 1.6M118.2 521.2l-2.3 1.7M180.1 515.7l1.0 1.1M173.5 558.6l-0.8 -3.5M197.1 663.3l3.4 0.2M171.9 660.6l1.4 3.5M114.1 510.5l-3.3 -3.1M186.8 513.5l-1.7 -4.1M194.0 552.2l1.2 2.0M166.0 506.9l-3.3 -1.8M188.6 681.9l3.8 2.0M57.3 613.0l2.4 2.1M172.3 515.4l0.4 -4.0M54.7 615.9l1.1 1.9M174.7 550.5l1.7 -1.0M118.7 531.0l-1.8 0.5M177.8 640.6l-2.2 -3.1M185.1 667.6l0.1 -2.0M202.5 666.8l-0.8 3.9M173.9 569.0l3.8 0.3M199.0 533.2l3.6 -2.6M200.0 538.8l2.0 -0.2M164.4 542.7l2.5 -2.0M159.7 569.0l1.5 2.2M203.2 556.2l2.6 2.8M151.3 624.1l-2.4 -0.6M202.1 569.8l1.1 3.4M137.7 640.9l-2.0 2.0M190.8 545.8l1.7 -1.0M187.2 521.7l1.9 -1.3M132.9 550.3l-2.6 0.8M161.1 602.6l1.0 -1.6M130.9 647.0l1.6 1.7M141.8 518.9l-0.2 -2.0M171.7 558.1l3.8 0.0M124.9 654.0l2.8 3.4M153.0 662.6l-1.5 -0.2M112.6 517.6l-0.7 -2.6M176.6 644.6l2.1 -2.8M48.5 589.3l-0.0 -4.0M152.7 561.2l-1.6 1.0M165.6 667.0l1.9 -0.4M160.4 531.4l3.4 0.2M109.6 537.8l-2.0 2.6M139.8 620.7l-2.2 3.2M160.1 569.0l-0.6 2.5M192.6 676.8l1.7 2.3M169.3 502.8l-2.6 0.0M183.7 535.7l4.2 -0.7M196.6 523.7l1.6 -1.4M170.4 674.7l0.5 -2.4M163.1 636.5l-3.3 -1.9M172.8 635.5l0.7 -2.1M168.2 520.0l1.8 -0.3M191.6 544.7l1.0 1.6M165.2 584.8l0.2 1.9M204.5 565.0l-0.3 3.8M176.4 611.5l0.4 -2.3M168.7 610.8l-1.5 -1.4M163.8 547.6l2.6 2.0M163.6 514.7l0.0 -2.8M161.2 546.2l3.7 1.3M49.9 617.3l1.7 3.6M50.3 574.4l-0.8 -3.9M173.8 664.0l2.7 3.2M125.2 537.0l-0.9 1.4M192.6 515.1l0.7 -3.1M143.2 529.3l-1.2 -3.7M175.1 523.8l0.7 -4.1M110.3 532.0l-2.6 1.3M162.8 591.9l-1.7 4.0M159.9 625.6l2.5 0.2M131.8 536.7l-4.4 0.3M137.9 542.0l-1.3 1.2M183.4 633.6l3.8 0.9M203.8 549.0l1.8 -1.1M182.3 551.6l0.8 1.3M142.3 521.8l-0.7 -1.5M209.1 538.8l2.3 -0.8M132.9 665.8l0.8 1.6M144.8 541.1l-2.8 -1.4M176.9 569.8l3.6 2.0M158.8 501.4l-2.6 -3.3M141.2 542.6l-2.6 0.7M146.9 613.9l-2.6 0.2M134.6 634.5l-3.3 0.2M130.9 632.7l-3.2 0.9M120.2 519.0l1.7 -2.0M121.8 656.6l-3.8 1.3M196.3 531.4l-0.8 -1.4M114.9 526.6l-1.8 3.9M126.8 521.4l-3.1 2.9M198.5 527.5l1.7 -3.4M164.0 515.6l1.2 -1.7M175.8 570.2l1.5 1.8M140.5 538.2l-3.6 -2.1M158.6 616.9l-1.0 -2.6M189.1 669.0l2.5 2.7M167.2 574.0l1.3 3.2M162.4 579.5l-1.2 2.7M151.7 547.0l-2.6 3.2M135.8 642.4l-0.5 3.4M155.1 664.8l2.6 3.4M127.8 540.8l-2.5 -1.2M157.0 668.1l-0.3 2.1M150.4 611.2l-1.8 -2.6M148.1 555.4l-1.1 3.6M165.3 626.7l0.4 -2.9M171.8 651.8l2.9 -0.6M135.3 516.3l-2.8 -2.2M156.3 520.2l-2.8 0.1M184.8 595.8l-3.7 2.3M152.0 554.4l3.7 2.1M194.4 664.6l3.2 2.0M173.4 514.6l-1.1 -1.7M162.0 515.6l3.1 1.3M200.0 560.2l-3.1 2.5M160.7 573.6l-1.3 2.4M180.6 582.7l-1.5 1.0M163.6 681.3l-0.6 1.8M124.3 516.4l-4.5 0.1M163.9 591.2l1.2 1.9M159.7 494.9l0.6 -2.7M146.5 661.9l4.0 2.1M177.8 573.8l2.6 0.3M177.7 504.4l-0.0 -3.0M182.3 512.9l3.1 1.6M45.7 610.3l-3.3 2.3M183.1 555.1l2.3 1.1M126.6 644.7l-3.4 0.8M148.8 633.7l-0.9 -4.1M199.9 577.7l4.4 -0.2M169.7 509.7l1.6 -2.7M164.4 502.1l3.0 -2.8M130.3 527.1l-0.3 -1.6M171.4 651.6l1.3 0.9M174.2 588.9l-1.7 3.2M136.5 527.0l-1.8 -0.8M189.7 594.7l3.3 2.5M157.0 527.3l-2.3 -0.2M165.8 493.5l2.2 -1.6M121.5 638.4l-3.6 0.8M112.5 508.6l-2.5 -0.8M186.5 494.8l1.8 0.3M153.7 613.9l2.2 -3.3M189.1 618.4l0.7 -1.8M153.2 509.7l-3.3 -2.1M182.4 646.0l2.7 1.3M154.0 546.7l-2.6 2.0M126.4 659.4l-1.4 2.3M197.8 580.3l2.7 -0.6M46.6 573.3l-0.5 -2.1M137.4 554.7l-2.7 0.5M120.8 663.8l-3.4 -0.8M149.3 643.6l-3.7 -1.2M145.8 504.6l-3.2 0.7M167.6 641.2l1.7 -0.2M157.4 646.8l1.4 4.0M173.1 630.3l1.8 -1.4M156.1 547.4l-1.9 0.7M191.4 676.6l1.1 3.2M101.3 513.8l-1.7 3.5M165.1 651.5l2.3 2.9M127.8 543.0l-2.0 1.2M150.2 548.8l2.2 3.2M138.6 633.6l1.8 -3.4M58.9 588.2l3.8 0.6M111.3 655.9l-4.1 -0.0M195.7 510.1l4.1 1.6M155.1 512.5l2.7 -2.2M125.7 623.0l-0.6 -1.9M140.3 548.0l-4.2 -0.1M208.5 551.3l2.0 0.9M119.0 530.4l-1.6 -0.5M163.9 563.0l1.6 0.2M198.1 568.5l-0.9 2.1M44.0 599.2l-3.3 2.5M121.7 510.8l0.5 -2.9M143.7 625.9l-1.8 -3.4M173.7 590.6l0.2 2.2" stroke="#808080" stroke-width="4.8" stroke-linecap="round" fill="none"/>
<path d="M192.9 509.6l1.6 -3.4M194.7 674.8l3.5 2.7M149.5 506.5l-2.1 1.7M51.2 605.9l-1.8 0.8M169.2 518.8l0.6 -1.4M191.4 623.3l0.1 -2.5M145.4 624.0l-1.9 -3.4M182.5 561.6l0.9 1.3M183.8 598.8l0.1 1.8M183.8 651.7l2.0 -2.2M190.5 545.8l1.9 -0.1M169.9 503.3l4.2 -0.5M209.8 542.3l2.5 -0.4M172.7 609.8l0.6 2.4M135.6 509.7l-2.2 -1.2M181.9 597.3l1.4 2.9M53.6 595.1l-1.6 -2.6M197.1 680.3l4.0 -0.0M201.3 663.5l-0.9 4.1M173.4 549.9l-2.9 2.9M131.1 627.8l-1.6 3.4M163.3 609.5l0.7 -1.5M185.5 548.0l2.3 0.3M166.6 511.4l1.7 -0.3M195.7 678.1l2.1 -0.8M170.5 614.5l-2.0 -3.4M184.5 585.1l0.7 2.0M144.0 605.9l0.1 -1.9M46.9 571.4l-0.5 -1.7M150.5 607.3l1.2 -3.8M44.7 592.0l-2.7 -2.4M171.7 628.5l-1.8 -1.4M142.6 642.5l-3.7 -0.5M152.5 512.7l3.6 -2.6M47.5 582.9l-3.8 -1.1M161.2 493.2l2.3 0.0M174.4 492.5l-4.2 -1.5M197.9 506.7l3.3 0.1M121.5 527.2l-2.8 -2.0M147.1 678.7l0.9 2.1M185.6 609.3l1.4 -4.2M132.8 545.3l-1.9 -0.9M165.2 569.4l2.5 3.6M138.5 618.7l-0.6 -2.1M196.2 508.6l2.5 -2.6M138.3 636.2l-3.9 -2.2M155.9 621.4l2.6 -1.1M184.7 591.2l1.3 3.5M43.5 612.0l-0.3 3.7M119.6 632.8l-2.7 -2.1M52.2 585.4l1.5 -1.6M167.8 527.1l2.5 -0.9M180.0 629.1l2.1 -1.3M195.0 588.7l-2.9 -0.7M198.4 663.8l1.5 0.6M164.3 639.8l1.5 -2.4M174.0 597.2l-0.6 3.9M44.6 590.8l-1.4 -1.1M149.7 670.9l2.7 0.9M126.0 527.9l-3.6 -0.0M153.5 653.5l1.0 3.0M164.5 591.3l-1.8 1.0M189.4 550.3l2.8 2.6M169.9 546.8l3.3 -1.9M187.2 591.9l0.9 3.0M172.0 564.2l-0.2 2.1M171.1 672.9l2.5 3.1M120.8 527.8l-2.2 -2.1M168.1 655.6l1.2 4.0M168.1 576.9l0.2 3.9M111.3 518.3l-2.0 0.4M158.0 523.6l1.1 -2.0M145.5 676.0l-1.5 2.8M174.7 555.3l-0.2 2.9M184.3 608.0l2.3 -0.8M161.0 509.6l1.5 -1.5M142.3 497.8l-0.2 -3.6M175.9 670.2l1.4 2.5M147.6 511.2l-0.5 -2.5M184.1 666.6l2.5 3.3M186.3 679.0l3.3 1.4M126.3 510.7l-1.5 -2.5M130.1 509.7l-4.1 -0.4M187.5 512.5l1.4 -1.4M118.2 517.9l-2.5 -1.1M100.2 519.2l-2.0 -0.7M100.7 528.3l-2.9 -0.7M118.6 508.1l-2.4 0.1M109.6 519.0l-2.1 -0.4M187.1 502.3l3.6 -0.5M155.9 532.9l4.1 -0.9M89.5 532.2l-3.4 -0.1M185.1 576.6l3.0 0.6M49.4 583.5l1.8 -2.8M175.7 661.1l2.7 2.0M160.2 638.6l1.0 -2.8M147.1 658.9l-3.3 -1.0M48.1 621.7l-3.1 1.6M94.9 522.5l-0.6 2.4M155.5 587.9l-2.2 3.5M176.9 542.8l2.2 -0.2M179.6 561.1l1.2 1.3M186.6 512.2l2.3 -2.3M188.5 660.2l1.7 -1.7M133.6 520.7l1.7 -2.1M142.8 665.9l-3.0 2.1M137.7 545.1l-2.6 -1.5M85.4 535.1l-2.4 -0.6M135.5 639.1l-2.3 -1.4M133.5 519.6l-1.6 -1.9M136.1 553.1l-2.0 -0.6M188.8 563.9l-0.1 2.2M108.2 504.2l-4.0 -0.9M183.8 666.0l2.8 -0.5M171.4 646.2l2.7 1.1M149.0 563.6l2.3 0.4M126.5 626.9l-1.2 -2.0M197.9 669.5l0.7 1.7M166.9 508.6l-1.6 -0.8M174.3 499.1l-1.3 -2.4M63.5 595.5l0.7 -3.6M164.5 552.2l0.8 2.3M190.4 587.6l2.1 -1.4M195.2 543.3l-0.3 2.3M166.5 554.6l2.0 1.6M127.0 669.8l-1.2 2.3M144.9 504.1l-1.9 -0.7M182.5 557.1l-0.5 3.0M155.9 589.7l1.0 1.3M197.4 528.2l2.0 -2.1M155.4 529.8l-1.4 -2.9M129.3 510.4l-3.1 0.3M196.3 570.7l1.5 2.4M134.0 665.5l-2.7 1.0M165.7 671.6l0.1 4.1M44.0 624.8l0.3 1.6M184.2 518.3l-0.2 -4.0M153.2 653.7l0.8 4.1M173.9 501.1l-2.8 -2.5M99.6 527.3l-3.2 -2.9M181.9 546.7l2.5 -2.3M166.8 583.7l3.6 -1.2M180.3 525.2l1.3 -3.0M164.7 530.2l3.2 -2.6M153.1 631.7l0.8 -1.9M140.8 611.4l-1.1 -2.0M196.7 571.9l2.3 -0.6M165.2 561.0l1.7 2.2M106.1 513.1l-1.8 -0.1M177.5 500.2l3.2 -3.0M143.3 514.7l-1.7 -3.8M146.1 607.3l-3.3 -0.4M185.1 622.7l-0.1 -2.4M165.3 630.7l0.8 -3.6M166.0 559.5l1.6 0.7M181.3 664.7l3.5 -0.9M190.9 597.1l1.9 3.1M106.1 510.9l0.7 -3.0M196.7 540.9l3.2 0.9M173.9 532.6l-1.7 -2.9M63.3 598.9l3.7 0.3M182.8 627.8l3.2 1.3M161.9 534.4l2.1 -3.2M188.1 557.5l2.4 -3.7M101.4 520.0l-1.2 0.9M168.2 563.3l4.1 -0.4M146.5 512.9l1.5 -0.4M198.3 540.8l1.2 -1.2M201.2 559.4l0.2 2.5M189.6 620.1l1.6 0.6M161.6 563.3l-2.0 3.7M200.2 584.0l0.5 1.7M182.2 585.7l3.7 -1.7M175.7 544.3l2.4 -2.5M54.6 601.3l0.5 4.1M149.8 527.6l2.9 -0.1M126.9 513.1l-4.0 0.1M138.8 499.1l-0.8 -4.3M162.1 675.5l-3.0 2.3M141.0 669.5l-2.3 3.2M144.3 676.4l-1.7 1.0M165.2 607.1l2.4 -3.6M198.1 541.4l-0.8 2.4M159.9 565.3l1.1 2.3M171.6 589.7l-1.4 3.6M142.4 604.6l-1.8 -3.8M159.5 637.3l-0.3 -2.3M196.1 539.6l1.9 -0.3M187.7 638.4l-1.6 -1.5M152.9 676.2l3.2 1.4M140.9 652.5l0.2 3.2M116.9 521.6l1.0 -3.8M122.7 529.3l-3.2 -2.9M156.7 606.2l1.7 -2.4M188.9 557.0l-0.5 3.7M130.1 536.9l-4.1 1.6M118.2 521.2l-2.3 1.7M180.1 515.7l1.0 1.1M173.5 558.6l-0.8 -3.5M197.1 663.3l3.4 0.2M171.9 660.6l1.4 3.5M114.1 510.5l-3.3 -3.1M186.8 513.5l-1.7 -4.1M194.0 552.2l1.2 2.0M166.0 506.9l-3.3 -1.8M188.6 681.9l3.8 2.0M57.3 613.0l2.4 2.1M172.3 515.4l0.4 -4.0M54.7 615.9l1.1 1.9M174.7 550.5l1.7 -1.0M118.7 531.0l-1.8 0.5M177.8 640.6l-2.2 -3.1M185.1 667.6l0.1 -2.0M202.5 666.8l-0.8 3.9M173.9 569.0l3.8 0.3M199.0 533.2l3.6 -2.6M200.0 538.8l2.0 -0.2M164.4 542.7l2.5 -2.0M159.7 569.0l1.5 2.2M203.2 556.2l2.6 2.8M151.3 624.1l-2.4 -0.6M202.1 569.8l1.1 3.4M137.7 640.9l-2.0 2.0M190.8 545.8l1.7 -1.0M187.2 521.7l1.9 -1.3M132.9 550.3l-2.6 0.8M161.1 602.6l1.0 -1.6M130.9 647.0l1.6 1.7M141.8 518.9l-0.2 -2.0M171.7 558.1l3.8 0.0M124.9 654.0l2.8 3.4M153.0 662.6l-1.5 -0.2M112.6 517.6l-0.7 -2.6M176.6 644.6l2.1 -2.8M48.5 589.3l-0.0 -4.0M152.7 561.2l-1.6 1.0M165.6 667.0l1.9 -0.4M160.4 531.4l3.4 0.2M109.6 537.8l-2.0 2.6M139.8 620.7l-2.2 3.2M160.1 569.0l-0.6 2.5M192.6 676.8l1.7 2.3M169.3 502.8l-2.6 0.0M183.7 535.7l4.2 -0.7M196.6 523.7l1.6 -1.4M170.4 674.7l0.5 -2.4M163.1 636.5l-3.3 -1.9M172.8 635.5l0.7 -2.1M168.2 520.0l1.8 -0.3M191.6 544.7l1.0 1.6M165.2 584.8l0.2 1.9M204.5 565.0l-0.3 3.8M176.4 611.5l0.4 -2.3M168.7 610.8l-1.5 -1.4M163.8 547.6l2.6 2.0M163.6 514.7l0.0 -2.8M161.2 546.2l3.7 1.3M49.9 617.3l1.7 3.6M50.3 574.4l-0.8 -3.9M173.8 664.0l2.7 3.2M125.2 537.0l-0.9 1.4M192.6 515.1l0.7 -3.1M143.2 529.3l-1.2 -3.7M175.1 523.8l0.7 -4.1M110.3 532.0l-2.6 1.3M162.8 591.9l-1.7 4.0M159.9 625.6l2.5 0.2M131.8 536.7l-4.4 0.3M137.9 542.0l-1.3 1.2M183.4 633.6l3.8 0.9M203.8 549.0l1.8 -1.1M182.3 551.6l0.8 1.3M142.3 521.8l-0.7 -1.5M209.1 538.8l2.3 -0.8M132.9 665.8l0.8 1.6M144.8 541.1l-2.8 -1.4M176.9 569.8l3.6 2.0M158.8 501.4l-2.6 -3.3M141.2 542.6l-2.6 0.7M146.9 613.9l-2.6 0.2M134.6 634.5l-3.3 0.2M130.9 632.7l-3.2 0.9M120.2 519.0l1.7 -2.0M121.8 656.6l-3.8 1.3M196.3 531.4l-0.8 -1.4M114.9 526.6l-1.8 3.9M126.8 521.4l-3.1 2.9M198.5 527.5l1.7 -3.4M164.0 515.6l1.2 -1.7M175.8 570.2l1.5 1.8M140.5 538.2l-3.6 -2.1M158.6 616.9l-1.0 -2.6M189.1 669.0l2.5 2.7M167.2 574.0l1.3 3.2M162.4 579.5l-1.2 2.7M151.7 547.0l-2.6 3.2M135.8 642.4l-0.5 3.4M155.1 664.8l2.6 3.4M127.8 540.8l-2.5 -1.2M157.0 668.1l-0.3 2.1M150.4 611.2l-1.8 -2.6M148.1 555.4l-1.1 3.6M165.3 626.7l0.4 -2.9M171.8 651.8l2.9 -0.6M135.3 516.3l-2.8 -2.2M156.3 520.2l-2.8 0.1M184.8 595.8l-3.7 2.3M152.0 554.4l3.7 2.1M194.4 664.6l3.2 2.0M173.4 514.6l-1.1 -1.7M162.0 515.6l3.1 1.3M200.0 560.2l-3.1 2.5M160.7 573.6l-1.3 2.4M180.6 582.7l-1.5 1.0M163.6 681.3l-0.6 1.8M124.3 516.4l-4.5 0.1M163.9 591.2l1.2 1.9M159.7 494.9l0.6 -2.7M146.5 661.9l4.0 2.1M177.8 573.8l2.6 0.3M177.7 504.4l-0.0 -3.0M182.3 512.9l3.1 1.6M45.7 610.3l-3.3 2.3M183.1 555.1l2.3 1.1M126.6 644.7l-3.4 0.8M148.8 633.7l-0.9 -4.1M199.9 577.7l4.4 -0.2M169.7 509.7l1.6 -2.7M164.4 502.1l3.0 -2.8M130.3 527.1l-0.3 -1.6M171.4 651.6l1.3 0.9M174.2 588.9l-1.7 3.2M136.5 527.0l-1.8 -0.8M189.7 594.7l3.3 2.5M157.0 527.3l-2.3 -0.2M165.8 493.5l2.2 -1.6M121.5 638.4l-3.6 0.8M112.5 508.6l-2.5 -0.8M186.5 494.8l1.8 0.3M153.7 613.9l2.2 -3.3M189.1 618.4l0.7 -1.8M153.2 509.7l-3.3 -2.1M182.4 646.0l2.7 1.3M154.0 546.7l-2.6 2.0M126.4 659.4l-1.4 2.3M197.8 580.3l2.7 -0.6M46.6 573.3l-0.5 -2.1M137.4 554.7l-2.7 0.5M120.8 663.8l-3.4 -0.8M149.3 643.6l-3.7 -1.2M145.8 504.6l-3.2 0.7M167.6 641.2l1.7 -0.2M157.4 646.8l1.4 4.0M173.1 630.3l1.8 -1.4M156.1 547.4l-1.9 0.7M191.4 676.6l1.1 3.2M101.3 513.8l-1.7 3.5M165.1 651.5l2.3 2.9M127.8 543.0l-2.0 1.2M150.2 548.8l2.2 3.2M138.6 633.6l1.8 -3.4M58.9 588.2l3.8 0.6M111.3 655.9l-4.1 -0.0M195.7 510.1l4.1 1.6M155.1 512.5l2.7 -2.2M125.7 623.0l-0.6 -1.9M140.3 548.0l-4.2 -0.1M208.5 551.3l2.0 0.9M119.0 530.4l-1.6 -0.5M163.9 563.0l1.6 0.2M198.1 568.5l-0.9 2.1M44.0 599.2l-3.3 2.5M121.7 510.8l0.5 -2.9M143.7 625.9l-1.8 -3.4M173.7 590.6l0.2 2.2" stroke="#d2d2d2" stroke-width="3.4" stroke-linecap="round" fill="none"/>
<path d="M192.4 509.1l1.3 -2.7M194.2 674.3l2.8 2.2M149.0 506.0l-1.7 1.4M50.7 605.4l-1.5 0.6M168.7 518.3l0.5 -1.1M190.9 622.8l0.1 -2.0M144.9 623.5l-1.5 -2.8M182.0 561.1l0.7 1.0M183.3 598.3l0.1 1.5M183.3 651.2l1.6 -1.8M190.0 545.3l1.5 -0.1M169.4 502.8l3.3 -0.4M209.3 541.8l2.0 -0.3M172.2 609.3l0.5 1.9M135.1 509.2l-1.7 -1.0M181.4 596.8l1.1 2.3M53.1 594.6l-1.3 -2.1M196.6 679.8l3.2 -0.0M200.8 663.0l-0.7 3.3M172.9 549.4l-2.3 2.4M130.6 627.3l-1.3 2.7M162.8 609.0l0.6 -1.2M185.0 547.5l1.8 0.3M166.1 510.9l1.4 -0.2M195.2 677.6l1.7 -0.7M170.0 614.0l-1.6 -2.7M184.0 584.6l0.6 1.6M143.5 605.4l0.1 -1.5M46.4 570.9l-0.4 -1.3M150.0 606.8l1.0 -3.0M44.2 591.5l-2.2 -2.0M171.2 628.0l-1.4 -1.1M142.1 642.0l-2.9 -0.4M152.0 512.2l2.9 -2.1M47.0 582.4l-3.0 -0.9M160.7 492.7l1.8 0.0M173.9 492.0l-3.3 -1.2M197.4 506.2l2.6 0.1M121.0 526.7l-2.3 -1.6M146.6 678.2l0.7 1.7M185.1 608.8l1.1 -3.4M132.3 544.8l-1.5 -0.7M164.7 568.9l2.0 2.9M138.0 618.2l-0.5 -1.7M195.7 508.1l2.0 -2.1M137.8 635.7l-3.1 -1.7M155.4 620.9l2.1 -0.9M184.2 590.7l1.0 2.8M43.0 611.5l-0.2 2.9M119.1 632.3l-2.1 -1.6M51.7 584.9l1.2 -1.3M167.3 526.6l2.0 -0.7M179.5 628.6l1.7 -1.1M194.5 588.2l-2.3 -0.5M197.9 663.3l1.2 0.5M163.8 639.3l1.2 -2.0M173.5 596.7l-0.5 3.1M44.1 590.3l-1.2 -0.9M149.2 670.4l2.1 0.7M125.5 527.4l-2.9 -0.0M153.0 653.0l0.8 2.4M164.0 590.8l-1.4 0.8M188.9 549.8l2.2 2.1M169.4 546.3l2.7 -1.5M186.7 591.4l0.7 2.4M171.5 563.7l-0.2 1.7M170.6 672.4l2.0 2.5M120.3 527.3l-1.8 -1.7M167.6 655.1l1.0 3.2M167.6 576.4l0.2 3.1M110.8 517.8l-1.6 0.3M157.5 523.1l0.9 -1.6M145.0 675.5l-1.2 2.2M174.2 554.8l-0.1 2.3M183.8 607.5l1.8 -0.7M160.5 509.1l1.2 -1.2M141.8 497.3l-0.2 -2.9M175.4 669.7l1.1 2.0M147.1 510.7l-0.4 -2.0M183.6 666.1l2.0 2.6M185.8 678.5l2.7 1.1M125.8 510.2l-1.2 -2.0M129.6 509.2l-3.2 -0.3M187.0 512.0l1.1 -1.1M117.7 517.4l-2.0 -0.9M99.7 518.7l-1.6 -0.6M100.2 527.8l-2.3 -0.5M118.1 507.6l-1.9 0.1M109.1 518.5l-1.7 -0.3M186.6 501.8l2.9 -0.4M155.4 532.4l3.3 -0.7M89.0 531.7l-2.7 -0.1M184.6 576.1l2.4 0.5M48.9 583.0l1.4 -2.2M175.2 660.6l2.2 1.6M159.7 638.1l0.8 -2.2M146.6 658.4l-2.7 -0.8M47.6 621.2l-2.5 1.3M94.4 522.0l-0.5 1.9M155.0 587.4l-1.8 2.8M176.4 542.3l1.7 -0.2M179.1 560.6l1.0 1.1M186.1 511.7l1.8 -1.8M188.0 659.7l1.4 -1.4M133.1 520.2l1.4 -1.7M142.3 665.4l-2.4 1.7M137.2 544.6l-2.1 -1.2M84.9 534.6l-2.0 -0.5M135.0 638.6l-1.8 -1.1M133.0 519.1l-1.3 -1.5M135.6 552.6l-1.6 -0.5M188.3 563.4l-0.1 1.8M107.7 503.7l-3.2 -0.8M183.3 665.5l2.3 -0.4M170.9 645.7l2.1 0.8M148.5 563.1l1.8 0.3M126.0 626.4l-0.9 -1.6M197.4 669.0l0.6 1.4M166.4 508.1l-1.3 -0.6M173.8 498.6l-1.1 -1.9M63.0 595.0l0.6 -2.9M164.0 551.7l0.6 1.8M189.9 587.1l1.7 -1.1M194.7 542.8l-0.2 1.8M166.0 554.1l1.6 1.2M126.5 669.3l-0.9 1.8M144.4 503.6l-1.5 -0.6M182.0 556.6l-0.4 2.4M155.4 589.2l0.8 1.1M196.9 527.7l1.6 -1.7M154.9 529.3l-1.1 -2.3M128.8 509.9l-2.5 0.3M195.8 570.2l1.2 1.9M133.5 665.0l-2.2 0.8M165.2 671.1l0.1 3.3M43.5 624.3l0.3 1.3M183.7 517.8l-0.2 -3.2M152.7 653.2l0.6 3.3M173.4 500.6l-2.2 -2.0M99.1 526.8l-2.6 -2.3M181.4 546.2l2.0 -1.9M166.3 583.2l2.9 -1.0M179.8 524.7l1.0 -2.4M164.2 529.7l2.6 -2.1M152.6 631.2l0.7 -1.5M140.3 610.9l-0.8 -1.6M196.2 571.4l1.9 -0.4M164.7 560.5l1.3 1.8M105.6 512.6l-1.4 -0.0M177.0 499.7l2.5 -2.4M142.8 514.2l-1.3 -3.1M145.6 606.8l-2.6 -0.3M184.6 622.2l-0.1 -1.9M164.8 630.2l0.7 -2.9M165.5 559.0l1.2 0.6M180.8 664.2l2.8 -0.7M190.4 596.6l1.5 2.5M105.6 510.4l0.6 -2.4M196.2 540.4l2.6 0.7M173.4 532.1l-1.4 -2.3M62.8 598.4l3.0 0.3M182.3 627.3l2.5 1.0M161.4 533.9l1.7 -2.6M187.6 557.0l1.9 -3.0M100.9 519.5l-1.0 0.8M167.7 562.8l3.3 -0.3M146.0 512.4l1.2 -0.3M197.8 540.3l0.9 -0.9M200.7 558.9l0.1 2.0M189.1 619.6l1.3 0.5M161.1 562.8l-1.6 3.0M199.7 583.5l0.4 1.4M181.7 585.2l3.0 -1.4M175.2 543.8l1.9 -2.0M54.1 600.8l0.4 3.3M149.3 527.1l2.3 -0.1M126.4 512.6l-3.2 0.1M138.3 498.6l-0.6 -3.4M161.6 675.0l-2.4 1.9M140.5 669.0l-1.9 2.6M143.8 675.9l-1.3 0.8M164.7 606.6l1.9 -2.9M197.6 540.9l-0.7 1.9M159.4 564.8l0.9 1.8M171.1 589.2l-1.1 2.9M141.9 604.1l-1.4 -3.1M159.0 636.8l-0.3 -1.8M195.6 539.1l1.5 -0.2M187.2 637.9l-1.3 -1.2M152.4 675.7l2.5 1.1M140.4 652.0l0.2 2.5M116.4 521.1l0.8 -3.1M122.2 528.8l-2.5 -2.3M156.2 605.7l1.3 -2.0M188.4 556.5l-0.4 3.0M129.6 536.4l-3.3 1.3M117.7 520.7l-1.8 1.3M179.6 515.2l0.8 0.9M173.0 558.1l-0.6 -2.8M196.6 662.8l2.7 0.2M171.4 660.1l1.2 2.8M113.6 510.0l-2.6 -2.5M186.3 513.0l-1.3 -3.3M193.5 551.7l0.9 1.6M165.5 506.4l-2.6 -1.4M188.1 681.4l3.1 1.6M56.8 612.5l1.9 1.7M171.8 514.9l0.3 -3.2M54.2 615.4l0.9 1.6M174.2 550.0l1.4 -0.8M118.2 530.5l-1.4 0.4M177.3 640.1l-1.7 -2.5M184.6 667.1l0.1 -1.6M202.0 666.3l-0.6 3.1M173.4 568.5l3.0 0.2M198.5 532.7l2.9 -2.0M199.5 538.3l1.6 -0.2M163.9 542.2l2.0 -1.6M159.2 568.5l1.2 1.8M202.7 555.7l2.0 2.3M150.8 623.6l-1.9 -0.5M201.6 569.3l0.9 2.8M137.2 640.4l-1.6 1.6M190.3 545.3l1.3 -0.8M186.7 521.2l1.5 -1.0M132.4 549.8l-2.1 0.6M160.6 602.1l0.8 -1.3M130.4 646.5l1.3 1.4M141.3 518.4l-0.2 -1.6M171.2 557.6l3.1 0.0M124.4 653.5l2.3 2.7M152.5 662.1l-1.2 -0.2M112.1 517.1l-0.6 -2.1M176.1 644.1l1.6 -2.2M48.0 588.8l-0.0 -3.2M152.2 560.7l-1.3 0.8M165.1 666.5l1.5 -0.3M159.9 530.9l2.7 0.1M109.1 537.3l-1.6 2.1M139.3 620.2l-1.8 2.6M159.6 568.5l-0.5 2.0M192.1 676.3l1.3 1.9M168.8 502.3l-2.1 0.0M183.2 535.2l3.4 -0.5M196.1 523.2l1.3 -1.1M169.9 674.2l0.4 -1.9M162.6 636.0l-2.6 -1.5M172.3 635.0l0.5 -1.7M167.7 519.5l1.4 -0.3M191.1 544.2l0.8 1.2M164.7 584.3l0.1 1.5M204.0 564.5l-0.2 3.1M175.9 611.0l0.3 -1.8M168.2 610.3l-1.2 -1.1M163.3 547.1l2.1 1.6M163.1 514.2l0.0 -2.2M160.7 545.7l3.0 1.0M49.4 616.8l1.3 2.9M49.8 573.9l-0.6 -3.1M173.3 663.5l2.1 2.6M124.7 536.5l-0.7 1.1M192.1 514.6l0.5 -2.5M142.7 528.8l-1.0 -3.0M174.6 523.3l0.6 -3.3M109.8 531.5l-2.0 1.0M162.3 591.4l-1.4 3.2M159.4 625.1l2.0 0.2M131.3 536.2l-3.5 0.2M137.4 541.5l-1.1 0.9M182.9 633.1l3.0 0.7M203.3 548.5l1.4 -0.8M181.8 551.1l0.6 1.1M141.8 521.3l-0.6 -1.2M208.6 538.3l1.9 -0.6M132.4 665.3l0.6 1.3M144.3 540.6l-2.2 -1.2M176.4 569.3l2.8 1.6M158.3 500.9l-2.1 -2.7M140.7 542.1l-2.1 0.5M146.4 613.4l-2.1 0.2M134.1 634.0l-2.6 0.1M130.4 632.2l-2.6 0.7M119.7 518.5l1.4 -1.6M121.3 656.1l-3.0 1.0M195.8 530.9l-0.6 -1.1M114.4 526.1l-1.4 3.1M126.3 520.9l-2.5 2.4M198.0 527.0l1.3 -2.7M163.5 515.1l1.0 -1.4M175.3 569.7l1.2 1.4M140.0 537.7l-2.9 -1.7M158.1 616.4l-0.8 -2.1M188.6 668.5l2.0 2.2M166.7 573.5l1.1 2.5M161.9 579.0l-0.9 2.1M151.2 546.5l-2.1 2.5M135.3 641.9l-0.4 2.7M154.6 664.3l2.1 2.7M127.3 540.3l-2.0 -1.0M156.5 667.6l-0.2 1.6M149.9 610.7l-1.5 -2.0M147.6 554.9l-0.9 2.8M164.8 626.2l0.4 -2.3M171.3 651.3l2.4 -0.5M134.8 515.8l-2.3 -1.8M155.8 519.7l-2.3 0.1M184.3 595.3l-3.0 1.9M151.5 553.9l3.0 1.7M193.9 664.1l2.5 1.6M172.9 514.1l-0.9 -1.3M161.5 515.1l2.5 1.0M199.5 559.7l-2.5 2.0M160.2 573.1l-1.1 1.9M180.1 582.2l-1.2 0.8M163.1 680.8l-0.5 1.4M123.8 515.9l-3.6 0.1M163.4 590.7l0.9 1.5M159.2 494.4l0.5 -2.2M146.0 661.4l3.2 1.7M177.3 573.3l2.1 0.3M177.2 503.9l-0.0 -2.4M181.8 512.4l2.5 1.3M45.2 609.8l-2.7 1.9M182.6 554.6l1.8 0.9M126.1 644.2l-2.7 0.7M148.3 633.2l-0.7 -3.3M199.4 577.2l3.6 -0.2M169.2 509.2l1.3 -2.1M163.9 501.6l2.4 -2.3M129.8 526.6l-0.3 -1.2M170.9 651.1l1.0 0.7M173.7 588.4l-1.4 2.6M136.0 526.5l-1.4 -0.6M189.2 594.2l2.7 2.0M156.5 526.8l-1.8 -0.2M165.3 493.0l1.8 -1.2M121.0 637.9l-2.9 0.7M112.0 508.1l-2.0 -0.6M186.0 494.3l1.4 0.2M153.2 613.4l1.7 -2.7M188.6 617.9l0.5 -1.5M152.7 509.2l-2.7 -1.7M181.9 645.5l2.2 1.1M153.5 546.2l-2.1 1.6M125.9 658.9l-1.1 1.8M197.3 579.8l2.2 -0.5M46.1 572.8l-0.4 -1.7M136.9 554.2l-2.1 0.4M120.3 663.3l-2.7 -0.6M148.8 643.1l-3.0 -1.0M145.3 504.1l-2.6 0.6M167.1 640.7l1.4 -0.2M156.9 646.3l1.1 3.2M172.6 629.8l1.5 -1.1M155.6 546.9l-1.6 0.5M190.9 676.1l0.9 2.6M100.8 513.3l-1.4 2.8M164.6 651.0l1.8 2.3M127.3 542.5l-1.6 0.9M149.7 548.3l1.7 2.5M138.1 633.1l1.4 -2.7M58.4 587.7l3.1 0.5M110.8 655.4l-3.3 -0.0M195.2 509.6l3.2 1.3M154.6 512.0l2.1 -1.7M125.2 622.5l-0.5 -1.5M139.8 547.5l-3.4 -0.1M208.0 550.8l1.6 0.7M118.5 529.9l-1.3 -0.4M163.4 562.5l1.3 0.2M197.6 568.0l-0.7 1.7M43.5 598.7l-2.7 2.0M121.2 510.3l0.4 -2.3M143.2 625.4l-1.4 -2.7M173.2 590.1l0.2 1.8" stroke="#e0e0e0" stroke-width="1.4" stroke-linecap="round" fill="none"/>
<circle cx="73.3" cy="612.7" r="3.2" fill="#c8c8c8" stroke="#999" stroke-width="0.8"/>
<circle cx="260.6" cy="509.9" r="2.2" fill="#d0d0d0"/>
</g></g>
<rect x="213.1" y="651" width="65.4" height="9.6" fill="#000"/>
<text x="228.6" y="677.6" font-size="18" font-weight="bold" fill="#000" text-anchor="start" stroke="#000" stroke-width="0.25" textLength="41.3" lengthAdjust="spacingAndGlyphs" >2 μm</text>
<defs><clipPath id="cpf"><rect x="315.1" y="485.6" width="257.9" height="197.9"/></clipPath><filter id="bl3" x="-20%" y="-20%" width="140%" height="140%"><feGaussianBlur stdDeviation="5"/></filter><filter id="bl1b" x="-20%" y="-20%" width="140%" height="140%"><feGaussianBlur stdDeviation="1.2"/></filter><linearGradient id="gdark" gradientUnits="userSpaceOnUse" x1="0" y1="525" x2="0" y2="685"><stop offset="0" stop-color="#4c4c4c"/><stop offset="0.3" stop-color="#444"/><stop offset="0.55" stop-color="#353535"/><stop offset="1" stop-color="#282828"/></linearGradient><linearGradient id="gtop" gradientUnits="userSpaceOnUse" x1="330" y1="490" x2="560" y2="570"><stop offset="0" stop-color="#a4a4a4"/><stop offset="1" stop-color="#b3b3b3"/></linearGradient><pattern id="fr" width="3.1" height="3.1" patternUnits="userSpaceOnUse" patternTransform="rotate(42)"><rect width="1.4" height="3.1" fill="rgba(255,255,255,0.14)"/></pattern><radialGradient id="spot"><stop offset="0" stop-color="#fff"/><stop offset="0.45" stop-color="#ddd" stop-opacity="0.8"/><stop offset="1" stop-color="#888" stop-opacity="0"/></radialGradient></defs>
<g clip-path="url(#cpf)">
<filter id="grainf" x="0" y="0" width="100%" height="100%" color-interpolation-filters="sRGB"><feTurbulence type="fractalNoise" baseFrequency="0.45" numOctaves="2" seed="3" result="n"/><feColorMatrix in="n" type="matrix" values="1 0 0 0 0  1 0 0 0 0  1 0 0 0 0  0 0 0 0 1" result="g"/><feComposite in="SourceGraphic" in2="g" operator="arithmetic" k1="0" k2="1" k3="0.28" k4="-0.14"/></filter>
<rect x="315.1" y="485.6" width="257.9" height="197.9" fill="url(#gtop)" filter="url(#grainf)"/>
<clipPath id="cpc"><path d="M310,537.5 L315.1,536.5 L335.7,532 L358.4,528.4 L381,526.1 L403.7,524.7 L426.4,525.2 L449.1,528.4 L471.8,535.2 L494.5,546.5 L517.2,557.9 L539.9,571.5 L558,579.2 L572.2,582.8 L580,584 L580,690 L310,690Z"/></clipPath>
<path d="M310,537.5 L315.1,536.5 L335.7,532 L358.4,528.4 L381,526.1 L403.7,524.7 L426.4,525.2 L449.1,528.4 L471.8,535.2 L494.5,546.5 L517.2,557.9 L539.9,571.5 L558,579.2 L572.2,582.8 L580,584 L580,690 L310,690Z" fill="url(#gdark)"/>
<g clip-path="url(#cpc)">
<path d="M310,549.5 L315.1,548.5 L335.7,544 L358.4,540.4 L381,538.1 L403.7,536.7 L426.4,537.2 L449.1,540.4 L471.8,547.2 L494.5,558.5 L517.2,569.9 L539.9,583.5 L558,591.2 L572.2,594.8 L580,596" stroke="#646464" stroke-width="32" fill="none" stroke-linejoin="round" filter="url(#bl3)"/>
<path d="M310,540.5 L315.1,539.5 L335.7,535 L358.4,531.4 L381,529.1 L403.7,527.7 L426.4,528.2 L449.1,531.4 L471.8,538.2 L494.5,549.5 L517.2,560.9 L539.9,574.5 L558,582.2 L572.2,585.8 L580,587" stroke="#7c7c7c" stroke-width="9" fill="none" stroke-linejoin="round" filter="url(#bl1b)"/>
<path d="M310,537.5 L315.1,536.5 L335.7,532 L358.4,528.4 L381,526.1 L403.7,524.7 L426.4,525.2 L449.1,528.4 L471.8,535.2 L494.5,546.5 L517.2,557.9 L539.9,571.5 L558,579.2 L572.2,582.8 L580,584 L580,690 L310,690Z" fill="url(#fr)"/>
</g>
<path d="M310,538 L315.1,537 L335.7,532.5 L358.4,528.9 L381,526.6 L403.7,525.2 L426.4,525.7 L449.1,528.9 L471.8,535.7 L494.5,547 L517.2,558.4 L539.9,572 L558,579.7 L572.2,583.3 L580,584.5" stroke="#bdbdbd" stroke-width="4" fill="none" stroke-linejoin="round" filter="url(#bl1b)"/>
<rect x="468.8" y="583" width="103" height="101" fill="#0b0b0b"/>
<circle cx="479.3" cy="605.9" r="2.6" fill="url(#spot)" opacity="0.35"/>
<circle cx="490.8" cy="592" r="2.6" fill="url(#spot)" opacity="0.36"/>
<circle cx="477.4" cy="628.4" r="2.6" fill="url(#spot)" opacity="0.49"/>
<circle cx="488.9" cy="614.5" r="2.6" fill="url(#spot)" opacity="0.36"/>
<circle cx="500.4" cy="600.6" r="2.6" fill="url(#spot)" opacity="0.42"/>
<circle cx="511.9" cy="586.7" r="2.6" fill="url(#spot)" opacity="0.35"/>
<circle cx="475.5" cy="650.9" r="2.6" fill="url(#spot)" opacity="0.37"/>
<circle cx="487" cy="637" r="2.6" fill="url(#spot)" opacity="0.73"/>
<circle cx="498.5" cy="623.1" r="2.6" fill="url(#spot)" opacity="0.53"/>
<circle cx="510" cy="609.2" r="2.6" fill="url(#spot)" opacity="0.49"/>
<circle cx="521.5" cy="595.3" r="2.6" fill="url(#spot)" opacity="0.48"/>
<circle cx="473.6" cy="673.4" r="2.6" fill="url(#spot)" opacity="0.35"/>
<circle cx="485.1" cy="659.5" r="2.6" fill="url(#spot)" opacity="0.52"/>
<circle cx="496.6" cy="645.6" r="2.6" fill="url(#spot)" opacity="0.52"/>
<circle cx="508.1" cy="631.7" r="2.6" fill="url(#spot)" opacity="0.80"/>
<circle cx="519.6" cy="617.8" r="2.6" fill="url(#spot)" opacity="0.64"/>
<circle cx="531.1" cy="603.9" r="2.6" fill="url(#spot)" opacity="0.39"/>
<circle cx="542.6" cy="590" r="2.6" fill="url(#spot)" opacity="0.35"/>
<circle cx="483.2" cy="682" r="2.6" fill="url(#spot)" opacity="0.35"/>
<circle cx="494.7" cy="668.1" r="2.6" fill="url(#spot)" opacity="0.62"/>
<circle cx="506.2" cy="654.2" r="2.6" fill="url(#spot)" opacity="0.96"/>
<circle cx="517.7" cy="640.3" r="4.2" fill="url(#spot)" opacity="1.00"/>
<circle cx="529.2" cy="626.4" r="2.6" fill="url(#spot)" opacity="0.75"/>
<circle cx="540.7" cy="612.5" r="2.6" fill="url(#spot)" opacity="0.69"/>
<circle cx="552.2" cy="598.6" r="2.6" fill="url(#spot)" opacity="0.35"/>
<circle cx="504.3" cy="676.7" r="2.6" fill="url(#spot)" opacity="0.35"/>
<circle cx="515.8" cy="662.8" r="2.6" fill="url(#spot)" opacity="0.69"/>
<circle cx="527.3" cy="648.9" r="2.6" fill="url(#spot)" opacity="0.95"/>
<circle cx="538.8" cy="635" r="2.6" fill="url(#spot)" opacity="0.86"/>
<circle cx="550.3" cy="621.1" r="2.6" fill="url(#spot)" opacity="0.40"/>
<circle cx="561.8" cy="607.2" r="2.6" fill="url(#spot)" opacity="0.55"/>
<circle cx="525.4" cy="671.4" r="2.6" fill="url(#spot)" opacity="0.48"/>
<circle cx="536.9" cy="657.5" r="2.6" fill="url(#spot)" opacity="0.56"/>
<circle cx="548.4" cy="643.6" r="2.6" fill="url(#spot)" opacity="0.52"/>
<circle cx="559.9" cy="629.7" r="2.6" fill="url(#spot)" opacity="0.60"/>
<circle cx="571.4" cy="615.8" r="2.6" fill="url(#spot)" opacity="0.35"/>
<circle cx="535" cy="680" r="2.6" fill="url(#spot)" opacity="0.54"/>
<circle cx="546.5" cy="666.1" r="2.6" fill="url(#spot)" opacity="0.35"/>
<circle cx="558" cy="652.2" r="2.6" fill="url(#spot)" opacity="0.44"/>
<circle cx="569.5" cy="638.3" r="2.6" fill="url(#spot)" opacity="0.35"/>
<circle cx="556.1" cy="674.7" r="2.6" fill="url(#spot)" opacity="0.42"/>
<circle cx="567.6" cy="660.8" r="2.6" fill="url(#spot)" opacity="0.35"/>
<circle cx="527.3" cy="648.9" r="3.5" fill="none" stroke="#ffff00" stroke-width="1.3"/>
<circle cx="529.2" cy="626.4" r="3.5" fill="none" stroke="#ffff00" stroke-width="1.3"/>
<circle cx="538.8" cy="635" r="3.5" fill="none" stroke="#ffff00" stroke-width="1.3"/>
<text x="522.4" y="620.6" font-size="11" font-weight="bold" fill="#ffff00" text-anchor="start" stroke="#ffff00" stroke-width="0.25" textLength="15.4" lengthAdjust="spacingAndGlyphs" >011</text>
<line x1="528.3" y1="611" x2="532.1" y2="611" stroke="#ffff00" stroke-width="1.1" />
<text x="543.6" y="648.1" font-size="11" font-weight="bold" fill="#ffff00" text-anchor="start" stroke="#ffff00" stroke-width="0.25" textLength="14.4" lengthAdjust="spacingAndGlyphs" >111</text>
<line x1="549.4" y1="638.2" x2="553.2" y2="638.2" stroke="#ffff00" stroke-width="1.1" />
<text x="524.4" y="662.4" font-size="11" font-weight="bold" fill="#ffff00" text-anchor="start" stroke="#ffff00" stroke-width="0.25" textLength="15" lengthAdjust="spacingAndGlyphs" >100</text>
<text x="507.2" y="681.1" font-size="11.5" font-weight="bold" fill="#ffff00" textLength="64.3" lengthAdjust="spacingAndGlyphs">BaTiO<tspan font-size="8" dy="2.5">3</tspan><tspan dy="-2.5"> [011]</tspan></text>
<text x="319.2" y="569.6" font-size="15" font-weight="bold" fill="#ffff00" stroke="#ffff00" stroke-width="0.3" textLength="82.2" lengthAdjust="spacingAndGlyphs">BaTiO<tspan font-size="10" dy="4">3</tspan><tspan dy="-4">(011)</tspan></text>
<line x1="383.8" y1="556.6" x2="387.6" y2="556.6" stroke="#ffff00" stroke-width="1.4" />
<text x="440.4" y="573.4" font-size="15" font-weight="bold" fill="#ffff00" stroke="#ffff00" stroke-width="0.3" textLength="82" lengthAdjust="spacingAndGlyphs">BaTiO<tspan font-size="10" dy="4">3</tspan><tspan dy="-4">(100)</tspan></text>
<text x="381.8" y="642" font-size="15" font-weight="bold" fill="#ffff00" stroke="#ffff00" stroke-width="0.3" textLength="81.5" lengthAdjust="spacingAndGlyphs">BaTiO<tspan font-size="10" dy="4">3</tspan><tspan dy="-4">(111)</tspan></text>
<line x1="436.7" y1="627" x2="441.5" y2="627" stroke="#ffff00" stroke-width="1.4" />
<line x1="451.2" y1="627" x2="456.3" y2="627" stroke="#ffff00" stroke-width="1.4" />
<line x1="400.38" y1="573.58" x2="420.58" y2="592.58" stroke="#ffff00" stroke-width="1.5" />
<line x1="402.22" y1="571.62" x2="422.42" y2="590.62" stroke="#ffff00" stroke-width="1.5" />
<line x1="436.2" y1="573.49" x2="420.5" y2="590.69" stroke="#ffff00" stroke-width="1.5" />
<line x1="438.2" y1="575.31" x2="422.5" y2="592.51" stroke="#ffff00" stroke-width="1.5" />
<line x1="421.16" y1="590.7" x2="425.96" y2="623.4" stroke="#ffff00" stroke-width="1.5" />
<line x1="423.84" y1="590.3" x2="428.64" y2="623" stroke="#ffff00" stroke-width="1.5" />
<line x1="415.21" y1="599.81" x2="427.11" y2="593.81" stroke="#ffff00" stroke-width="1.5" />
<line x1="413.99" y1="597.39" x2="425.89" y2="591.39" stroke="#ffff00" stroke-width="1.5" />
<line x1="418.26" y1="580.82" x2="419.46" y2="594.12" stroke="#ffff00" stroke-width="1.5" />
<line x1="420.94" y1="580.58" x2="422.14" y2="593.88" stroke="#ffff00" stroke-width="1.5" />
<circle cx="421.8" cy="591.5" r="2.6" fill="#ffff00" opacity="0.85"/>
<line x1="413.5" y1="564.5" x2="411.26" y2="566.98" stroke="#ffff00" stroke-width="1.7" />
<path d="M406.9,571.8 L409.56,564.09 L414.3,568.38 Z" fill="#ffff00"/>
<line x1="427.5" y1="564.5" x2="430.35" y2="568.24" stroke="#ffff00" stroke-width="1.7" />
<path d="M434.3,573.4 L427.2,569.38 L432.29,565.5 Z" fill="#ffff00"/>
<line x1="392" y1="584.2" x2="396.58" y2="581.18" stroke="#ffff00" stroke-width="1.7" />
<path d="M402,577.6 L397.5,584.4 L393.98,579.06 Z" fill="#ffff00"/>
<line x1="447.6" y1="591.5" x2="443.19" y2="585.61" stroke="#ffff00" stroke-width="1.7" />
<path d="M439.3,580.4 L446.35,584.49 L441.23,588.32 Z" fill="#ffff00"/>
<line x1="445.3" y1="613.4" x2="436.35" y2="616.48" stroke="#ffff00" stroke-width="1.7" />
<path d="M430.2,618.6 L436.25,613.13 L438.33,619.18 Z" fill="#ffff00"/>
<line x1="408.3" y1="624.2" x2="417.28" y2="622.03" stroke="#ffff00" stroke-width="1.7" />
<path d="M423.6,620.5 L417.06,625.37 L415.56,619.15 Z" fill="#ffff00"/>
<rect x="320" y="651.5" width="52" height="7" fill="#fff"/>
<text x="324.2" y="678.9" font-size="19" font-weight="bold" fill="#fff" text-anchor="start" stroke="#fff" stroke-width="0.25" textLength="43.4" lengthAdjust="spacingAndGlyphs" >5 nm</text>
</g>
</svg></body></html>
